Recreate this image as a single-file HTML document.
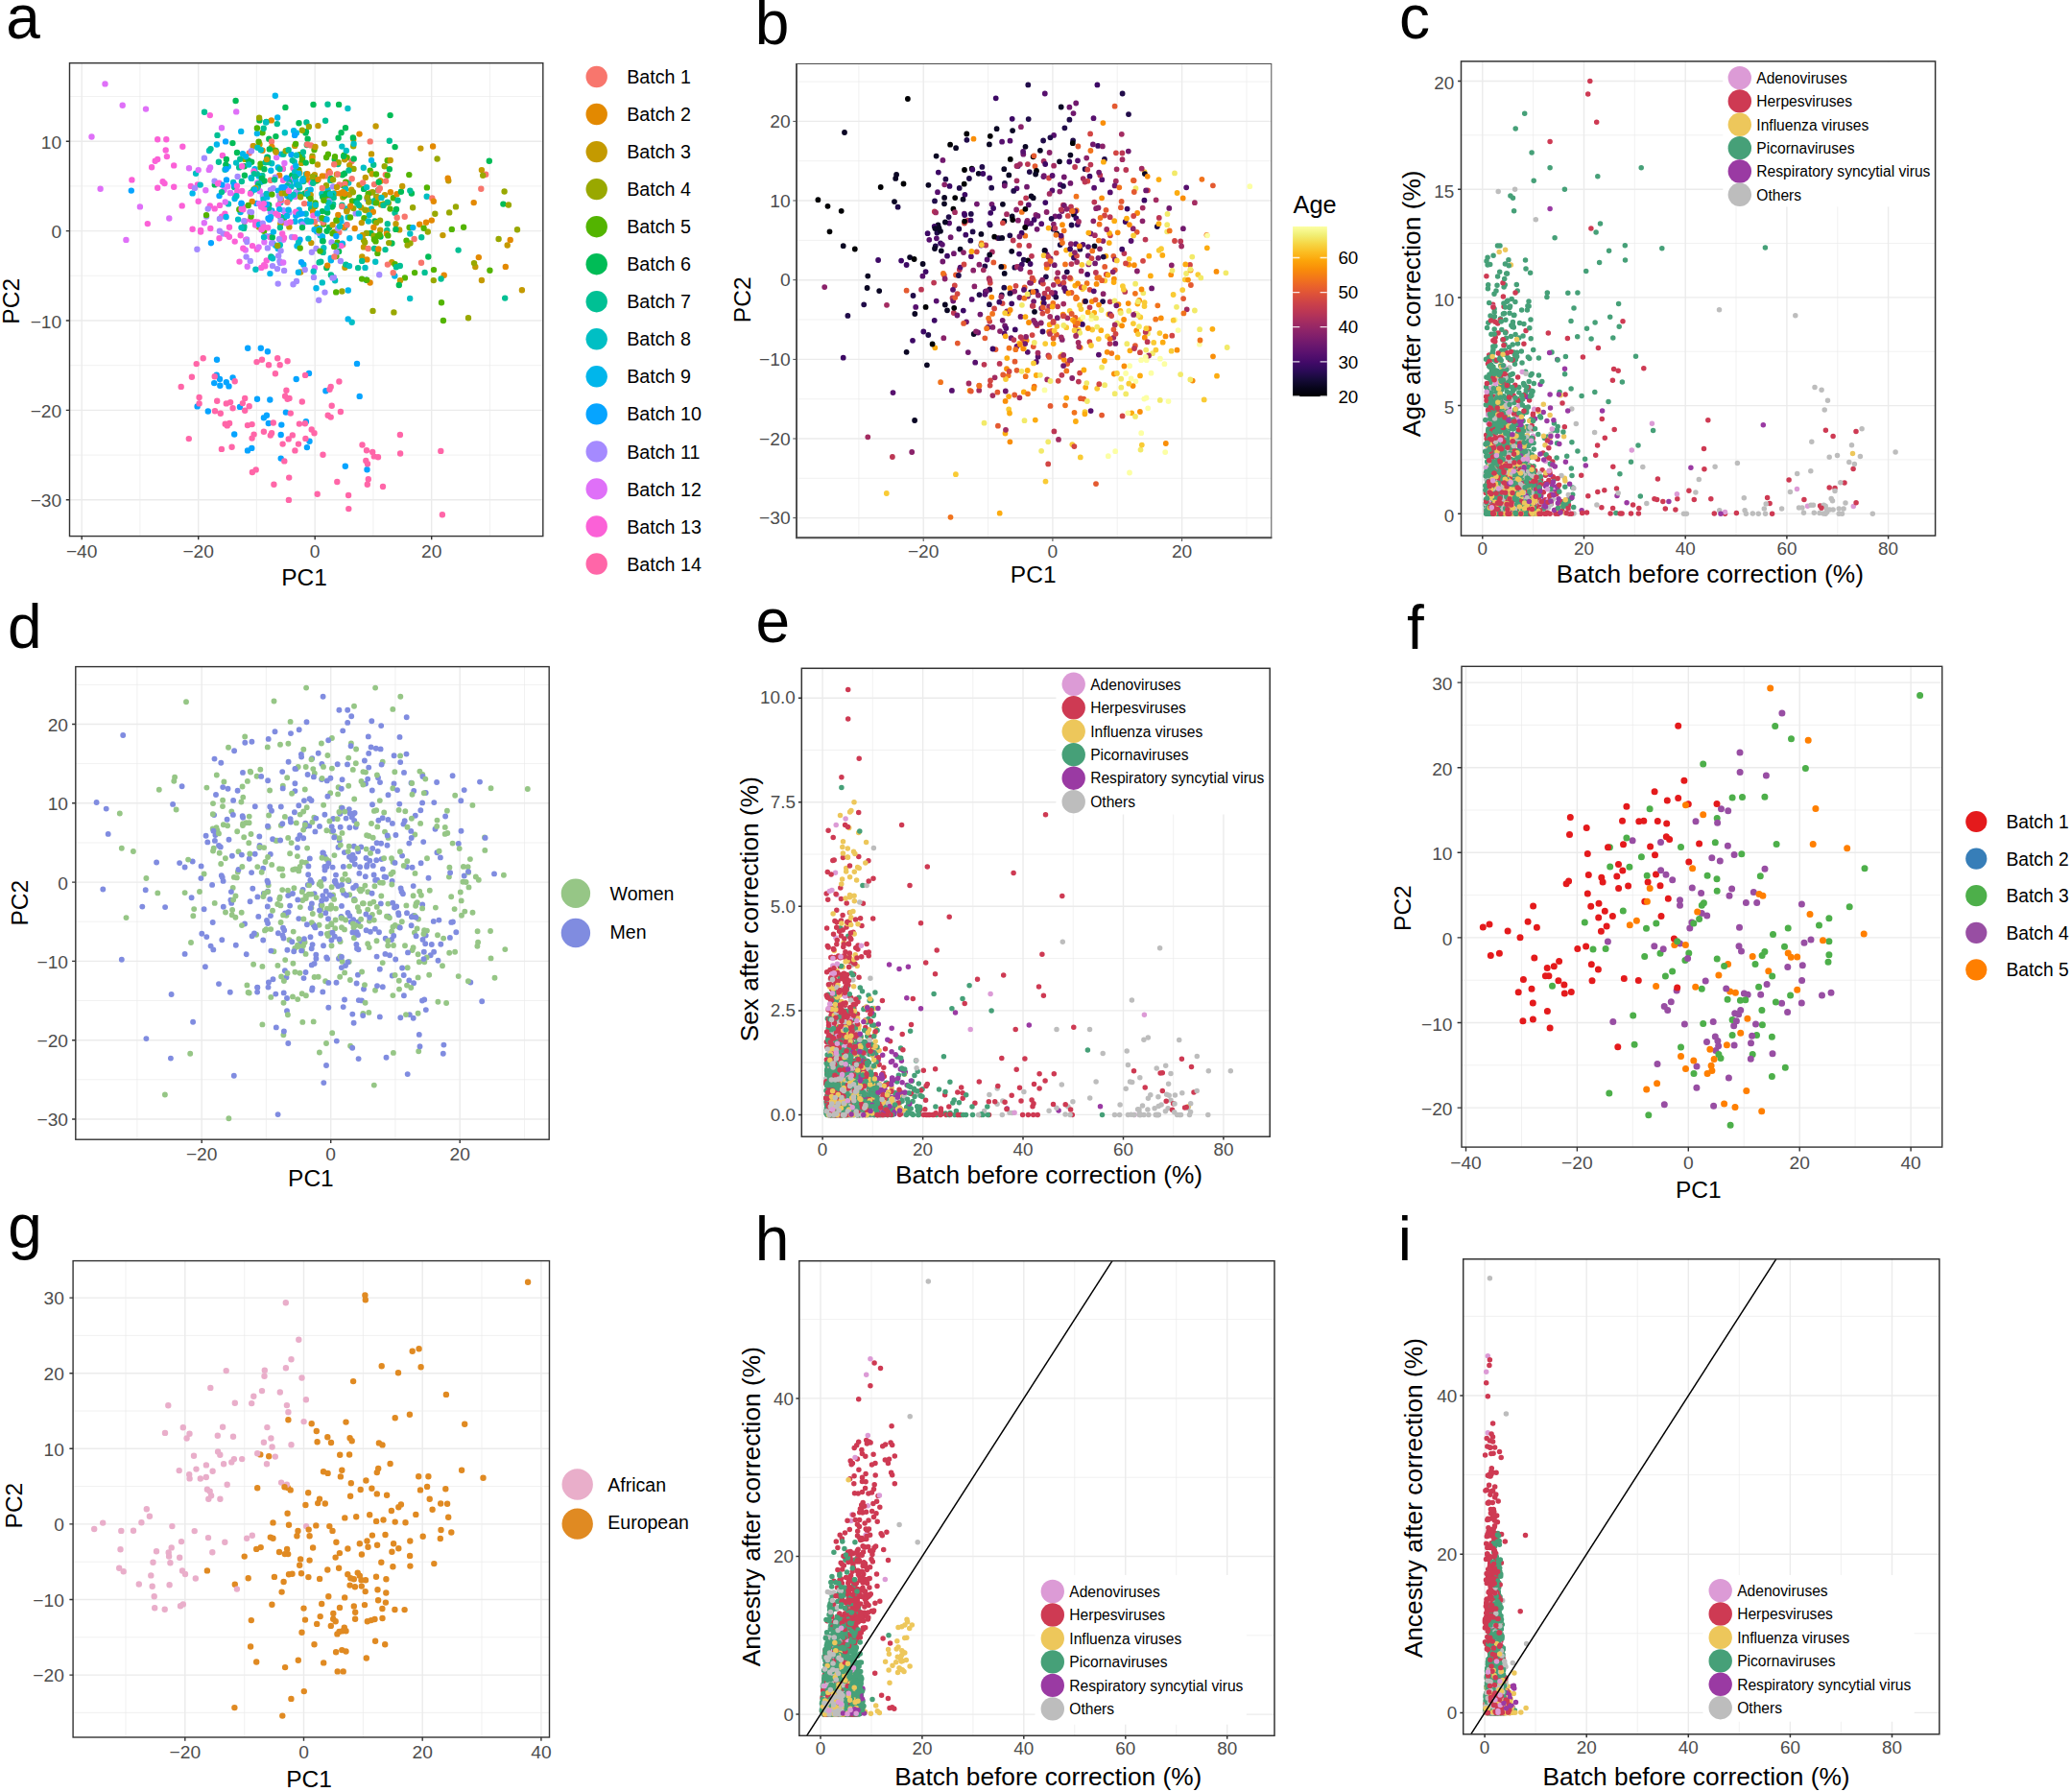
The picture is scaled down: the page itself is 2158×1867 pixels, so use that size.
<!DOCTYPE html>
<html lang="en"><head><meta charset="utf-8"><title>Figure</title>
<style>html,body{margin:0;padding:0;background:#fff}svg{display:block;font-family:'Liberation Sans', sans-serif}</style></head><body>
<svg width="2158" height="1867" viewBox="0 0 2158 1867">
<rect width="2158" height="1867" fill="#fff"/>
<text x="6.3" y="40.4" font-size="64" fill="#000">a</text>
<path d="M145.9 65.7V558.6M267.4 65.7V558.6M388.9 65.7V558.6M510.4 65.7V558.6M72.5 100.5H565.8M72.5 193.9H565.8M72.5 287.3H565.8M72.5 380.7H565.8M72.5 474.1H565.8" stroke="#ebebeb" stroke-width="0.7" fill="none"/>
<path d="M85.2 65.7V558.6M206.7 65.7V558.6M328.2 65.7V558.6M449.7 65.7V558.6M72.5 147.2H565.8M72.5 240.6H565.8M72.5 334H565.8M72.5 427.4H565.8M72.5 520.8H565.8" stroke="#ebebeb" stroke-width="1.4" fill="none"/>

<g fill="none" stroke-linecap="round" stroke-width="6.4">
<path stroke="#06A4FF" d="M303.5 184.6h0M267.3 211.9h0M299.3 204h0M293.1 160.6h0M261.6 185.1h0M303.5 161h0M235.1 147.4h0M219.9 253.2h0M308.3 224.7h0"/>
<path stroke="#00BFC4" d="M444.7 204.8h0M362.6 226.4h0M302.4 191.5h0M349.1 292.2h0M296.8 138.3h0M386.9 217.8h0M335.8 294.4h0M306.8 168.6h0M319 181.5h0M308.4 200.5h0M283.2 170.3h0M294.8 175.9h0M335.4 201.9h0M363.2 190.6h0M390 210.8h0M380.5 278.9h0M243.1 189.9h0M292.3 211h0"/>
<path stroke="#00B6EB" d="M311.7 218.8h0M364.3 248.2h0M289.8 174.4h0M381.8 291.8h0M278.3 163.6h0M286.8 99.7h0M344.9 271.2h0M322.6 212.3h0M283.3 219.4h0M355.4 230.2h0M341.6 197.8h0M313.9 230.7h0M250.6 221.1h0M330.2 241.2h0"/>
<path stroke="#C49A00" d="M350.9 181.6h0M380.8 184.9h0M501.9 177.1h0M327.2 222.8h0M301.4 236.4h0M377.3 267.5h0M382.1 219.3h0M314 169.9h0M376.3 216.2h0M364 202.8h0M324.3 253.1h0"/>
<path stroke="#A58AFF" d="M309.2 200.3h0M273.9 204.3h0M215.1 225.5h0M329.5 258.9h0M296.1 281.9h0M295.4 219.2h0M347.8 289h0M275.7 213.3h0M284.7 196.1h0M370.7 222.4h0M291.4 272.1h0"/>
<path stroke="#99A800" d="M356.4 303.5h0M445.8 241.5h0M519.6 249h0M357.3 205.6h0M255.2 165.9h0M338 149.5h0M475 215.4h0M404.8 211.5h0M539 239.3h0"/>
<path stroke="#00BC56" d="M386.4 243h0M353.1 262h0M356.9 182.2h0M262.2 168.7h0M254.7 173.2h0M223.8 192.4h0M318.5 138.6h0M379.1 196.9h0M296.7 198.9h0M357.3 193h0M270.4 125.4h0M333.9 228.2h0M396.6 188.6h0M390.5 230.5h0M280.3 144.8h0M319 137.2h0M360 133.2h0M319.8 151h0M264.4 197.5h0"/>
<path stroke="#FB61D7" d="M209.1 240h0M269.3 235.9h0M279.6 215h0M305.5 175.3h0M223.7 217.4h0M290.2 213.5h0M267.8 259.7h0M250.7 245.3h0M296.2 194.9h0M277.7 271.4h0M294.7 175.8h0M281.9 228h0M206.7 209.8h0M231.9 161.9h0M219.3 238h0M189.7 214.4h0"/>
<path stroke="#F8766D" d="M353.6 192.4h0M366.7 186.2h0M450.3 206.4h0M431.6 249h0M283 147.5h0M317.1 212.1h0M328 230.9h0"/>
<path stroke="#E38900" d="M320.9 187.2h0M449.8 229.6h0M437.2 233.7h0M444 231.8h0M382.4 270.4h0M342.7 178.4h0M406.9 200.2h0M396.3 188.5h0M526.8 277.9h0M283.3 153h0"/>
<path stroke="#DF70F8" d="M275.4 214.6h0M297.1 223.9h0M212.8 232.2h0M219.1 174.5h0M327.9 278.9h0M255.8 260.5h0M176.3 227.5h0M295.2 249.8h0M214.3 198.2h0"/>
<path stroke="#53B400" d="M426.3 182.1h0M393.4 263.9h0M367 209.5h0M351.5 252.7h0M275.1 240.8h0M441.6 237.7h0M460 315.3h0M461.9 334h0M360.2 189.6h0M360.5 276.8h0M409.8 206.2h0M271.5 170.6h0M271.4 174.2h0M452 281.1h0"/>
<path stroke="#00C094" d="M279.7 169h0M287.6 157.3h0M273.4 182.9h0M341.5 108.7h0M389.2 171.7h0M439.2 247.2h0M312.1 195.6h0M295.4 160.7h0M250.2 165.8h0M405.8 146.7h0M249.2 174.4h0M403.8 233.3h0M347.1 212.8h0M272.2 189.6h0"/>
<path stroke="#00BC56" d="M280.2 213.4h0M343.1 237h0M371.1 209.4h0M258.9 167.2h0M341.2 221.6h0M304.3 182.7h0M335.9 220.1h0M348.7 166h0M254.9 182.8h0M317.4 201.6h0"/>
<path stroke="#DF70F8" d="M246.2 116.4h0M217.8 176.9h0M268.3 190.4h0M305.7 186.5h0M131.4 249.9h0M277.7 215.3h0M307.6 204.9h0M95.5 142.5h0M109.5 87.4h0"/>
<path stroke="#F8766D" d="M386.2 200.7h0M359.4 191.8h0M259.7 159.5h0M357.2 255h0M339.1 183.4h0M353.3 242.1h0M506.2 181.8h0M263.6 152.3h0M401.8 182.1h0M439 273.8h0"/>
<path stroke="#00B6EB" d="M340.8 207.6h0M359.2 237.3h0M356.8 253.6h0M251.7 212.4h0M289.2 122.5h0M298.2 199.2h0M200.6 201.4h0M289.7 259h0"/>
<path stroke="#00C094" d="M477.6 260.6h0M324.1 217.4h0M213 116.7h0M411.5 221.7h0M251.9 189h0M373.1 279.1h0M312.9 202.8h0M346.8 214.3h0M261.8 200.4h0M244.2 195h0M319.4 127.5h0M403.3 239.9h0M315.3 163.9h0M301.5 189.5h0M442.6 283.9h0M301.6 207.4h0M316.3 189.1h0M254.4 235.9h0M401.5 260.1h0M296 227.3h0M390.1 258.9h0M352.1 171h0"/>
<path stroke="#99A800" d="M270.1 122.8h0M368.5 175.9h0M348.3 241.8h0M368.2 152.2h0M392.5 205.4h0M269.9 236.6h0M389.5 245.8h0M383 206.3h0M297.7 157.2h0M430.1 216.2h0M455.6 165.5h0M380.4 218.8h0M314.9 135.8h0M392.1 232.1h0M313.1 205.2h0M359.7 196.1h0M525.6 199.5h0M392.4 208.8h0M321.9 131.9h0"/>
<path stroke="#E38900" d="M282.8 125.4h0M498.8 268.1h0M413.5 202.3h0M326.1 220.4h0M493.7 211.1h0M462.7 286.7h0M374.5 139.6h0"/>
<path stroke="#FB61D7" d="M266.1 234.5h0M245 203.8h0M171.5 191.1h0M229 213.9h0M268.7 231.5h0M173.9 163.1h0M272.3 278.9h0M239 236.8h0M278.4 214.7h0M244.7 251.6h0M253.3 258.7h0M218.8 120.1h0M252.2 173.3h0M164.2 195.8h0M231 225.7h0M198.8 193.9h0M296 247.7h0M153.8 233.1h0M266 231.1h0M355.4 256.1h0M181.2 194.8h0M295 187.8h0"/>
<path stroke="#00BFC4" d="M360.1 197.1h0M333.8 245.3h0M337.3 258.2h0M356.3 152.6h0M238 212.4h0M320.8 198.3h0M366.7 335.7h0M318.7 222.7h0M343.1 210.8h0M259.3 171.5h0"/>
<path stroke="#A58AFF" d="M228.9 227.9h0M332.8 227.5h0M247.6 184h0M277.9 246.1h0M304.1 247h0M228.9 240.7h0M223.6 188.8h0M257.1 249.5h0M289.7 295.6h0M292.6 261.2h0M347.1 194.4h0M315.3 233.6h0M260.4 221h0M284 277.1h0M284.4 253.3h0"/>
<path stroke="#53B400" d="M350.4 267.1h0M341.1 204.4h0M377.1 290.6h0M311.4 176.9h0M406.5 217.6h0M361.6 164.2h0M342 209.9h0M385.7 177.6h0M421.9 289.4h0M426.6 237h0M359 204.1h0M342.7 201.4h0M349 163.3h0"/>
<path stroke="#C49A00" d="M359.1 166.3h0M528.7 255.5h0M417 292.3h0M416.2 239.4h0M379 257.4h0M401 203.1h0M368.3 144.9h0M359.4 278.7h0M348.6 201.8h0M397 213.2h0"/>
<path stroke="#06A4FF" d="M244.1 192.4h0M361 234.5h0M309 192h0M272.8 188.7h0M280.6 228.8h0M282.3 246.2h0"/>
<path stroke="#C49A00" d="M264.1 152.3h0M312.2 180.1h0M366.2 197.6h0M313.2 283.5h0M330.2 236.9h0M408.3 273.3h0M351 194.9h0M331.4 131.1h0M412.5 233.2h0M270.5 150.3h0M387.7 181.2h0M346.6 234.3h0M327.9 182.1h0M374.4 192.6h0"/>
<path stroke="#00B6EB" d="M282.8 268.2h0M270.1 233.9h0M411.3 287.5h0M332.9 238.1h0M291.2 218.1h0M244.6 207h0M303.5 204.7h0M273 212.6h0M265.5 176.3h0M430.3 237.1h0M225.9 150.5h0M319.8 229.4h0M309.5 256.2h0M269.7 183.4h0"/>
<path stroke="#E38900" d="M349.5 201.4h0M451.1 152.5h0M385.6 294.5h0M394.3 259.4h0M358.3 236.7h0M388.8 220.8h0M402.9 243.5h0M291.2 182.6h0M451.8 209.7h0M262.7 209.9h0"/>
<path stroke="#A58AFF" d="M273.8 232.8h0M212.9 164.8h0M382.5 207.4h0M262 157.3h0M354.9 272h0M281.9 221.3h0M332.5 242.8h0M338.5 304.6h0M301.5 221.2h0M300.7 192.6h0M232.5 243.5h0M291 249h0M289 280.1h0M281.9 197.9h0M350.6 262.7h0"/>
<path stroke="#99A800" d="M392.3 204.9h0M367.9 200.3h0M350.9 230h0M340 193.3h0M325.5 162.8h0M400 212.5h0M379 250.3h0M322.5 198.7h0M427.5 253.4h0M381.9 242.9h0M361.7 218.6h0M388.3 200.3h0M400.7 173.3h0M451.8 292.1h0"/>
<path stroke="#00C094" d="M390.1 209.2h0M336.7 262.9h0M288.8 129.1h0M280 216.8h0M291.5 176.1h0M282.4 267.4h0M292.3 225.9h0M399.5 213.9h0M356.4 213.7h0M299.5 193.5h0M227.9 168.7h0M459.6 290.5h0M344.9 286.5h0M254.1 237.9h0M269.2 191.5h0M334.3 272.7h0"/>
<path stroke="#FB61D7" d="M287.4 222.6h0M281.6 247.3h0M137.4 187.4h0M190.3 152.8h0M255.1 230.5h0M228.3 190.7h0M308.2 220.7h0M240 201.1h0M169.6 189.2h0M261 228.8h0M293.2 208.9h0M209.1 241.5h0M228.5 248.2h0M275 236.5h0"/>
<path stroke="#53B400" d="M328.6 211.4h0M312.7 258.5h0M333.5 261.6h0M411.6 275.2h0M327.5 156h0M329.6 188.6h0M392 181.5h0M389.9 249.5h0M483.1 236.8h0M249.3 218.3h0M286.7 156.6h0M340.1 164h0M403.7 182.8h0M346.5 243.3h0M382.2 291.7h0M312 161.1h0M294.5 231.2h0M273.5 138.3h0M314.9 166.4h0"/>
<path stroke="#F8766D" d="M320.1 200.6h0M390 192.1h0M501.3 196.7h0M402.1 188.6h0M383.7 259h0M385.7 147.4h0M405.5 167.2h0M421.7 225.7h0M361.6 234.3h0M366.5 168h0"/>
<path stroke="#00BC56" d="M309.2 182.4h0M394.7 189.7h0M352.6 143.7h0M412.4 238.9h0M331.1 187.6h0M340.3 279h0M406.6 120.1h0M272.7 185.6h0M396.5 246.6h0M326.5 109h0M247 159h0M428.9 201.5h0M321.9 204.4h0M405.8 176.3h0M344.9 185.9h0M275.4 176.3h0M245.6 105h0"/>
<path stroke="#00BFC4" d="M391.2 272.8h0M368.6 149.8h0M268.4 153.7h0M274.5 207.6h0M320.9 230.9h0M321.4 248.6h0M384.7 224.1h0M355.1 227.3h0M347.4 201.8h0M218 157h0"/>
<path stroke="#DF70F8" d="M288.1 164.1h0M270.8 199.2h0M127.7 109.8h0M104.6 196.7h0M269.6 257.4h0M298.3 232.4h0"/>
<path stroke="#06A4FF" d="M298.5 185.5h0M236 187.4h0"/>
<path stroke="#00B6EB" d="M311.4 223.2h0M267.9 139.1h0M253 160.2h0M344.7 269h0M387 167.1h0M237.8 173.6h0M329.5 300.3h0M282.1 226.1h0M307.6 230.8h0M299.1 224.9h0M311.5 192.5h0M310.9 283.8h0M282.3 177.7h0M323.7 197.7h0M287.2 255.8h0M316.3 275.7h0"/>
<path stroke="#DF70F8" d="M275.4 252.3h0M233.5 198h0M256.1 250h0M269.9 212.1h0M257.7 277.8h0M197 175.2h0"/>
<path stroke="#FB61D7" d="M247.2 199h0M173.3 145.3h0M260.9 201.8h0M249.5 272.6h0M200.6 238.7h0M218.8 214.4h0M275.2 217.2h0M326.4 224.6h0M272.4 239.2h0M324.5 190.6h0M263 256.1h0M234.4 222.8h0M253.6 215.8h0M205.9 192.5h0M172.7 156.5h0M164.2 145.3h0"/>
<path stroke="#00BC56" d="M279 163.9h0M359.1 180.8h0M411.6 153.1h0M413 217.9h0M415.8 297h0M268.7 194.2h0M320.6 144.7h0M368.7 165.4h0M408.4 253.5h0M280.8 155.4h0M311.5 128.3h0M297.4 111.9h0M275.6 188.5h0M509.8 167.7h0M524.4 212.6h0M345.7 203.8h0M346 215.5h0M394 198.2h0M235.3 171.6h0M374.3 205.7h0M446.3 267.5h0M277.5 127h0M339.9 201.8h0M242.4 149.1h0M287.4 142.1h0"/>
<path stroke="#C49A00" d="M364.2 172.1h0M323.7 203.1h0M331 171.5h0M501.9 292h0M377.8 245h0M307.2 151.9h0M292.3 233.1h0M396.2 239.8h0M543.9 302.2h0M393.9 205.9h0M495.3 278h0"/>
<path stroke="#00C094" d="M267.8 181.1h0M274.7 133.8h0M326.6 185.9h0M526.2 310.6h0M347.7 206.1h0M332.6 273.4h0M344.3 187.9h0M219.5 155.1h0M403.8 210.6h0M360.4 275.6h0M412.9 278.3h0M300.6 156.2h0M414.5 208.7h0M363.5 177.5h0M315.9 158.4h0M226.5 140.9h0M326.2 190.8h0"/>
<path stroke="#53B400" d="M395.6 244.5h0M258.7 214h0M470.8 238.9h0M358.6 161.7h0M267.9 133.4h0M423.5 250.6h0M337.2 233.6h0M383.7 202h0M379.4 227.2h0M393.7 245.8h0M261.6 225.5h0M341.9 160.8h0M269.6 147.8h0"/>
<path stroke="#06A4FF" d="M279.5 227.4h0M312.5 249.7h0M277.9 212.8h0M228.5 204.1h0M314 273.1h0M314.5 222.6h0"/>
<path stroke="#99A800" d="M468.2 221.4h0M347.1 187.2h0M453.3 222.7h0M368.3 217.1h0M388.5 323.9h0M352.7 169.2h0M328.3 214.9h0M380.2 252.4h0M410.4 325.4h0"/>
<path stroke="#00BFC4" d="M326.7 282.7h0M267.8 195.9h0M284.1 269.3h0M277.1 127.5h0M383.9 230.5h0M246.4 204.2h0M315.7 186.2h0M204.1 180.7h0M320.4 201.9h0M305.9 203h0M303.5 194.6h0M328.9 213.5h0M307.2 179.1h0M397.5 205.9h0M344 202.2h0M378.8 174.7h0M248.1 228.6h0M311.1 252.4h0M427.3 243.5h0M234.5 176.7h0"/>
<path stroke="#F8766D" d="M299.4 210.7h0M378.2 190.5h0M336.7 231.7h0M403.9 275.6h0M409.7 284.2h0M320.2 150.5h0M348.4 267.5h0"/>
<path stroke="#E38900" d="M352.3 223.9h0M292.7 207.4h0M354.3 201.4h0M389.4 236.9h0M273.5 156.8h0"/>
<path stroke="#A58AFF" d="M257.2 252h0M205.4 259.7h0M256.6 267.6h0M202.9 195.9h0M305.5 296.2h0M254.2 230.1h0M324.9 262.7h0M345.5 252.5h0M346.5 289.6h0M292.3 206.7h0"/>
<path stroke="#FB61D7" d="M251.6 217.8h0M275.1 276.2h0M294.2 243.4h0M161.7 167.7h0M252.2 199h0M236.5 244.2h0M279.2 237.2h0M164.2 165.9h0M289.8 224.2h0M253.3 218.2h0M274.8 212.1h0M247 193.6h0M264.4 178.5h0M158.1 174.3h0M276.3 277.2h0M181.2 172.4h0M273.3 238.3h0M307.2 247.2h0M272.1 215.5h0"/>
<path stroke="#00B6EB" d="M374.8 246.7h0M278.3 205.4h0M330.8 222.4h0M308.2 187.7h0M306.1 136.2h0M315.1 187.9h0M308.9 138.5h0M256.2 163.1h0M289.8 198.6h0M251.2 136.9h0M311.4 180.7h0M336 246.5h0M235.6 226h0M281.4 285.1h0M327.6 239.2h0M300.6 218.7h0"/>
<path stroke="#00C094" d="M384 209.1h0M264.8 181.1h0M416.8 277h0M304.7 167.1h0M307.2 183.9h0M338.4 228.3h0M427.3 198.6h0M350.2 255.8h0M377.2 271.9h0M339.1 125.7h0M276.6 169.2h0M372.3 211.7h0M291.9 237.1h0"/>
<path stroke="#A58AFF" d="M290.2 266.5h0M216.7 217.6h0M260.8 272h0M278.9 258.4h0M395.2 286.2h0M309 293h0M327 288.9h0M290.8 204h0M292.6 230h0M317.7 281h0M298.1 196.6h0M342.6 209.4h0M286.8 184.6h0M352.1 238h0"/>
<path stroke="#00BFC4" d="M336 250.9h0M251.5 237.1h0M323.9 230.8h0M308.9 161.8h0M246.1 169.6h0M341.1 216.8h0M266.4 280.8h0M310.3 192.7h0M291.8 255.2h0M342.3 211.1h0M208.7 192.6h0M373.8 222.4h0M262.1 185.9h0M382.1 195.1h0M353.9 235.8h0M360.8 156.9h0M271.8 156.2h0M364 277.1h0M427.2 311h0M277.7 201.9h0M362.4 113h0M361 217.4h0"/>
<path stroke="#00BC56" d="M336.2 205.1h0M355.6 138.2h0M340.6 240.7h0M358.1 162.8h0M327.7 185.4h0M283.8 247.3h0M318.7 169.6h0M336.6 251.3h0M235.9 166h0M417.9 199.7h0M353.1 108.9h0M367.9 143.5h0M315 237.1h0"/>
<path stroke="#06A4FF" d="M231.5 192.6h0M251.5 211.8h0M350.3 246h0"/>
<path stroke="#F8766D" d="M281.9 187.8h0M395.8 196.3h0M356.3 215h0M343.9 180.1h0M351.9 181.5h0M335.8 196h0M394.4 198.3h0"/>
<path stroke="#E38900" d="M335.8 183.4h0M531.7 249.9h0M325.4 165h0M320.3 181.3h0M357.3 200.3h0M365.1 214.7h0M369.7 238h0M341.2 276.6h0"/>
<path stroke="#53B400" d="M350.2 304.4h0M432.1 284.1h0M308.1 149.9h0M335.5 227.1h0M325.5 168.1h0M403.7 167.3h0M404.3 245.4h0M510.4 281.7h0M350.4 229.4h0M323.6 207h0M391.9 211.4h0M348.2 256.9h0M337.4 208.7h0M365 226.5h0M332.6 240.3h0M444.9 195.4h0"/>
<path stroke="#DF70F8" d="M296.4 169.9h0M206.7 177.1h0M240.2 201h0M234.7 210.5h0M237.3 194.3h0M152 113.6h0M231 133.2h0M145.9 215.4h0"/>
<path stroke="#C49A00" d="M438.3 154.6h0M293.6 201.4h0M361.3 220.3h0M376.8 232.1h0M266 196.1h0M461.4 245.1h0M391.6 131.5h0M467.3 188.3h0M419.2 194h0M406.7 166.9h0M287.6 158.5h0"/>
<path stroke="#99A800" d="M382.6 205.6h0M297.3 201.4h0M424.6 255.6h0M384.2 210.5h0M289.2 256h0M503.2 182.7h0M396.1 229.6h0M488 331.2h0M405.2 253.1h0M325.8 184h0M529.9 213.5h0"/>
<path stroke="#E38900" d="M466.7 185.7h0M359.1 201.7h0M331.4 186.9h0"/>
<path stroke="#A58AFF" d="M283.1 253.5h0M262 221.1h0M332.2 312.7h0M292 274.1h0"/>
<path stroke="#06A4FF" d="M293.5 195.2h0M136.8 198.6h0M296.5 195.1h0M307.1 140.9h0M235.7 176.1h0M258.2 362.7h0M271.8 362.7h0M278.9 366.3h0M226 374.8h0M225.7 390.6h0M229 395h0M223.2 399.1h0M229.3 401.7h0M235.8 398.3h0M238.5 402.4h0M242.6 393.4h0M372 378.9h0M322 388.9h0M308.7 395h0M339.4 407.3h0M374.7 412.9h0M268 415.8h0M281.3 416.5h0M205.6 423.4h0M216.8 428.5h0M250 423.9h0M297.9 429.6h0M277.9 432.8h0M274.9 435.2h0M279.8 441h0M318.9 439.3h0M293.3 442.6h0M292.7 453h0M244.2 452.5h0M322.5 459.8h0M319.9 466.1h0M262.3 466.9h0M258 469.4h0M292.7 477.6h0M359.8 485.8h0M382.5 489.2h0"/>
<path stroke="#53B400" d="M215 224.1h0M283.4 202.6h0M391.5 251.4h0"/>
<path stroke="#00B6EB" d="M284.9 241.6h0M308.3 173h0M362.8 302.5h0M340.5 228.5h0M362.7 332.4h0M265.4 197.4h0"/>
<path stroke="#00C094" d="M374.1 213.9h0M231 200.1h0M286.1 187.3h0"/>
<path stroke="#FB61D7" d="M227.1 191.4h0M238.9 246.7h0M300.9 198.9h0M302.6 231.4h0"/>
<path stroke="#00BFC4" d="M275 247.1h0"/>
<path stroke="#DF70F8" d="M295.2 273.5h0"/>
<path stroke="#F8766D" d="M413.7 226.8h0M324 151.4h0M348.2 171.3h0"/>
<path stroke="#C49A00" d="M277.9 166.1h0M328.5 153h0M387 160.4h0"/>
<path stroke="#99A800" d="M494 274.1h0"/>
<path stroke="#FF66A8" d="M211.7 373.3h0M204.7 379.1h0M199.9 392.7h0M188.7 402.9h0M207.6 414h0M207.6 420.4h0M226.2 417.8h0M235.8 420.4h0M240.1 419.1h0M242.6 425.2h0M224 428.2h0M229.8 430.8h0M255.2 414.9h0M252.9 420.1h0M259.7 423.2h0M255.2 427.7h0M223.7 392.2h0M244.7 397.3h0M267.5 377.1h0M273 374.8h0M280 380.2h0M289.2 373.3h0M291.7 380.2h0M299.6 376.3h0M286.9 389.3h0M318.1 390.9h0M298.4 406.7h0M297.1 412.7h0M301.5 414.9h0M299.6 415.8h0M314.8 418.5h0M353.4 397.5h0M344.7 402.9h0M343.5 405.7h0M345.7 422.7h0M354.9 429h0M341.7 432.8h0M344.7 434.6h0M302.8 430.6h0M234.7 441.8h0M239.1 441h0M236.8 443.4h0M258 443.1h0M262.6 442.1h0M284.8 440.5h0M311.9 441.6h0M317.9 441.3h0M324.7 447.5h0M327.5 451.3h0M274.9 449.7h0M283.1 451.3h0M281.8 453.6h0M264.6 452.6h0M262.6 456.6h0M304.8 453.4h0M300.7 457.4h0M318.4 456.9h0M311 462.6h0M294.6 462.6h0M307.4 469.4h0M196.8 457.1h0M230.9 467.9h0M241.6 465.8h0M336.5 473.8h0M296.3 480.4h0M266.7 489.4h0M262.9 492h0M301.2 497.6h0M285.4 504.7h0M300.9 520.9h0M330.7 514.8h0M351.3 502h0M363.1 516h0M363.3 530.1h0M377.5 463.5h0M382 469.2h0M388.2 471h0M389.8 475.4h0M394 476.3h0M381.3 479.9h0M383 483.2h0M383.8 499.3h0M382.8 504.7h0M399 507h0M416.9 453h0M417.1 472.5h0M459.3 469.9h0M460.9 536.2h0"/>
</g>

<rect x="72.5" y="65.7" width="493.3" height="492.9" fill="none" stroke="#333" stroke-width="1.4"/>
<path d="M85.2 558.6v3.7M206.7 558.6v3.7M328.2 558.6v3.7M449.7 558.6v3.7M72.5 147.2h-3.7M72.5 240.6h-3.7M72.5 334h-3.7M72.5 427.4h-3.7M72.5 520.8h-3.7" stroke="#333" stroke-width="1.4" fill="none"/>
<g font-size="19.2" fill="#4d4d4d">
<text x="85.2" y="580.9" text-anchor="middle">−40</text>
<text x="206.7" y="580.9" text-anchor="middle">−20</text>
<text x="328.2" y="580.9" text-anchor="middle">0</text>
<text x="449.7" y="580.9" text-anchor="middle">20</text>
<text x="64.2" y="154.7" text-anchor="end">10</text>
<text x="64.2" y="248.1" text-anchor="end">0</text>
<text x="64.2" y="341.5" text-anchor="end">−10</text>
<text x="64.2" y="434.9" text-anchor="end">−20</text>
<text x="64.2" y="528.3" text-anchor="end">−30</text>
</g>
<text x="317" y="609.7" font-size="24.5" text-anchor="middle" fill="#000">PC1</text>
<text transform="translate(19.5 313.8) rotate(-90)" font-size="24.5" text-anchor="middle" fill="#000">PC2</text>
<text x="786.8" y="46.1" font-size="64" fill="#000">b</text>
<path d="M894.9 66.5V560.3M1029.6 66.5V560.3M1164.2 66.5V560.3M1299 66.5V560.3M830 85.1H1324.8M830 167.7H1324.8M830 250.4H1324.8M830 333H1324.8M830 415.7H1324.8M830 498.3H1324.8" stroke="#ebebeb" stroke-width="0.7" fill="none"/>
<path d="M962.2 66.5V560.3M1096.9 66.5V560.3M1231.6 66.5V560.3M830 126.4H1324.8M830 209H1324.8M830 291.7H1324.8M830 374.4H1324.8M830 457H1324.8M830 539.6H1324.8" stroke="#ebebeb" stroke-width="1.4" fill="none"/>

<g fill="none" stroke-linecap="round" stroke-width="5.8">
<path stroke="#57106e" d="M1059.5 196.3h0M1011.9 267.2h0M989.1 232.5h0M1074.4 232.8h0M1136.6 428.1h0M1070.8 366.8h0M1046.6 347.3h0M1128.4 254.8h0M975.9 248.3h0M1148.3 187.2h0"/>
<path stroke="#0b0724" d="M1046.7 284.9h0M933.2 185.9h0M948.1 268.1h0M967.4 192.8h0M1019.7 180.8h0"/>
<path stroke="#fcffa4" d="M1183.4 397.3h0M1162.2 470.2h0M1167.5 338.1h0M1189.1 375.2h0M1194.7 375.2h0M1173.1 389h0M1227.6 344.1h0"/>
<path stroke="#71196e" d="M1089.1 261.1h0M1133.8 266.5h0M1162.3 357.9h0M1121.2 107.5h0M1144.4 268.8h0M1063.5 329.9h0M1141.1 274.4h0M1136.6 243.4h0M1090.8 265.1h0M1099.5 225.3h0M1047.8 407.5h0M982.3 272.5h0"/>
<path stroke="#d24644" d="M1136.1 139.4h0M1224 251h0M1097.6 334.9h0M1086.4 326.6h0M1151 224.5h0M1080.6 339.2h0M1065.6 354.4h0M1116.8 219.8h0M1196 198.3h0M1058.5 297.8h0M1032 396.5h0M1135.4 356.2h0M1169.6 433.4h0M1044.6 316.1h0M1191 271.8h0"/>
<path stroke="#f2ea69" d="M1236.1 285h0M1201 368.2h0M1164 336.7h0M1277.4 284.3h0M1216.1 241.3h0M1230.1 390.1h0M1092.2 460.3h0M1025.5 440.7h0M1173.2 410.4h0M1067.1 362.9h0M1106.7 369.4h0"/>
<path stroke="#e45a31" d="M1105.2 371.7h0M1067.7 299.5h0M1094.5 422.9h0M1120.5 331h0M1183.3 326.8h0M1039.9 443.7h0M1160.3 266.8h0M1129.2 415.6h0M1101 348.6h0M1182.9 360.2h0M1161.6 110.7h0"/>
<path stroke="#bc3754" d="M992.5 310.5h0M1230.2 251.4h0M1008.5 229.6h0M993.8 326h0M1102.1 319.3h0M1039.6 248.1h0M973.8 220.5h0M1106.4 390.8h0M999.8 281h0M1207.8 226.9h0M960 301.7h0M1107.9 213.7h0M1193.5 249.6h0"/>
<path stroke="#a32c61" d="M924 317.8h0M1062.4 414.3h0M975.1 221.4h0M1098.1 172.7h0M1236.7 322.3h0M1034.4 412.1h0M904.3 455.3h0M1036.6 393.3h0M1108.7 329.1h0"/>
<path stroke="#f1731d" d="M1143.3 289.5h0M1034.1 326.9h0M1121.3 309.7h0M1111.3 386.4h0M1050.7 391.3h0M1097.3 315.9h0M1051.5 362.7h0M1257.4 244.8h0M1077.7 402.6h0M1206.3 318.3h0M1122.1 310.6h0"/>
<path stroke="#fcac11" d="M1131.2 403.6h0M1066.8 408.4h0M1207.5 187.1h0M1226.6 201h0M1155.3 327.4h0M1211.7 356.7h0M1120.3 297.6h0M1047.5 451.5h0"/>
<path stroke="#3d0965" d="M1079.8 303.7h0M1031.2 185.5h0M1086.5 345.5h0M962.3 345.5h0M966.6 243.2h0M1037.7 102.3h0M915.1 271h0M980 253.3h0"/>
<path stroke="#210c4a" d="M1150.9 165.9h0M1030.9 317.2h0M900.2 317.3h0M1116.6 234.5h0M1111.8 283.3h0M1046.3 299.7h0M1149.1 314.1h0M1026.3 277.3h0M974.8 256.3h0M1118.1 146.3h0M1130.6 176.2h0"/>
<path stroke="#8a226a" d="M1090.6 221h0M950.2 471h0M1134.4 275.4h0M1104.3 199.6h0M1015.4 298.4h0M1079.4 223.9h0M1156.8 327.5h0M1190.5 230.3h0"/>
<path stroke="#f98e09" d="M1101 290.8h0M1175.7 316.1h0M1069.7 354.6h0M1264 371.3h0M1137.8 314.1h0M1226.5 364.7h0M1242.7 396.6h0"/>
<path stroke="#000004" d="M852.4 208.2h0M862.5 214.8h0M994.2 320.8h0M952.6 270h0M1004.7 191.7h0M945.9 103h0M993.4 217.7h0M890.8 259.5h0"/>
<path stroke="#f9cb35" d="M1111.2 341.2h0M1143.2 404.8h0M1051.2 426.4h0M1144.8 353.1h0M1137 360h0M1169.9 298.1h0"/>
<path stroke="#f2ea69" d="M1191.3 305.3h0M1067.5 438.2h0M1240.3 395.4h0M1183.1 295.7h0M1085.1 469.8h0M1064.9 317.8h0M1224 180.4h0M1196 347.4h0M1188.5 468.6h0"/>
<path stroke="#d24644" d="M1031.8 294.8h0M983.8 286.6h0M1162.9 159.3h0M1187.9 367.2h0M1125.1 388.6h0M1102.7 396.8h0M1092.2 483.4h0M1062.1 255.7h0"/>
<path stroke="#0b0724" d="M1119 223.7h0M1115.4 161.6h0M1022.4 243.9h0M984 212.3h0M916.2 303.1h0M1051.3 182.4h0M934.1 181.9h0M984.8 317.5h0"/>
<path stroke="#f98e09" d="M1033.3 309.6h0M1010.6 407h0M1240.6 281.5h0M1049 384.2h0M1187.1 313h0M1066.2 363.3h0M1184.2 344.4h0M1142.6 295.9h0M1052.2 300.2h0M1171.1 333h0M1220.2 286.2h0M1176.2 275.7h0M1125.7 362.1h0M1160.9 389.5h0"/>
<path stroke="#3d0965" d="M964.6 283.1h0M1026.9 303.6h0M1062 264.6h0M1174.6 217.6h0M1135.5 183.7h0M1114.3 168.5h0M1122.9 234h0M1062.4 277.9h0M1064.8 275.6h0M1192.4 208.7h0M1172.7 231h0M1121.4 227.4h0"/>
<path stroke="#fcac11" d="M1147.3 344.2h0M1179.2 430.3h0M1086.7 315.6h0M1111.1 260.6h0M1198.9 287.4h0M1117.9 333.3h0M1079.8 391h0"/>
<path stroke="#bc3754" d="M973.1 294.6h0M1073.3 283.7h0M1041.6 378.9h0M1146.3 182.4h0M1123.9 397.6h0M1025.5 379.8h0M1135.5 320.3h0M929.9 476h0M1053.5 304.8h0M1172.2 303.9h0M1031.1 301.4h0"/>
<path stroke="#000004" d="M1071.1 271.3h0M917.7 195h0M1036.2 246.7h0M876.7 219.8h0M1031.8 141.8h0M941.5 191.5h0M1117.8 149.2h0M990.1 150.7h0M1007.3 139.5h0"/>
<path stroke="#f9cb35" d="M1127.4 275.8h0M1207.7 260.8h0M1062.1 357.7h0M1128.1 301h0M1234.8 291.3h0M1125.8 476.4h0M1154 350.5h0M995.9 494.2h0M1188.3 330.4h0M1138.2 343.5h0M1192.6 179.1h0M1125.1 317.9h0M1089.2 358.1h0M1116.3 265.3h0M1176.6 269.8h0"/>
<path stroke="#a32c61" d="M1030.6 290.2h0M1204.6 208.3h0M1160.3 351.8h0M1009.5 399.5h0M1168.8 139.8h0M1124.3 361.2h0M1123.6 356.8h0M1087.6 167.9h0M1190.7 216.6h0M1092.7 275.4h0M1161.7 338.5h0"/>
<path stroke="#f1731d" d="M980.1 398.2h0M1022.7 253.4h0M1076.9 292.2h0M982.9 284.9h0M1182.9 305.8h0M1110 275.4h0M1068.3 245.7h0M1046.1 277.9h0M1121.5 204.7h0M1180.9 187.9h0M1146.6 227h0M1093.1 345.7h0"/>
<path stroke="#57106e" d="M1099.3 305.1h0M1104.8 192.3h0M954.2 319.9h0M1123 167.3h0M1097.9 306.4h0M977 200.2h0M1060.8 173h0M961.4 287.7h0M1134 257.1h0M1044.1 147.7h0M1121 254.2h0"/>
<path stroke="#71196e" d="M1115.4 190.9h0M1108.9 214.2h0M1108.8 184.5h0M1232.9 238.2h0M1175.8 157.6h0M1021.4 327.6h0M1077.1 314.1h0M1033.5 212.8h0M993.2 313.6h0"/>
<path stroke="#e45a31" d="M1059.5 385.8h0M1057.2 411.5h0M1116.5 305h0M1057.5 376.7h0M1037.5 364.1h0M1039.4 408.7h0M1075.6 289.6h0M1035.3 273.4h0"/>
<path stroke="#8a226a" d="M983.3 352.2h0M1139.3 230.3h0M1097.9 233.6h0M1104.5 295.9h0M1059.1 218.5h0M1094.6 269.5h0M1149.4 251.1h0M1084.8 336.5h0M1069.1 351h0"/>
<path stroke="#210c4a" d="M1089.9 288.3h0M1071.3 88.4h0M974 209.4h0M1023.4 173.9h0M1011.8 222.9h0"/>
<path stroke="#fcffa4" d="M1214.2 471.1h0M1213.4 379.2h0"/>
<path stroke="#8a226a" d="M1070.5 230h0M1106.8 353.9h0M1042 345.1h0M859.2 299.1h0M1142.1 217.2h0M1077.1 334h0M1144.5 216.5h0M1078.8 336.3h0M1184.9 282.5h0M1063.9 132.2h0M1070.9 308.7h0M1161.8 270.4h0M1060.9 229.7h0"/>
<path stroke="#f1731d" d="M1119.5 429.8h0M1071 410.3h0M1121.8 219.2h0M1144.9 250.6h0M990.5 538.8h0M1132.6 295.2h0M1145.3 289.2h0"/>
<path stroke="#0b0724" d="M1088.5 260.9h0M1101.1 243.5h0M1044.9 212.8h0M974 259h0M1000.6 259.7h0M1054.2 261.8h0M1192.9 181.1h0M975.6 162.6h0M880 138h0"/>
<path stroke="#000004" d="M1076.6 163.3h0M964.6 319.9h0"/>
<path stroke="#fcac11" d="M1120.9 439h0M1115.7 290.6h0M1134.3 242.6h0M1140.2 325.8h0M1051.1 413.1h0M1174 227.6h0M1078.8 437.6h0M1052 430.5h0M1185.4 316.5h0M1152.4 266.8h0M1111.2 414.6h0M1068.5 330.1h0M1047.7 350.3h0"/>
<path stroke="#210c4a" d="M1205.8 236.1h0M1020.5 307.1h0M1074 304.4h0M1176 119.1h0M1031.3 301.7h0M1043.8 307.4h0M1149.8 267.6h0M1108 193.9h0M1046.9 190.9h0M985.4 186.7h0M1052.3 245.3h0M1097.6 238.7h0M1040.9 248.2h0M1009.9 186h0M935.6 215.7h0M1031.7 234.3h0"/>
<path stroke="#e45a31" d="M1160.4 343.3h0M1106 248.2h0M1077.4 162.3h0M1078.5 173.2h0M1168.6 209.9h0M1151.2 277.9h0M1076.8 361.1h0M1233.1 311.1h0M1161.8 281.3h0M1095.8 344.9h0M1126 415.2h0"/>
<path stroke="#71196e" d="M993.9 264.2h0M1080.6 238.8h0M1084.8 293.9h0M1017.9 212.6h0M1059.5 360.9h0M1044.7 333.8h0"/>
<path stroke="#a32c61" d="M1128.7 186.1h0M1101.5 290.3h0M1020.2 406.7h0M1163.6 176.3h0M1197 370.5h0M1059.5 188.3h0M1095.7 305h0M1162.8 188.7h0M1091.2 395.4h0M1189.7 175.7h0M1093.1 319.4h0"/>
<path stroke="#f2ea69" d="M1064.6 386.8h0M1244.9 323.5h0M1151.1 401.2h0M1242.3 267.6h0M1250.1 343.2h0M1185.9 314.2h0M1176.3 323.9h0"/>
<path stroke="#d24644" d="M1135.6 301.8h0M1221.3 349.7h0M994.8 297.5h0M1126.7 299.2h0M1145.3 400.2h0M1158.2 329.1h0M1031.2 334.8h0M1137.5 269.2h0M1086.9 295.6h0M1093 185.5h0M1036.1 321.5h0M1005 232.5h0M1051.6 387h0"/>
<path stroke="#bc3754" d="M1072.3 256h0M1156.5 358.1h0M1140.3 210.6h0M1156.7 314.3h0M1116.4 275.1h0M1091.9 301.2h0M1169.4 159.5h0M1171.4 264.1h0M1136.4 171.6h0"/>
<path stroke="#f9cb35" d="M1210 259.2h0M1204.4 364.6h0M1087.6 266.2h0M1151.2 292.4h0M1125.6 333.2h0M1220.6 365.7h0M1189.8 463.6h0"/>
<path stroke="#f98e09" d="M1047.6 417.9h0M1160.9 290.6h0M1107.7 327.6h0M1108.8 374.8h0M1133.8 342h0M1267.5 282.9h0M1185.1 222h0M1181.9 276.2h0M1195.7 183.8h0"/>
<path stroke="#57106e" d="M1103.9 225.5h0M1016.2 377.7h0M1085.2 233.2h0M1071.8 213.4h0M1115.9 374.8h0M1088.8 97.5h0M1067 301.9h0M1087.4 184.1h0M1156.8 200.4h0M1012.7 311.9h0M1028.6 270.5h0"/>
<path stroke="#3d0965" d="M1115.1 259.5h0M1144.1 151.9h0M878.7 372.7h0M1089.2 171h0M1070.1 233.6h0M1054.2 316.3h0M1127.9 337.9h0M1041.3 314.7h0M1054.7 123.8h0M977.8 179.6h0"/>
<path stroke="#fcffa4" d="M1177.1 381.2h0M1249.9 358.7h0M1302.3 194.2h0M1178.6 394.4h0M1224.3 333.2h0M1154.8 475.2h0"/>
<path stroke="#f98e09" d="M1187.9 429h0M1189.5 301.4h0M1214.5 350.4h0M1169.1 339.3h0M1238 291.6h0M1149.4 128.1h0M1014.5 144.7h0M1192.8 351.7h0M1052.4 460.3h0M1153.7 366.8h0"/>
<path stroke="#f9cb35" d="M1089.5 501.6h0M1202.2 356.9h0M1130.5 429.1h0M923.8 514h0M1123.9 343.9h0M1248.3 286.1h0M1163.8 271.4h0M1222.7 333.7h0M1170.9 301.7h0"/>
<path stroke="#fcac11" d="M1164.5 372.4h0M1197.3 266.7h0M1049.3 373.1h0M1097.7 358.1h0M1211.3 265.9h0M1207.5 233.2h0M1050.7 326.5h0M1188 391.4h0M1263.4 342.8h0"/>
<path stroke="#3d0965" d="M1034.5 363.5h0M1057.8 343.4h0M1035.1 217h0M1073.6 275h0M973.7 333.8h0M1089.3 211.1h0M989.5 193.9h0M1077.6 228.9h0M1133.1 285.9h0"/>
<path stroke="#71196e" d="M997.4 328.5h0M1161.6 193.4h0M1007 335.3h0M1218.3 216.9h0M1062.4 310h0M1008.8 367.1h0M1053.6 352.2h0M1047.1 339.5h0M1070 194.7h0M1145.1 179.6h0M1114.4 111.7h0M1098.8 276.2h0M1087.8 183.2h0"/>
<path stroke="#e45a31" d="M997.8 357.6h0M1120.8 339.2h0M1026.3 352.3h0M1184.7 241.8h0M1097.6 352.4h0M1263.9 193.3h0M1112.2 379.1h0M1076.5 318.8h0M1148.1 432.6h0M1011.8 407.6h0M1167.9 216.2h0M996 286.5h0"/>
<path stroke="#210c4a" d="M1056.2 198.9h0M1125.4 259.7h0M1071.7 124.1h0M1104.7 255.1h0M1057.3 278.7h0M1169.6 97.5h0M951.5 308h0M988.6 226.1h0M1011.3 250.7h0M1100.3 309.6h0M1114.4 124.7h0M976.4 242.5h0"/>
<path stroke="#0b0724" d="M1104 168.3h0M903.6 300h0M965.9 380.3h0M984.1 205.9h0M904.3 287.6h0M1083.9 156.8h0M1140.5 256.5h0M953.1 438h0M980.8 261.3h0M977.5 234.5h0"/>
<path stroke="#fcffa4" d="M1184.5 326.8h0M1258 245.3h0M1193.8 372h0M1199.5 388.7h0M1177 492.5h0M1137.2 332.4h0M1175.3 430.3h0M1217.5 418.1h0M1088.5 406.4h0"/>
<path stroke="#f1731d" d="M1197.2 342.4h0M1158.3 368.1h0M1064.8 220.9h0M1250.5 354.5h0M1108.7 240.3h0M1067.4 310.7h0M1136.4 157h0M1058.3 364.2h0M1130.1 313.9h0M1156.6 353.1h0"/>
<path stroke="#f2ea69" d="M1221.5 281.8h0M1161.5 313.4h0M1183.5 196.2h0M1185.7 328.5h0M1216.5 222.9h0M1108.3 339h0M1132.9 418h0M1147.6 323h0M1143.2 340.6h0M1194.2 364.6h0M1251.3 289.4h0M1168.3 403.7h0M1187 340.2h0"/>
<path stroke="#a32c61" d="M1108.2 316.6h0M1244.9 211.2h0M1094.2 330h0M1048 447.8h0M1033.9 262.4h0M1112.4 331.3h0M1102.2 284.2h0"/>
<path stroke="#d24644" d="M1107.9 329.2h0M1156.9 245.3h0M1031.6 401.6h0M1017.8 262.3h0M1133.2 176.7h0M1181.2 225h0M1133.3 188.7h0M1108.4 294.6h0M1152.8 286h0"/>
<path stroke="#bc3754" d="M1116 215.4h0M1070.9 171.1h0M1195.6 356.2h0M1099.4 238h0M1056.4 354.1h0M1055.7 250.5h0M1063.5 211.6h0"/>
<path stroke="#57106e" d="M1110.3 303.3h0M993 301.8h0M1178.6 251h0M991.9 406.9h0M1096.4 198.5h0M1052.5 146.7h0M1096.6 183h0M1098.1 140.9h0"/>
<path stroke="#8a226a" d="M1034.4 340.9h0M1020.4 275.7h0M1057.2 303.6h0M1146 259.3h0M984.6 290.5h0M1106.6 220.1h0M1115.9 254.2h0M1073 294.6h0M1181.2 327.9h0M1180.7 238.2h0"/>
<path stroke="#000004" d="M864.5 241.3h0M1012.7 175.7h0M1005.1 230.6h0"/>
<path stroke="#71196e" d="M1070 231.7h0M1138.9 150.4h0M1108.1 381.1h0M1123 345.9h0M1066.3 160.7h0M1118.5 118.1h0M1046.8 193.6h0M1068.2 358.1h0M1029.5 341h0M982.4 166.9h0M1027.8 303.5h0M1101.8 331.2h0M1194.1 198.4h0M1019.2 346.5h0"/>
<path stroke="#0b0724" d="M984.9 231.5h0M961.6 275h0M1031.2 265.5h0M1076.7 206.2h0M944.6 366.8h0M996.1 154.2h0M1074.6 204.5h0M878.7 256.2h0M953.3 327h0M1030.9 150.4h0M1054.7 225.5h0M1014.7 348h0"/>
<path stroke="#fcac11" d="M1149.9 168.7h0M1161.2 230.2h0M1092.6 237.6h0M1130.4 431.3h0M1160.6 294.1h0M974.3 362.3h0M1129.4 385.5h0M1177.4 365.3h0"/>
<path stroke="#57106e" d="M1144.9 369.6h0M1004.8 222.6h0M1022.4 255.5h0M1066.1 157.9h0M1140.1 195.7h0M1000.6 278.6h0M1079.8 376.9h0M1139.5 123.2h0M930.5 409.1h0M1026.4 306.8h0M1105.7 245.6h0M981.9 254.8h0M1120.5 220.2h0M1081.6 371.7h0"/>
<path stroke="#8a226a" d="M1004 263.1h0M1220.8 276.3h0M1085.2 321.2h0M1014.2 281.7h0M1149.6 306.2h0M1093.6 159h0M1049.2 324.3h0M1074.2 294.8h0M1148.9 152.4h0M1132.2 164.6h0M1159.7 283.3h0M1111.5 217.8h0M1109.1 288.8h0M1117.2 394h0"/>
<path stroke="#a32c61" d="M1114.7 375.4h0M1081.5 367.7h0M1043.3 309.2h0M1062.9 171.1h0M1105.8 351.3h0M1049 223.2h0M1124 230.9h0M1024.8 281.3h0M1103 457.9h0M1231.1 256.5h0M1059.8 278h0"/>
<path stroke="#f98e09" d="M1214.8 462h0M1062.9 359h0M1164.7 242.3h0M1124.8 256.4h0M1232.7 206.5h0M1171.4 381.5h0M1165.5 317.1h0M1123.1 295.3h0M1176.9 234.1h0M1107 234.2h0M1077.3 404.7h0M1145 317.6h0M1180.6 402.1h0M1120 335.2h0M1090.7 279h0"/>
<path stroke="#f9cb35" d="M1192.6 315.2h0M1129.9 299.3h0M1176.3 399.7h0M1048 395h0M1119.6 344.2h0M1181.1 245.4h0M1117.3 463.1h0M1114.7 323.8h0M1254.7 416.4h0"/>
<path stroke="#fcffa4" d="M1196.2 425.3h0M1194.5 414.5h0M1128.3 330.5h0M1192.3 415.6h0M1189.2 451.2h0"/>
<path stroke="#f1731d" d="M1110 422.3h0M1233.4 326.4h0M1145.6 233.7h0M1166.3 195.3h0M1121.1 311h0M1204.2 332.7h0M1030.1 331.6h0M1028.1 342.2h0M1068.7 392.2h0M1102.3 293.3h0M1100.4 244.8h0"/>
<path stroke="#d24644" d="M1119.4 465.1h0M1114.9 289.4h0M1075.7 290h0M1240 275.9h0"/>
<path stroke="#210c4a" d="M1094.4 143.3h0M1052.4 305.7h0M1033.2 195.7h0M998.9 287h0M1007.4 145.8h0M883.4 328.9h0"/>
<path stroke="#000004" d="M1068.4 217.8h0M1052.8 165.9h0M1080 177.9h0"/>
<path stroke="#bc3754" d="M1182 363h0M1031.4 292.2h0M1075.8 318.7h0M1063.6 351.1h0M1094 347.9h0M1141.9 284h0M1092.4 267.5h0M1105.6 218.3h0M1130.5 189.6h0"/>
<path stroke="#3d0965" d="M951 354.8h0M944.6 276h0M1169.2 259.7h0M939.1 271.6h0M1064.6 242.7h0M1087.8 316h0"/>
<path stroke="#e45a31" d="M1091.5 324h0M1123.4 152.5h0M1152.5 218.8h0M1092.1 309.5h0M1086.8 320.3h0M1148.2 292.2h0M1004.1 336.9h0M1142 504.1h0M1020.3 401.7h0M1181.6 188.1h0"/>
<path stroke="#f2ea69" d="M1183 433.9h0M1278.7 362h0M1216.2 234.2h0M1077.8 357h0M1134.8 273.8h0M1148.1 382.7h0M1226 319.8h0M1137.5 328.7h0M1208.8 416.9h0"/>
<path stroke="#000004" d="M1068.2 237h0M995.2 206.1h0M971.6 358.5h0M1055.2 229h0M1005 177h0"/>
<path stroke="#bc3754" d="M1092.4 370.4h0M1075 266.8h0M1027.2 255.5h0M1173.3 177h0M1098.4 449.4h0M1088.5 305.7h0M1156.7 226.2h0M1120.1 174h0M1069.1 206.3h0M1193.7 345.9h0"/>
<path stroke="#fcac11" d="M1041.7 534.7h0M1235.3 275.4h0M1150.9 376h0M1133.7 325.3h0M1167.4 323.9h0M1093.7 338.2h0M1156 242.9h0M1012.4 262h0M1070.7 386h0M1268 391.7h0M1096.6 319.4h0M1154.5 286.5h0M1257.8 258.3h0M1155.8 253.2h0"/>
<path stroke="#f2ea69" d="M1142.1 331.4h0M1168.2 394.7h0M1132.3 399.1h0M1125.2 346.8h0M1083.9 390.8h0M1070.7 306.4h0M1174.3 358.2h0M1240.4 280.6h0M1161.7 410.2h0M1094.5 397h0M1167.8 326.1h0"/>
<path stroke="#a32c61" d="M995 221.2h0M1169.5 166.2h0M1121.1 350h0M1126.7 282.4h0M1093.6 201.9h0M1140.9 245.2h0M1097.8 296.8h0M1108.2 369.9h0M1122.1 273h0M1153.2 239h0M1059.5 173h0"/>
<path stroke="#f9cb35" d="M1126.5 322.1h0M1098.7 344.6h0M1194.4 342.2h0M1077 378.4h0M1101.4 340.1h0M1232.2 302.1h0M1180.9 337.1h0M1185.9 348.1h0M1222.6 307h0M1022.8 255.1h0M1163.9 388.9h0M1047.2 326.1h0M1192.5 319.1h0M1208.4 347.1h0"/>
<path stroke="#f1731d" d="M1252.4 186.8h0M1138.2 261.4h0M1020.4 402h0M1094.5 272h0M1123.1 336.9h0M1076.6 304.2h0M1117.7 220h0M1107 253h0M1218.7 240.4h0"/>
<path stroke="#3d0965" d="M1006.3 244.7h0M1003.8 323.6h0M1011.6 229.6h0M1013.3 176.7h0M1032.2 221.8h0M1005.4 202.8h0M1024.3 181h0M987 266.7h0M1119 268.5h0M1005.2 224h0M1031.1 233.1h0M973.7 235.8h0M1087.3 311h0M1143.4 88.4h0"/>
<path stroke="#0b0724" d="M974.4 238.1h0M1043.3 277.9h0M932 210.1h0M1003.5 207.7h0M1068.5 152.8h0M987 323.3h0M1046.3 176.2h0M1055.1 136.1h0M1046.4 230.5h0M980 240.8h0M1079.1 181.5h0M1038.6 134.2h0M1044.2 247.9h0M1078 324.8h0M978.5 237.7h0M1105.7 111.5h0"/>
<path stroke="#f98e09" d="M1209.8 331.4h0M1148.1 206.3h0M1113.3 305.5h0M1052.7 323h0M1072 336h0"/>
<path stroke="#71196e" d="M1081.5 224.9h0M1200.1 300.4h0M1163.3 318.3h0M1063.5 280h0M990.6 247.2h0M1062.4 246.5h0"/>
<path stroke="#e45a31" d="M944.6 302.7h0M1116.7 327h0M1045.2 390.5h0M995.2 310.1h0M1240.9 297h0M1141.6 312.3h0M1181.8 200h0M1093.3 371.9h0"/>
<path stroke="#d24644" d="M1112.8 224.9h0M997.6 306.1h0M1173 274.4h0M1004.5 275.5h0M1100.7 263.6h0M1090.5 275.5h0M1075.6 349.1h0M1162.5 347.8h0M1097.5 335.9h0M1044.9 232.3h0M1122 266.6h0"/>
<path stroke="#210c4a" d="M1109.4 133.3h0M1095.6 227.8h0M1066.7 270.7h0M1013.6 241.4h0M1087.1 146.5h0M1072.8 179.1h0M999.3 238.5h0M1131.1 313.9h0M999.7 195.9h0M967.3 349h0"/>
<path stroke="#8a226a" d="M1017 345.3h0M984.2 192.3h0M1081.9 307.7h0M1086.2 291.6h0M1119.9 263.1h0M1080.1 338.1h0"/>
<path stroke="#57106e" d="M968.3 249.8h0M1236.2 195.3h0M1048.3 342h0M975.7 313.6h0M1109 300h0M1139.8 303.3h0"/>
<path stroke="#fcffa4" d="M1208.9 373.7h0"/>
</g>
<path d="M830 66V560.3H1325.3" stroke="#4d4d4d" stroke-width="1.9" fill="none"/>
<rect x="830" y="66.5" width="494.8" height="493.8" fill="none" stroke="#4d4d4d" stroke-width="1.0"/>
<path d="M962.2 560.3v3.7M1096.9 560.3v3.7M1231.6 560.3v3.7M830 126.4h-3.7M830 209h-3.7M830 291.7h-3.7M830 374.4h-3.7M830 457h-3.7M830 539.6h-3.7" stroke="#4d4d4d" stroke-width="1.0" fill="none"/>
<g font-size="19.2" fill="#4d4d4d">
<text x="962.2" y="580.6" text-anchor="middle">−20</text>
<text x="1096.9" y="580.6" text-anchor="middle">0</text>
<text x="1231.6" y="580.6" text-anchor="middle">20</text>
<text x="823.6" y="132.9" text-anchor="end">20</text>
<text x="823.6" y="215.5" text-anchor="end">10</text>
<text x="823.6" y="298.2" text-anchor="end">0</text>
<text x="823.6" y="380.9" text-anchor="end">−10</text>
<text x="823.6" y="463.5" text-anchor="end">−20</text>
<text x="823.6" y="546.1" text-anchor="end">−30</text>
</g>
<text x="1076.7" y="607" font-size="24.5" text-anchor="middle" fill="#000">PC1</text>
<text transform="translate(781.5 312.3) rotate(-90)" font-size="24.5" text-anchor="middle" fill="#000">PC2</text>
<text x="1457.9" y="40.4" font-size="64" fill="#000">c</text>
<path d="M1597.6 63.9V558.1M1703.3 63.9V558.1M1809 63.9V558.1M1914.8 63.9V558.1M1522.5 478.9H2016.6M1522.5 366.2H2016.6M1522.5 253.5H2016.6M1522.5 140.8H2016.6" stroke="#ebebeb" stroke-width="0.7" fill="none"/>
<path d="M1544.8 63.9V558.1M1650.5 63.9V558.1M1756.2 63.9V558.1M1861.9 63.9V558.1M1967.6 63.9V558.1M1522.5 535.3H2016.6M1522.5 422.6H2016.6M1522.5 309.9H2016.6M1522.5 197.2H2016.6M1522.5 84.5H2016.6" stroke="#ebebeb" stroke-width="1.4" fill="none"/>

<g fill="none" stroke-linecap="round" stroke-width="5.5">
<path stroke="#46A078" d="M1555.5 490h0M1553.7 429.5h0M1560.2 521.4h0M1566.4 535.3h0M1551.8 535.3h0M1557.2 375.1h0M1559.4 476.6h0M1557.5 486.2h0M1561.6 524.1h0M1565.3 472.1h0M1551.5 458.8h0M1583.6 462.8h0M1580.5 535.3h0M1570.3 444.6h0M1595.2 352.8h0M1562.6 528.4h0M1588.6 463.7h0M1639.7 528.6h0M1575.4 415.9h0M1554.6 393.3h0M1562.6 498.7h0M1559.2 505.9h0M1577.2 498h0M1559.3 495.3h0M1574.8 339h0M1553.8 535.3h0M1557.2 325.3h0M1566.6 492.2h0M1551.4 522.9h0M1579.8 531h0M1598.3 399.6h0M1573.5 508.4h0M1580.7 367.3h0M1595 533.5h0M1594.3 515.1h0M1551.1 482.8h0M1559.7 533.5h0M1555.6 520.3h0M1568.6 515.2h0M1555.8 361.1h0M1554.5 530.3h0M1570.2 498.8h0M1582.4 526.3h0M1596.1 158.9h0M1570.3 495.7h0M1557 515.1h0M1555.8 528.3h0M1569.8 514.2h0M1618.8 448.2h0M1581.3 473.5h0M1553.9 535.3h0M1591.8 503.8h0M1573.5 535.3h0M1593 470.5h0M1548.4 421.7h0M1581.7 506h0M1576.1 374.8h0M1576.2 515.8h0M1661.8 408.5h0M1552.1 530.1h0M1585.7 465.8h0M1586.7 535.3h0M1561.9 533.5h0M1592 464.6h0M1560 297.3h0M1577.8 455.3h0M1591.6 485.8h0M1595 494.5h0M1567.4 443.2h0M1570.9 514.3h0M1590.7 426.4h0M1578.5 458.9h0M1577.6 510.9h0M1611 526.1h0M1555.3 511.9h0M1637.9 460.7h0M1561.6 448.4h0M1548.4 520.5h0M1559.9 530.3h0M1551 472h0M1617 367.1h0M1638.7 515.3h0M1556.4 458.3h0M1591.9 318.8h0M1580.4 482.8h0M1590.5 530.7h0M1569.4 465.3h0M1557 410.8h0M1555.7 490.2h0M1563.8 448.6h0M1564.2 441.5h0M1555 502h0M1559.2 535.3h0M1592.3 524.3h0M1554.3 507.5h0M1579.6 425.7h0M1590 280.1h0M1556.3 462.4h0M1594.9 391.1h0M1557.3 492.7h0M1551.2 532.7h0M1575.2 465.1h0M1552.9 427.8h0M1563.9 488.6h0M1557 306.2h0M1554.4 415.1h0M1588.1 519.7h0M1584.5 529.9h0M1574.1 505.7h0M1623.2 444.4h0M1562.6 513.6h0M1557.3 521h0M1556.4 461.8h0M1555.6 481.1h0M1556.9 496.5h0M1564.7 529.3h0M1580.4 500.1h0M1553.5 445.6h0M1622.5 461.7h0M1553.5 514.5h0M1575.5 518.5h0M1571.4 470.3h0M1568.3 364.9h0M1564.2 518.9h0M1565.4 496.6h0M1552.5 535.3h0M1583.4 498.9h0M1630.8 507.2h0M1591.1 444.4h0M1568.7 449.6h0M1577.3 341h0M1563.9 366.6h0M1560.9 523.8h0M1612.3 305h0M1592.9 511.2h0M1549 272h0M1562.9 500.2h0M1569.9 461.6h0M1567.6 326.4h0M1554.1 463.7h0M1581.1 532.6h0M1573.8 535.3h0M1548.5 529.4h0M1554.8 441.2h0M1580.3 529.7h0M1570.2 534.1h0M1569.7 466.9h0M1598 517.1h0M1569.1 490h0M1584 498.3h0M1578.5 379.2h0M1573.5 446.3h0M1577.5 479.6h0M1552.8 464.4h0M1565.7 460.3h0M1562.9 498.5h0M1590 496.1h0M1570.7 507.5h0M1566.6 462.5h0M1563.3 407.8h0M1585.9 507.8h0M1591.4 323h0M1564.9 492.3h0M1598.7 533.2h0M1571.3 428.6h0M1571.6 501.2h0M1556.7 532.7h0M1593.4 521.1h0M1549 527.4h0M1578.6 517.2h0M1563.5 332h0M1581.8 503h0M1662.1 336.1h0M1595.9 487h0M1571.1 469.5h0M1577.9 328.3h0M1569.3 369.7h0M1594.8 490.7h0M1578.6 489.1h0M1556 330.8h0M1559.6 471.5h0M1552 501.6h0M1558 514h0M1589.6 531.2h0M1576 340.6h0M1557.9 360.5h0M1560.5 255.9h0M1570.6 500.1h0M1571.3 399.5h0M1588.7 489h0M1565.3 437.1h0M1593.9 474.7h0M1588.7 118.3h0M1581.1 508.4h0"/>
<path stroke="#EDC75B" d="M1624.5 526.6h0M1556 477h0M1606 515h0M1590.9 484.5h0M1559.1 501.7h0M1557 453.1h0M1557.4 510.4h0M1583.9 491h0M1591.9 500.3h0M1571.1 529.7h0M1571.6 510.3h0M1562.7 530.4h0M1598 517.7h0M1572.7 497.5h0M1578.3 496.3h0M1630.4 498.3h0M1554.6 534.7h0M1559.9 393.2h0M1598.7 436.3h0M1559.6 500.2h0M1586.8 510.8h0M1564.2 454.7h0M1576.1 470h0M1579.5 503h0M1562.3 518.7h0M1575.5 529.7h0M1553.9 533.3h0M1552.1 535.3h0M1580.4 472.5h0M1565.2 511.6h0M1585.5 506.9h0M1597.7 512h0M1584.9 524.1h0M1563.6 488h0M1554.2 510.2h0M1578.5 529.3h0M1559.3 522.5h0M1563.6 534.8h0M1564.9 454.5h0M1582.5 515.4h0M1572.7 477.5h0M1563.7 487.5h0M1583.2 514.6h0M1559.8 531.7h0M1551.7 505.6h0M1570.5 525.2h0M1569.9 526.2h0M1553.8 523.4h0M1560.8 527.4h0M1551 519.6h0M1567.2 502.8h0M1574.9 438.3h0M1591.9 502.4h0M1587 498.4h0M1563.8 472.1h0M1555.4 489.8h0M1558.3 507.6h0M1556 470h0M1589.1 507.5h0M1601.9 506.2h0M1562.7 531h0M1561.5 500.6h0"/>
<path stroke="#CE3A53" d="M1797.5 535.3h0M1566.4 503.2h0M1599.7 490.6h0M1551.5 427.7h0M1589.3 535.3h0M1922 503h0M1564.6 535.3h0M1574.4 512.6h0M1621.6 531.1h0M1582.9 440.1h0M1568.2 521.9h0M1572.6 492.6h0M1569.7 477h0M1556.4 493.4h0M1587.4 525.8h0M1591.6 490.2h0M1575 527h0M1607.9 472h0M1558.3 533.6h0M1555.7 429.4h0M1605.6 500.1h0M1551.9 504.4h0M1561.2 509.5h0M1548.5 532.8h0M1649.4 372.1h0M1635.1 535.3h0M1550.8 521.7h0M1551.6 505.8h0M1577.4 431h0M1747.8 519.7h0M1559.3 466.2h0M1551.6 480.3h0M1563.8 495.5h0M1567.6 496.1h0M1665.4 362.5h0M1554.2 463.6h0M1597 528.9h0M1555.9 354.7h0M1564.8 473.4h0M1896.6 526.9h0M1609.4 535.3h0M1583.9 436.9h0M1562.9 518.2h0M1572 535.3h0M1563.3 333.3h0M1558.8 493.4h0M1563.5 507.2h0M1554.6 426.3h0M1595.1 523.4h0M1563.4 533.7h0M1593 525.2h0M1552 416h0M1558.7 524.5h0M1574.5 483.4h0M1557.4 535.3h0M1556.3 465.4h0M1596 518.2h0M1612.3 534.1h0M1626.8 522.6h0M1664.6 463.9h0M1735.3 529.9h0M1552.2 524.2h0M1619.6 515.6h0M1572.1 515.4h0M1562.2 510.4h0M1585.6 535.3h0M1571.3 484.9h0M1574.8 535.3h0M1575.3 529.9h0M1732.8 522.4h0M1577 535.3h0M1568.1 423.3h0M1623 508.5h0M1573.3 495.4h0M1559.6 410.9h0M1627.9 531.9h0M1579.5 520.9h0M1583.7 531.4h0M1553.4 512.3h0M1552.5 486.5h0M1551.7 369.9h0M1555.8 535.3h0M1559.6 465.1h0M1575.3 530.8h0M1633.4 352.6h0M1569.9 514.8h0M1779.8 437.7h0M1560.4 535.3h0M1575.4 498.6h0M1563 509h0M1556.9 457.1h0M1745.9 530.9h0M1565.8 520.3h0M1568.9 393.6h0M1598.4 535.3h0M1552.5 506h0M1560.5 519h0M1597.5 430.9h0M1564.6 519.6h0M1549.2 457h0M1548.3 525h0M1587.8 447.9h0M1566.2 535.3h0M1575.7 459.2h0M1554.7 446.7h0"/>
<path stroke="#DC9BD6" d="M1568 526h0M1566.5 530.2h0M1611.6 475.1h0M1568 500.3h0M1583.7 532.1h0M1563.1 501.3h0M1564.7 418.3h0M1582.9 521.3h0M1593.2 512h0"/>
<path stroke="#BDBDBD" d="M1551.4 523.1h0M1923 524h0M1593.2 503.2h0M1568 456h0M1566.6 527.1h0M1754.5 535.3h0M1555 425.3h0M1593.5 495.5h0M1870.8 328.8h0M1580.1 529.9h0M1563.8 531.7h0M1951.3 535.3h0M1570.4 523.1h0M1578.1 503.4h0M1560.8 526.5h0M1578.7 518.9h0M1583.5 520.8h0M1561.6 510.6h0M1584 503.8h0M1559.7 520.1h0M1563.7 471.6h0M1810.4 482.4h0M1551.2 524.7h0M1563.8 491.9h0M1940.1 446.8h0M1579.6 506.6h0M1565.2 533.1h0M1554 515.7h0M1582 450.1h0M1585 519.5h0M1595.3 535.3h0M1583 503.7h0M1874.5 529h0M1557.3 452.3h0M1592.3 449.2h0M1596.6 522h0M1571.7 500.1h0M1826.3 535.1h0M1555.8 410.9h0M1603.1 497.1h0M1561.1 398.3h0M1573.3 534.4h0M1569 476.3h0M1590 500.2h0M1601 531.8h0M1572.4 534.9h0M1580.6 506.3h0M1568 507.9h0M1592.6 494.9h0M1903.7 530.7h0M1573.7 503h0M1634.3 515.4h0M1587.1 475.7h0M1563.3 519.4h0M1914.5 474.5h0M1558.2 535.3h0M1588.7 484h0M1568.3 535.3h0M1569.2 535.3h0M1586.3 527.6h0M1561.1 505.4h0M1564 531.2h0M1598.2 534.1h0M1553.7 521.5h0M1574.8 534.8h0M1561.4 486h0M1550.2 469.3h0M1590.9 481.5h0M1550.2 535.3h0M1550.1 524.2h0"/>
<path stroke="#9A3AA3" d="M1590.9 480.1h0M1837.3 442.7h0M1695.1 523.8h0M1592.7 405.9h0M1631.4 481.2h0M1611.9 438.5h0M1582.1 524.1h0M1599.5 436.2h0M1601.3 477.4h0M1669.6 427.9h0M1622.7 374.5h0M1623.7 511.9h0M1604.4 508.7h0M1609.4 521.2h0M1585.5 529.8h0M1633.1 521h0M1605.7 516.9h0M1738.9 522.4h0M1564.1 488.5h0M1624.1 519.7h0M1605 400.4h0M1602.9 507.7h0M1573.9 511.9h0"/>
<path stroke="#CE3A53" d="M1610.5 520.7h0M1566.8 488.5h0M1614.7 501.9h0M1565.5 533.5h0M1555.5 460.4h0M1672.3 456.2h0M1564.5 513.2h0M1597 486.9h0M1564.4 515.4h0M1585.2 513.6h0M1551.8 512h0M1556.6 527.6h0M1575.1 494.9h0M1864.1 499.9h0M1610.6 527.5h0M1561.6 501.1h0M1556.8 476.2h0M1586.2 535.3h0M1550.8 430.9h0M1617.8 481.1h0M1604 526.1h0M1567.2 495.9h0M1574.8 533.8h0M1555.8 509.1h0M1569.5 535.3h0M1759.9 511.3h0M1554.3 535.3h0M1563.3 521h0M1553 425.6h0M1559.7 532.9h0M1569 346.1h0M1557.8 524.9h0M1594.9 535.3h0M1571.7 523.3h0M1597.7 502.7h0M1550.8 490.4h0M1559.6 488.9h0M1556.9 507.2h0M1663.7 127.3h0M1664.8 512.6h0M1566.4 308.9h0M1608.4 512.8h0M1549.6 504h0M1548.3 513.4h0M1560.5 512.4h0M1723.9 519.7h0M1552.3 535.3h0M1550.2 500.5h0M1671.8 510.7h0M1594.8 487.8h0M1591.7 517.9h0M1558.2 440.5h0M1564.5 529.8h0M1597.8 499.2h0M1572.9 509.6h0M1566 443.3h0M1566.8 420.3h0M1568.8 531.3h0M1558.4 500.1h0M1562.6 472.5h0M1846.6 535.3h0M1600.5 529.4h0M1594.9 535.3h0M1765.3 520.5h0M1566.9 475.9h0M1573.2 374.7h0M1553 525.2h0M1612.5 476.4h0M1554.9 504.9h0M1656.8 84.5h0M1570.3 533.9h0M1559.5 405.9h0M1602.5 478.6h0M1593.6 417.1h0M1577.6 416.4h0M1555.6 317.3h0M1549.9 463.8h0M1567.2 470.6h0M1556.7 483.3h0M1579.2 534.6h0M1567.7 515.9h0M1585.2 471.4h0M1569.2 495.3h0M1553.5 500.8h0M1605.4 535.3h0M1555.8 535.3h0M1616.3 525h0M1572.8 524.7h0M1577.1 412.1h0M1623.6 535.3h0M1565.1 525.9h0M1684.5 509.1h0M1549.7 458h0M1561.2 493h0M1571.6 391.4h0M1607.1 489.7h0M1557.9 512.5h0M1562.2 469.7h0M1560.9 522.1h0M1596.2 443.4h0M1910.1 454.5h0M1601.8 535.3h0M1596.7 533.7h0M1584 504.9h0M1560.9 518.2h0M1558.6 529.1h0M1563.2 421.5h0M1590.6 533.5h0"/>
<path stroke="#46A078" d="M1566.9 535.3h0M1568 358.9h0M1564 535.3h0M1560.9 478.3h0M1582.4 482.9h0M1588.3 401.3h0M1637 334.6h0M1585.3 495h0M1568.7 506.7h0M1598.7 494.9h0M1573.1 409.7h0M1578.9 530.8h0M1555.3 516h0M1575.9 459.6h0M1553.4 472.2h0M1572.3 480.3h0M1609.4 456.4h0M1575.2 311.4h0M1568.1 528.3h0M1549.6 507.6h0M1561 514.1h0M1550 475h0M1569.2 501.6h0M1568.4 275.1h0M1565.7 462.3h0M1552.8 449.6h0M1587.4 517.7h0M1567.1 298.9h0M1583.4 415.4h0M1549.6 532.4h0M1564.2 475.2h0M1573.8 516.6h0M1553.9 348.3h0M1581.2 302.9h0M1573 326.2h0M1555.7 518h0M1572.9 535.3h0M1553.9 511.2h0M1553.4 504.7h0M1567.3 431.5h0M1582.7 522.1h0M1633.8 305.2h0M1592.4 424.1h0M1551.7 512.1h0M1557.7 535.3h0M1582.2 481.8h0M1593.2 397.6h0M1571 399h0M1577.4 502.1h0M1550.8 419.6h0M1565.7 418.9h0M1557 420.5h0M1593.5 486.2h0M1567.3 473.3h0M1547.7 470.2h0M1562.4 492.3h0M1571.6 479.5h0M1584.1 507.1h0M1576.2 389.4h0M1595.7 535.3h0M1563 459.5h0M1590 426.6h0M1638.8 508.1h0M1710.2 174.7h0M1557.5 495.1h0M1550.6 421.4h0M1560.6 287.9h0M1550.9 484.8h0M1555.8 530.6h0M1579 441h0M1563.7 532h0M1556.8 515h0M1585.7 449.3h0M1597.9 491.4h0M1562.2 447.7h0M1576.4 447h0M1573.6 319h0M1557.4 478.9h0M1555 481.5h0M1562.3 519.4h0M1578.2 405.3h0M1552.6 436.9h0M1574.2 528.7h0M1565.4 492.1h0M1559.8 465.4h0M1593.1 474.5h0M1571.9 270.8h0M1584.5 418.7h0M1553.3 449.2h0M1558.5 507.2h0M1569.8 525.3h0M1588 479.3h0M1594.5 412.5h0M1579 514.6h0M1570.5 476.7h0M1592.7 476.9h0M1552.7 509.7h0M1560 488.2h0M1555.9 504.7h0M1567.4 525h0M1596.1 531.6h0M1582.8 352h0M1565 512.4h0M1557.4 507.7h0M1558.4 535.3h0M1590.9 464.8h0M1559 454.9h0M1585 497.8h0M1579.9 442.5h0M1551.6 534.5h0M1577.4 328.4h0M1571.6 516.2h0M1587.8 480.8h0M1583.5 336.4h0M1548.3 526.5h0M1563.6 535.3h0M1563.2 501.9h0M1562 535.3h0M1563.1 459h0M1558.6 509.1h0M1552.9 499.6h0M1577.4 367.1h0M1552.3 451.2h0M1565.5 514.6h0M1585.5 447.4h0M1564.8 343.5h0M1593.8 524.8h0M1640 320.9h0M1592.3 372.1h0M1549.2 474.9h0M1553 329.1h0M1569.3 436.8h0M1571.4 372.7h0M1564.8 509.7h0M1559.8 440.2h0M1593.8 485h0M1622.1 476.9h0M1584.3 525.7h0M1551.4 393.9h0M1569.6 520.5h0M1572.5 525.6h0M1549.2 461.5h0M1578.5 508.5h0M1557.3 456.5h0M1555.3 534.4h0M1556.4 519.3h0M1596.8 526.7h0M1579.1 481.6h0M1575.6 518.4h0M1590.3 406.6h0M1574.6 513h0M1560.7 471.7h0M1590.2 532.5h0M1549.4 500.1h0M1575.3 521h0M1557.4 329.7h0M1559.1 447.5h0M1622.6 448.8h0M1567.6 498.1h0M1585.3 519.5h0M1596.8 510.3h0M1558.2 529.1h0M1566.4 366.8h0M1593 314.1h0M1553.4 439.7h0M1596.2 527.3h0M1584 502.2h0M1579.9 527h0M1581.6 435.6h0M1560.5 535.3h0M1581.6 531.4h0M1586.6 491.1h0M1561.8 474.7h0M1590.1 522.2h0M1555.4 433.6h0M1576.4 521.1h0M1587.8 467.6h0M1630.6 389.8h0M1553.3 524.3h0M1556.1 266.2h0M1559.5 494.4h0M1554.3 495.1h0M1576.3 495.7h0M1567.4 477.6h0M1576.2 524.8h0M1563 256.1h0M1556.1 433h0M1572.3 498.5h0M1571.7 458.7h0M1588.5 525.2h0M1584.8 534h0M1593 516.8h0"/>
<path stroke="#EDC75B" d="M1567.1 523.5h0M1557.8 508.1h0M1556.4 533.6h0M1564.1 449.3h0M1584.5 528.9h0M1589.3 502h0M1561.4 532.5h0M1576.8 516.1h0M1563.5 380.7h0M1596.4 513.1h0M1555.7 426.3h0M1568.2 535.3h0M1558.8 470h0M1578.6 464.1h0M1583.5 519h0M1564.3 485.3h0M1563.9 502.4h0M1592.2 524.1h0M1569.7 504.4h0M1579 501.9h0M1574.3 531.3h0M1574.4 276.1h0M1557.1 505.7h0M1570.7 504.5h0M1583.4 520.6h0M1560.7 503.2h0M1557.5 485.9h0M1573.9 460.8h0M1551.2 533.8h0M1564.4 535.3h0M1578.3 437.1h0M1561 534.2h0M1573.5 498.9h0M1565.5 517.4h0M1597.8 525.3h0M1590.9 535.3h0M1573.5 528.1h0M1566.4 509.9h0M1587.8 445.5h0M1571 498.9h0M1592.4 528.1h0M1568.9 436.2h0M1555.6 512.8h0M1615.1 432.4h0M1574.2 533.5h0M1565.5 484.1h0M1567.6 506.3h0M1568.6 260.3h0M1575.6 520.5h0M1567.1 431.4h0M1566.9 388.8h0M1588.3 523.6h0M1566.9 532.6h0M1589.6 504.9h0M1574.5 530.9h0M1563.6 530.4h0M1550.4 512.9h0M1568.2 535.3h0M1561.3 533h0M1571.1 527.3h0M1551.8 529.3h0M1568.5 534.7h0M1592.9 485.8h0M1569.1 518.1h0M1597.8 532.3h0M1568.6 504.4h0M1596.5 524.8h0M1620.8 531.6h0M1593.7 520.3h0M1596.2 491.6h0M1569.9 535.3h0M1581.5 530.5h0M1558.6 522.3h0M1588.5 509.3h0"/>
<path stroke="#BDBDBD" d="M1909.5 521.8h0M1579.1 453h0M1550.6 474.7h0M1557.1 535.3h0M1616.5 484.8h0M1574 516.3h0M1554.4 465h0M1561.5 526.8h0M1640 534.9h0M1569.6 529.4h0M1560.8 532.5h0M1574.4 525.1h0M1557.7 412.1h0M1555.2 487.5h0M1548.5 509.2h0M1569.4 481.9h0M1818.1 531.7h0M1558.2 515.1h0M1548.7 535.3h0M1553.3 533.4h0M1561 535h0M1564.5 512.9h0M1550.2 518h0M1555.8 493.5h0M1586.1 517.6h0M1887.8 460.2h0M1549.5 523.5h0M1902.2 535.3h0M1564.4 445.2h0M1832.3 535.3h0M1562.5 525.6h0M1591 471.8h0M1559.2 525.1h0M1587.9 512.5h0M1766.9 513h0M1553 468.2h0M1596 475.1h0M1552.2 516h0M1557.9 524.2h0M1558.4 535.3h0M1639.8 508.7h0M1561.2 514.7h0M1902.2 527.2h0M1572.8 383.1h0M1555.5 512.6h0M1560.9 396.2h0M1877.9 529h0M1561.2 430.6h0M1592.1 499.9h0M1556.5 437.4h0M1585.5 507.4h0M1600.3 228.8h0M1571.5 521.6h0M1582 535.3h0M1548 493h0M1604.1 493.2h0M1572.5 525.4h0M1569.5 524.6h0M1576.5 516.6h0M1594.2 509.2h0M1879.5 534.2h0M1560.4 528.9h0"/>
<path stroke="#DC9BD6" d="M1553.5 404.2h0M1597.4 454.2h0M1560.5 529.7h0M1555.6 319.4h0M1581.4 480.6h0M1931.3 527.6h0M1580.2 532.6h0M1613.1 521.2h0M1552.4 523.6h0M1580.1 459.7h0M1872.5 509.5h0M1589.8 482.3h0M1747.4 514.7h0M1610.4 480.6h0M1561.2 386.7h0M1573 486.2h0M1582.5 423h0"/>
<path stroke="#9A3AA3" d="M1620.3 486.1h0M1581.8 442.4h0M1562.7 507.1h0M1581.8 499.9h0M1580.2 524.6h0M1622.9 454.3h0M1578.7 519.2h0M1604.9 472.9h0M1761.9 487.2h0M1619 510.5h0"/>
<path stroke="#46A078" d="M1582.4 533.5h0M1585.4 515.6h0M1594.6 498h0M1555.2 510.8h0M1591 525.5h0M1567.7 441.7h0M1567.6 417h0M1583.2 521.7h0M1558.2 531.4h0M1561.4 413.8h0M1576.3 407.4h0M1570.1 531.4h0M1572.4 454.9h0M1573.4 515h0M1554.8 523.9h0M1581.6 460.8h0M1597.7 364.6h0M1560.4 468.9h0M1595 461.9h0M1602.8 533.5h0M1686.6 316.6h0M1554.3 478.6h0M1550.5 535.1h0M1555.9 490.9h0M1554.7 443.2h0M1592.8 522.3h0M1582.8 403.4h0M1591.6 517.7h0M1579.2 521.5h0M1597.2 488.2h0M1561.2 522.8h0M1559 303h0M1575.8 465.7h0M1637.1 405h0M1578.9 314.4h0M1589.6 387.2h0M1630.8 522.1h0M1559.5 513h0M1587.1 438.6h0M1582.3 512.6h0M1565.8 476.1h0M1605.5 435.1h0M1595.7 491.1h0M1556.8 468.9h0M1586.6 438.1h0M1565.2 489.3h0M1565.2 459.7h0M1562.7 530.6h0M1593.9 526.8h0M1564.9 465.6h0M1623.1 375h0M1567.7 465.7h0M1564.1 400.4h0M1557.6 534.2h0M1577 535.3h0M1561.8 440h0M1589.6 410.2h0M1571.8 395h0M1658.1 353h0M1559.1 488.9h0M1570.2 516.1h0M1562.9 491.8h0M1562.4 496.5h0M1557.4 424.1h0M1569.2 507.6h0M1588.7 517.6h0M1565 534.2h0M1587.9 337.5h0M1558.2 385.9h0M1566.9 535.3h0M1564.2 497.8h0M1564.7 535.3h0M1592.2 515h0M1576.5 500.3h0M1556.7 454.5h0M1568.8 505.5h0M1559.2 529.1h0M1643.9 304.9h0M1555.5 465.7h0M1605.2 502.9h0M1558.7 404.6h0M1571.5 451.1h0M1559.3 506.5h0M1557.5 463.1h0M1570.1 314.2h0M1566.5 535.3h0M1569.7 285h0M1549.8 407.1h0M1593.7 373.5h0M1568.2 296.8h0M1581.2 432.4h0M1612.7 454.9h0M1554.4 458.2h0M1552.1 512.9h0M1590.8 534.4h0M1579.8 509.5h0M1567.1 533.8h0M1582.5 453.8h0M1557.9 535.1h0M1584.6 486.3h0M1550.2 535.3h0M1583.4 496h0M1577.2 374.9h0M1556.8 520.8h0M1563.8 484.5h0M1569.1 463.6h0M1576.5 206.2h0M1596.2 389.4h0M1585.3 535.3h0M1580 500.3h0M1556.7 439.8h0M1570.3 463.4h0M1555.8 535.3h0M1567.2 470.6h0M1567.5 525.6h0M1549.7 492.4h0M1583.6 463.9h0M1571.5 508.1h0M1576.4 339.1h0M1557.1 321.8h0M1558.1 477.5h0M1580.2 492.3h0M1553.9 481.6h0M1574.9 535.3h0M1591.1 534.5h0M1550.1 268.3h0M1571 531.9h0M1581.3 509.6h0M1576.2 514.9h0M1564.3 499.7h0M1555.5 472.5h0M1550.8 516.5h0M1564.3 535.3h0M1560 495.7h0M1575.3 514.4h0M1574.4 350.4h0M1564.7 529.4h0M1556.1 488.5h0M1690.4 397.9h0M1554.9 527.5h0M1575.5 511.2h0M1585.7 502.1h0M1570.3 407.9h0M1569.5 352.3h0M1552.1 378.5h0M1559.3 528h0M1562.9 488h0M1557.3 519.4h0M1567.8 507.9h0M1586.2 520.2h0M1572.3 491.1h0M1579.6 485.6h0M1549.4 507.5h0M1566.8 412.8h0M1579 507.6h0M1577.3 439.2h0M1589.4 502.2h0M1580.4 453.9h0M1560.8 531.5h0M1554.2 475.4h0M1556.8 502.8h0M1582.9 468.5h0M1592.2 521.6h0M1581.5 457.6h0M1561.9 422.6h0M1567.1 436.8h0M1584.7 530.5h0M1551.8 485h0M1563 503.8h0M1569.3 501h0M1548.9 392.9h0M1595.6 505.5h0M1560.5 532.8h0M1570.8 477.5h0M1638 495.6h0M1568.4 420.3h0M1593.1 319.1h0M1576 528.3h0M1553.8 503.2h0M1571.8 520.8h0M1583.8 530h0M1687.2 340.3h0M1564.3 498.6h0M1573.5 514.5h0M1551.5 372.2h0M1564.3 528.9h0M1598.6 526.5h0M1593.1 446.5h0M1555.3 509.8h0M1564.8 506.6h0M1559.5 464.7h0M1564.9 365.3h0M1586.9 480.6h0M1551.8 535.3h0M1552.7 275.5h0M1839.4 258.1h0M1568.9 535.3h0M1563.9 401.4h0M1592.8 464.6h0M1570 494.2h0M1558 415.8h0M1570.7 441.4h0M1568.5 520.2h0M1595.3 523.2h0M1619.6 499.2h0M1565.3 436.6h0M1555.9 463.3h0M1551.3 425.8h0M1625.1 408.6h0M1573.7 533.3h0M1561.6 531.8h0M1566.8 431.6h0M1555.1 528.7h0M1581.7 451h0M1555.9 525.3h0M1570.3 535.3h0M1559.7 404.7h0"/>
<path stroke="#CE3A53" d="M1595.5 529.9h0M1556.2 413.6h0M1556.8 530.7h0M1566.4 445.4h0M1621 535.3h0M1557.2 464.2h0M1553.8 528.2h0M1558.9 493.6h0M1564.5 492.5h0M1570.9 535.3h0M1560.1 535.3h0M1570.3 531.9h0M1931.1 488.5h0M1565.7 508.1h0M1576.8 534.9h0M1560.2 498.6h0M1568.2 441.2h0M1583.6 520.6h0M1559.9 494.7h0M1566 531.7h0M1564.3 514.1h0M1610.4 495.3h0M1552.9 516.5h0M1561.9 504.1h0M1559.9 516.7h0M1634.5 526.1h0M1552.2 534.4h0M1552.9 476.4h0M1782.8 519.7h0M1566.1 514h0M1597.5 535.3h0M1574.7 527.1h0M1567.6 520.4h0M1561.6 522.9h0M1567.8 500.2h0M1560.6 337h0M1567 492.1h0M1678.1 535.1h0M1549 417.3h0M1575 535.3h0M1558.2 351.6h0M1555.1 526.8h0M1575.7 494.4h0M1560 533.1h0M1567.7 508.6h0M1809.4 534.4h0M1584.2 456.9h0M1587.9 358.3h0M1600.8 535.3h0M1603.2 520.5h0M1592.6 403.4h0M1707.4 534.9h0M1653.5 534h0M1631.1 411h0M1554.9 416.8h0M1600 497.6h0M1841.6 518.6h0M1577.9 487h0M1591.8 526.5h0M1567.8 535.3h0M1576.8 496.3h0M1690.1 534.9h0M1604.3 535.3h0M1563.8 535.3h0M1597.2 456.8h0M1582.5 447.7h0M1593.1 527.4h0M1561.9 528h0M1587.5 518.5h0M1669.3 436.4h0M1548.6 413.2h0M1568.5 489.4h0M1568.4 535.3h0M1578.1 531h0M1589.2 512.3h0M1560.4 518.1h0M1558.7 445.2h0M1691 334.7h0M1569.2 473.6h0M1599.9 521.4h0M1553.5 429.3h0M1628 420h0M1668.9 528.8h0M1566 294.8h0M1587.2 469.8h0M1555.1 526.4h0M1559.4 474.7h0M1564.1 392.1h0M1550.6 427.2h0M1561.4 428.5h0M1564 496.6h0M1567.1 319.4h0M1560.1 500.6h0M1584.4 458.3h0M1615.7 519.2h0M1572.5 504.4h0M1562 509.1h0M1554.5 529.5h0M1879.9 520.5h0M1647.7 495.3h0M1564.8 504.9h0"/>
<path stroke="#BDBDBD" d="M1553.1 488.8h0M1569.8 473.3h0M1564 464.2h0M1903.7 533.6h0M1594.9 508.8h0M1565.5 463.3h0M1571.2 434.3h0M1890.3 534.2h0M1583.5 457.3h0M1591.2 471.9h0M1595.3 503.5h0M1584.2 503.1h0M1896 534.6h0M1558.6 519.6h0M1572.8 490.5h0M1598.2 535.3h0M1577.6 458.8h0M1557.6 489.4h0M1574.4 515.3h0M1569.8 461.8h0M1556.9 460.6h0M1554.2 515.6h0M1916.2 530.1h0M1560.7 521.5h0M1561.3 525.2h0M1596.5 517.2h0M1596.2 448h0M1908.2 519.5h0M1579.3 521.5h0M1900.3 526.3h0M1564.7 535.3h0M1564.9 447.2h0M1627 495.4h0M1556.7 522h0M1555.8 527.7h0M1554.6 535.3h0M1571.1 514.3h0M1563.6 529.4h0M1578.6 197.2h0M1565.4 512.4h0M1549.2 499.7h0M1597.3 534.2h0M1901.2 427.1h0M1564.6 531.4h0M1563.5 474.2h0M1586.3 507.8h0M1569.4 502.4h0M1554.9 535.3h0M1558.4 530.3h0M1547.8 524.6h0M1556.5 535.2h0M1562.5 513h0M1590.9 519.7h0"/>
<path stroke="#DC9BD6" d="M1618.8 507.7h0M1577.6 498h0M1551.7 501.6h0M1550.9 440.9h0M1564.5 497.6h0M1558 521.8h0M1574.2 504.3h0M1634.3 532.3h0M1558.7 518.7h0M1550.6 432h0M1571 484.2h0M1575.4 525.8h0M1572.3 419.8h0M1569.3 416.7h0M1617.3 446.9h0"/>
<path stroke="#9A3AA3" d="M1563.5 433.6h0M1611.6 503.6h0M1576.7 439.2h0M1590.9 413.4h0M1574.5 534.9h0M1619.5 531.6h0M1577 471.7h0M1570.8 474.3h0M1615.1 411h0M1622.5 506.8h0M1587.9 515.1h0M1572.2 424.6h0"/>
<path stroke="#EDC75B" d="M1568.3 491.4h0M1568.8 497.5h0M1581.9 521.7h0M1566.8 472h0M1577.8 511.4h0M1550.9 512.6h0M1557.3 532.2h0M1580.9 530.3h0M1563.3 506.1h0M1551.8 493.7h0M1608.3 421.3h0M1561.5 497.8h0M1563.8 475h0M1588.6 495.6h0M1930.5 472.4h0M1575.3 468.7h0M1561.6 417.9h0M1594.5 489.1h0M1586.7 512.4h0M1553.5 526h0M1571.2 503.9h0M1617.7 514.8h0M1572.7 487.3h0M1559.5 503.1h0M1584.7 502.1h0M1559.1 523.5h0M1573.3 521.5h0M1568.8 426.3h0M1584.6 506h0M1572 518.4h0M1554.7 510.5h0M1558.7 523.6h0M1589.2 530.5h0M1568.4 503.2h0M1570.9 433.3h0M1586.1 413.3h0M1566.6 524.4h0M1554.7 514.8h0M1626.1 411.8h0M1589 461.5h0M1574.7 500.1h0M1563.1 504h0M1614.9 456.4h0M1555.1 476.6h0M1566.3 503.1h0M1568.7 532.2h0M1564.3 474.9h0M1551.7 521.7h0M1554.5 519.8h0M1578 517.8h0M1598.5 496.5h0M1591.2 526.9h0M1593.6 507.7h0M1561.3 447.6h0M1600.6 535.3h0M1565.3 534.1h0M1571 529.4h0M1566.8 524.2h0M1551.6 484.6h0M1580.2 520h0M1566.6 520.4h0M1563.2 527.3h0M1553.2 510.5h0M1554.8 473.9h0M1561.6 510.5h0"/>
<path stroke="#46A078" d="M1574.5 478.4h0M1563.7 483.2h0M1560.9 432.5h0M1568.4 524.1h0M1558.8 535.3h0M1580.6 475.9h0M1569.8 385.2h0M1555.8 497.2h0M1571.6 479.3h0M1589.3 481.8h0M1559.6 514.8h0M1576.6 445.7h0M1579.1 469.2h0M1572.7 535.3h0M1617 517.8h0M1555 520.9h0M1593.6 486.9h0M1676.6 261.2h0M1554.6 505.3h0M1568.8 451.4h0M1590.7 429.6h0M1589.8 424.8h0M1555.8 522.1h0M1562.9 508.7h0M1569.5 475.6h0M1577.2 515.9h0M1561.2 535.3h0M1550.2 502.7h0M1558.9 463.2h0M1567.4 526.2h0M1573.5 410.7h0M1561.6 529.6h0M1577.1 417.6h0M1574.4 526.6h0M1567.6 465.4h0M1550.8 513.5h0M1576.8 507.2h0M1554.4 511h0M1611.9 309.4h0M1566.8 459.5h0M1576.1 488.8h0M1563.3 409.7h0M1551.3 513.1h0M1559.9 482.4h0M1562.7 500.9h0M1608.4 530.1h0M1550.1 276.1h0M1557.3 523.2h0M1553.9 478.3h0M1731.8 258.7h0M1571 313.2h0M1561.6 535.3h0M1598.4 520.8h0M1551.3 495.1h0M1643.7 350.7h0M1596.1 513.3h0M1557.3 509.1h0M1552.6 535.3h0M1565.9 354h0M1560.7 456.8h0M1555.9 476.3h0M1566.4 522.4h0M1554.6 518h0M1570.8 461.7h0M1556.4 531.3h0M1550.2 535.3h0M1563.2 439.8h0M1569.3 415h0M1573.7 534.1h0M1563 475.2h0M1574.3 466.5h0M1722.6 448.5h0M1582.8 409h0M1615.3 483.3h0M1570.6 508.8h0M1676 418.5h0M1588.9 473.4h0M1573 515.1h0M1555.4 527.8h0M1566.4 327.1h0M1587.6 482.1h0M1577.8 419.4h0M1562.9 440.1h0M1598.1 485.7h0M1586.4 422.1h0M1579.1 534.8h0M1565.6 479.4h0M1567.7 290.4h0M1565 405.7h0M1586.2 452.8h0M1585 497.8h0M1576.5 523.6h0M1637.3 488.1h0M1566.5 353.7h0M1548.5 374.3h0M1551.8 460h0M1575.3 456.2h0M1556.8 477.9h0M1579.7 460h0M1566.3 459.3h0M1585.1 520.1h0M1575 486h0M1568.9 441.6h0M1563.4 370.7h0M1564.8 535.3h0M1550.4 300.7h0M1551.7 466.9h0M1578.4 427.1h0M1666.6 273.5h0M1595.4 437.1h0M1593.8 512h0M1576 497.9h0M1566.8 530.8h0M1573 320.4h0M1555.6 498.4h0M1579.2 525.1h0M1623.6 529.3h0M1557.2 535.3h0M1583.8 491.3h0M1575.6 491.5h0M1570.7 428.7h0M1561 515.3h0M1581.2 532.7h0M1664.8 183.7h0M1555.6 498.9h0M1548.9 475.4h0M1571.6 401.4h0M1581.5 357.9h0M1571.6 497.3h0M1564 465.5h0M1582.5 514.8h0M1709.3 517h0M1567.2 535.3h0M1581.1 523.9h0M1583.3 482.4h0M1570 526.7h0M1585.1 498.2h0M1593.7 476.4h0M1565.7 400.7h0M1589.2 494.7h0M1571.3 509.2h0M1574.5 522.6h0M1569.5 533.4h0M1579.4 374.4h0M1550.9 447.1h0M1565.3 447.8h0M1602.8 452.5h0M1563.8 396.3h0M1547.8 437.5h0M1580.9 496.9h0M1560.8 444.7h0M1611.1 473.8h0M1556.9 535.3h0M1571.5 443.1h0M1553.7 454h0M1561.6 482.8h0M1564.6 517.8h0M1557.7 535.3h0M1556.8 429.5h0M1555.3 367.1h0M1590.8 403.3h0M1596.9 535.3h0M1596.5 457.4h0M1576.7 496.7h0M1586 535.3h0M1577.8 461h0M1581.7 535.3h0M1566 420.4h0M1553.5 414.3h0M1553.4 508.2h0M1576.2 358.9h0M1558.9 376.2h0M1579 456.1h0M1560.2 465.9h0M1581.3 502.7h0M1564.2 375.5h0M1562.6 521.6h0M1564.7 434.1h0M1572.2 276.7h0M1570.2 470.3h0M1584.2 440h0M1598.1 461.6h0M1552.8 522.7h0M1704.5 371.3h0M1570.7 528.1h0M1550.1 505h0M1560.1 413.7h0M1595 332.9h0M1555.9 488.7h0M1593.5 530.4h0M1554.4 517.9h0M1563 449.8h0M1564 381.6h0M1586 445.1h0M1556.8 526.5h0M1563.3 519.6h0M1549.7 481.1h0M1576.8 507.7h0M1561.5 522.8h0M1549.4 492h0M1565.1 427.8h0M1606.8 397.4h0M1637 519.6h0M1576 513.8h0M1563.8 475.6h0M1563.9 518.8h0M1561.1 414.6h0M1568 508.6h0"/>
<path stroke="#EDC75B" d="M1557.9 459.2h0M1552.9 527.4h0M1555.2 502.5h0M1597.3 508.6h0M1583.7 531.9h0M1585.6 526.9h0M1630.9 500.9h0M1575.1 519.2h0M1570.4 535.3h0M1575.7 525.7h0M1563.6 533.6h0M1572.7 527h0M1578.6 486.9h0M1591.4 454.1h0M1568.4 535.3h0M1588.9 473.6h0M1557.3 505.8h0M1574.3 525.1h0M1593.7 438.6h0M1552.3 494.5h0M1582.6 503.6h0M1564.9 423.6h0M1555.1 523.6h0M1600.3 512.6h0M1555.9 503.1h0M1570.3 507.3h0M1579.8 474.2h0M1563.7 398.3h0M1575.2 514.3h0M1585.7 526.1h0M1557.3 517.4h0M1575.4 526.6h0M1582.2 493.1h0M1566.4 532.8h0M1555.8 517.7h0M1585.2 517.8h0M1557.5 504.3h0M1594.9 527.5h0M1577.3 534.9h0M1599.7 512.3h0M1578.8 516.4h0M1629.6 454.8h0M1557.7 512.5h0M1559.2 496h0M1561.9 501h0M1598.4 511.9h0M1574.1 525.6h0M1582.6 533.7h0M1555.9 460.3h0M1564.7 382.5h0M1596.4 491.5h0M1584.5 533.2h0M1577.4 516.8h0M1631.1 534.6h0M1558.2 514.3h0M1561.9 534.8h0M1574.9 527.7h0M1552.1 512.9h0M1575.6 534.9h0M1559.7 510.8h0M1578.8 474.3h0M1587.5 474.9h0M1565.2 473.4h0M1556.1 489.8h0M1560 477.9h0M1600.4 510.1h0M1558.6 454.3h0M1550.5 467.3h0M1598.7 505.3h0"/>
<path stroke="#BDBDBD" d="M1932.4 483.5h0M1572.8 443.8h0M1561.1 535.3h0M1568.9 393.4h0M1560 496.1h0M1632.4 534.6h0M1577.3 464.5h0M1564.2 534.3h0M1592.3 535.1h0M1559.1 482.9h0M1561.7 534.2h0M1571.4 430h0M1553.5 518.4h0M1575.4 512.1h0M1554 473h0M1787.1 486.2h0M1561.8 522.2h0M1595 488.5h0M1596 528.5h0M1556.2 402.9h0M1560.3 526.8h0M1589.5 535.3h0M1872.7 493.6h0M1552.9 470.4h0M1589.1 532.8h0M1556.4 509.4h0M1975.1 471h0M1757.4 535.3h0M1605.2 523.2h0M1910.1 531.1h0M1570.3 423.4h0M1929.5 463.7h0M1562.7 531.3h0M1568.4 527.3h0M1561.8 533.3h0M1558.2 507.6h0M1550 523.8h0M1579 522.1h0M1576 535.3h0M1572.6 506.6h0M1572.1 535.3h0M1838.3 530.1h0M1556.6 438.7h0M1569.4 422.2h0M1560 516.7h0M1561.3 535.3h0M1548.3 530.9h0M1642.3 441.6h0M1560 526.2h0M1711.8 486.4h0M1548.3 487h0M1889.5 526.3h0M1578.3 495.6h0M1565.1 516.2h0M1554.9 486.9h0M1817.3 518.8h0M1592 474.1h0M1548.9 493.7h0M1561.3 534.6h0M1589.9 535.3h0M1558.7 520.5h0M1568.7 535.3h0"/>
<path stroke="#CE3A53" d="M1622 514.5h0M1548.7 453.3h0M1564 468.3h0M1557.9 468.3h0M1558.9 512.8h0M1586.3 508.4h0M1681.6 384.6h0M1618.3 496.7h0M1615.1 147.6h0M1563.4 535.3h0M1567.5 504.1h0M1562.6 465.2h0M1592.9 533.6h0M1556.8 521h0M1578.8 401.3h0M1558.4 452.2h0M1615.1 535.3h0M1563.7 529.8h0M1566.3 505.5h0M1613.9 500.5h0M1614.3 477.3h0M1569.4 471.3h0M1595.8 531.9h0M1555.7 392.3h0M1682.2 447.4h0M1775.9 488.7h0M1596.5 487.1h0M1552 521.7h0M1577 520.8h0M1558.3 491.5h0M1727.4 498.9h0M1566.1 398.3h0M1591.1 535.3h0M1565 513.7h0M1844.1 524.5h0M1564.7 524.7h0M1610.4 503.8h0M1555 436.4h0M1587.6 411.7h0M1597.9 446.6h0M1571.7 535.3h0M1567.1 493.8h0M1561.5 519h0M1578.8 486.1h0M1604.7 531.7h0M1699.5 535.1h0M1582 535.3h0M1559.5 524.4h0M1577.6 518.4h0M1593.3 535.3h0M1550.4 410.4h0M1595.3 504h0M1559.2 527.5h0M1726.6 520.5h0M1912 508.6h0M1570.6 367.7h0M1572.6 533.1h0M1592.8 489.8h0M1554.2 529.4h0M1567.4 535.3h0M1613.3 346.9h0M1554.1 471.5h0M1563.4 475.6h0M1561.6 497.7h0M1586.6 535.3h0M1580.1 535.3h0M1701.6 525.9h0M1553.1 525.1h0M1576.1 374.9h0M1558.7 515h0M1572.4 529.2h0M1578.2 469.9h0M1775.5 467.4h0M1597.9 525.5h0M1558.7 533.1h0M1569.8 509.5h0M1632.3 534.5h0M1557.8 355.8h0M1580.2 436.2h0M1577.3 494.4h0M1680.8 486.2h0M1616 523.6h0M1562.1 506.7h0M1563.9 470.1h0M1591.3 502.5h0M1561.6 485.2h0M1575.1 521.8h0M1562.7 535.3h0M1558.2 524.4h0M1553.5 433.2h0M1550.5 379h0M1559.6 375.3h0"/>
<path stroke="#9A3AA3" d="M1630.5 384.3h0M1587.1 468.9h0M1563.5 486.9h0M1615.3 494.4h0M1585.5 438.1h0M1598.1 524.2h0M1559.3 512h0M1615.5 425h0M1600 505.1h0M1614.6 367.5h0M1648.1 531.7h0M1617.7 505.8h0M1624.4 410.9h0M1583.8 505.8h0M1608.2 429.5h0M1599.1 513.2h0M1635.6 504.2h0"/>
<path stroke="#DC9BD6" d="M1555 513.3h0M1581.2 435.3h0M1595.4 494h0M1575 528.6h0M1559.2 514.9h0M1721.4 441.2h0M1558.6 399.4h0M1567.5 509.1h0M1797.5 533.6h0M1586.2 387.5h0M1578.6 528.4h0M1552.1 521h0M1581.2 508.6h0M1567.2 381.2h0M1591.6 478.2h0"/>
<path stroke="#DC9BD6" d="M1552.4 504.5h0M1559.2 415.6h0M1586.1 456.7h0M1570.8 530.9h0M1549.5 469.3h0M1575.6 504.4h0M1883.5 527.2h0M1553.3 503.3h0M1598.7 426.3h0M1554 476h0M1548.8 488.1h0M1566.8 495.6h0M1561.8 500h0M1573 428.7h0M1579.6 522.8h0"/>
<path stroke="#BDBDBD" d="M1568.4 511h0M1567.6 535.3h0M1577.3 531.7h0M1554.7 526.9h0M1552.9 509.7h0M1791.5 322.8h0M1584.1 510.3h0M1791.7 531.7h0M1570.2 470.4h0M1581.2 520.5h0M1561.8 433.3h0M1584.3 532h0M1616.2 513.9h0M1590.1 519.3h0M1839.6 535.3h0M1581.1 505.5h0M1558.5 464.4h0M1551.1 535.3h0M1575.1 516.3h0M1555.4 438.8h0M1566.7 525.7h0M1557.2 535.3h0M1938.4 475.5h0M1555 535.3h0M1598.6 510.4h0M1569.3 515.1h0M1566.3 535.3h0M1564.1 507.7h0M1552.4 528h0M1887 526.3h0M1560.3 456h0M1576 530.4h0M1840.2 524.9h0M1552.3 532.1h0M1898.1 406.3h0M1585 482.8h0M1906.2 476.2h0M1570.4 535.3h0M1595.3 535.3h0M1574.8 503.3h0M1566.5 430.2h0M1554 535.3h0M1865.4 512.4h0M1587.7 486.4h0M1582.1 525.8h0M1637.8 426h0M1558.2 531.4h0M1715.8 524.5h0M1554.4 500.5h0M1571.5 507.8h0M1580.4 531.3h0M1916.2 535.3h0M1549.5 525.2h0M1615.9 452.2h0M1592.6 535.3h0M1819.4 535.3h0M1588.5 492.4h0M1590 389.2h0M1588.8 495.6h0M1564.4 524.7h0M1565.3 523.1h0M1663.9 526.1h0M1618.3 520.3h0M1661.6 450.6h0M1567.4 504.2h0M1555.8 462h0M1590.9 455.5h0M1886.8 490.7h0M1570.8 471h0"/>
<path stroke="#46A078" d="M1580.7 525.6h0M1591.7 535.3h0M1569 403.3h0M1559.5 510.9h0M1570.1 496.5h0M1560.7 476.8h0M1578.6 511.5h0M1586 378.1h0M1615.8 509.5h0M1594.3 534h0M1554.5 497.2h0M1561.5 442.5h0M1571.1 487.3h0M1579.5 508.2h0M1574.2 535.3h0M1562.1 390.5h0M1562.9 513.3h0M1566.3 510.9h0M1587.1 535.3h0M1562.6 374h0M1581.7 480.8h0M1586.5 472.2h0M1563.7 535.3h0M1571.6 402.8h0M1555.7 426.4h0M1580.3 296.6h0M1586.3 432.1h0M1557.8 418.1h0M1571.4 510h0M1573.9 472h0M1561.9 502.8h0M1693.5 271h0M1572.2 520.5h0M1653.5 342.2h0M1561.1 435.3h0M1569.4 497.6h0M1555.1 368.5h0M1566.5 535.3h0M1560.1 535.3h0M1587.7 528.8h0M1599.5 446.8h0M1559.2 468.2h0M1577 437.1h0M1591.7 516.2h0M1554 535.3h0M1566.2 443.4h0M1561.3 463.3h0M1556.5 529.5h0M1651.6 478.3h0M1566.6 509.7h0M1683.9 534.6h0M1589.6 470.2h0M1577.4 494.1h0M1566.7 461.4h0M1566.1 386.7h0M1563.8 445.6h0M1552.2 535.3h0M1629.2 524.9h0M1589.1 524.6h0M1598.2 467.9h0M1583.4 521.8h0M1576.6 486.5h0M1579.1 348.5h0M1563.1 467.5h0M1574.4 374.6h0M1566.9 316.1h0M1554.3 373.5h0M1563.4 524.5h0M1604.1 502.3h0M1556.7 442.2h0M1549.3 470.2h0M1551.2 455.5h0M1565.1 524h0M1573 458.1h0M1585.6 456h0M1587.7 483.4h0M1547.8 510.6h0M1566.4 395.9h0M1557.2 343.1h0M1562.8 506.7h0M1631.7 526.8h0M1565.3 479.6h0M1583.5 535.3h0M1563.4 535.3h0M1569.9 526.3h0M1585.6 503.6h0M1643.9 470.1h0M1553.9 409.3h0M1559.1 408.1h0M1559.7 386.3h0M1568.5 507.7h0M1573 421.5h0M1553.3 436.5h0M1557.1 439.4h0M1552.7 382.5h0M1576.1 503.6h0M1594.8 531.2h0M1603.4 391h0M1567.3 504.6h0M1598.2 188.2h0M1561.8 535.3h0M1568.6 320h0M1576.4 534.3h0M1566.1 471.4h0M1580.8 496h0M1588.1 470.7h0M1551.6 509.5h0M1566.9 472.4h0M1568.1 433.9h0M1570.9 483h0M1567.6 439h0M1554.8 485.8h0M1564.2 335.1h0M1555.6 488.4h0M1575.6 403.4h0M1560.7 518.1h0M1563.6 519.7h0M1556.1 520.7h0M1555.1 535.3h0M1591.3 498h0M1566.2 430.6h0M1580.3 532.1h0M1553.7 460.8h0M1554.4 507.3h0M1597.4 505.6h0M1580.5 511.9h0M1555.3 482.5h0M1624.8 512.3h0M1551.4 513.4h0M1577.6 446.5h0M1570.7 478.6h0M1561.6 514.3h0M1707 463.9h0M1552.1 512.2h0M1573.5 514.4h0M1597.6 438.5h0M1588.5 486.5h0M1595.9 412.1h0M1552.1 381.6h0M1559.8 480.3h0M1563.9 535.3h0M1591.5 518.4h0M1620.1 247.8h0M1563.7 503.9h0M1580.2 441.2h0M1564 420.1h0M1595.8 520h0M1555.8 475.1h0M1572.9 498.1h0M1574.3 535.3h0M1562.1 447.8h0M1550.7 296.8h0M1687.9 493.7h0M1550.7 449h0M1550.8 449.4h0M1594.7 526.8h0M1551.9 390.2h0M1568.9 333.2h0M1577.5 442.1h0M1585.3 515.1h0M1554 483.3h0M1565.1 505.9h0M1598 508.6h0M1632.7 475.2h0M1576.8 486.7h0M1583.5 524.2h0M1557 492.5h0M1592.2 535.3h0M1557.1 389.4h0M1563.9 515.1h0M1585.1 494.6h0M1551.7 475.6h0M1699.5 481.2h0M1560.2 520.2h0M1564.6 432.6h0M1590.1 535.3h0M1548.7 520.2h0M1566.8 481.2h0M1619.4 441.1h0M1584.5 534.9h0M1551 501.5h0M1634.3 522.3h0M1565.7 511.5h0M1553 398.2h0M1564.1 481h0M1554.6 535.3h0M1552.8 466.7h0M1552.7 529.3h0M1591.2 490.6h0M1556 382.3h0M1560.9 517.5h0M1584.5 473h0M1603.5 515.7h0M1553.1 419.8h0M1572.5 412.1h0M1560.2 535.3h0M1568.6 346.7h0M1567 493.9h0M1549 523.4h0M1597.1 407.7h0M1567.8 402h0M1585.9 535.3h0M1680.8 351.9h0M1554.5 467.6h0M1576.1 494.4h0"/>
<path stroke="#EDC75B" d="M1585.5 535.3h0M1598.8 520.7h0M1567.9 535.2h0M1570.8 516.2h0M1567.6 504.2h0M1551.6 534.1h0M1559.6 532.9h0M1581.9 483.7h0M1558.2 532.1h0M1588.1 464.9h0M1552.5 514.5h0M1568.5 508.6h0M1600 509.7h0M1557.2 514.2h0M1555.8 519.2h0M1550.3 533.3h0M1578.3 532.5h0M1562.2 513.4h0M1595.8 490.7h0M1555.3 535.3h0M1587.1 512.7h0M1586.7 461.2h0M1567.7 535.3h0M1572.7 492.2h0M1555.1 371.6h0M1570.8 499.9h0M1579.8 520.7h0M1591 528.5h0M1602.8 532.4h0M1599.4 520.9h0M1562.2 262.6h0M1568.6 528.8h0M1583 500.1h0M1560.8 432.1h0M1560.8 494.3h0M1578.6 511h0M1571.8 444h0M1573.1 514.2h0M1559.8 526h0M1568.6 483.3h0M1551.5 518.5h0M1570.4 522.9h0M1570.9 513h0M1610.7 492.7h0M1594 521.7h0M1582.7 535.3h0M1574.6 535.3h0M1561.9 529.6h0M1576.8 483.9h0M1564.6 517.3h0M1573.1 496.6h0M1550.7 504.9h0M1599.8 532.7h0M1599.5 532.8h0M1577.7 513.2h0M1567.5 497h0M1631.2 520.8h0M1563 410.1h0M1576.4 456.2h0M1553.8 462.4h0M1556.8 530.7h0M1564.9 535.3h0M1597 533.7h0M1556.4 519.8h0M1552.3 535.3h0M1568.4 535.3h0M1563.4 531.5h0M1608.5 454.3h0M1586 532.6h0M1566.3 509.2h0M1569.7 493.7h0"/>
<path stroke="#9A3AA3" d="M1618.9 437.8h0M1572.9 531.3h0M1590.7 488.9h0M1616.9 515.3h0M1617.8 484.1h0M1590.1 516.4h0M1624.8 462.5h0M1615.9 454.5h0M1685 516.5h0M1586.4 504h0M1600.3 509.7h0M1618.4 502.2h0M1610 523.2h0M1626 534.1h0M1583.3 439.3h0M1633.7 428h0M1615.7 461h0M1584.5 474.9h0M1615.1 217.5h0"/>
<path stroke="#CE3A53" d="M1554.9 507.2h0M1934 449.5h0M1601.6 509.2h0M1593.6 530.1h0M1662.7 474.3h0M1657.9 237.9h0M1595.5 488.5h0M1583.2 507.9h0M1553.4 457.6h0M1554.4 467.1h0M1563.2 496.9h0M1581.9 417.3h0M1572.9 438.2h0M1557.4 461.1h0M1557.4 494.1h0M1554.5 501.7h0M1563.1 493.5h0M1594.9 535.3h0M1588.1 503.9h0M1585.1 522.4h0M1552 376.4h0M1573.3 509.2h0M1590 344.6h0M1559.9 535.3h0M1557.1 395.7h0M1654.8 516.8h0M1648.7 534.6h0M1561.2 367.9h0M1567.9 389.5h0M1553.9 531.1h0M1605.3 505.1h0M1561.1 346.9h0M1606.2 522.8h0M1577.6 509.6h0M1583 527.3h0M1548.7 522.4h0M1571.8 484.7h0M1557.9 335.3h0M1557.5 530.7h0M1575.4 489.5h0M1624.6 505.3h0M1573.3 498.9h0M1563.4 486.5h0M1562 535.1h0M1688.1 534.9h0M1568.1 496.4h0M1583.7 462h0M1637.5 535.3h0M1568 435.1h0M1564.7 524.8h0M1578.8 531.9h0M1584 489.6h0M1574.5 366.4h0M1569.7 479.4h0M1553.2 535.3h0M1555.6 475.9h0M1558.1 425.2h0M1680.6 529.4h0M1556.6 514.8h0M1552.2 457.7h0M1707.8 529.4h0M1565.7 500.6h0M1562.9 478.9h0M1712.8 383.8h0M1560.1 531.9h0M1572.1 479.7h0M1563.7 502.3h0M1605.2 535.3h0M1563.5 495.8h0M1630.3 444.7h0M1554.6 449h0M1566.3 445.4h0M1552.6 494.9h0M1571.1 521.7h0M1600 501.4h0M1581 431.8h0M1558.9 526.2h0M1898 529.2h0M1555.9 424.8h0M1553.4 424.4h0M1580.1 508.5h0M1589.8 506.3h0M1552 531.2h0M1561.7 497.7h0"/>
<path stroke="#BDBDBD" d="M1856.6 530.1h0M1569.4 525.8h0M1565.2 527.7h0M1552.7 528.8h0M1558.5 460.3h0M1565.9 515.2h0M1592.7 491.1h0M1575.4 482.4h0M1571 499.7h0M1586.3 491.3h0M1899.9 534.9h0M1569.5 478h0M1584.4 504.5h0M1563.4 506.2h0M1552.8 481.9h0M1587.2 506.6h0M1552.7 505.5h0M1565.9 520.1h0M1578.4 530.6h0M1912 511.5h0M1558.5 504.2h0M1572.5 474h0M1564.7 531.9h0M1596.7 495.5h0M1557.5 436h0M1573.5 481h0M1564 508h0M1552.4 511.9h0M1568.5 492.1h0M1566.7 530.7h0M1891 403.5h0M1564.4 517.4h0M1598.4 514.5h0M1559.2 514.7h0M1569.2 527.5h0M1613.6 528.8h0M1686.2 513.8h0M1561.2 199.5h0M1917.8 502.8h0M1556.3 515.6h0M1575.4 493.1h0M1554.9 533.8h0M1904.5 417.3h0M1558.6 516.4h0M1558.6 510.6h0M1926.8 481.6h0M1594.3 445.2h0M1587.6 513.6h0M1616 525.8h0M1554.8 515.4h0M1567.8 534.6h0M1906.6 531.1h0M1556.5 456.8h0M1770.3 499.5h0M1559 510.5h0M1551.2 504.8h0M1580.8 457.1h0M1921.1 529.9h0M1574.7 416.6h0M1560.9 520.9h0M1562.4 510.9h0M1591.2 518.7h0M1556.3 502.8h0M1919.5 535.3h0M1553.2 530.6h0M1560.2 468.7h0"/>
<path stroke="#46A078" d="M1572.6 361.8h0M1553.9 485.7h0M1556 481h0M1630.4 197.2h0M1558.5 529.1h0M1551.7 315.5h0M1553.3 433.5h0M1587 350.1h0M1571.5 527.7h0M1552.8 490.2h0M1559.4 425.6h0M1548.3 470.9h0M1552.2 451.5h0M1596 456.3h0M1570.5 525.1h0M1587.4 448.9h0M1555.9 503.1h0M1560.4 523.1h0M1598.4 529.8h0M1557.7 449.7h0M1554 486.1h0M1551.7 535.3h0M1559.3 475.5h0M1579 494.3h0M1592.3 486.4h0M1582.6 455.3h0M1589.1 507.8h0M1579.2 134.1h0M1552.3 431.6h0M1551 529.6h0M1582.2 525.4h0M1631.4 371.5h0M1548.1 495.9h0M1595.7 410.2h0M1582 475h0M1557.5 514.3h0M1555.5 516.5h0M1555.2 497.6h0M1588.2 461h0M1575.3 507.5h0M1587.5 399.6h0M1550.9 506.5h0M1548.7 403.2h0M1547.8 506h0M1578 512.7h0M1603.9 507.7h0M1549.9 461.6h0M1568.6 513.7h0M1594.6 413.1h0M1663.1 242.1h0M1580.4 517.2h0M1558.2 516.7h0M1568.2 488.2h0M1575.2 396.4h0M1559.8 526.8h0M1563.9 488.1h0M1588.9 524.4h0M1575.4 521.6h0M1554 380.2h0M1567.6 458.2h0M1582.9 430.4h0M1589.3 534.1h0M1570 531.4h0M1550.1 461.8h0M1579 534.6h0M1575.1 445h0M1552.2 495.5h0M1580.7 371.6h0M1586.8 530h0M1558.9 450.3h0M1579.1 503.5h0M1615.1 174.7h0M1553.5 535.3h0M1554.3 487.9h0M1594.6 284.3h0M1555.3 526.5h0M1585.6 322.9h0M1558 422.7h0M1562.7 492.8h0M1677.7 330.3h0M1604.7 433.8h0M1554.6 419.9h0M1557.1 347.9h0M1566.1 478.5h0M1567.6 471.3h0M1596.5 491h0M1574 390.5h0M1570 464.1h0M1548.8 531.7h0M1554.4 386.5h0M1605.3 496.7h0M1565.7 499.2h0M1564.4 397.3h0M1551.4 532.1h0M1596 407.3h0M1592.7 459.8h0M1568.6 529.8h0M1572.7 436.7h0M1561.2 415.4h0M1571.2 516.2h0M1550.4 535.3h0M1560.8 532.7h0M1578.4 369.8h0M1548.8 491.4h0M1667.5 232.9h0M1652.7 282.4h0M1603.4 372.9h0M1593.8 341.7h0M1563.4 517.4h0M1559.1 415.6h0M1564.6 443.5h0M1589.6 522.9h0M1648.1 412.5h0M1555.9 364.3h0M1589.5 271h0M1553.3 415.2h0M1579.8 535.3h0M1554.4 432.7h0M1568.1 498.4h0M1560.1 447.7h0M1556.6 502.3h0M1570.6 510.4h0M1570.5 285.1h0M1585.3 366h0M1558.1 529.4h0M1565.6 535.3h0M1560.6 484h0M1572.2 453.6h0M1561.2 503.5h0M1552.7 531.9h0M1566.3 380.8h0M1577 518.3h0M1550.8 336.3h0M1562.7 283.2h0M1560.7 515.3h0M1576.4 335.5h0M1563.3 387.7h0M1587.8 535.3h0M1548.5 535.3h0M1573.9 204h0M1551.9 468.2h0M1586.9 431.2h0M1572.3 529.4h0M1569.6 502.7h0M1598.3 505.2h0M1585.7 412h0M1693.3 255.8h0M1601.3 513.9h0M1557.6 490.4h0M1571.9 415.7h0M1559 471.3h0M1576 444.6h0M1587.6 455.9h0M1560.8 504.6h0M1560.8 506h0M1571 415.1h0M1568 535.3h0M1560.7 511.5h0M1561.1 512.6h0M1577.6 219.7h0M1561.4 531.9h0M1579.8 506.5h0M1590.4 501.8h0M1628.8 527.7h0M1580.6 521.6h0M1581.1 454.7h0M1558.2 514.2h0M1573.5 521.2h0M1580.9 475h0M1568.8 503.6h0M1558.2 526.2h0M1549.6 341.5h0M1583.3 476.8h0M1560.5 474.9h0M1551.8 381.8h0M1592.6 506.1h0M1559.4 535.3h0M1628.9 450h0M1570 499.6h0M1578.8 520.1h0M1559.3 513.7h0M1577.8 519.3h0M1566.5 496.5h0M1563.7 414.1h0M1558.5 535.3h0M1550.6 492.8h0M1579.1 414.4h0M1586.6 416.1h0M1551 535.3h0M1563.4 474.9h0M1550.8 528.4h0M1565.3 471.7h0M1552.4 489.3h0M1556.3 404.8h0M1548 462.8h0M1569.8 517.7h0M1556.2 482.9h0M1596.4 473.9h0M1579.7 535.3h0M1554.2 507.4h0M1561.8 527h0M1558.2 520.1h0M1549.8 519.1h0M1561.8 535.3h0"/>
<path stroke="#EDC75B" d="M1599.6 476h0M1566.1 369.3h0M1591.4 526h0M1568.3 499.2h0M1560.8 419.3h0M1553.8 509.8h0M1554.5 517h0M1575.7 456.9h0M1580.9 471.8h0M1596.8 535.3h0M1597.8 524.1h0M1574.1 489.3h0M1581.6 498.9h0M1585.4 434.2h0M1580.5 353.6h0M1587.7 485.6h0M1557.3 535.3h0M1580 454.2h0M1560 470.5h0M1599.8 521.9h0M1573.1 509.7h0M1568.4 535.3h0M1561.7 404.9h0M1593.7 522.8h0M1586.5 513.4h0M1569.3 512.4h0M1574.1 515.3h0M1559.6 524h0M1582.3 514.9h0M1579.2 453.9h0M1603 428.5h0M1584.5 493h0M1573.1 520.1h0M1571.1 525.2h0M1596.1 489.2h0M1558.2 528.1h0M1596.7 529.3h0M1610 463.8h0M1571.3 531.8h0M1560.1 507.8h0M1552.2 529.1h0M1588.4 529.8h0M1555.7 530.7h0M1554.9 499.5h0M1583.3 528h0M1598.2 518h0M1588.5 523.9h0M1558.9 528.7h0M1559 496.5h0M1569.8 509.6h0M1596.8 476.3h0M1585.3 535.3h0M1565.1 484.2h0M1575.1 510.1h0M1576.4 529.3h0M1569.3 524.7h0M1577.4 509.9h0M1575 529.1h0M1573.3 501.5h0M1579.1 426.2h0M1595.8 533.5h0M1558 523.2h0M1558.4 503.9h0"/>
<path stroke="#CE3A53" d="M1570.8 530.8h0M1587.9 428.3h0M1568.6 485h0M1564.5 467.7h0M1562.1 432.7h0M1634 529.6h0M1552 441.9h0M1551.7 479.7h0M1553.5 334.1h0M1571 535.3h0M1568.7 513.2h0M1596.4 530.5h0M1566.7 460h0M1574.7 526.1h0M1902.4 448.3h0M1551.5 502h0M1559.1 514.1h0M1581.2 508h0M1654.7 98h0M1578 439.1h0M1786.3 534.9h0M1562.9 519.2h0M1554.2 458h0M1623.1 498.6h0M1597.4 432.2h0M1563 455.7h0M1556.5 535.3h0M1562.1 522.6h0M1560.4 524.2h0M1552.7 504.8h0M1562.6 467h0M1553.3 528.1h0M1572.6 414.1h0M1560.2 425.1h0M1598 501.5h0M1555.8 526.7h0M1583.6 481.5h0M1567.4 503.1h0M1614.9 492.2h0M1563.8 535.3h0M1934.1 523.8h0M1584.8 535.3h0M1564.8 455.9h0M1567.1 491.2h0M1573.5 485.5h0M1564.7 486.7h0M1556 319.9h0M1611.3 535.3h0M1612.4 459h0M1576 513.5h0M1563.5 524.5h0M1566.9 359.7h0M1571.7 485.5h0M1551.5 502.6h0M1555.7 535.3h0M1567 492.3h0M1560.3 530.5h0M1613.1 523.2h0M1564.6 431.7h0M1556.6 535.3h0M1573 519.7h0M1600.2 517.2h0M1614.6 490.5h0M1566.3 353.8h0M1558.2 456.2h0M1570 506.9h0M1563.2 481.3h0M1549.4 399.6h0M1552.2 512.9h0M1603.9 535.3h0M1600.9 497.2h0M1602.7 426.8h0M1575 523.7h0M1570.3 401.6h0M1614.7 516.5h0M1571.9 476.5h0M1613.8 466.7h0M1686.2 386.3h0M1557 492.9h0M1573 535.3h0M1565 513.1h0M1553.8 514.6h0M1680.4 396.3h0M1548.9 287.8h0M1555.6 534.2h0M1556.8 466.4h0M1577.5 473.1h0M1906.2 508h0M1570.1 525.4h0M1557.7 529.8h0M1552.1 506.7h0M1577.9 481.9h0M1556.1 505.1h0M1581.6 393h0M1570.9 466.3h0M1579 305h0M1576.2 459.8h0"/>
<path stroke="#9A3AA3" d="M1638 518.5h0M1610.6 506.7h0M1575.9 452.8h0M1623.3 524.3h0M1588 486.7h0M1583.7 464.9h0M1572.7 503.7h0M1604.8 511.8h0M1584.8 442.5h0M1609.1 527.2h0M1610.5 528h0M1593.4 522.6h0M1616 522.3h0M1611.8 504.5h0M1608.7 478.9h0M1571.8 437.8h0M1618.8 515.7h0M1652.3 484.9h0M1793 535.3h0"/>
<path stroke="#DC9BD6" d="M1595.5 459.3h0M1559.4 474.5h0M1587.3 478.6h0M1555.7 500.8h0M1549.2 408.3h0M1561.5 508.9h0M1563.5 458.2h0M1574.2 502.5h0M1612.6 509.8h0M1700.3 468.9h0M1554.3 528.8h0M1614.1 490.8h0M1577.2 490.9h0"/>
</g>
<rect x="1795.3" y="64.4" width="220.6" height="151" fill="#fff"/>
<rect x="1522.5" y="63.9" width="494.1" height="494.2" fill="none" stroke="#333" stroke-width="1.5"/>
<path d="M1544.8 558.1v3.4M1650.5 558.1v3.4M1756.2 558.1v3.4M1861.9 558.1v3.4M1967.6 558.1v3.4M1522.5 535.3h-3.4M1522.5 422.6h-3.4M1522.5 309.9h-3.4M1522.5 197.2h-3.4M1522.5 84.5h-3.4" stroke="#333" stroke-width="1.5" fill="none"/>
<g font-size="18.9" fill="#4d4d4d">
<text x="1544.8" y="577.6" text-anchor="middle">0</text>
<text x="1650.5" y="577.6" text-anchor="middle">20</text>
<text x="1756.2" y="577.6" text-anchor="middle">40</text>
<text x="1861.9" y="577.6" text-anchor="middle">60</text>
<text x="1967.6" y="577.6" text-anchor="middle">80</text>
<text x="1515.3" y="543.9" text-anchor="end">0</text>
<text x="1515.3" y="431.2" text-anchor="end">5</text>
<text x="1515.3" y="318.5" text-anchor="end">10</text>
<text x="1515.3" y="205.8" text-anchor="end">15</text>
<text x="1515.3" y="93.1" text-anchor="end">20</text>
</g>
<text x="1781.9" y="607" font-size="26.3" text-anchor="middle" fill="#000">Batch before correction (%)</text>
<text transform="translate(1480.2 316.3) rotate(-90)" font-size="26.3" text-anchor="middle" fill="#000">Age after correction (%)</text>
<text x="8.1" y="674.7" font-size="64" fill="#000">d</text>
<path d="M142.9 694.6V1187.2M277.4 694.6V1187.2M411.9 694.6V1187.2M546.5 694.6V1187.2M78.8 713.4H572.2M78.8 795.6H572.2M78.8 878H572.2M78.8 960.2H572.2M78.8 1042.5H572.2M78.8 1124.8H572.2" stroke="#ebebeb" stroke-width="0.7" fill="none"/>
<path d="M210.2 694.6V1187.2M344.7 694.6V1187.2M479.2 694.6V1187.2M78.8 754.5H572.2M78.8 836.8H572.2M78.8 919.1H572.2M78.8 1001.4H572.2M78.8 1083.7H572.2M78.8 1166H572.2" stroke="#ebebeb" stroke-width="1.4" fill="none"/>

<g fill="none" stroke-linecap="round" stroke-width="5.9">
<path stroke="#808CE0" d="M307.4 824.1h0M431.1 1024.2h0M336.9 888.7h0M259.8 894.7h0M383.8 767.4h0M483.7 912.5h0M353 998.7h0M240.4 937.8h0M172.1 945.1h0M391.1 916.9h0M477.8 879h0M379 1030.5h0M327.6 931.1h0M381.5 894h0M338.4 848.7h0M278.8 944.5h0M398.7 852.2h0M348.8 918.2h0M148.3 944.6h0M315.6 926.9h0M328.5 966.4h0M448.7 995.3h0M322.3 860.4h0M279.1 813.3h0M313.4 981.5h0M382.1 902.9h0M263.3 925.8h0M342.3 1049.7h0M368.2 958.3h0M364.6 847.5h0M443.7 826h0M282 954.1h0M334.3 972.6h0M431 954h0M287.8 1070.4h0M364.3 862.2h0M223.1 849.1h0M392.2 896.3h0M210.3 972.7h0M100.6 836h0M110.7 842.6h0M214.6 870.8h0M294.5 974.5h0M311.3 957.1h0M369.1 937h0M279.9 1023.5h0M388.8 901.9h0M298.5 1018.3h0M200.7 897.5h0M396.8 941.4h0M455.1 815h0M299.4 989.8h0M376.9 1042.4h0M376.2 882.4h0M274.2 904.8h0M338.6 892.6h0M348.8 975.8h0M325.5 1029.5h0M163.1 898.5h0M459.3 983.8h0M223.9 875.9h0M152.4 1082.1h0M404.5 954.8h0M299 1053.3h0M284.5 1020.3h0M396 815.1h0M420.9 1037.3h0M417.3 1060.2h0M420.7 1016h0M368.1 925h0M347.3 853h0M475.3 971.3h0M295.7 1034.4h0M438.6 899.2h0M490.3 1023.5h0M441.2 877.1h0M228 880.9h0M417.6 925.5h0"/>
<path stroke="#96C686" d="M294.6 912.3h0M181.3 813.8h0M310.2 1041.1h0M471.6 878.6h0M345.4 962.1h0M334.2 953.8h0M398.7 793.8h0M256.5 857.2h0M314.7 1035.3h0M198.2 1097.7h0M237.1 860.2h0M241.7 953.2h0M349.9 946.6h0M423.4 943.4h0M196.1 895.6h0M287.4 875.7h0M352.1 827.4h0M411.7 963.9h0M410 985h0M215.4 820.6h0M384.3 1054.9h0M267.6 808.7h0M369 735.7h0M524.9 911.7h0M463.7 868.9h0M221.8 848.2h0M359 968.4h0M359.6 910.7h0M318.6 993.9h0M306.4 925.2h0M345.9 800.6h0M354.2 1017.8h0M242.1 948h0M294.2 927.1h0M384.4 871h0M409.9 1096.9h0M285.5 730.5h0M359.1 1013.4h0M477.7 1017.1h0M345.1 943.2h0M252.6 819.5h0M247.8 908.5h0M340 1087h0M484.3 949.6h0M408 894.3h0M505 872.4h0M317.6 981.8h0M415.2 965.4h0M474.2 828.8h0M194 731.2h0M455.5 854.6h0M403 954.7h0M208 929h0M511.5 998.4h0M241.3 845.5h0M327.3 851.6h0M430.6 987.3h0M383.2 983.3h0M282.3 1038.9h0M222.7 883.8h0M436.8 1002.3h0M391 1031.8h0M453.9 945.6h0M438.1 857.9h0M392.5 980.3h0M442.3 1002.2h0M385.6 941.4h0M273.4 1067.4h0M365.9 774.4h0M474.1 991.7h0M409.3 738.9h0M355.7 841.5h0M292.4 943.4h0M138.9 887h0M384.7 987.1h0M356.5 956.4h0M315 990h0M378.4 804.1h0M295.4 1078.3h0M369.9 937.9h0M230.2 900h0M354.5 996.5h0"/>
<path stroke="#96C686" d="M438.9 932.7h0M279.7 922.2h0M212.6 910.5h0M318.9 898.8h0M258.6 1034h0M347.1 932.4h0M363.2 818.7h0M307.4 1012.8h0M305 1038.4h0M488.1 908.9h0M257.4 1026.4h0M315.3 1064.9h0M363.2 789.6h0M487.9 1022.3h0M435.6 994.3h0M309.9 892.1h0M289.4 1005.9h0M352.6 820.2h0M364.2 932.3h0M310 984.8h0M375.8 928.4h0M273.4 1006.9h0M422.3 845.3h0M387 858h0M202.2 947.1h0M482.4 918.7h0M232 840.1h0M430.6 933.2h0M319.1 716.6h0M164.3 930.4h0M305.4 1003.7h0M299.2 810.3h0M165.8 822.8h0M370.8 795.2h0M434.8 940.3h0M222 837.1h0M383.2 947.6h0M436 957.6h0M440.3 807h0M431.9 971.6h0M390.4 923.3h0M271.3 801.8h0M182.1 809.8h0M332.9 1096.5h0M372.8 945.2h0M300 927.6h0M294 905.4h0M124.8 847.5h0M259.7 850.6h0M369.2 832.5h0M342.4 897h0M332.6 963.7h0M301.4 932.1h0M418.8 960.2h0M312.8 945.1h0M409.4 965.7h0M467.9 913.6h0M381.7 884.6h0M310.2 905.4h0M312.6 903h0M292 775.7h0M238 778.7h0M424.3 897.3h0M436.2 1095.2h0M285.4 991.2h0M340.9 972.9h0M255.2 767.5h0M283.2 900.9h0M461 1006.3h0M327.6 1018h0"/>
<path stroke="#808CE0" d="M366.8 851.4h0M281.2 936.9h0M395 971.3h0M221.1 921.9h0M321.2 911.2h0M375.1 903.3h0M278.5 917.6h0M231.7 914h0M228 1025.1h0M452.3 836.1h0M274.8 931h0M408 979h0M356.7 842h0M410.6 787.3h0M270.6 880.9h0M455.4 888.3h0M426.8 1057.1h0M394 810.2h0M324.8 919.6h0M371.6 1024.5h0M416.5 767.9h0M372 988.3h0M270.3 871.5h0M356.6 812.3h0M231.3 979.3h0M230.8 912.3h0M480.5 865.8h0M337.7 915.8h0M345.7 861.2h0M352.3 923.3h0M372.9 1015.6h0M373.6 1103.1h0M357.8 902.9h0M383.2 811.6h0M371.4 983.9h0M423.5 785.6h0M296.9 1011.2h0M401.7 977.7h0M350.5 1023.7h0M461.8 1097.7h0M340 1110h0M362 796.4h0M243.8 1120.7h0M314.1 990.4h0M385.9 970.7h0M316.2 873.3h0M269.3 954.9h0M430.7 923.1h0M335.4 795.9h0M284.1 874.3h0M324.9 941.4h0M438.3 844.3h0M345.7 933.7h0M340.5 902.9h0M334.5 942.9h0M225 828h0M177.9 1102.6h0M306.9 846.2h0M428.5 815.7h0M397.1 878.7h0M308.6 800.9h0M358.9 888.1h0M281.3 840.5h0M209.4 915.1h0M241.2 940.9h0M419.9 931.3h0M423.9 903.2h0M370.7 861.7h0M373.5 989.2h0M394.4 854.7h0M279.7 769.9h0M337 985.2h0M471.6 808.3h0M443.7 974.6h0M317 978.1h0M189.6 819.3h0M279 928.7h0M365.6 777.2h0M440.1 836.4h0M420.4 858.6h0M368.8 881.7h0M364 892.8h0M408.7 1016.5h0M369.2 855h0M446.5 914.8h0M365.7 960.6h0M232.8 944.8h0M287.3 1035.6h0M323.5 917h0M309.9 883.2h0"/>
<path stroke="#808CE0" d="M318.3 857.7h0M367.3 1056.6h0M336.3 888.5h0M368.6 1065.8h0M453.5 863.7h0M353.8 875.8h0M268.4 934.4h0M325.2 790.3h0M241.9 891.7h0M423.7 747.2h0M468.9 976.9h0M363.5 918h0M292.8 840.5h0M397.5 895.1h0M333 860.9h0M408.6 918h0M391.8 779.8h0M355.5 954.9h0M388 838.3h0M349.3 917.7h0M393 1027.1h0M126.8 999.8h0M289.9 972.3h0M268.1 1033.6h0M107.3 926.5h0M381.6 969.2h0M328.4 866.4h0M515 910.4h0M416.3 837.6h0M336.6 725.7h0M432.8 849.7h0M398.9 905.4h0M299 1040h0M212.6 947.2h0M279.1 962h0M452.1 991.7h0M265.8 840.3h0M355.8 821.7h0M339.7 928.5h0M326.6 963.5h0M385.3 896.7h0M317.9 861.2h0M307.4 816.2h0M335.2 812h0M426.3 1021.4h0M421.7 855.3h0M343.5 932.4h0M398.8 1028.2h0M440.5 809h0M324.7 988.2h0M429.6 903.7h0M369.6 846.9h0M392.6 878.2h0M311.7 760.3h0M302.1 943.6h0M419.1 891.6h0M223.5 790.6h0M340.8 813.4h0M404.5 828.2h0M260.6 939.3h0M471.9 960.4h0M384.2 799.6h0M410.5 816.5h0M128.2 766h0M359 1041.5h0M402.5 1101.8h0M373.3 960.4h0M393 916.6h0M424 951.2h0M373.8 1042.1h0M295.5 977.5h0M437.5 1090.3h0"/>
<path stroke="#96C686" d="M324.5 791.3h0M408.1 970.5h0M321.8 931.8h0M348.9 871.1h0M376.5 813.9h0M312.4 1013.8h0M383.3 929.2h0M279.2 929.1h0M320.1 883.6h0M457.6 886.8h0M295.5 1044.7h0M351.7 853.2h0M291.7 934.7h0M264.1 1004.7h0M362.8 887.1h0M242.7 924.9h0M382.1 870.2h0M326.3 801.1h0M318.9 1037.2h0M404.2 985.2h0M354.6 981h0M222 886.6h0M356.6 1001.8h0M374.4 926.5h0M319.7 841.2h0M337 798.9h0M404.4 941.6h0M363.7 1001.9h0M364.1 902.6h0M387.9 953h0M389.9 844.9h0M424.7 1008.2h0M405.9 956.3h0M248.5 887.2h0M497.4 985.8h0M332.6 921.3h0M324.9 961.2h0M411.3 804.2h0M392.2 844.3h0M492.5 950.8h0M549.8 822h0M314.8 929.3h0M417.1 787.4h0M294.8 818.7h0M334.7 923h0M307.3 988h0M444.7 997.5h0M233.4 814.5h0M302.1 889.3h0M292.6 961h0M326.7 1064.4h0M489.9 895.1h0M480.7 938.4h0M300.2 872.9h0M345.4 866.3h0M299.9 1057.3h0M497.6 970.3h0M443.3 811.6h0M432.5 909.9h0M409.5 908.8h0M433.1 943.8h0M288.8 875.7h0M318.8 936.1h0M257.9 813.9h0M183.6 843.5h0M284 948.8h0M335.5 893.7h0M279.6 861.9h0M400.1 894.3h0M398.9 919.8h0M238.4 1165.2h0M409.5 897.9h0M276.5 898h0M380.4 922.6h0M253 860.1h0M433.6 941.5h0M339.1 1022.3h0M437.4 803.6h0M340.9 946.7h0M375.6 965.1h0M289.2 942h0M308.8 857.4h0M343.6 972.1h0M468.2 992.8h0M302.6 751.9h0M299.5 1014h0M225.8 807.5h0M316.4 957.4h0"/>
<path stroke="#96C686" d="M435.6 1055.8h0M445 894.2h0M245.4 955.7h0M409.3 821.2h0M304.1 826.7h0M437.2 928.8h0M432.2 954.1h0M444.9 969.6h0M297.2 1000.1h0M462.1 977.6h0M355.7 956.5h0M378.3 1055.9h0M368.5 966.4h0M318.7 799h0M305.7 970.6h0M492.4 838.9h0M312.7 848.6h0M345.5 985.3h0M465.9 844.7h0M485.6 919h0M282.2 968.1h0M404.6 872.9h0M498.1 981.7h0M268.3 903.1h0M171.9 1140.5h0M356.5 867.9h0M305.2 906.1h0M432.3 869.5h0M447.2 1015.7h0M381 804.6h0M417.3 725.7h0M232.1 833.7h0M455.2 860.9h0M344.2 826.3h0M384.9 959.6h0M423 1057.1h0M152.4 915h0M465.1 1045h0M337.1 838.8h0M511.5 821.2h0M303.6 878.1h0M324.4 946.1h0M363.7 881.7h0M356 966.2h0M380.6 1044.8h0M315.3 938h0M301.5 979.3h0M325.4 856.6h0M395.3 950.2h0M228.7 888.8h0M360.2 958.5h0M428.9 852.7h0M259.7 1034.5h0M415.6 843.9h0M298.5 953.7h0M260.7 803.6h0M259.3 878.2h0M498.8 916.8h0M300.4 774.7h0M435.6 1018.4h0M348.1 936.9h0M495.8 913.5h0M511 970h0M377.9 941.2h0M317.8 822.5h0M392.9 807.5h0M225.5 862.2h0M404.3 980.3h0M416 1030.6h0M434.6 967.4h0M253.1 858.3h0M243.9 913.9h0M345.9 769h0M335.6 811h0"/>
<path stroke="#808CE0" d="M337.3 1128.1h0M412.2 999.5h0M282.4 990.6h0M245.8 984.8h0M449.8 984h0M351.7 796.2h0M373.2 887.2h0M469.1 909.3h0M319.5 752.2h0M255 962.5h0M356 943.9h0M363.8 843.1h0M352.5 882.7h0M406.1 995.2h0M358.1 930.7h0M505.6 872.9h0M151.7 927.3h0M213.9 1007.3h0M283 844.7h0M441.5 999.1h0M416.8 966.5h0M310.3 937.4h0M342 957.2h0M240.9 929.1h0M279.5 1028.6h0M443.2 983.3h0M305 931h0M397.2 756.1h0M347.2 865.6h0M393.7 886.9h0M295.9 1074.5h0M265.7 889.8h0M274.2 979.5h0M371.7 971.1h0M304.3 981.2h0M232.6 917.9h0M426.3 878.6h0M345.4 979.5h0M409.2 940.7h0M458.9 893.4h0M424.7 1119.1h0M321.4 902.5h0M239.8 1033.8h0M431.2 824h0M433.4 955.7h0M221.7 961h0M256.7 994.2h0M199.6 935.3h0M464.1 850.5h0M360 1006.1h0M354.4 847.8h0M236.6 853.8h0M281.8 889.9h0M262.4 772.7h0M237.5 821.7h0M331.7 784.8h0M388.2 884h0M295 966.7h0M201.1 1064.8h0M395.8 1059.4h0M112.7 868.9h0M390.9 967.8h0M336.3 1033.4h0M320.8 922h0M440.5 978.9h0M300.3 1087h0M428.9 955.2h0M384.2 784.9h0M428.3 865.9h0M441.8 991.7h0M381 816.5h0M356.1 922h0M306.2 991.3h0M411.5 898.9h0M344.4 810.8h0M380.8 913.3h0M362.2 752.9h0M362.2 739.8h0M224.4 870.1h0M470.3 960.9h0M400.5 913.4h0M311.3 839.3h0M418.5 929h0M346.6 903.6h0M401.4 993.9h0M350 911.6h0"/>
<path stroke="#96C686" d="M317.8 859.4h0M232.8 859.2h0M310.7 986.1h0M279.1 893h0M372.5 884h0M316.2 845.5h0M429.6 990.1h0M481 953.7h0M199 982h0M362.7 916.9h0M371.1 780.5h0M468.4 903.8h0M377.6 926.6h0M376.1 957.8h0M400.2 846.5h0M316 985.2h0M334.6 947.5h0M424 1026.6h0M397.3 933.5h0M327.8 805.7h0M393.3 861.4h0M295.9 1022h0M396 919.6h0M526.3 989.1h0M291.2 936.6h0M368.9 938.3h0M277.4 968.2h0M416.9 887.3h0M340.4 865.2h0M281.1 823.5h0M311.5 978.2h0M252 964.1h0M389.8 1130.6h0M341.4 787h0M408.3 921.5h0M424.5 861.7h0M274.3 934.1h0M341.8 975h0M377.1 1012.5h0M275.7 930.8h0M276 969.4h0M353.5 873.2h0M463.8 861.9h0M310.7 799h0M322.1 922.2h0M126.8 883.7h0M296.9 850.9h0M365.1 1089.8h0M429.2 816h0M392.7 944.9h0M201.3 954.2h0M278.8 778.4h0M428.3 1029h0M367.8 962.4h0M246.8 914.4h0M349.6 958.5h0M131.5 956.1h0M371.8 858.5h0M407.4 910.7h0M359.3 845.6h0M340.2 895.1h0M353.4 846h0M441.8 826.2h0M335.6 943.3h0M267.1 973.7h0M473.6 947.1h0M356.9 916.2h0M364.9 1021h0M487.6 903.3h0M272.7 908.7h0M478.7 884.1h0M307.6 905.5h0M378.3 817.5h0M456.4 1043.8h0"/>
<path stroke="#808CE0" d="M397.6 796.6h0M392.6 996.6h0M251.9 890.6h0M386.6 778.4h0M362.4 1002.4h0M209.6 902.4h0M462.4 1088.6h0M440.2 942.5h0M252.7 850.3h0M443.8 1052.1h0M355.9 1008.1h0M370.7 973.1h0M357.7 1049.1h0M314.1 788.6h0M366.2 746.3h0M270.4 883h0M412.4 870h0M367.2 1091.8h0M313.9 785.9h0M442.2 1041.4h0M408.9 857.9h0M342.2 771.3h0M294.7 821.4h0M339.3 951.3h0M480.3 834.3h0M279.3 919.6h0M440 1042.5h0M324.5 834h0M339.9 936.8h0M419.1 1008.5h0M387.8 823.5h0M333 948.5h0M323.6 946h0M262.1 909.1h0M329.3 994.8h0M192.6 993.9h0M300.6 793.8h0M323.6 917.4h0M430.7 1060.7h0M248.5 906h0M414 823.1h0M413.2 944.4h0M192.6 903.5h0M367.4 971.4h0M300.2 933.1h0M244.1 782.2h0M378.2 1058.1h0M327.6 1003.9h0M387.3 751.3h0M322.5 832.3h0M428.7 873h0M370.9 922.7h0M451.8 959.9h0M278 958.9h0M230.3 794.8h0M178.6 1036h0M297.1 951.5h0M222.3 989.4h0M354.7 861.8h0M268.2 1028.6h0M436.8 1077.9h0M316.5 1019.1h0M325.1 1031.6h0M389.6 911.4h0M350.1 920.7h0M348.2 872.4h0M353.6 978.5h0M229.8 882.4h0M396.6 780.4h0M187.1 899.1h0M312.4 870.3h0M325.6 984.1h0M379.9 792.5h0M302.6 853.2h0M255.3 773.8h0M382.6 901.3h0M425 992.4h0M362.5 951h0M395.8 1009.7h0M502.2 1043.2h0M385.2 955.9h0M262.6 975.2h0M368.3 847.9h0M350.8 1084.6h0M329.4 998.7h0M338.5 906.5h0"/>
<path stroke="#96C686" d="M316.1 864.6h0M389.8 958.6h0M374.2 949.4h0M482.9 902.9h0M254.2 872.3h0M251.7 950.8h0M291.1 905.3h0M192.6 930.1h0M415.8 1021.7h0M398.7 1003.1h0M245.5 933.5h0M420.7 901.9h0M259.6 857.3h0M380 1026.1h0M442.1 969.3h0M261.2 804.6h0M395.8 834.1h0M447.8 927.7h0M275.1 883.1h0M293.1 1017.5h0M280.1 849.5h0M243.1 937.5h0M349.2 967.3h0M253.3 830.6h0M386 888.9h0M252.4 903h0M341.5 965.4h0M479.8 929.5h0M251.4 835.5h0M368.9 977.2h0M316.3 780.8h0M346.2 1076.2h0M260.3 889.5h0M311.3 907.4h0M348.4 891.1h0M331.7 1017.8h0M343.4 855.5h0M318.5 933.7h0M329.7 935.1h0M234.9 894.2h0M235 950.5h0M488.5 924.4h0M422 985.3h0M314.6 898.2h0M261.5 869h0M388.7 872.8h0M345.6 924.2h0M228 868.4h0M389.3 939.6h0M334.9 774.5h0M367.8 801.9h0M470.2 934.3h0M334 919h0M515.5 1018.7h0M429.5 827.8h0M344.4 946.7h0M221.7 863.4h0M370.8 964.1h0M223.7 940.9h0M270.7 882.6h0M409.4 1037.1h0M356.8 927.4h0M247.2 866.2h0M411.6 1015.9h0M378.8 941.3h0M325.8 952h0M295.1 953.4h0M226.5 865.3h0M440.1 946.4h0M324.5 931.6h0M345.3 963.1h0M505.3 885.9h0M441.4 973h0M354.8 880.5h0M292.8 859.9h0M401 866.6h0M466.3 868h0M456 974.3h0M391.1 716.6h0"/>
<path stroke="#808CE0" d="M340.2 997.5h0M289.6 1161.1h0M242.9 848.9h0M500 814.6h0M222.4 865.7h0M457.4 958.6h0M329.3 852.6h0M346.5 971.7h0M360.6 852.6h0M417.2 794.1h0M243.1 833.9h0M357.2 761.4h0M180.1 837.9h0M264.9 972.5h0M322.8 894.4h0M232.2 820.1h0M381.4 952.5h0M364.4 954.3h0M411 945.6h0M324.8 1005.4h0M415.1 951.2h0M421 804.9h0M361 932.8h0M428.6 964.3h0M374.4 909.9h0M272.2 808.9h0M403.7 870.5h0M300.6 950.3h0M373 974h0M336.3 933.1h0M268.3 1029h0M341.4 829.7h0M433.6 975.3h0M219.6 985.6h0M366.8 896h0M216.3 877.4h0M294.2 804.1h0M253.2 851.7h0M303 764.1h0M294.3 858.2h0M404.4 853.9h0M319.9 963.2h0M238.5 874.8h0M342.3 899.5h0M318.5 1013h0M483.7 823.1h0M338.3 902.9h0M279 860.8h0M326.9 809.4h0M296.2 969.2h0M286.5 762.3h0M488 908.1h0M323.5 976.3h0M303 856.6h0M316.9 834.1h0M320.6 807h0M356 997h0M402.2 913.9h0M341.1 998.9h0M410.2 975h0M367.6 890.6h0M369.8 900.5h0M310.3 874.1h0M292.1 875.5h0M247.6 823.7h0M335.2 938.4h0M342.3 1023.9h0M327.9 965.3h0M365.4 847.7h0M353.4 739.7h0M387.6 930.7h0M253 804.9h0M456.5 1000.7h0M215.3 976.1h0M403.5 880.8h0M369.7 894.2h0M307.4 800.9h0M415.5 953.3h0"/>
</g>

<rect x="78.8" y="694.6" width="493.4" height="492.6" fill="none" stroke="#333" stroke-width="1.4"/>
<path d="M210.2 1187.2v3.7M344.7 1187.2v3.7M479.2 1187.2v3.7M78.8 754.5h-3.7M78.8 836.8h-3.7M78.8 919.1h-3.7M78.8 1001.4h-3.7M78.8 1083.7h-3.7M78.8 1166h-3.7" stroke="#333" stroke-width="1.4" fill="none"/>
<g font-size="19.2" fill="#4d4d4d">
<text x="210.2" y="1209.2" text-anchor="middle">−20</text>
<text x="344.7" y="1209.2" text-anchor="middle">0</text>
<text x="479.2" y="1209.2" text-anchor="middle">20</text>
<text x="71" y="761.9" text-anchor="end">20</text>
<text x="71" y="844.2" text-anchor="end">10</text>
<text x="71" y="926.5" text-anchor="end">0</text>
<text x="71" y="1008.8" text-anchor="end">−10</text>
<text x="71" y="1091.1" text-anchor="end">−20</text>
<text x="71" y="1173.4" text-anchor="end">−30</text>
</g>
<text x="323.9" y="1235.8" font-size="24.5" text-anchor="middle" fill="#000">PC1</text>
<text transform="translate(28.6 940.7) rotate(-90)" font-size="24.5" text-anchor="middle" fill="#000">PC2</text>
<text x="787.5" y="669.3" font-size="64" fill="#000">e</text>
<path d="M909.3 696.3V1184.2M1013.8 696.3V1184.2M1118.2 696.3V1184.2M1222.7 696.3V1184.2M835.3 1107.1H1323.2M835.3 998.6H1323.2M835.3 890H1323.2M835.3 781.5H1323.2" stroke="#ebebeb" stroke-width="0.7" fill="none"/>
<path d="M857.1 696.3V1184.2M961.6 696.3V1184.2M1066 696.3V1184.2M1170.5 696.3V1184.2M1274.9 696.3V1184.2M835.3 1161.4H1323.2M835.3 1052.9H1323.2M835.3 944.3H1323.2M835.3 835.8H1323.2M835.3 727.2H1323.2" stroke="#ebebeb" stroke-width="1.4" fill="none"/>

<g fill="none" stroke-linecap="round" stroke-width="5.5">
<path stroke="#CE3A53" d="M871 1050.8h0M871.5 1130.5h0M870.8 1024.6h0M877.2 1007.1h0M867.8 1008.7h0M876.5 959h0M880 1123.9h0M894.1 984.9h0M893.3 1097h0M860.8 1129.3h0M981.5 1160.6h0M872.8 1137.2h0M884.8 1151.5h0M861.3 1144.3h0M886.8 1131.3h0M890.6 1117.5h0M901.4 1161.4h0M876.6 1139.7h0M883.4 1067.1h0M878.1 1052.8h0M892.6 1123.7h0M879.5 1079.4h0M919.9 1161.4h0M882.3 1156.5h0M903.1 1105.2h0M963.8 1155.7h0M900.5 1050.6h0M873.9 1101.7h0M885.1 1157.7h0M864 1136.2h0M881.1 1115.9h0M866.2 1160h0M901.7 1063h0M892.3 1081.5h0M911.2 1161.4h0M1087.4 1037.3h0M861.4 1085.4h0M878.9 1153h0M867.4 1113.4h0M874.7 1098.4h0M872.7 1041.8h0M1118.8 1070.2h0M888.9 1088.9h0M876.7 1159.1h0M878.6 1035.8h0M864.6 1050h0M868.9 1161.4h0M872 1158.8h0M907.8 1125.2h0M869.5 1132h0M909.1 1092.2h0M904.2 1161.4h0M863.5 1134h0M866.6 1030.4h0M874.9 1117.2h0M1001.7 1133h0M879.7 1075.6h0M876.6 1051.7h0M877.3 1107.2h0M863.2 1161.4h0M884.1 1132.9h0M873.3 1161.3h0M884.5 1156.7h0M974.6 1113.8h0M877.6 1135h0M866.7 1156.8h0M874.1 1089.6h0M966.3 1129.6h0M968.8 1161.4h0M893.5 1056.5h0M896 1161.4h0M923.8 1154.7h0M911.1 1142.9h0M861.9 1117.6h0M940.2 1077.6h0M887.3 1052.1h0M865 1113.9h0M882.9 1150.1h0M1054.2 1141.2h0M871.4 1125h0M895.9 1124.8h0M929.1 1157.1h0M870.2 1080.3h0M867.8 1161.4h0M1211.3 1117.8h0M927.6 1084.7h0M871.8 983.8h0M866.7 1129.9h0M888.8 1078.4h0M980.4 1155h0M890.1 1062.6h0M879.1 1121.7h0M882.1 1031.5h0M895.2 790.2h0M876.2 1161.4h0M921.3 1121.4h0M909.5 1143.1h0M891.2 1081.3h0M948 922.6h0M863.8 1146.9h0M889.6 1015h0M866.9 1070.1h0M871.8 1136.2h0M900.5 1111.3h0M897.7 996.8h0M880.1 1121.6h0M875.2 1006.8h0M903.9 1160.2h0M889.8 1154.3h0M865.3 1128.3h0M876.2 1161.4h0M893.9 989.1h0M869.9 1102.5h0M870.7 1028.7h0M865.3 1041.5h0M967.8 1161.4h0M883.7 748.9h0M862.5 1130.3h0M1083.1 1133.9h0"/>
<path stroke="#EDC75B" d="M895.3 1114.1h0M870.3 1161.4h0M919.1 1161.3h0M881.3 1077.5h0M866.5 1157.8h0M868.9 1157.2h0M869.3 990.5h0M916.6 1129.5h0M867.9 1129.6h0M868.3 1058.4h0M873.5 1132.5h0M885.6 913.7h0M899.7 1116.4h0M872 1011.4h0M885.5 932.5h0M882.8 1115.9h0M878.5 1090h0M871.6 1131.2h0M869.1 1030.8h0M872.5 1160.9h0M910.6 1134.3h0M911.7 1122.1h0M875.8 1132.1h0M904.9 1080.7h0M901.8 1109.7h0M881.2 1149.9h0M893.6 903.6h0M883.6 1148.1h0M880.5 1122.3h0M868.9 1130.5h0M886.9 1141.4h0M911.6 1076.4h0M890.3 938.8h0M945.1 1156.8h0M896.3 1150h0M933 1141.4h0M882.8 1064.4h0M875.3 1108.7h0M893.2 1006.6h0M882.7 1161.4h0M890.4 1152.9h0M895.2 1128.4h0M871 1080.3h0M906.5 1127h0M886.9 844.4h0M871 1085.7h0M899.1 1161.4h0M879.8 1020.8h0M871.6 1119.1h0M897.8 1109.6h0M883.2 1112.7h0M881.7 908h0M888.8 1125.1h0M865.4 1157.1h0M897.8 1123.3h0M906.9 1151.7h0M894.7 1146.1h0M880.3 1153.1h0M869.2 1077.3h0M906.5 1130.3h0M893.8 1101.4h0M875.8 1079.9h0M874.9 1145.2h0M885 1158.5h0M939.2 1143.5h0M899 1152.2h0M868.8 1138.5h0M882 1161.4h0M910.9 1050.5h0M874.4 1017.1h0"/>
<path stroke="#46A078" d="M880.1 1087.1h0M873.6 1131.6h0M870.2 1117.8h0M885.5 1129.3h0M1133.4 1094.1h0M862.6 1159.4h0M911.1 1143.2h0M873.5 1126.1h0M906.8 1125.6h0M895.9 1123.4h0M882.7 1156.5h0M897.4 1108.8h0M885.1 1133.3h0M871.6 1149.5h0M870.5 1158.6h0M891.9 1078.8h0M873.8 1147.8h0M886.3 1074h0M936.9 1158.9h0M872.3 1160h0M865.7 1115.6h0M868.2 1122.6h0M999.7 1161.4h0M872 1042.2h0M875.3 1019h0M871.9 1098h0M896.7 1146.7h0M867 1144.9h0M874.2 1151.4h0M888.2 1161.2h0M884.5 1054.2h0M961.1 1134.8h0M885.3 1139.6h0M863.4 1140.6h0M877.1 1125.4h0M869.8 1158.1h0M882 1133.3h0M890.3 1159.4h0M909.5 1158.9h0M868 1139.5h0M944.7 1154.8h0M863.2 1136.1h0M909 1137.4h0M975.8 1161.4h0M946.5 1150.9h0M871.5 1107.4h0M884.8 1115.8h0M893 1156.3h0M889.9 1114.4h0M871.3 1122.4h0M883.8 1161.4h0M903.9 1088.8h0M936.4 1120.2h0M907.4 1144.5h0M878.6 1140.6h0M924 1128.2h0M886.1 1129.4h0M870.3 1160.2h0M905.1 1147.2h0M875.5 1157.6h0M914 1158.8h0M886 1161.4h0M911.1 1157h0M869.8 1139.4h0M899.8 1138.9h0M870.8 1149.2h0M957.3 1161.4h0M872.4 1057.7h0M948.1 1159.8h0M938.4 1155.4h0M889.9 1157.5h0M872.2 1106.8h0M869.8 1108.4h0M893 1151.4h0M923.8 1143.3h0M888.2 1154.7h0M1006.5 1161.4h0M877.5 1146.8h0M875.8 1138h0M893.9 1156.3h0M911.8 1151.4h0M868.2 1154.1h0M946.6 1152.6h0M875.3 1161.4h0M869.9 1049h0M937.2 1148.9h0M876.1 1150.9h0M874.8 1159.7h0M892 1128h0M874 1156.8h0M871.2 1102.4h0M887.3 1116.2h0M893.2 1144.1h0M889.6 1155.1h0M865.2 1146.4h0M863.8 1161.4h0M869 1159.9h0M871.7 1147.3h0M881.6 1143.9h0M893.5 1067.5h0M907.3 1152.1h0M884.8 1060.7h0M886.6 1146.1h0M888.5 1139.7h0M875.4 1158.8h0M892.3 1153.7h0M925 1161.4h0M954.5 1105.1h0M887.4 1144.4h0M885.2 1146.9h0M870.3 1135.6h0M871.6 1138.5h0M867.7 1127.8h0M901.1 1126.8h0M872.2 1084.6h0M866 1142.9h0M934.7 1127.1h0M948.6 1074.3h0M875.8 966.7h0M894 1069.6h0M904 1086.5h0M867.7 1122.6h0M872.7 1161.4h0M1028.8 1153h0M863.8 1127.9h0M878.5 1127.2h0M867.8 1147.1h0M872.3 1134.8h0M895.6 1080.6h0M910.4 1057.1h0M903 1141.5h0M872.3 1154.7h0M863.5 1145.7h0M886.7 1159.8h0M914.2 1129.9h0M867.3 1141.4h0M989.8 1161.4h0M864.2 1086.3h0M891.6 1091.9h0M913.1 1151h0M909.1 1095.7h0M894.1 1153h0M886 1118.5h0M884.6 1154.1h0M862.2 1110.7h0M903.7 1074.9h0M863 1036.2h0M884.2 1128h0M893.1 1103.2h0M884.9 1132.6h0M908.3 1050.8h0M872.9 1122h0M867.3 1142.6h0M905.5 1132.4h0M876.9 1123.9h0M881 1160.4h0M890.6 1151.9h0M906.1 1042.5h0M950.4 1126.3h0M957.5 1159.8h0M863 1138h0M879.2 1152.7h0M875.9 1122.3h0M880.5 1118.3h0M913.8 1147.5h0M867.1 1161.1h0M869.5 1161.4h0M951.4 1161.4h0M904.5 1087.5h0M887.5 1118.4h0M899.4 1118.1h0M867 1123.8h0M862.7 1118.3h0M871.8 1161.4h0M898.2 1120.9h0M886.9 1158.4h0M883 1160.6h0M863.4 1038.9h0M861.4 1127.7h0M888 1134.9h0M874.6 1140.1h0M862.4 1158.5h0M886 1133.8h0M899.1 1153.8h0M868.4 1148.5h0M871.5 1114.8h0M935 1101.1h0M888.8 1136.5h0M878.8 1140.6h0M902.3 1138.8h0M871.8 1161.4h0M876.2 1152.1h0M896 1095.5h0M874.5 1156.7h0M880.5 1149.8h0M1022.7 1161.4h0M944.7 1153.6h0M864.6 1142.4h0M877.6 1156h0M895.8 1134.4h0M910.2 1131.2h0M861.4 1159.3h0M861.7 1114.3h0M868.7 1115.3h0M870.1 1138.9h0M877.6 1146.8h0M897.3 1137.2h0M884.7 1128.4h0M867.6 1143.5h0"/>
<path stroke="#9A3AA3" d="M896.5 1150.5h0M933.3 1140.6h0M891.1 1137.3h0M940.1 1127.8h0M928.7 1143.6h0M929.5 1123.5h0M943.3 1117.1h0M915.1 1104.4h0M943.3 1138.2h0M1072.3 1068h0M930.9 1159.1h0M932.5 1138.5h0M893.9 1153.1h0M933.5 1155.9h0M1049.3 1154.9h0M995.5 1055h0M887.7 1159.4h0M935.7 1123.6h0M919.1 1124.1h0M914.7 1124h0M1146.5 1152.7h0M901.1 1128.8h0M893 1118h0"/>
<path stroke="#BDBDBD" d="M1191.9 1083.3h0M1054.7 1159.4h0M863.5 1150.6h0M871.9 1155.4h0M887.3 1134.6h0M871.9 1120h0M881.2 1152.7h0M1149.2 1097.5h0M954.8 1104.7h0M864 1153.9h0M865.1 1159.9h0M890 1068.3h0M878.6 1029.7h0M901 1129.9h0M869.2 1137.4h0M872.4 1121.3h0M876.3 1124.7h0M876.4 1154.6h0M917.5 1153.3h0M872.5 1101.9h0M874.2 1161.4h0M875.3 1155.9h0M877.3 1157.4h0M863.2 1151.6h0M866.2 1159.3h0M907.2 1138.3h0M1198.8 1140.7h0M880.5 1102.2h0M1224.4 1140.9h0M1107.3 981.2h0M906 1135.6h0M867 1160.5h0M874.2 1104.4h0M862.8 1155.3h0M1207.2 1161.4h0M890.3 1144.8h0M1215.6 1140.3h0M1190.5 1152.1h0M1173.2 1134.3h0M880.4 1130.5h0M870.4 1137.9h0M1228.8 1161.4h0M932.2 1138.2h0M880.5 1150.2h0M1231.8 1138.8h0M875.8 1086.7h0M893.2 1153.1h0M865 1113.9h0M1101 1072.4h0M873 1155.5h0M866 1158.6h0M871.8 1151.2h0M866.2 1141h0M881.4 1126.8h0M882.8 1161.4h0M1230.5 1161.4h0"/>
<path stroke="#DC9BD6" d="M871.9 932.3h0M874.4 1092.3h0M881.9 1076.1h0M871.7 1139h0M866.7 1016.4h0M891.5 1112.6h0M872.8 1130.6h0M865.5 1063.1h0M878.4 1113.9h0M872.6 1142.5h0M865.9 1114.8h0M880 1117.1h0"/>
<path stroke="#CE3A53" d="M868.9 1160.4h0M870.8 1156.1h0M861.6 1012.7h0M893.8 1121.1h0M1030.3 1147.8h0M862.2 1039.1h0M873.3 1109.7h0M894.9 1134.6h0M881.2 1020.4h0M870.4 1084.5h0M880.4 1135.1h0M889.1 971.3h0M864.8 1161.4h0M886.9 1132.1h0M885 1062.7h0M877.2 1068.9h0M966.2 1161.4h0M870.8 1140h0M882.8 1160.6h0M870.3 1070.1h0M910 915.3h0M875.3 1094h0M875.1 1077.5h0M878.2 969h0M876.8 1148.1h0M879.6 995.4h0M867.9 1161.4h0M870.3 1133.3h0M909.2 1161.3h0M901.3 1159h0M868.2 1145.7h0M880 1084.6h0M864.3 1114.9h0M919.8 1157.1h0M1082.5 1027.9h0M866 1057.9h0M884.1 1082.5h0M997.4 1161.4h0M886.7 1156.9h0M876.5 975.1h0M861.6 967h0M913.9 1161.4h0M920.3 1161.4h0M865.8 1025.8h0M874.6 970.3h0M875.8 1161.4h0M975.1 1159.8h0M873.7 1049.3h0M871.9 1105.6h0M868 1094.7h0M896.3 1113.7h0M922.5 1092.8h0M864.3 1137.7h0M875.8 925.1h0M882.1 1147.6h0M1077 1149.8h0M877.8 1161.4h0M876.7 1059.5h0M919.6 1138.1h0M870 1119.6h0M878.4 1149.3h0M865.4 1132.5h0M864.8 1079.6h0M870.3 1048.9h0M1020.7 1161.4h0M878.8 1015.9h0M1071.4 1161.4h0M916.2 1109.3h0M873 1063.7h0M882 966.1h0M884.4 1078h0M876.4 1057.1h0M869.7 1161.4h0M891.4 1076.2h0M866.8 1153.3h0M863.2 986.9h0M891.2 1079.7h0M869 1147.4h0M880.6 1047.3h0M879.3 1059.8h0M899.9 1136.6h0M920 1118.3h0M873.7 1031.7h0M903.1 983.5h0M869.5 1020.2h0M865.5 1150.7h0M873.2 1022.2h0M885.6 1060.2h0M885.5 950.7h0M913.4 1145.6h0M881.3 1062.8h0M872.8 1136.5h0M863.5 1144.8h0M874.6 1052h0M1241.5 1111.5h0M913.8 1161.4h0M899.7 1156.9h0M872.2 1161.4h0M865 1010.6h0M875.1 1135.4h0M862.8 1151.8h0M862.9 1143.9h0M989.2 955.2h0M907.2 1161.4h0M879 1139.5h0M885.5 1001.2h0M864.2 1150.8h0M882.7 1069.5h0M891.3 1088.1h0M868.6 1138.4h0M868.4 1157.7h0M875.5 1105.3h0M862.3 908.6h0M909.5 1129.6h0M880.6 1131.2h0M876.3 1052.4h0M881.6 997.2h0M875.3 1145h0M984.6 1140.7h0M875.2 1133.7h0M865.6 1128.7h0M880.9 991.8h0M886.8 1039.6h0M889.9 1050.5h0M865.2 1108.6h0M864 1161.4h0M880.9 1017h0M885.3 1156.8h0M872.8 1104.2h0M901 1161.4h0M869.6 1127.8h0M876.5 1152.7h0M958.8 1156.2h0M921.8 1161.4h0M872.2 1120.9h0M879 1158.1h0M873.4 1130.9h0M885.5 1128.9h0M880 1054.5h0"/>
<path stroke="#46A078" d="M877.9 1160.1h0M869.3 1158.9h0M940.4 1143.7h0M870.1 1160.5h0M895.9 1086.9h0M879.7 1144.9h0M875.9 1161.4h0M887.6 1138.9h0M866.8 1108.7h0M903.4 1161.4h0M872 1147.8h0M865.7 1161.4h0M861.9 1130.7h0M994.2 1146.1h0M904.8 1061.4h0M913.5 1141.5h0M894.6 1155.9h0M900.8 1153.2h0M919.8 1161.3h0M883.5 1156h0M863.7 1117.9h0M862.8 1152.1h0M892.3 1086.9h0M880.4 1143.4h0M937.8 1155.9h0M880.8 1129.3h0M863.7 1148.5h0M876.9 1132.6h0M919 1159.7h0M905.2 1124.6h0M870 1101.9h0M888.1 1138h0M899.3 1087.3h0M862.3 1061.3h0M909.3 1136.7h0M894.6 1157.5h0M897.5 1152.5h0M894.4 1112.1h0M866.4 1159.9h0M869.2 1158.4h0M862.1 1099h0M996.4 1157.5h0M913.3 1153.4h0M902.6 1152.4h0M863.2 1156.4h0M907.7 1113.5h0M892.8 1155.8h0M874.9 1160.8h0M879.5 1131.9h0M864.8 1108.1h0M888.8 1160.7h0M868.3 1153.4h0M882.6 1140.6h0M872.8 1150.8h0M876.9 1102h0M908.3 1132.3h0M891.4 1161.3h0M900 1102.7h0M864.7 1156.4h0M878.9 1125.2h0M878.1 1146.9h0M886.8 1144.7h0M877.8 1151.7h0M874 1123.3h0M872.6 1160.4h0M914.5 1139h0M889.6 1140.9h0M872.6 1108.7h0M874.2 1126.5h0M867.9 1102.1h0M861.3 1150.5h0M889.2 1128.2h0M887.9 1137.2h0M895.8 1137.1h0M957.3 1129.1h0M955.6 1152.8h0M895.4 1152.3h0M862.7 1124.1h0M894 1116.5h0M904.6 1136.3h0M910.1 1058.3h0M894.9 1149.5h0M871.3 1134.7h0M886.5 1136.2h0M872.6 1160.2h0M874.2 1150.2h0M904.2 1136.6h0M867.9 1076.1h0M864.7 1160.9h0M904.2 1105.5h0M881.3 1161.4h0M870.3 1157.3h0M904.8 1124h0M867.6 1083.4h0M896.9 1147h0M867.6 1119.3h0M885 1161.4h0M877 1137.9h0M869.2 1158h0M868.8 1159.4h0M1003 1040.4h0M956.8 1161.4h0M890.2 1161.4h0M895.5 1141.9h0M883.1 1103h0M894 1148.5h0M864.8 1160.2h0M869.5 1148.6h0M865.2 1159.2h0M889.7 1152.8h0M870.5 1158.7h0M890.6 1147.4h0M985.2 1160.1h0M866.4 1127.7h0M889 1129.4h0M903.7 1079.6h0M894.3 1119.5h0M887.4 1085.6h0M868.4 1040h0M877.2 1143.2h0M881.1 1143.3h0M871 1133.6h0M866.2 1109.8h0M873 1121.7h0M923.3 1128.6h0M887.4 1125.9h0M906.8 1116.5h0M891.9 1092.1h0M869 1141.1h0M881.6 1130.6h0M912.5 1161.4h0M865.1 1102h0M864.4 1144.4h0M902.3 1142h0M876.4 1059.7h0M932.9 1138.7h0M912.9 1151.1h0M877 1138.7h0M884.1 1077.6h0M867.2 1146.3h0M896.5 1148.8h0M1024.3 1161.4h0M878.5 1155.5h0M927 1161.3h0M874.2 1155.1h0M895.8 1161.4h0M881.3 1146.3h0M873.8 1148.5h0M874.5 1133.6h0M883.9 1155.2h0M896.4 1140.1h0M886.2 1147.7h0M875.8 1129.3h0M883 1161.4h0M908.8 1088h0M874 1157.3h0M871.3 1126.2h0M866.1 1132h0M880.7 1161.4h0M869.9 1146.4h0M881.1 1053.2h0M871.4 1144h0M864.2 1161.4h0M872.8 1139h0M888.6 1049.6h0M910.6 1157.7h0M935.7 1155h0M878.8 1134.9h0M888.4 1132.9h0M899.6 1151.1h0M882.8 1149.5h0M888.8 1016.1h0M914.9 1155h0M989.9 1127.2h0M874.6 1154.6h0M892.1 1145h0M888.5 1158.6h0M867.5 1132.8h0M875.2 1138.4h0M887 1014.1h0M949.2 1155h0M866.3 1120.7h0M889.5 1146.3h0M877.6 1115h0M910.2 1100.2h0M872 1144.3h0M888.6 1141.1h0M871.9 1037.6h0M901.9 1157h0M892 1148.9h0M898.1 1099.7h0"/>
<path stroke="#BDBDBD" d="M871 1065h0M866.1 1141.6h0M1110.1 1161.1h0M882.5 1134.3h0M877.4 1157.7h0M1066.9 1137.6h0M1195.9 1156.1h0M864.4 1161.4h0M1203.1 1154.8h0M870.9 1161.4h0M865.7 1161.4h0M871.2 1152.6h0M871.1 1143.4h0M876.7 1107.4h0M1142.1 1127.1h0M904.7 1144.1h0M867.6 1152.6h0M1093.1 1157.3h0M928.2 1146.1h0M874.4 1150.7h0M906.9 1019.3h0M1166.6 1161.4h0M883.7 1159.7h0M875.8 1102.9h0M891.1 1160.5h0M872.7 1150.9h0M874.3 1150h0M865.6 1131h0M884.7 1160.9h0M905 1158.3h0M909.1 1153.7h0M884.3 1158h0M1226.6 1161.4h0M870.3 1086.2h0M888.8 1069.1h0M1218.2 1141.3h0M863.7 1143.3h0M864.7 1146.3h0M866.3 1147.3h0M1039.2 1133.9h0M879.8 1123.8h0M907.2 1143.1h0M868.3 1142.7h0M1039.1 1150.2h0M881.7 1111h0M898.2 1155h0M870.6 1144.5h0M903.5 1155h0M1179.4 1042h0M870.7 1137h0M862.9 1129h0M886.9 1153.4h0M870.7 1135.2h0M875.8 1125.4h0M868 1146.5h0M882.6 1155.8h0M874.5 1161.4h0M882 1126.1h0M890.1 1149.2h0M893.4 1123.7h0M875.8 1122.2h0M903.8 1147.9h0"/>
<path stroke="#EDC75B" d="M881.2 1149.2h0M883.3 884.1h0M880.3 1139.4h0M889.8 1161.4h0M878.3 1007.6h0M943.4 1157.5h0M891.5 1158.2h0M870.4 1102.4h0M870.1 1080.2h0M887.9 1124h0M870.7 1037.2h0M912.4 1069.5h0M879.8 1085.5h0M875.5 849.6h0M874.1 1139.7h0M895.1 1068.7h0M901.3 1161.4h0M894.8 1071.6h0M886.8 955.7h0M865.5 1076.6h0M876.4 1149.8h0M881.2 1044.9h0M890.2 1054.5h0M868.5 1141.7h0M875.6 1161.4h0M873.7 1069.4h0M929.9 1155.7h0M901.9 1153.6h0M876.4 1094h0M879.9 1129.9h0M896.9 1145.6h0M894.7 867.4h0M880.5 1145.4h0M886.4 1134.8h0M885.3 959.3h0M864.8 1028.2h0M865.7 1161.4h0M874.4 1159h0M890.3 908.3h0M942.6 1119.3h0M884.7 862.4h0M884 1148.7h0M904.2 1154.7h0M875 1138.7h0M911.6 1156.9h0M877.3 1132h0M863.5 1142.2h0M890.3 1158.7h0M885.9 1144.6h0M878 1161.4h0M921.7 1142.1h0M886.7 1123.9h0M936.6 1141.6h0M868 1161.4h0M902.6 877.6h0M871.7 1146.3h0M889.5 887.2h0M874.7 1114.6h0M885.6 846.1h0M876.8 920.9h0M888.9 949.6h0M891.2 994.8h0M866 1068.6h0M910.2 1152h0M876.5 1080.5h0M868.2 1144.1h0M876.9 1098.9h0M893.7 1060.9h0M1238.4 1152.7h0M866.2 1078.9h0M882.2 1100.9h0M900.5 1155.9h0M889.1 1146.5h0M873.9 1070h0M901.6 1126.5h0"/>
<path stroke="#9A3AA3" d="M912.6 1099.5h0M922.1 1135.3h0M908.3 1055h0M933.2 1109.9h0M895.2 1088.6h0M917.6 1155.9h0M885.9 1116.3h0M929.7 1105.4h0M930.9 1124.8h0M890 1131.1h0M911.8 1159h0M929.7 1123h0M959.5 1050.7h0"/>
<path stroke="#DC9BD6" d="M864 1154.2h0M888.5 1136h0M1192.4 1057.2h0M865.2 1095.2h0M867.9 1005.9h0M871.4 1129.3h0M885.6 1147.6h0M867.3 1014.6h0M870.9 977h0"/>
<path stroke="#EDC75B" d="M883.6 1141.5h0M886.3 1156.5h0M902.6 1095.3h0M909.9 1094h0M888.8 1134.3h0M907 1113.5h0M883.4 1117.3h0M872 1121.9h0M877.1 1160.6h0M890 1098.4h0M881.7 904.5h0M893.7 1161.4h0M871.5 1105h0M884.3 1088.8h0M898.1 1139.2h0M885.9 1151h0M880.8 1124.1h0M894.4 1122.5h0M907.9 1142.3h0M885.8 1158.7h0M870.1 1125.9h0M886.4 1147.8h0M906.8 1149.5h0M879.1 982.2h0M869.5 1161.4h0M895.7 1143.9h0M906.8 1136.5h0M907 1160.6h0M912.2 1084.9h0M872.9 1137.7h0M877.8 882.6h0M886.1 950.5h0M867.8 1103.3h0M864.7 1113.1h0M869.6 1078.7h0M902.5 1155.7h0M903.6 1118.1h0M894.9 1123h0M871.1 1154h0M895.2 904.4h0M882.9 1133.3h0M873 1026.4h0M878.5 876.7h0M874 1136.8h0M868.2 1107.3h0M872.2 1039h0M876.4 1061.4h0M882.4 1160.1h0M929.1 1133.3h0M909.8 1142.5h0M897.1 1081.6h0M876.3 1103.6h0M900.8 1156.7h0M888.3 1107h0M895.3 1151.5h0M885.7 1088.4h0M918.1 1151.1h0M888 1158.2h0M909.6 1129.7h0M907 1119.2h0M921.5 1141.9h0M879.6 1141.9h0M912.7 1156.5h0M892.6 916.9h0M866.7 1138.9h0M865.4 1126.7h0"/>
<path stroke="#BDBDBD" d="M872 1149.5h0M904.6 1159.9h0M907.5 1141h0M866.1 1155.7h0M896.7 1149.5h0M1206.9 1161.4h0M901.1 1117h0M883.4 1088.9h0M887.5 1005.6h0M910.4 1135.2h0M869.1 1161.4h0M874.9 1158.8h0M1135.7 1143.9h0M908.4 1148.2h0M865.3 1112.7h0M900.3 1159.7h0M910.4 883.5h0M1117.9 1147.8h0M862.7 1161.4h0M903.9 1098.1h0M874.1 1158h0M865.3 1020.3h0M878.4 1097.7h0M888.6 1138.1h0M896.3 1151.4h0M874.2 1149.6h0M886.5 1159.9h0M868.5 1146.4h0M872.6 1146.6h0M866.7 1122.5h0M1192 1161.4h0M899 1161.4h0M892.2 1147.2h0M877.6 1156.4h0M872.8 1161.4h0M931.7 1146.4h0M888.2 1145.9h0M865.5 1080h0M882.1 1102.7h0M873 1105.8h0M877.1 1156.8h0M885.2 1161.4h0M876.6 1161.4h0M887.4 1150.5h0M1113 1153h0M865.7 1150.3h0M1219.9 1146.3h0M910.1 1161.4h0M898.9 1159.6h0M866.1 1144h0M879.8 1158.9h0M865.5 1161.4h0M865.2 1075.1h0M1240.7 1149.7h0M871 1161.4h0M884 1145.1h0M1025.6 1157.4h0M885.6 1143.8h0M874.4 1157.8h0M910.2 1148.7h0M882.3 1153.1h0M1044.8 1147.1h0M870.4 1161.4h0M1207.2 1152.6h0M883.1 1118.6h0M1205.6 1161.4h0M876.1 1160.8h0M882.9 1118.1h0M865.7 1161.4h0M879.2 1150.4h0M887.1 1143.2h0M881.1 1146.9h0M871.8 1150.7h0M1247.3 1100.6h0M868.8 1145.4h0M942.1 1141.8h0M873 1112.8h0M877.1 1157h0M861.9 1144.2h0M1052 1159.3h0M874 1107h0M866.1 1154.5h0M892.2 1096.7h0"/>
<path stroke="#CE3A53" d="M893.3 1151.6h0M869.3 1161.4h0M875 1161.4h0M1005.2 1045.4h0M926 1160.8h0M866.1 1122h0M868.4 988.6h0M870.2 1113.5h0M867.5 1036.1h0M867.8 896.4h0M870 997.5h0M862.7 937.2h0M862 1141.2h0M870.9 1101.8h0M909 1157.9h0M888.7 1122.9h0M879.1 996.9h0M893.9 1043.7h0M1209.1 1118.1h0M885.1 995.7h0M871.2 1062.1h0M865.8 997.6h0M866.7 1156.8h0M867.7 1148h0M868.4 1121.1h0M884.8 1080.1h0M878.6 1035.5h0M865.2 1127.1h0M884.6 1007.4h0M949.5 1067.6h0M876.9 809.7h0M872.9 1151.6h0M865.6 1101.5h0M890.3 1141.9h0M894.9 1161.4h0M893.1 1109.2h0M863.5 1138.4h0M872.5 1095.1h0M877.1 1144.5h0M890.3 1146h0M927.9 1137.8h0M875.3 1159.9h0M879.4 1054.1h0M872.8 1095.9h0M876.8 1015.4h0M918.5 1161.4h0M1020.3 1127h0M892.9 1118h0M866.2 1123.1h0M905.3 1160.1h0M926.2 1129.3h0M866.6 1111.5h0M868.8 1134.9h0M875.8 1049.4h0M884.2 1081.7h0M1030.5 1161.4h0M877 1154.6h0M1110.2 1150.7h0M894.8 892.6h0M892.8 1161.4h0M878.4 893.6h0M1181.5 1115.7h0M869.3 1148.6h0M904.4 1138.5h0M875.3 1106.3h0M880.3 1149.3h0M997.8 1138.1h0M887.1 1085.6h0M1003.1 1138.7h0M906.6 1097.6h0M891.4 1046.2h0M884.6 1134.5h0M871.2 1079.7h0M866.7 997.3h0M892 1130.4h0M884.2 1036.9h0M879.5 1084.4h0M880 1134.2h0M919.4 1042.6h0M863.1 1052.1h0M902.3 1153.3h0M871.3 1052.8h0M869.9 959.6h0M877.5 1116.8h0M868.2 1072.7h0M881.6 1155h0M868 1082h0M886.2 1161.4h0M876.1 1054.2h0M880.3 1062.6h0M879.7 1014.5h0M875.6 997.8h0M889.2 1105.3h0M885.2 1134.6h0M881.2 1138.4h0M916.8 1149.8h0M1045.7 1015.9h0M881 1158.3h0M880.6 1070.7h0M869.5 1132.3h0M883 1103.7h0M880.9 1031h0M899.1 1135.2h0M875.8 1161.4h0M875.6 1129.2h0M1076 1152.8h0M901.9 1144.4h0M915.5 1101.8h0M863.1 865.2h0M863.5 1154.8h0M877.6 1136.2h0M874.7 1110.7h0M871.7 966.2h0M878 1054.4h0M884.7 1092.2h0M903.2 1051.9h0M872.2 1081.3h0M883.9 1026.5h0M862.7 1159.8h0M937.5 1161.3h0M964.7 1002.9h0M862.7 1129.9h0M868 1091.7h0M912.1 1158.5h0M986 1161.4h0M906.1 1143.5h0M874.8 1142.5h0M872.9 1161.4h0M980.5 1157.9h0M871.9 960.8h0M917.2 1144.3h0M873 1061.6h0M885 1001.6h0M883.4 1139.5h0M1039.8 1131.4h0M877 1149.6h0M1018.5 1020.3h0M890.7 1138.3h0M874.5 1161.4h0M876.7 1161.4h0M894.3 1079.4h0M867 1096.5h0"/>
<path stroke="#46A078" d="M872.6 1114.3h0M900 1085.5h0M875.6 1159.7h0M863.8 1121.7h0M868.5 1150.6h0M878.4 1083.5h0M879.1 1094.5h0M868.6 1139h0M868.3 1159.3h0M930.2 1157.4h0M870.8 1161.4h0M942.1 1119.1h0M906 1149.1h0M877.4 1139.1h0M875.8 1153.2h0M905.8 1161.4h0M863.8 1159.3h0M900.2 1160h0M909.7 1145.9h0M883.8 975.3h0M863.7 1150.5h0M869.3 1161.4h0M904.4 1151.4h0M872.8 1125.2h0M861.9 1155.5h0M867.4 1149.8h0M873.7 1078.6h0M910.1 1149.4h0M881.2 1146.5h0M913.1 1106.5h0M861.4 1154h0M867.1 1161.4h0M879.3 1133.9h0M903.1 1147.3h0M878 1045.6h0M903.4 1149.8h0M898.9 922.6h0M951.1 1147.5h0M952.5 1136.4h0M877.4 1133.8h0M889.1 1151h0M888.5 1156.2h0M878.7 1118.6h0M871.3 1153.2h0M888.5 1161.2h0M890 1111.8h0M999.4 1148.7h0M872.6 1132.1h0M912.5 1151.5h0M952.5 1134.3h0M876.2 1161.4h0M868.6 1151.3h0M890.5 1139.6h0M865.3 1146.3h0M886.7 1090.8h0M923.3 1145.1h0M861.2 1107.7h0M989 1161.4h0M886.1 1092.8h0M861.8 1151.1h0M901.4 1152.2h0M905 1037h0M911.5 1161.2h0M911.3 1161.4h0M890.8 1121.8h0M902.5 1090.2h0M862.3 1122.2h0M868.9 1159.3h0M891.3 1071.2h0M867.3 1072.6h0M878.8 1115.2h0M881.1 1132.7h0M867 1125.7h0M878 1161h0M881.5 1083.9h0M914.3 1151.8h0M1148.5 1161.4h0M866.3 1156.7h0M873.4 1157.2h0M912.8 1148.5h0M866.2 1161.4h0M890.2 1127h0M908.2 1152.1h0M881.7 1114.4h0M879 1157.2h0M897.6 1159.6h0M909.1 1134.7h0M902.6 1094.2h0M895.4 1091.1h0M894 1142h0M863.4 1122h0M868.6 1117.6h0M897.1 1151.3h0M893.1 1082.2h0M880.1 1130.6h0M875.2 1125.4h0M908.1 1137.4h0M905.7 1138.5h0M886.7 1140.6h0M909.3 1148.8h0M867.3 1101.2h0M876.9 1128.9h0M881.8 1102.9h0M870.3 1140.9h0M865.9 1103.5h0M896.2 1153.9h0M882.7 1146.9h0M884.7 1148.2h0M952.9 1120.5h0M874.6 1150h0M884.8 1065.9h0M888 1151.9h0M861.7 1131.2h0M870.1 1035.7h0M893.3 1095.6h0M870.2 1149.4h0M886.9 1133.9h0M908 1140.5h0M880.4 1130.1h0M898.7 1148.4h0M892.5 1157.2h0M895 1039.2h0M877.9 1158.8h0M883.1 1149.1h0M884.2 1151.7h0M879.6 1124.4h0M887.4 1129.3h0M898.6 1118h0M911.1 1160.8h0M900.3 1153.7h0M961 1142.6h0M901.3 1146.9h0M883.7 1119h0M884.8 1122.6h0M903.6 1065h0M908.8 1137.5h0M905.2 1141.1h0M935 1139.8h0M911.2 1157h0M888.4 1108.1h0M897.7 1136.9h0M874.2 1127.4h0M882.2 1133.7h0M886.3 1104.5h0M882.5 1029.8h0M894.9 1135.8h0M913.5 1125.8h0M910.9 1121.1h0M882.9 1143.3h0M878.5 1138.2h0M889.6 1139.3h0M940.1 1147.2h0M914.3 1161.4h0M869.8 1111.7h0M890.9 1139.7h0M875.9 1138.8h0M889.3 1142.9h0M938.6 1091.9h0M909.3 1151.2h0M879 1149.4h0M913 1155.1h0M889.6 1120.3h0M908.7 1127.6h0M884.9 1158.2h0M876.5 1159.9h0M872.7 1161.3h0M861 1148.1h0M876.8 1114.5h0M865.6 1155.9h0M880.9 1158.6h0M895 1110.6h0M899.9 1051.5h0"/>
<path stroke="#DC9BD6" d="M866.9 927.5h0M871.6 1105.4h0M865 1096.3h0M1032.1 1035.5h0M874.5 996.8h0M868.5 1053.7h0M869.4 1148h0M869.8 1135.5h0M1182 1161.4h0M863.1 1080.2h0M882.8 1077.4h0M867.9 998.5h0M870.8 1136.4h0M865.3 1113.6h0"/>
<path stroke="#9A3AA3" d="M929.2 1071.3h0M938.3 1114h0M924.2 1151h0M931.6 1158.2h0M931.8 1160.7h0M906.6 1148.6h0M928.8 1130h0M918.6 1119.8h0M897.6 1114.3h0M1103.1 1157.1h0M941.2 1115.3h0M929.1 1095.8h0"/>
<path stroke="#BDBDBD" d="M878.5 1097.4h0M901.8 1161.4h0M878 1133.1h0M868.5 1153.5h0M900.4 1135.9h0M918.5 1144.8h0M870.2 1076.8h0M903.1 922.6h0M1217.1 1154.7h0M893.2 1076h0M915 1159.1h0M892.8 1139h0M902.2 1139.5h0M1181.5 1161.4h0M909 1153h0M866.1 1152.2h0M879.5 1095h0M894.5 1128.9h0M908.2 1161.4h0M1258.8 1161.4h0M874.5 1063.5h0M893.7 1121.5h0M954.9 1139.9h0M914.2 1146.7h0M875.5 1144.1h0M1161.5 1161.4h0M906.7 1155.9h0M873.7 1149.6h0M916.6 1154.7h0M1135.5 1072.4h0M903.4 1049.2h0M1179.7 1127.6h0M1214.7 1110.3h0M880.1 1152.6h0M866.8 1134.9h0M875.5 1159.3h0M877.7 1144.2h0M889.4 1122.8h0M870.9 1140.1h0M867.4 1154.1h0M1214.4 1157.8h0M869.1 1100h0M869.3 1161.4h0M882 1150.2h0M1259.3 1115.8h0M860.9 1123.7h0M880.6 1154.5h0M879.4 1143.1h0M1282.3 1115.8h0M881.7 1161.2h0M876 1061.4h0M943.5 1160.9h0M872 1161.4h0M1237.7 1154.5h0M890.4 1157.6h0M895.2 1153h0M878.8 1135.7h0M867.3 1140.2h0M876.5 1152.1h0M883.2 1138.2h0M887.2 1136.4h0M883.8 1159.7h0M928.6 1148.6h0M903.3 1157h0M1228.7 1083.5h0M1187.2 1161.4h0M903 1154.1h0M873.9 1145.7h0M1208.6 987.7h0M1188.8 1161.4h0M864.3 1119.7h0M908.4 1153.3h0"/>
<path stroke="#9A3AA3" d="M919.7 1099.3h0M935.4 1140.6h0M946.4 1007.3h0M904.9 1086.5h0M915.1 1159.3h0M945.1 1130.4h0M919.3 1122.6h0M917.5 1135.9h0M906.8 1158.4h0M932.3 1152.2h0M944.8 1039.8h0M929.6 1126.2h0M914.9 1136.1h0M897 1160.6h0M880.7 1136.4h0M906.1 1132.3h0M899.3 1105.3h0M898.5 1158.7h0M939.4 1105.3h0M907.2 1153.8h0"/>
<path stroke="#46A078" d="M908.6 1067.9h0M974.9 1152.9h0M902.5 1139.9h0M928 1154.8h0M879.7 1155.9h0M912.7 1096.9h0M877.6 1136.9h0M905.5 1107.1h0M868.3 1119.5h0M892.2 1152.7h0M865.2 1132.1h0M866.1 1161.4h0M876.4 1071.4h0M870.9 1089.9h0M862.7 1155.1h0M861.7 1119.6h0M888.4 1113.8h0M900.3 1155h0M872.5 1113.1h0M950.5 1160.5h0M864.4 1149.7h0M871.7 1156.5h0M958 1155.4h0M880.1 1142.9h0M1033.1 1052.9h0M994.8 1161.4h0M884.6 1127.7h0M893.8 1122.7h0M870.6 1128.1h0M913.3 1161h0M873.1 1048.5h0M882.8 1137.5h0M885.6 1119.4h0M868.8 1033.7h0M880 1156.4h0M875.6 1153.7h0M914 1145.7h0M865.6 1106.9h0M906.2 1098.5h0M896 1115.6h0M877.7 1160.4h0M907 1121.6h0M868.6 1159.6h0M912.4 1145.2h0M879.4 1159.4h0M870.3 1116.7h0M873.4 1156.4h0M876.5 1144.4h0M864.8 1152.6h0M882.6 1111.6h0M886.2 1146.4h0M867.7 1152.6h0M885 1150.5h0M874.4 1070.3h0M908.2 1154.1h0M886.1 1138.2h0M867.7 1143.1h0M873.3 1140.2h0M873.9 1151.6h0M863.2 1156.2h0M861 1136.2h0M870.5 1161.4h0M890.9 1106.5h0M906.3 1123.3h0M861 1156.9h0M891.4 1129.5h0M864.6 1146.1h0M876.5 1156.1h0M883.1 1155.2h0M865.8 1071.2h0M909.9 1141h0M907.1 1150h0M862.8 1081.8h0M870.7 1161.4h0M889.1 1150.5h0M895.7 1160.3h0M983.4 1100.8h0M861.9 1161.4h0M890.6 1054.6h0M896.4 1155.8h0M888.2 1161.4h0M865.8 1137h0M893.7 1151h0M905.1 1079.8h0M887.9 1161.4h0M874.5 1153.7h0M864.2 1109.1h0M861.8 1155.2h0M910.8 1158.4h0M929.7 1161.4h0M866.4 1143.4h0M910.8 1161.4h0M1013.5 1161.4h0M890.3 1128.8h0M896.3 1029h0M870.6 1124h0M891 1160.7h0M888.1 1143.7h0M881.6 1136.9h0M876.9 1145.1h0M868.3 1132h0M890.2 1150.4h0M880.1 1161.4h0M873.9 1072.3h0M876 1137.2h0M924.2 1161.4h0M900.4 1110.7h0M878.3 1152.8h0M873.4 1153h0M906.5 1147.7h0M991.9 1050.7h0M876.9 1089.8h0M876.2 1117.4h0M898.5 1032.8h0M894.3 1107.9h0M880.3 1102.1h0M897.6 1161h0M992.8 1148.9h0M871 1159.1h0M990 1159.4h0M893.3 1161.4h0M864.9 1160.9h0M866.4 1144.8h0M870.1 1137h0M874.4 1121.3h0M867.8 1134.8h0M900.3 1152h0M894.5 1151.8h0M902 1149.8h0M881.4 1123.2h0M872.1 1131.8h0M862.9 1154h0M892.5 1155.6h0M1000.4 1161.4h0M885.1 1115.8h0M871.7 1090.2h0M905.2 1121.3h0M897.2 1154.1h0M891.5 1152h0M871.8 1152.8h0M882.4 1127.9h0M878.4 1150.3h0M886.5 1085.9h0M875.5 1104.9h0M865.2 1150.5h0M871.7 1148.9h0M874.6 1118.9h0M872.5 1160.3h0M865.9 1153.9h0M901.6 1155.1h0M888.8 1061.4h0M901.7 1105.8h0M869.1 1138.9h0M895.8 866.1h0M890.1 1158h0M880.5 1153.2h0M896.4 1160.2h0M874.6 1156.5h0M869.4 1158.3h0M876.6 1006.5h0M910.7 1152.4h0M877 1120.7h0M902.4 1121.1h0M889 1161.4h0M891 1142.9h0M881.5 1098.4h0M901.5 1150.4h0M874.4 1161.4h0M891.1 1132.5h0M901.4 1085.6h0M899.9 1155h0M914.2 1147h0M879.6 1160.2h0M890.4 1110.8h0M890.1 1114.5h0M946.5 1131.3h0M899 1127.8h0M862.7 1146.7h0M912.2 1133.4h0M911.1 1153.6h0M867.5 1043.2h0M985 1137.6h0M907.3 1146.3h0M874.6 1150.5h0M875 1135.9h0M882.3 1160.2h0M896.1 1145.6h0M868.5 1158h0M872.4 1142.1h0M888.6 1145.3h0M868.8 1080.6h0"/>
<path stroke="#CE3A53" d="M895.1 1018.3h0M873.6 1057h0M907.6 1052.5h0M861.2 930.9h0M1115.6 1156h0M1036.7 1147.7h0M904.9 896.8h0M863.7 1152.7h0M897.5 1114.3h0M889.3 1141.3h0M885 1129.1h0M865.7 1140.4h0M873.7 1157.2h0M881 1045h0M863.3 1141.1h0M897.2 1117.7h0M998.4 1161.4h0M879.3 1014.3h0M880.6 1161h0M864.7 1153h0M898.5 1109.9h0M865.9 1156.2h0M862.4 1039h0M888.5 1134.1h0M894.8 1111.7h0M878.7 1078.2h0M871.8 948.3h0M886.8 978.4h0M884.3 1058.6h0M906.8 1056.4h0M1117.3 1161.4h0M916.9 1161.4h0M863.6 1062.1h0M903.6 1115.5h0M898.3 1155.7h0M1244 1138h0M895 1161.4h0M889.5 1134.5h0M1085.9 994.2h0M887.5 1058.7h0M870.9 1150.6h0M877.6 1019.8h0M889.6 1003.2h0M1089.1 1125.9h0M866.1 1053.7h0M865.1 1161.4h0M902.2 1161.4h0M867.6 1116.5h0M906 1145.4h0M880 1114.5h0M939.6 859.6h0M863.5 1160.8h0M879.7 1151.1h0M911.2 1138.2h0M875 1071.9h0M980 1161.4h0M1064 1147.1h0M881.6 1152.3h0M1234.6 1154h0M871.7 1072.3h0M865.9 1136.5h0M872.1 1105.3h0M890 1154.3h0M880 1132.8h0M871.6 1161.4h0M868.8 1093.5h0M900.5 1119.6h0M1222.6 1149.7h0M962.4 1161.4h0M881.7 1161.4h0M893.9 1080.4h0M974.5 1014.7h0M862.3 985.6h0M920.8 1112.3h0M1077.5 1129.5h0M885.6 1141.5h0M861.4 1103.9h0M885 961.8h0M865.8 1161.4h0M877.4 1079.3h0M880.6 859.6h0M890.9 1004h0M893.5 1066.9h0M877.3 1149.3h0M872.9 1013.5h0M875.2 1084.8h0M868.6 1125h0M871.4 1015.6h0M880.4 1116.4h0M899.4 941.3h0M990 1161.1h0M867.6 1148h0M876.8 1149.5h0M1236.2 1153.4h0M895.5 1161.4h0M891.5 958h0M1075.1 1146.1h0M964.6 1146.3h0M888.6 1151.1h0M907.7 1145.8h0M860.9 1126.8h0M873.6 995.9h0M1089.5 848.8h0M870.2 1059.9h0M866.5 1154.3h0M924.1 1141.4h0M885.8 1049.8h0M869.3 1133.9h0M897.9 1111.3h0M888.2 1080h0M871.2 1098.1h0M876.7 1153.6h0M915.1 1137.8h0M873.9 1109.4h0M869 1103.1h0M874.1 1157.5h0M870 1133.9h0M917.4 1135.5h0M874.7 1076.2h0M874.1 1137.8h0M860.8 1143.8h0M891.8 1040.9h0M896.6 956.8h0M940.9 1093.8h0M988.8 1153h0M1083.1 1118.8h0M899.2 1122h0M872.1 1123.7h0M872 1160.2h0M886.9 1072.1h0M898.6 1159.4h0"/>
<path stroke="#EDC75B" d="M868.7 1141.1h0M889.6 1027.8h0M881.3 1142.7h0M882.9 962.4h0M896.3 1089.6h0M891.9 1119h0M879.4 1033.3h0M911.6 1110.9h0M893.9 1156.9h0M867.2 1142h0M905.6 1072.7h0M874.4 1154h0M910.7 1104.2h0M880.8 1125.4h0M906.4 1146.7h0M906.9 1158.7h0M929.5 1148.3h0M875 1126.3h0M891.9 1151.5h0M893.6 1160.5h0M880.8 1139.2h0M909.2 1157.7h0M878.4 889.1h0M876.2 1161.4h0M883.7 1076.2h0M887.3 1140.3h0M891.3 1112h0M874.7 1143.8h0M890.3 1093.3h0M886 1084.9h0M896 1134h0M890.9 889.4h0M876.7 1043.6h0M890.2 972.9h0M881.8 1101.3h0M889.7 999.7h0M935.6 1155.3h0M869.3 1148.8h0M868.2 1030.3h0M940.3 1138.3h0M909.1 1099.3h0M888.8 1131.7h0M866.1 1106.6h0M883.8 1131.5h0M893.6 1128.8h0M874.6 1142.6h0M869 1129.7h0M905.7 1124.6h0M868.3 1136.6h0M890.4 1053.4h0M890 835.8h0M871.8 1161.4h0M882.4 1153.4h0M892.3 997.8h0M867 1143.3h0M916.1 1094.4h0M937.4 1153.7h0M887.3 1052.4h0M872.4 1133.6h0M870.4 1145.2h0"/>
<path stroke="#DC9BD6" d="M862.8 1145.1h0M878.4 1135.2h0M1057.1 1159.2h0M864.4 928.6h0M872.7 1160.4h0M869.6 1092.9h0M876.1 1148.2h0M869.1 1157.4h0M878.1 1152.2h0M881.1 1156.3h0M879.6 1130.7h0M882.8 1122.6h0M880.7 1037.9h0M880 1156.5h0M886.5 1061.5h0"/>
<path stroke="#CE3A53" d="M873.2 1142.4h0M874.2 1158.9h0M882 1019.3h0M863.7 1132.7h0M872 1059.4h0M921.9 1144.7h0M874.2 996.9h0M894.7 846.6h0M907.8 1080.4h0M928.9 1136.7h0M867.8 1151.3h0M861.3 1144.2h0M1231.4 1103.3h0M878.1 953.5h0M873 1127.8h0M893.5 1119.3h0M879 1077.3h0M889.2 1046.3h0M881.8 1030.5h0M923.3 1130.5h0M868.8 1090.9h0M878.8 986.4h0M965.1 1131.5h0M866.1 1080.2h0M885.4 1159.2h0M880.6 1023.3h0M897.7 1127.3h0M959.5 961.7h0M887.3 1133.4h0M914.6 1132.4h0M867.9 1120.1h0M883.5 861.6h0M884.5 983.8h0M869.2 895.9h0M869.4 1158.2h0M873.6 1156.8h0M865.8 1148.3h0M902.5 1121.7h0M883.9 961.6h0M871.4 1075.9h0M909.7 957h0M881.4 1028h0M866.8 1107.4h0M891.2 1158h0M889.2 1120h0M882.2 941.1h0M869 1008.7h0M882.8 1113.4h0M919 1161.3h0M870.2 1137.8h0M877.5 1161.4h0M912.2 1119.5h0M1015.9 1149.3h0M871.8 1142h0M865.8 1147.2h0M875.6 1161.4h0M873.8 1085.6h0M887.7 1093.6h0M915.8 1161.4h0M877.6 1098.2h0M928.3 1161.4h0M898 964.4h0M871.5 1085.2h0M877.8 1055.8h0M1193.2 1132.9h0M902.2 992.5h0M874.4 1105.3h0M879.4 1154.9h0M1003.2 1144.3h0M862.7 1104h0M914.6 1161.4h0M882.4 1058.1h0M920 1140.9h0M873.6 1133.2h0M1215.2 1147.3h0M888 1072.7h0M883.7 1091.5h0M917.2 1161.4h0M870.1 1129.2h0M871 1111.7h0M861.8 1148h0M892.1 1113.4h0M864.3 1135.2h0M901.8 1070.6h0M971.8 1161.4h0M896.7 1154h0M872.8 1092h0M865.7 1161.4h0M865.9 1083h0M879 1065.3h0M870.2 1148.5h0M893 1143.6h0M921.7 1130.8h0M904.7 1089.3h0M882.8 960.4h0M865.9 1158.6h0M871.8 1083h0M876 1049.2h0M879.8 1133.2h0M902.4 1116.6h0M898.3 1147.1h0M905.2 918h0M871.5 1161h0M877.5 1077.7h0M1067.9 1102.9h0M874 1148.8h0M902 1106.5h0M959.7 1135.9h0M863.5 1064.9h0M865.8 1145.8h0M870.2 1103.8h0M886.8 1155.6h0M880.8 1098.9h0M869.9 1142.9h0M868.5 973.2h0M1076.7 1161.4h0M874.4 1148.6h0M936.1 1149.1h0M894.3 1117.2h0M866.2 1151.9h0M976.2 989.9h0M880.1 1033.1h0M891.4 1153.9h0M883.9 1154.6h0M876.4 1052.4h0M876.4 936.6h0M893 998.1h0M872.3 1096.7h0M949.3 1139.5h0M890.9 1147h0M863.6 1081h0M1001.6 1161.4h0M966.3 903.1h0M887.3 1133.6h0M877.4 1149.6h0M917.6 1153.7h0M1056.1 909.6h0M864.6 1139.5h0M904.7 1112.9h0M869 1113h0M897.9 1113.2h0M1058.2 1072.4h0M875.9 1160.6h0M890.4 1135.7h0"/>
<path stroke="#EDC75B" d="M886 1153.1h0M899.2 1112.3h0M886.1 1159.2h0M890.8 1135.7h0M884.9 1136.8h0M887.6 1128.9h0M874.6 1037.2h0M907.3 1156.4h0M893.5 1155h0M885.5 934.7h0M884.3 1136.5h0M881.6 1131.2h0M901.1 1155.8h0M866.9 1051.5h0M885.4 995.9h0M890.1 933.2h0M895.1 1149.1h0M896.1 1138.1h0M902.8 1048.9h0M878.7 1073.4h0M877.7 1139.3h0M878.2 1149.9h0M875.3 1139.4h0M874.1 1130.3h0M892.6 1140.6h0M871.4 1103.9h0M901.1 1150.9h0M900.5 1141.1h0M901.5 1063.8h0M921.2 1131.4h0M876.9 961.9h0M897.9 1151.2h0M878.7 1135.8h0M883.1 893h0M921 1148.3h0M925.7 1137.8h0M870.9 1151.5h0M892.2 1140.4h0M868.1 1161.4h0M876.5 1150.8h0M873.4 1160.9h0M877 1161.4h0M929.3 1144.8h0M910.4 1143.1h0M865.6 1098.3h0M880.2 1140.3h0M870.1 1143.5h0M869.3 1057.8h0M872.7 1138.9h0M880.2 1151.2h0M867.1 1129.4h0M888.9 1124.3h0M881.1 936h0M904.9 1152.9h0M879.9 1113.1h0M881.1 1002h0M879 1151.4h0M883.7 1142.1h0M876.8 1090.7h0M883.1 1001.1h0M871.2 1161.4h0M899.6 1118.7h0M872.1 1105.6h0M885.6 1080.1h0M873 1154.4h0M864.7 1151.9h0M885.1 1146.1h0M868.1 952h0M881.2 1070.4h0"/>
<path stroke="#BDBDBD" d="M1220 1118.4h0M1174.2 1095.1h0M869.5 1138.6h0M896.5 1145.4h0M899.3 1142.3h0M916.3 1130.2h0M1044.3 1161.4h0M1178.6 1161.3h0M875.6 1141.8h0M880.4 1143.3h0M883.2 1140.9h0M1187 1155.9h0M875.8 1094.6h0M887.7 1132h0M871.6 1160h0M1207 1161.4h0M882.3 1112.8h0M1175.4 1161.4h0M870.5 1111.6h0M887.6 1137.2h0M906.2 1083.5h0M884.1 1151.9h0M1205.2 1113.1h0M1187.8 1122.8h0M914 1160.4h0M872 1028.8h0M1100.9 1154.3h0M895.7 1150.4h0M890.8 1138.3h0M874.2 1141.1h0M883.9 1128.9h0M873.3 1114.6h0M898.3 1161.4h0M1210.1 1150.9h0M1177.5 1127.1h0M1240.6 1158.6h0M1204.5 1161.4h0M875.9 1160.9h0M872.5 1149h0M895.3 1158.9h0M876.1 1124h0M870.4 1149.2h0M895.8 940h0M905.4 1155.8h0M906.7 1156.6h0M925.5 1149.7h0M881 1159.5h0M900.5 1150.1h0M864.3 1155.3h0M1115.1 1161.4h0M870.1 1156.4h0M895.2 1157h0M904.5 1112.1h0M1247.2 1136.4h0M1206.9 1142.7h0M882.3 1128.5h0M888.8 1021h0M1167.1 1151.1h0M905 1113.8h0M899.2 1135.2h0M871.5 1054.9h0M869.4 1132.9h0M880.3 1064.6h0M863.2 1157.9h0M869.1 1161.4h0"/>
<path stroke="#46A078" d="M887.8 1157h0M897.9 1158h0M910.1 1124.8h0M888.9 1069.7h0M863.3 1138.1h0M868.2 1127.6h0M908.1 1119.1h0M905.4 1149.3h0M904.4 1159.6h0M942.7 1113.9h0M889.2 1141.7h0M895.2 1161.4h0M874 1159h0M865.8 1161.4h0M877.7 1161.4h0M912.1 1135h0M914.8 1152.3h0M867.1 1151.6h0M899.6 1138.1h0M1003.7 1161.4h0M884.9 1157.2h0M884.2 1154.5h0M880.4 1147.4h0M909.6 1096.3h0M908.2 1151.7h0M863.8 1120.4h0M873.3 1159.7h0M889.2 1141.2h0M1013 1153h0M866.6 1088.5h0M882.1 1144.2h0M867.9 1160.6h0M869.6 1154.2h0M878.4 1089.1h0M868.2 1127.7h0M892.8 1156.8h0M900.7 1073.4h0M897.6 1091.3h0M878 1139.5h0M874.6 1153.4h0M871.2 1146.4h0M873.5 1130h0M873.7 1135.8h0M867.8 1155.2h0M902.2 1158.7h0M890.8 1111.9h0M907.6 1134.6h0M910.6 1140.9h0M885.8 1052.9h0M878.2 1153.6h0M871.5 1161.4h0M886.3 1145h0M894.6 1093.3h0M882.7 1143.8h0M872.8 1136.9h0M900.7 1144.2h0M861.6 1115.6h0M874.3 1059.7h0M914.1 1073.6h0M890.4 1153.9h0M910.7 1068.1h0M870.9 1140.9h0M865.9 1104.8h0M897.4 1154h0M892.9 1161.4h0M924.9 1140.4h0M898.2 1144.1h0M1029.4 1161.4h0M881.8 1111.4h0M868.2 1118.4h0M868.7 1134.4h0M888.2 1145.2h0M904.4 1159.8h0M884.2 1106.5h0M892.6 1160.5h0M870.1 1089.2h0M958.5 1153.3h0M897.1 1096.5h0M888.6 1146.7h0M871.5 1160.9h0M947.2 1138.8h0M883.2 1095.8h0M897.9 1096h0M862.9 1130.3h0M880.1 1147.6h0M874.6 1088.3h0M865.5 1072.7h0M889.7 1133h0M904.3 1161.4h0M882.5 1158.6h0M870.2 1161.4h0M892.6 1135h0M865.6 1161.4h0M885.3 1035.8h0M939.7 1113.1h0M896.9 1137.7h0M878.5 1060.1h0M872.6 1110.2h0M867.9 1137.7h0M914.4 1161.4h0M914.2 1144.5h0M893.7 1146.3h0M880.3 1130.6h0M904.5 1131.5h0M872.6 1142h0M878.2 1146.2h0M867.9 1157.2h0M882.3 1100.7h0M876.9 1158.9h0M873.2 1098.1h0M903.5 1106.9h0M871.1 1110h0M1010.1 1026.8h0M910.7 1149.8h0M889.3 1120h0M871.1 1112.8h0M978.5 1135h0M875.1 1161.4h0M877.9 1145.8h0M866.1 1154.6h0M875.9 1121.3h0M876.2 1158.5h0M879.8 1110.4h0M906.4 1153.6h0M896.7 1157.1h0M892.1 1121.7h0M911.9 1034h0M891.3 1144.2h0M886.1 1104.8h0M878.4 1157.2h0M884.1 1144.7h0M863.1 1140h0M904.6 1152.3h0M973.1 1035.5h0M870.4 1158.6h0M876.7 1161.4h0M895.2 1152.8h0M878.3 1101.7h0M862.9 1115.5h0M879.8 1130.4h0M959.1 1141.4h0M881.4 1108.6h0M866.2 1147.1h0M863.2 1107.1h0M897.6 1159.7h0M871.8 1156.7h0M883.9 1124.3h0M894.1 1117.4h0M890.1 1148.3h0M885.3 1093.2h0M874.8 1159.8h0M891.5 1108.1h0M878.5 1141.2h0M878.8 1120.5h0M880.2 1091.2h0M895.7 1161.2h0M881.8 1140.2h0M902 1156.1h0M885.9 1098.7h0M884.5 1133.8h0M871.1 1085.6h0M866.4 1161.4h0M911.8 1135.8h0M875 1080.5h0M862.2 1128.8h0M900.7 1156.3h0M868 1157h0M872 1153.5h0M874.7 1088h0M894.2 1115.7h0M918 1161.4h0M892.6 1153.6h0M896.6 1154.1h0M865.3 1129h0M879.5 1105.1h0M871.5 1137.2h0M868.6 1157.9h0"/>
<path stroke="#9A3AA3" d="M907.5 1160.9h0M927 1152.8h0M900.8 1142.4h0M914.4 1123.3h0M895.2 1146.2h0M915.1 1138h0M928.4 1106.5h0M899.9 1064.6h0M938.3 1137.9h0M908.6 1151.3h0M926.6 1005.1h0M889 1095.5h0M949.3 1126.1h0M918.4 1135.5h0M897.2 1121.6h0M921.7 1160.1h0M909.4 1097.1h0M947.8 1150.1h0"/>
<path stroke="#DC9BD6" d="M870.5 909.3h0M865 1146.5h0M869.3 1014.1h0M871.8 1105.3h0M879.7 1090.2h0M866.6 1068.7h0M880.3 1148h0M871.2 859.6h0M876.9 1159.1h0M881.1 853.1h0M872.4 1079.4h0M863 1050.7h0M888.5 1112.9h0M1011.2 1072.4h0M880.1 1072.5h0M867.3 1159.2h0"/>
<path stroke="#46A078" d="M892.2 1161.4h0M892.9 1153.8h0M874 1105.2h0M890.3 1157.6h0M891.6 1134.4h0M905.7 1161h0M887 1118.8h0M879.8 1140.6h0M907.7 1042.2h0M912.5 1161h0M872.6 1118.6h0M908.2 1160.8h0M878.1 1133.4h0M863 1130.7h0M946.2 1159.1h0M864.9 1061.8h0M871.8 1148.1h0M868.8 1091.4h0M895.1 1104.1h0M913.6 1156.8h0M882.5 1154.2h0M907.9 1133.7h0M866.9 1158.3h0M874.4 1098.2h0M875.1 1114.7h0M864.8 1099.9h0M863.2 1071.4h0M877 1138.5h0M887.4 1146.1h0M867.9 1156.9h0M909.1 1152.7h0M899.8 1090.9h0M874.3 1152.5h0M867.1 1145.8h0M898.6 1156.2h0M887.7 1145.1h0M944.5 1161.4h0M900.5 1128.6h0M881.3 1150h0M870.7 1136.9h0M864.7 1091.8h0M897.1 1079.7h0M873.3 1140h0M910.4 1110.6h0M873.3 1159.4h0M867.3 1161.4h0M870.7 1161.4h0M910.8 1161h0M862 1141.4h0M883.4 1159.6h0M879.5 1161.4h0M886.2 1145.8h0M922.5 1154h0M914.2 1148.7h0M880.2 1134.3h0M870.9 1140.6h0M883.3 1159.8h0M913.6 1133.2h0M871.4 1154.6h0M868.6 1158.3h0M873.7 1150.2h0M945.6 1145.2h0M904.2 1150.3h0M896.2 1161.4h0M871.6 1110.6h0M869 1152.4h0M881.1 1153.5h0M932.6 1151h0M883.8 1155.2h0M900.7 1140.9h0M866.8 1129.4h0M865.3 1124h0M864.4 1159.9h0M890.3 1142.8h0M897.4 1159.5h0M873 1132.1h0M899 1161.4h0M866.8 1062.3h0M868 1161.4h0M872.8 1147.6h0M861.4 1157.1h0M897.5 1136.6h0M882.7 1154h0M882.5 1146.8h0M861.8 1145.1h0M886.9 1101h0M868.3 1110h0M883 1139.4h0M861 1160h0M910.2 1134h0M879.8 1113.1h0M912.1 1157.5h0M867.2 1161.2h0M907.2 1117h0M882.1 1148.6h0M877.6 1147h0M946.3 1148h0M869 1154.5h0M911.1 1152.7h0M867.4 1147.2h0M881.3 1072.9h0M909 1097.7h0M872.1 1123.4h0M881.2 1152.6h0M897.6 1158.6h0M873.7 1160.1h0M862.1 1151.8h0M874.3 1153.6h0M866.5 1109.4h0M864.3 1124.5h0M868.6 1156h0M948.6 1132.5h0M903.8 1109.5h0M868.7 1130.1h0M900.6 1147.6h0M867.9 1144.4h0M890.2 1148.6h0M908.9 1140h0M880.8 1118.4h0M866.6 1116.2h0M876.2 1142.4h0M879.5 1154.9h0M910.8 1079.5h0M871.7 1117.1h0M875.3 1094.8h0M876.9 1160.2h0M899 1120h0M876.9 820.6h0M869.5 1126.5h0M866.9 1110.3h0M880.7 1132.8h0M862.8 1083.8h0M865.8 1150.8h0M1006.7 1140.8h0M867 1156.8h0M895.1 1154.2h0M883 1156.1h0M878.5 1154.8h0M865.9 1149.9h0M883.7 1154.3h0M878.5 1094.1h0M870.3 1120.4h0M874.2 1134.9h0M914 1091.1h0M878.3 1161.4h0M867.8 1160.4h0M925.3 1161.4h0M953 1142.5h0M938.7 1102.2h0M868.5 1071.4h0M867.1 1142.9h0M890.8 1147.1h0M901.1 1156.6h0M868.2 1142.9h0M1022.9 1160.7h0M879.6 1158.1h0M886.9 1142h0M877.8 1153.8h0M870.5 1061.5h0M867.9 1132.2h0M897 1161.4h0M896.8 1159.4h0M893.3 1161.4h0M882.7 1094.2h0M955.8 1136.7h0M956.2 1116.2h0M866.2 1113.9h0M892.5 1109.7h0M868.5 1151h0M893.2 1148.3h0M879.2 1116.7h0M956.3 1157.1h0M865.7 1154.4h0M877 1161.4h0M902.2 1126.5h0M891.6 1128h0M891.3 1130h0M874.7 1112.8h0"/>
<path stroke="#CE3A53" d="M903.4 1156.7h0M1221.5 1156.2h0M891.7 987.6h0M874.3 1091.6h0M883.7 718.5h0M882.1 1095h0M885.3 993h0M865.3 1086.1h0M866.6 1139.8h0M889.4 1120.3h0M862.5 1138.2h0M882.4 1161.4h0M885.6 1088.9h0M1211.3 1136.4h0M883.8 1159.6h0M1065.6 1161.4h0M885.5 902.1h0M898.8 1161.4h0M1062.5 1133.2h0M873.3 1161.4h0M884.4 1021.8h0M860.8 1144.3h0M880.1 1055.8h0M875.8 1069.4h0M871.1 931.5h0M898.4 1153.8h0M880.1 1114.1h0M886.7 1113h0M874.1 1140h0M938.6 1160.6h0M864.7 1149.9h0M882.4 1080.5h0M889.5 1058h0M879.3 983.8h0M897.8 1150.2h0M907.4 1064h0M870.9 1060.2h0M913.8 1161.4h0M880.4 1114.7h0M890.4 1136.4h0M872.3 1160.6h0M866.6 1159.7h0M1059.2 1114.2h0M881 1085.5h0M907.1 1095.3h0M900.7 1131.6h0M1047.1 1148.3h0M923.5 1156h0M861.3 1037.1h0M875.3 1047h0M951.3 1040.5h0M863.8 1078.5h0M874.4 1079.7h0M890.6 1108h0M905.2 992h0M887.8 1069.7h0M897.7 1133.6h0M868.2 872.5h0M861.7 1074.9h0M899.9 1096.9h0M912.2 1074.8h0M878.7 1045.6h0M973 1161.4h0M866.4 1158h0M875.8 1154h0M885.9 977h0M891.2 1090.4h0M875.5 1031.8h0M867.5 1136h0M880.1 1030.5h0M887.4 1161.4h0M863.1 1151.9h0M886.2 1064.8h0M886.4 972h0M872 1091.1h0M886.6 1076.6h0M886.5 1050.1h0M865.2 1136.7h0M1043.8 1102.5h0M867.2 1088.5h0M886.8 1053.8h0M892.1 1079.2h0M875.1 1114.8h0M883.3 1130.8h0M965 1161.4h0M877.1 1063.8h0M869.4 1065.7h0M873.6 1052.8h0M892.6 1079.2h0M862.9 1144.3h0M871.4 1161.4h0M892.1 1078.1h0M863.5 1068.3h0M962.3 1115.3h0M870.1 1153.9h0M867.8 1154.3h0M884.8 997.4h0M1098.3 1118.7h0M873.2 1146.2h0M915.1 1161.4h0M865.1 1138.2h0M868.8 989.2h0M897 1111h0M865.7 1103.7h0M937 1135.2h0M866.4 1136.2h0M868.1 1149.5h0M864 1155.8h0M1081.2 1161.4h0M869.1 1161.4h0M879.8 978.1h0M874.3 1161.4h0M870.8 1138.7h0M874 1034.1h0M866.1 910.9h0M894.5 1103.8h0M890.6 1096.9h0M905.2 995.8h0M889.7 1091.5h0M883.6 1134h0M865.6 1018.9h0M872.3 979.6h0M880.3 1034.3h0M866.5 1042h0M872.2 1122.3h0M894 1159h0M868.8 1081.7h0M1049 1155.4h0M924.8 1161.4h0M883 1059.5h0M871 1161.4h0M869.9 1120.3h0M903 1119.3h0M888.9 1146.2h0M884.3 983h0M880.5 1161.4h0M869.7 1109.1h0M879 1141.9h0M925.3 1158.6h0M863.4 1025.7h0M1097.5 1150.4h0M869.3 1138h0M919.6 1161.4h0M874.7 1103.2h0M882.5 1015.6h0M1106.8 933.4h0M880.2 1016.3h0M917.8 1153.9h0M879.4 1059.4h0M875.2 1104.1h0M861.8 1091h0M876.6 1138.4h0"/>
<path stroke="#EDC75B" d="M893.7 1114.9h0M896.9 1091.1h0M903.3 1161.4h0M886.8 1079.2h0M879.2 1133.5h0M876 1146.9h0M869.9 1160.3h0M868 1092.8h0M866.5 1142.4h0M879.3 1147h0M886.2 1122.6h0M895.8 1144.5h0M884.5 1156h0M877.6 916.1h0M911.4 1124.1h0M896.8 1145.4h0M869.9 1146.9h0M904.4 1076.1h0M879.9 1101.5h0M867.9 1154.1h0M896.5 1131.6h0M864.8 1104.4h0M889.8 1161.4h0M864.1 1093.5h0M901.8 899.1h0M886.6 1161.4h0M924.5 1140.7h0M908.7 1160.1h0M876.4 1154.4h0M892.7 1137.4h0M869.3 1147.9h0M883.5 893.2h0M906.6 1129.9h0M872.5 1161.4h0M867.6 1136.7h0M866.5 1147.7h0M873.3 1140.4h0M912.2 1090h0M901.7 1153.1h0M889.3 1141.6h0M879.1 1135.3h0M884.7 1065.8h0M870.8 1051.8h0M894 962.7h0M863.4 1161.4h0M885.8 1128.3h0M886.7 963.5h0M906.7 1040.7h0M882.2 1080.5h0M940 1156.7h0M887.7 1143.9h0M879.9 1149.9h0M870.3 1046.6h0"/>
<path stroke="#BDBDBD" d="M867.5 1020.6h0M1196.3 1081.1h0M876.8 1107.4h0M1224 1150h0M898.5 1161.4h0M871.3 1160.6h0M879.3 1149.4h0M878.4 1161.4h0M868.1 1108h0M874.1 1157h0M895.8 1083.2h0M864.2 1161.4h0M871.5 1153h0M892.4 1109.3h0M877 1143.4h0M919.1 1145.6h0M889.6 1129.7h0M886.5 1123h0M1175.4 1109.4h0M1239.5 1161.4h0M881.3 1100.3h0M1217.6 1129.3h0M901.9 1151.4h0M862.2 1093h0M1204.3 1161.4h0M886.4 1042h0M871.4 1102.7h0M892.6 1133.4h0M871.4 1093.7h0M1205.4 1161.4h0M1187.3 1159.7h0M1030.9 1140.5h0M885.5 1131.4h0M900.8 1154.2h0M1196.4 1144.2h0M870.3 1143.4h0M865.3 1153h0M892.2 1158h0M877 1122.1h0M955.1 1112.7h0M866.5 1062.5h0M866.2 1155.6h0M892.5 1136.5h0M893.1 1161.4h0M873.2 1151h0M866.3 1124.9h0M898.1 1161.4h0M1223.7 1158.7h0M883.3 1157.8h0M889.8 1146.8h0M871.9 1099.3h0M879.2 1136.4h0M877.6 1135.3h0M873.6 1124.2h0M868.1 1112h0M1187.9 1161.4h0M867.1 1108.8h0M1185.6 1155.8h0M861.3 1157.8h0M868.9 1161.4h0M1196.9 1161.4h0M880.1 1161.4h0M891.3 1137.5h0M1106.3 1129.9h0M1019.6 1161.4h0M873.3 1149.7h0M870.4 1124.9h0M895.4 1132.9h0M886.7 1113h0M866.7 1149.9h0M889.5 1142.9h0"/>
<path stroke="#DC9BD6" d="M867.5 1035h0M867.6 1156.1h0M872.4 1004.2h0M872.4 1087.3h0M876 996.8h0M883.3 1146.8h0M864.7 1046.1h0M871.3 1096.9h0M892.8 1063.4h0M881.1 1108.7h0M887.2 1120.2h0M897.4 985.3h0M888.2 1153.7h0M877.6 1119.6h0"/>
<path stroke="#9A3AA3" d="M942.6 1138.2h0M903.7 1049.8h0M887.1 1161.1h0M933.2 1098.8h0M924.8 1083.2h0M883.7 1113.9h0M937 1009.4h0M896.4 1125.8h0M915.3 1067.1h0M896.3 1077.3h0M895.9 1095.4h0M937.6 1157.1h0M935.4 1143.2h0M899.8 1161.4h0M907.1 1157.5h0M914.9 1050.5h0"/>
</g>
<rect x="1100.4" y="696.5" width="222.3" height="152" fill="#fff"/>
<rect x="835.3" y="696.3" width="487.9" height="487.9" fill="none" stroke="#333" stroke-width="1.5"/>
<path d="M857.1 1184.2v3.4M961.6 1184.2v3.4M1066 1184.2v3.4M1170.5 1184.2v3.4M1274.9 1184.2v3.4M835.3 1161.4h-3.4M835.3 1052.9h-3.4M835.3 944.3h-3.4M835.3 835.8h-3.4M835.3 727.2h-3.4" stroke="#333" stroke-width="1.5" fill="none"/>
<g font-size="18.9" fill="#4d4d4d">
<text x="857.1" y="1204" text-anchor="middle">0</text>
<text x="961.6" y="1204" text-anchor="middle">20</text>
<text x="1066" y="1204" text-anchor="middle">40</text>
<text x="1170.5" y="1204" text-anchor="middle">60</text>
<text x="1274.9" y="1204" text-anchor="middle">80</text>
<text x="828.9" y="1167.6" text-anchor="end">0.0</text>
<text x="828.9" y="1059.1" text-anchor="end">2.5</text>
<text x="828.9" y="950.5" text-anchor="end">5.0</text>
<text x="828.9" y="842" text-anchor="end">7.5</text>
<text x="828.9" y="733.4" text-anchor="end">10.0</text>
</g>
<text x="1093" y="1232.9" font-size="26.3" text-anchor="middle" fill="#000">Batch before correction (%)</text>
<text transform="translate(789.6 947.2) rotate(-90)" font-size="26.3" text-anchor="middle" fill="#000">Sex after correction (%)</text>
<text x="1466.1" y="675.8" font-size="64" fill="#000">f</text>
<path d="M1585.5 694.3V1195.1M1701.3 694.3V1195.1M1817.2 694.3V1195.1M1933.1 694.3V1195.1M1523 755.4H2023.7M1523 844H2023.7M1523 932.6H2023.7M1523 1021.2H2023.7M1523 1109.8H2023.7" stroke="#ebebeb" stroke-width="0.7" fill="none"/>
<path d="M1527.5 694.3V1195.1M1643.4 694.3V1195.1M1759.3 694.3V1195.1M1875.2 694.3V1195.1M1991.1 694.3V1195.1M1523 711.1H2023.7M1523 799.7H2023.7M1523 888.3H2023.7M1523 976.9H2023.7M1523 1065.5H2023.7M1523 1154.1H2023.7" stroke="#ebebeb" stroke-width="1.4" fill="none"/>

<g fill="none" stroke-linecap="round" stroke-width="7">
<path stroke="#FF7F00" d="M1835.7 1157.8h0M1872.7 997h0M1763.6 904.7h0M1751.5 1100.5h0M1800.6 1004.4h0M1779.1 1118.6h0M1820.9 1061.2h0M1842.8 1011.8h0M1884.2 771.3h0"/>
<path stroke="#984EA3" d="M1750.5 983.1h0M1768 1111h0M1675.4 981.1h0M1814.5 990.9h0M1800.7 844.8h0M1701.1 875.8h0M1772.6 930.5h0M1880 982.2h0M1793.5 842.8h0M1773.3 951.4h0M1908 1034.3h0M1785.6 1152.3h0M1747.1 1032h0M1730.5 877.4h0M1821.2 1036.3h0M1807.1 890.6h0M1778.5 1085.4h0M1829.5 1066.9h0"/>
<path stroke="#4DAF4A" d="M1715.5 967.3h0M1735.4 1017.1h0M1863.2 966.9h0M1836.4 1067.8h0M1789.2 999h0M1677.4 882.7h0M1759.8 993.1h0M1773.3 943.3h0M1651.3 960.9h0M1846.4 1121.4h0M1860.3 1112.2h0"/>
<path stroke="#E41A1C" d="M1739.6 874.6h0M1759.8 897.9h0M1737.3 834.1h0M1613.9 1016.8h0M1562.4 993.2h0M1724.1 824.8h0M1680.4 954.6h0M1725.5 911h0M1672.3 949.2h0M1666 941.2h0M1659 1021.8h0M1655.3 911.4h0M1619.3 1006.7h0"/>
<path stroke="#E41A1C" d="M1717.1 919.1h0M1637.3 1033.5h0M1652.6 986.1h0M1694.9 840.3h0M1596 1030.3h0M1624.6 1001.5h0M1582.2 1033.8h0M1748.7 831.6h0M1629.9 1026.1h0M1665.4 1010h0M1612.2 1008.6h0M1643.8 988.6h0M1770.6 879h0M1592.1 960.2h0M1610.4 1016.8h0M1754.9 813.2h0"/>
<path stroke="#4DAF4A" d="M1742.6 1012.1h0M1694.9 873.1h0M1818.8 1041.7h0M1773.3 1030.3h0M1905.9 956.8h0M1830.5 1078.4h0M1793 1102.6h0M1835.9 1052.4h0M1779.1 912.3h0M1847.5 973.4h0M1805.1 830.9h0M1730 993.2h0M1826.2 1098.6h0M1774.7 796h0M2000.6 724.4h0"/>
<path stroke="#984EA3" d="M1785.2 1064.5h0M1737.7 1052.4h0M1830.7 940.6h0M1834.7 1036.3h0M1787.8 1094.4h0M1807.1 1089h0M1790.6 1089.8h0M1862.8 1007.6h0M1862.6 1054.5h0M1734.3 1150.7h0"/>
<path stroke="#FF7F00" d="M1889.2 879.5h0M1891.9 842.5h0M1819.8 1136.4h0M1719.2 925.5h0M1766.7 1028.2h0M1705.4 959.2h0M1783.1 1110.3h0M1756.5 1113.4h0M1764.8 1105h0M1756.4 984.4h0"/>
<path stroke="#984EA3" d="M1806.7 1068.8h0M1755.4 1066.9h0M1741.3 1043.7h0M1763.3 924.9h0M1878.3 1005.7h0M1824.5 1086.7h0M1827.3 929.5h0M1841.1 1025.6h0M1887 979.1h0M1734.2 1048.4h0M1817.4 1034.9h0M1736 911.3h0"/>
<path stroke="#FF7F00" d="M1768.7 950.1h0M1886 952.4h0M1774.7 848.7h0M1924.7 883.7h0M1786.1 1103.5h0M1802.7 1032.9h0M1826.2 996.5h0M1942.2 973h0M1808 1153.4h0M1844.7 716.9h0"/>
<path stroke="#4DAF4A" d="M1859.5 986.2h0M1805.1 1062.4h0M1814.8 889.8h0M1849.7 756.6h0M1716.2 912.3h0M1789.2 928.2h0M1865.6 1037h0M1755.9 1000.5h0M1846.7 1017.1h0M1751.5 1091.1h0M1789.2 852.6h0M1803.1 1172.2h0M1697.9 903.2h0M1851.1 879.4h0M1905.9 994.8h0"/>
<path stroke="#E41A1C" d="M1597.4 1062.1h0M1674.1 964.9h0M1684.8 913.1h0M1686.5 900.6h0M1612.4 1053.4h0M1712.8 855.2h0M1571.1 970h0M1690.5 855.2h0M1736.3 871.7h0M1724.5 890.8h0M1727.3 855.5h0M1789 837.6h0M1685.8 1090.8h0M1730 922.7h0"/>
<path stroke="#E41A1C" d="M1635.5 869.4h0M1597.6 944h0M1665.7 956.1h0M1731 954.6h0M1670.1 919.1h0M1759.3 837.7h0M1587.4 1020.5h0M1690.8 906.9h0M1707.3 1021.4h0M1545.3 966h0M1658.3 1004.7h0M1675.5 882.7h0M1713.8 939.3h0M1668.8 914.3h0M1586.9 1063.8h0M1748.7 756.3h0M1692.3 1019.4h0M1615.1 1070.9h0M1584 976.7h0"/>
<path stroke="#FF7F00" d="M1715.7 1135.1h0M1863.2 993.1h0M1744.8 984.4h0M1790.9 1016.1h0M1756.5 838.7h0M1833 931.5h0"/>
<path stroke="#4DAF4A" d="M1836.1 995.6h0M1790.9 1098.6h0M1905.9 980.8h0M1617.5 1027.2h0M1943 904.7h0M1677.7 903h0M1838.9 830.3h0M1815.5 830.6h0M1881.4 800.4h0M1775.4 940.7h0"/>
<path stroke="#984EA3" d="M1742.7 916.7h0M1730.6 906.7h0M1877.6 1021.5h0M1856.6 1045.3h0M1733.2 988.8h0M1801.4 1123h0M1778.7 953.9h0M1762.9 961h0M1802 933.3h0M1839 905.2h0M1812 985.8h0M1789.9 1084.4h0M1898.5 1037h0M1812.5 966.3h0M1792.3 897h0M1809.4 1063.8h0"/>
<path stroke="#4DAF4A" d="M1710.4 892.8h0M1691.3 948.9h0M1796.6 1006.6h0M1725.8 962h0M1846.4 1080.3h0M1751.5 882.5h0M1832.6 1028.2h0M1701.7 1058.1h0M1713.7 996.5h0M1838.9 991.6h0M1800.1 1041.2h0M1770.6 957.5h0M1673.1 988.5h0M1866.5 769.7h0M1895.5 963.9h0M1774.7 1066.6h0"/>
<path stroke="#E41A1C" d="M1552 962.9h0M1597.3 1044.9h0M1636.3 851.5h0M1747.7 1028.9h0M1598.8 997.9h0M1696.6 922.9h0M1653.2 862.6h0M1601.4 966.3h0M1744.4 978.1h0M1668.4 970.3h0M1738.3 936.3h0M1719.6 882.1h0M1630.3 1034.9h0M1691.5 879.7h0M1686.6 925.5h0"/>
<path stroke="#984EA3" d="M1824.3 1103.3h0M1787.3 1080.1h0M1680.8 1064.5h0M1750.5 937.7h0M1856.9 743.1h0M1813.7 1052.4h0M1811.7 1056.7h0M1723.8 985.8h0M1783.8 893.8h0M1840.4 808.1h0M1767 855.8h0M1807.7 1055.7h0M1789.6 857.2h0M1825.6 1079.3h0"/>
<path stroke="#FF7F00" d="M1836.9 933.3h0M1799.4 1088.7h0M1808.4 1034.2h0M1783.9 1115.4h0M1866.3 997.2h0M1796.6 1149.9h0"/>
<path stroke="#984EA3" d="M1727 1108.5h0M1760.8 967h0M1813 784.1h0M1800.4 881.2h0M1798.7 1029.9h0M1750.5 943.3h0M1758.6 998.6h0M1777.2 1022.1h0M1847 1097.8h0M1877.3 1045h0M1767.9 1133.2h0M1819.4 940.6h0M1813.1 804.4h0M1804.6 925.9h0M1877.4 941.9h0"/>
<path stroke="#E41A1C" d="M1654.3 930.9h0M1634.6 918.1h0M1657.7 944.3h0M1623.9 1021.8h0M1654.3 889.4h0M1632.1 920.8h0M1707.8 855.8h0M1736.7 857.9h0M1553.3 995.6h0"/>
<path stroke="#4DAF4A" d="M1829 1004.4h0M1764.8 962h0M1719.1 842.7h0M1747.7 980.8h0M1813.4 1042.2h0M1927.2 944.7h0M1660 989.1h0M1805.1 1078.4h0M1676.8 1139.1h0M1789 915.7h0M1905 1002.2h0M1765 1118.6h0M1834.3 912.8h0M1787.3 877.8h0M1703.1 1088.3h0M1717.8 1161.8h0M1850.4 1044.1h0"/>
<path stroke="#FF7F00" d="M1781.8 1093.2h0M1698.3 963.7h0M1725.6 1027.5h0M1899.5 979.8h0M1726.6 1128.8h0M1872.7 1031.3h0M1813.7 1076.2h0M1716.4 939.3h0"/>
</g>

<rect x="1523" y="694.3" width="500.7" height="500.8" fill="none" stroke="#333" stroke-width="1.4"/>
<path d="M1527.5 1195.1v4.4M1643.4 1195.1v4.4M1759.3 1195.1v4.4M1875.2 1195.1v4.4M1991.1 1195.1v4.4M1523 711.1h-4.4M1523 799.7h-4.4M1523 888.3h-4.4M1523 976.9h-4.4M1523 1065.5h-4.4M1523 1154.1h-4.4" stroke="#333" stroke-width="1.4" fill="none"/>
<g font-size="19.2" fill="#4d4d4d">
<text x="1527.5" y="1217.6" text-anchor="middle">−40</text>
<text x="1643.4" y="1217.6" text-anchor="middle">−20</text>
<text x="1759.3" y="1217.6" text-anchor="middle">0</text>
<text x="1875.2" y="1217.6" text-anchor="middle">20</text>
<text x="1991.1" y="1217.6" text-anchor="middle">40</text>
<text x="1513.5" y="719.1" text-anchor="end">30</text>
<text x="1513.5" y="807.7" text-anchor="end">20</text>
<text x="1513.5" y="896.3" text-anchor="end">10</text>
<text x="1513.5" y="984.9" text-anchor="end">0</text>
<text x="1513.5" y="1073.5" text-anchor="end">−10</text>
<text x="1513.5" y="1162.1" text-anchor="end">−20</text>
</g>
<text x="1769.8" y="1247.8" font-size="24.5" text-anchor="middle" fill="#000">PC1</text>
<text transform="translate(1469.9 946.1) rotate(-90)" font-size="24.5" text-anchor="middle" fill="#000">PC2</text>
<text x="8.3" y="1300.2" font-size="64" fill="#000">g</text>
<path d="M131 1313.6V1810M254.7 1313.6V1810M378.4 1313.6V1810M502 1313.6V1810M76.1 1391.4H572.5M76.1 1470H572.5M76.1 1548.6H572.5M76.1 1627.2H572.5M76.1 1705.8H572.5M76.1 1784.4H572.5" stroke="#ebebeb" stroke-width="0.7" fill="none"/>
<path d="M192.8 1313.6V1810M316.5 1313.6V1810M440.2 1313.6V1810M563.9 1313.6V1810M76.1 1352.1H572.5M76.1 1430.7H572.5M76.1 1509.3H572.5M76.1 1587.9H572.5M76.1 1666.5H572.5M76.1 1745.1H572.5" stroke="#ebebeb" stroke-width="1.4" fill="none"/>

<g fill="none" stroke-linecap="round" stroke-width="6.4">
<path stroke="#E08A22" d="M411.7 1477.2h0M481.1 1531.7h0M392.8 1556.4h0M376.8 1652.6h0M291 1617h0M337.2 1732.4h0M433.3 1577.9h0M254.7 1621.6h0M382.5 1605.5h0M364.6 1651.6h0M312.2 1630.7h0M394.9 1503.4h0M429.7 1407.7h0M385.2 1578.3h0M459.2 1566.5h0M452.3 1629.1h0M351.4 1702.4h0M450.6 1572.8h0M381.4 1542.5h0M329.8 1491h0M330.2 1691.9h0M271.7 1612.1h0M281.8 1601.6h0M393.5 1656.3h0M440.7 1600.7h0M284.5 1586.4h0M381 1646.3h0M353.5 1700h0M310.8 1729.7h0M380.4 1349.4h0M394.2 1529.9h0M330.6 1502.2h0M401.2 1713.2h0M347.2 1686.7h0"/>
<path stroke="#E9AECA" d="M179.4 1590.1h0M124.2 1633.7h0M229.4 1561.7h0M155.9 1579.7h0M193 1640h0M208.8 1540.5h0M204.5 1530.6h0M264.3 1454.7h0M190 1636.5h0M314.5 1435.5h0M232.1 1486.8h0M139 1594.8h0M319.1 1590.1h0M278.4 1487.1h0M244.8 1461.8h0M163 1616.2h0"/>
<path stroke="#E9AECA" d="M214.8 1539h0M282.4 1498.5h0M175.7 1617.4h0M158.7 1652.7h0M188 1673.2h0M318.9 1458.2h0M298.9 1464.1h0M197.6 1540.4h0M217.3 1561.7h0M257.1 1602.8h0M278 1525.2h0"/>
<path stroke="#E08A22" d="M303.4 1769.9h0M310.5 1594.9h0M380 1672.1h0M318 1687.6h0M353.9 1618.1h0M293.6 1658.6h0M362.3 1640.3h0M331.2 1566.1h0M314.5 1700.7h0M318.4 1568h0M438 1552.4h0M341.3 1497.3h0M284.5 1602.8h0M360.5 1720.5h0M406.6 1525h0M409.4 1632.3h0M301 1588.8h0M300.4 1479.3h0M365.1 1558.7h0M300.2 1619.1h0M376.9 1619.5h0M302.7 1552.4h0M402.4 1645.2h0M337 1533.3h0M459.5 1594h0M411.4 1677h0M349.6 1622.6h0M401.5 1599h0M357.7 1741.4h0M550.1 1335.7h0M271.3 1515.4h0M333.7 1684.1h0M392.8 1534.1h0M365.8 1545.3h0M360.5 1699.3h0M397.3 1627.7h0M285.9 1642.9h0M380.7 1658.1h0M322.6 1625.6h0"/>
<path stroke="#E9AECA" d="M293.1 1544.6h0M300.4 1471.3h0M157.3 1641.4h0M274.9 1502.8h0M303.5 1505.2h0M202 1516.7h0M152.8 1572.3h0M98.2 1593h0M291.8 1450.5h0M283.6 1507.5h0M175.3 1464.2h0M197.5 1493.8h0M126.3 1594.9h0M190.8 1671.4h0M176.1 1621.5h0M107.2 1586.6h0M286.8 1517.6h0M262.2 1462.1h0"/>
<path stroke="#E08A22" d="M364.6 1498.2h0M446.4 1538.3h0M403.1 1557.7h0M354 1674.9h0M356.3 1531.7h0M369.9 1653.3h0M399.5 1583.5h0M215.9 1636.4h0M370.1 1686.7h0M422.5 1586.3h0M316.8 1762.1h0M381.8 1727.5h0M401.9 1669.6h0M353.1 1633.7h0M447.7 1561.7h0M351.7 1741.4h0M333 1561.7h0M354.2 1515.8h0M349.7 1689.3h0M321.4 1643.1h0M244.8 1650.8h0M368.8 1673.5h0M436.2 1538.3h0M470.3 1596.5h0M326.1 1612.5h0M299.6 1576.7h0M338.8 1566.5h0M383.5 1611.7h0M267.2 1731.5h0M398.4 1676h0M410.1 1608.2h0M341.3 1635.5h0"/>
<path stroke="#E08A22" d="M346.5 1594.9h0M356.3 1719.1h0M392 1642.7h0M484.2 1483.7h0M374.8 1608.3h0M344.8 1693.9h0M464.3 1551.3h0M347.3 1680.9h0M299.9 1549.9h0M360.5 1481.6h0M370.2 1679.8h0M387.4 1550.8h0M322.6 1600.2h0M402.3 1659.5h0M350.4 1606.8h0M324.7 1483.3h0M335.2 1671h0M364.1 1515.5h0M258.7 1644.2h0M321.7 1593.6h0M372.7 1638.6h0M342.3 1663.2h0M329.3 1589.4h0M268.2 1550.3h0M359.2 1664.4h0M397.7 1423.2h0M411.7 1585.6h0M466.1 1566.8h0M382.8 1689.3h0M280.2 1517.2h0M394.1 1667.2h0M427.3 1605.5h0M299.1 1613.9h0M294.3 1787.6h0M301 1640.3h0"/>
<path stroke="#E9AECA" d="M190.8 1487.2h0M262.8 1599.8h0M241.3 1523.4h0M233.1 1525.3h0M227.1 1512.5h0M214.9 1526.4h0M189 1606.1h0M229.3 1515.7h0M246.9 1655.6h0M194.6 1498.5h0M226.8 1495.7h0M161.2 1675.2h0M220.1 1558.2h0M176.6 1651.2h0M243 1496.7h0"/>
<path stroke="#E08A22" d="M359.3 1581.4h0M436.6 1405.3h0M387.9 1599.6h0M427.1 1620.9h0M295.6 1648h0M368.8 1645.2h0M393.1 1609.7h0M354.9 1538.4h0M415.3 1613.2h0M341.6 1534.9h0M398.5 1686h0M398.5 1505.4h0M244.4 1779.1h0M380.8 1354.3h0M386.7 1688.1h0M421.6 1677.1h0M362.4 1613.5h0M314 1639.3h0M390.5 1687h0M368.1 1439.1h0M371.2 1580.2h0M503.5 1539.7h0M427.4 1631.6h0M267.2 1613.9h0M392.1 1584.9h0M327.5 1713.2h0M426.9 1473.8h0M333.1 1644.9h0M408.4 1616.7h0M321.2 1555.2h0"/>
<path stroke="#E9AECA" d="M221.3 1617.3h0M197.2 1536.2h0M178.7 1612.4h0M203.8 1644.5h0M160.7 1663.3h0M186.7 1532.1h0M298.9 1546.7h0M217 1602.1h0M177.4 1628.3h0M215.9 1551.7h0M187.2 1622.7h0M268.2 1514.3h0M221.6 1532.8h0M172 1492.9h0M218.7 1553.8h0M234.3 1606.7h0M236.7 1546.8h0M171.7 1676.7h0M243.9 1520.1h0M275.5 1433.7h0"/>
<path stroke="#E08A22" d="M415 1430.2h0M283.4 1671.7h0M357 1699.3h0M445.1 1548.9h0M296.8 1619.1h0M417.9 1567.5h0M391.1 1709.8h0M415.3 1570.3h0M376.5 1646.3h0M358.8 1695.8h0M296.5 1549.2h0M365.3 1644.2h0M458.8 1603h0M313.1 1624.4h0M261.1 1715.5h0M343.3 1590.1h0M261.8 1688.1h0M350.1 1721.3h0M316.5 1675.6h0M374.8 1641.7h0M407.9 1574h0M309.4 1600.2h0M375.7 1552h0M467.2 1580.7h0M438.6 1424.3h0M304.5 1639.7h0M297.1 1737.1h0M345 1503h0M464.9 1452.9h0M366.7 1501.3h0"/>
<path stroke="#E9AECA" d="M144.8 1650.5h0M202.7 1595.1h0M273 1449.1h0M235.7 1428.1h0M303.5 1416.2h0M297.8 1357.2h0M316.6 1481.1h0M252.2 1520.1h0M159.5 1627.7h0M297.9 1425.3h0M128.7 1637.2h0M275.8 1427.7h0M125.5 1614.3h0M219.3 1445.9h0M311.3 1395.8h0M147.4 1586.3h0"/>
</g>

<rect x="76.1" y="1313.6" width="496.4" height="496.4" fill="none" stroke="#333" stroke-width="1.4"/>
<path d="M192.8 1810v3.7M316.5 1810v3.7M440.2 1810v3.7M563.9 1810v3.7M76.1 1352.1h-3.7M76.1 1430.7h-3.7M76.1 1509.3h-3.7M76.1 1587.9h-3.7M76.1 1666.5h-3.7M76.1 1745.1h-3.7" stroke="#333" stroke-width="1.4" fill="none"/>
<g font-size="19.2" fill="#4d4d4d">
<text x="192.8" y="1831.9" text-anchor="middle">−20</text>
<text x="316.5" y="1831.9" text-anchor="middle">0</text>
<text x="440.2" y="1831.9" text-anchor="middle">20</text>
<text x="563.9" y="1831.9" text-anchor="middle">40</text>
<text x="66.9" y="1359.3" text-anchor="end">30</text>
<text x="66.9" y="1437.9" text-anchor="end">20</text>
<text x="66.9" y="1516.5" text-anchor="end">10</text>
<text x="66.9" y="1595.1" text-anchor="end">0</text>
<text x="66.9" y="1673.7" text-anchor="end">−10</text>
<text x="66.9" y="1752.3" text-anchor="end">−20</text>
</g>
<text x="322" y="1862.1" font-size="24.5" text-anchor="middle" fill="#000">PC1</text>
<text transform="translate(22.8 1568.6) rotate(-90)" font-size="24.5" text-anchor="middle" fill="#000">PC2</text>
<text x="786.8" y="1312.9" font-size="64" fill="#000">h</text>
<path d="M908 1313.7V1808.3M1013.9 1313.7V1808.3M1119.8 1313.7V1808.3M1225.7 1313.7V1808.3M832.8 1703.8H1328M832.8 1539.2H1328M832.8 1374.6H1328" stroke="#ebebeb" stroke-width="0.7" fill="none"/>
<path d="M855 1313.7V1808.3M960.9 1313.7V1808.3M1066.8 1313.7V1808.3M1172.8 1313.7V1808.3M1278.7 1313.7V1808.3M832.8 1786.1H1328M832.8 1621.5H1328M832.8 1456.9H1328" stroke="#ebebeb" stroke-width="1.4" fill="none"/>

<g fill="none" stroke-linecap="round" stroke-width="5.5">
<path stroke="#BDBDBD" d="M862 1728.4h0M865.8 1709.1h0M873.7 1767h0M874.6 1767.6h0M865.2 1694.9h0M865.1 1771.9h0M878.9 1761h0M861.8 1762.1h0M967.3 1335.1h0M877.6 1741.4h0M864.3 1786.1h0M858.8 1785h0M863.1 1735.1h0M869.2 1705.7h0M875.6 1770.7h0M871.5 1705.2h0M865.9 1786.1h0M873.2 1740.1h0M863.7 1728.7h0M860.7 1783.6h0M867.3 1785.7h0M861.8 1775.8h0M860.5 1777.5h0M865.8 1756.4h0M876.8 1743.6h0M876.1 1755.7h0M873.9 1736.5h0M864.7 1771.1h0M857.1 1783.5h0M870.2 1669.4h0M860.8 1731.3h0M877.3 1742.9h0M864.1 1781.9h0M870.8 1761.8h0M872.5 1786.1h0M868.5 1780.2h0M866.3 1758.3h0M877 1777.4h0M871.8 1738.8h0"/>
<path stroke="#46A078" d="M869 1741.2h0M880.3 1773.1h0M879.3 1786.1h0M893 1759.2h0M888 1786.1h0M894.2 1780.5h0M885.8 1767.8h0M870.1 1742.2h0M888.8 1751.8h0M897.9 1762.2h0M861.8 1734h0M893.9 1746.7h0M861.3 1736.6h0M863.8 1769.7h0M880.9 1689.6h0M874.3 1751.9h0M863.5 1786.1h0M862.4 1762.9h0M874.7 1745.3h0M867.9 1766.5h0M886.3 1667.9h0M863.8 1777.5h0M892.3 1784.3h0M889 1739.8h0M869.2 1774.9h0M877.5 1762h0M858.3 1764.8h0M865.9 1745.1h0M862.9 1782.1h0M878.4 1769h0M874.1 1732.6h0M888.2 1777h0M875.1 1700h0M873.6 1763.5h0M874.7 1782h0M880.5 1696.4h0M894 1782.9h0M880.6 1762.5h0M864 1704.2h0M874.7 1746.4h0M860.3 1782.5h0M872.5 1684h0M893.2 1779h0M926 1703.8h0M889.4 1732.2h0M870.6 1737.8h0M890 1786.1h0M856.5 1775.4h0M862.4 1750.3h0M874.1 1751.3h0M892.9 1753.9h0M878.8 1719.1h0M884.5 1763.7h0M887.9 1735.4h0M894.6 1680.6h0M885.6 1774h0M860.9 1764.3h0M890.6 1730.8h0M874.1 1766.3h0M884.4 1717.3h0M881.1 1703.5h0M861.8 1772.4h0M887.7 1786.1h0M865.8 1771.4h0M868.7 1739.3h0M877.5 1770.9h0M880.8 1773.1h0M863.3 1765.3h0M871.3 1676h0M892.6 1688h0M871.7 1752.4h0M890.6 1645.7h0M880.9 1625.3h0M875.1 1760.6h0M875.3 1765.9h0M875.4 1713.3h0M879.2 1687.6h0M865.7 1779.3h0M862.4 1785.9h0M875.9 1717h0M883.4 1785h0M885.3 1730.7h0M876.3 1700.3h0M864 1750.5h0M876.3 1766.8h0M864.8 1752.1h0M863.6 1786.1h0M879.9 1779h0M876.9 1743.6h0M886.6 1697.8h0M879.3 1775.8h0M890.1 1700.8h0M871.1 1711.7h0M884.4 1774.4h0M879.9 1613.4h0M877.2 1721.8h0M873.7 1778.4h0M861 1734.4h0M866.7 1652.9h0M886 1755.9h0M877.1 1749h0M860.6 1771.1h0M890.5 1743.8h0M878.6 1784.2h0M863.9 1757.8h0M859.5 1739.2h0M874 1757.7h0M870.8 1724.4h0M859.4 1770h0M887.2 1731.5h0M869 1772.1h0M865.2 1670.5h0M873.6 1738.2h0M887.4 1779h0M889.2 1745.9h0M883.5 1671.9h0M888.3 1758.4h0M864.8 1737.6h0M877.2 1786.1h0M877.7 1769.3h0M866.6 1733.2h0M857.8 1766.3h0M873.3 1747.2h0M892.6 1734h0M882.8 1743.1h0M861.1 1706.9h0M865 1757.7h0M882.4 1763.6h0M868 1769.8h0M893.3 1739.8h0M877.9 1769.1h0M881.7 1763.6h0M897.1 1770.3h0M866.2 1769.2h0M886.2 1751.6h0M861.9 1728.8h0M874.9 1761h0M860.3 1774.5h0M869.7 1743.7h0M893.7 1735.6h0M871.9 1782.9h0M892.3 1785.6h0M881.4 1761.3h0M884.1 1664.1h0M866.4 1753h0M893.4 1736.7h0M875.5 1778.4h0M894.3 1772h0M871.7 1778.6h0M882.1 1771h0M909 1770.5h0M877.3 1770.2h0M878.1 1779.6h0M889 1771.3h0M876.7 1660.5h0M866.3 1757.6h0M895.1 1768.1h0M898.2 1760.7h0M870.7 1746h0M887.6 1770.3h0M884.8 1751h0M886.8 1706.6h0M863.9 1729.7h0M877.9 1779.4h0M857.4 1756.8h0M871.8 1768.4h0M865.3 1768.8h0M874.8 1702.3h0M880 1773.7h0M859.2 1765.8h0M888.5 1777.7h0M895.6 1772.7h0M857.3 1767.4h0M881.5 1744.5h0M863.7 1706h0M877.3 1749.3h0M889.5 1731.3h0M887.5 1727.3h0M868.5 1764.8h0M880.4 1756.5h0M897.6 1749.7h0M869.7 1767.5h0M895.2 1751.1h0M865.9 1704.7h0M862.5 1786.1h0M870.4 1785.8h0M889.1 1696.8h0M889.8 1779.1h0M859.7 1765.7h0M886.1 1753h0M892 1772.8h0M895.9 1764.3h0M868.9 1779.2h0M860 1764.6h0M879.1 1759.3h0M870.1 1740.9h0M880.8 1729.6h0M861.9 1712.1h0M865 1712.3h0M874.7 1779.9h0M885.7 1783.5h0M887.9 1786.1h0M863.9 1763.3h0M881 1777.1h0M861.7 1725.4h0M887 1758.7h0M882 1686.6h0M858 1754.9h0M882.7 1765.1h0M895 1784.5h0M897.2 1750.5h0M867.5 1755.6h0M864.2 1774.4h0M891.1 1786.1h0M869.7 1783.2h0M882 1785.3h0M887.5 1765.1h0M878.7 1720.8h0"/>
<path stroke="#CE3A53" d="M896.4 1572h0M871.4 1769.3h0M870.3 1732h0M872.3 1743.3h0M890.1 1537.7h0M916.8 1570.2h0M869.6 1778.7h0M909.3 1627.1h0M874.5 1778.9h0M883.1 1712.6h0M878.3 1660.7h0M872.5 1654.1h0M868.9 1647.3h0M876.3 1747.1h0M893.6 1636.9h0M874.5 1717.9h0M888.2 1760.7h0M910.5 1551.5h0M911.2 1546.8h0M871.8 1781.9h0M875.9 1719.5h0M859 1751.1h0M912.2 1537.1h0M894.2 1556.1h0M880 1785h0M907.1 1503.1h0M882 1711.3h0M893.5 1662.8h0M897.3 1701.1h0M886 1759h0M864.9 1781.1h0M869.4 1774.5h0M910.1 1515.3h0M902.7 1500.5h0M915 1558.5h0M894.8 1680.1h0M884.5 1754h0M885.5 1783.2h0M901.7 1611.9h0M896.1 1663h0M929.7 1536.7h0M870 1688.1h0M876.1 1684.3h0M898.5 1539.2h0M866.1 1716.7h0M870.4 1769.3h0M890.6 1680.7h0M887.3 1692.7h0M884.7 1779.6h0M901.8 1661.6h0M879.3 1630.9h0M869.6 1786.1h0M902.1 1543.7h0M885.4 1755.8h0M880.3 1784.6h0M888 1661.4h0M911.1 1419.9h0M898.4 1514.5h0M880.2 1773.9h0M865.2 1774h0M857.8 1779.4h0M869.7 1743.7h0M873.1 1782.8h0M922.3 1521.1h0M903.3 1635.5h0M874.9 1646.3h0M881.6 1717.8h0M868.4 1690.6h0M859.1 1781.9h0M889.6 1618.3h0M884.5 1714.5h0M890.6 1675.1h0M870.6 1719.7h0M905 1584h0M918.1 1597.7h0M893.4 1588.3h0M901.2 1665.8h0M899.4 1696.1h0M897.7 1637.3h0M910.5 1580.4h0M865.2 1786.1h0M893.4 1519.9h0M883.4 1760h0M877.7 1629.9h0M909.9 1566.6h0M886.8 1684.5h0M891.3 1654.3h0M885.5 1664.4h0M878.4 1775.5h0M899.2 1565.5h0M892.1 1707.5h0M898.2 1663.4h0M903.6 1594.7h0M876.5 1644.9h0M895.7 1627h0M879.6 1751.7h0M901.6 1658.1h0M892.6 1689.4h0M883.2 1754.1h0M866 1775.5h0M892.7 1505.8h0M893.3 1615.8h0M892.8 1617.7h0M900.1 1663.9h0M869.3 1699.8h0M896.1 1646.4h0M886 1679.5h0M905.1 1672.5h0M893.5 1599.9h0M887.2 1697.5h0M878.9 1621.3h0M865.9 1786.1h0M885.3 1593.5h0M900.9 1680.2h0M879.2 1685.5h0M925.4 1769.6h0M889.3 1694.8h0M862.3 1786.1h0M898.3 1688.2h0M863.4 1766.4h0M884 1654.3h0"/>
<path stroke="#9A3AA3" d="M892.1 1778h0M889 1780.7h0M890.7 1783.4h0M895.4 1773.2h0M896.6 1755.5h0M898.9 1771.2h0M894.8 1761.8h0M888.5 1783h0"/>
<path stroke="#EDC75B" d="M874.6 1738.6h0M947.7 1696.4h0M876.4 1767.3h0M872.6 1774.5h0M871.4 1772.8h0M927 1753.2h0M888.6 1779h0M860.2 1777.8h0M889.7 1759h0M865.8 1772.1h0M869.9 1786.1h0M883.9 1782.5h0M866.8 1786.1h0M864.7 1772.6h0M880.4 1768.3h0M879.5 1783.8h0M858.8 1777.8h0M861.2 1782.4h0M861.7 1766.2h0M899.5 1778.7h0M858.4 1784.9h0M884.6 1767.8h0M886.6 1785.3h0M866.2 1765.4h0M872.7 1784.4h0M877.6 1750.6h0M884.4 1751.7h0M892.1 1763h0M942.8 1722.1h0M872.3 1786.1h0M863.3 1784.6h0M871.3 1771.9h0M880.1 1776.6h0M876.5 1779.6h0M869.3 1766.7h0M886 1776.1h0M865.8 1783.8h0M878.1 1786h0M871.8 1776.9h0M889.5 1765.7h0M866.5 1782.5h0M893.2 1783.7h0M860.5 1772.5h0"/>
<path stroke="#DC9BD6" d="M869.7 1738.7h0M861.6 1780.3h0M860.8 1777.9h0M902.1 1599.3h0M891 1518.6h0M904.3 1495.6h0M867.9 1728.8h0"/>
<path stroke="#46A078" d="M884 1751.1h0M873.5 1695.7h0M867.9 1724.4h0M873.9 1771h0M884 1784.6h0M891.2 1765.7h0M885.4 1775.3h0M881.5 1780h0M872.8 1748.8h0M876.5 1762.4h0M891.8 1782.6h0M864.1 1734.3h0M878 1703.5h0M870.3 1751.2h0M859.5 1784.3h0M866.1 1666.5h0M889.9 1750.2h0M868.7 1763.1h0M892.2 1786.1h0M882.4 1772.4h0M879.4 1704.8h0M871 1758.5h0M888.9 1749.1h0M871.6 1761.1h0M878.1 1661.2h0M873.6 1779.5h0M885.5 1731.2h0M878 1763.4h0M890 1784h0M892.1 1738.6h0M867.7 1710.7h0M864.8 1771.1h0M888.5 1718.5h0M885.1 1755.7h0M891.1 1769.4h0M882 1749.3h0M877.4 1786.1h0M888.3 1748.3h0M861.4 1771.7h0M870 1769.5h0M898.8 1761.1h0M884.7 1743.3h0M867.1 1758h0M860.6 1774.9h0M886.1 1783.5h0M870.5 1783.9h0M862.3 1786h0M873.4 1760.5h0M893.9 1751.3h0M896.1 1782.8h0M865 1767.2h0M893.8 1778.7h0M875.3 1786.1h0M889.3 1652.1h0M894.5 1674.3h0M879.2 1746.1h0M885.3 1778.1h0M895.3 1783.2h0M864.7 1752h0M866.9 1642.6h0M876.2 1699.6h0M894.1 1771.8h0M879.3 1781.8h0M873.9 1696.6h0M866.3 1742h0M884.6 1732.6h0M884 1778.6h0M881.2 1700.6h0M883.3 1756.7h0M893.5 1776h0M881.6 1777.9h0M862.2 1770.5h0M883.8 1758.2h0M878 1755.9h0M870.6 1752.1h0M867.3 1759h0M889.1 1757.8h0M866.3 1783.6h0M884.6 1779.6h0M861.2 1749.1h0M865.4 1713h0M873.5 1784.1h0M876.4 1778.8h0M865 1784.1h0M862.4 1734.7h0M891.8 1771.3h0M879.4 1737.4h0M873.5 1768.7h0M889.7 1737.4h0M879.9 1735.4h0M889.6 1758h0M865.5 1785.9h0M867 1711.3h0M875.1 1784.7h0M868.2 1786.1h0M887.5 1785.8h0M871.1 1768.5h0M860.7 1741.5h0M886.1 1782.1h0M879.4 1762.6h0M868.4 1757.8h0M880.3 1726.1h0M895.1 1775h0M868.9 1704.9h0M876.5 1760.7h0M859 1727h0M883.4 1779.9h0M888.9 1754.4h0M888.4 1785h0M857.3 1781.3h0M892.1 1733.6h0M870.1 1740.1h0M896.7 1741.5h0M882.2 1781.2h0M873.4 1714.1h0M882.4 1660.7h0M869.3 1756.7h0M883.9 1780.9h0M873.1 1737.9h0M874.6 1754.4h0M877.3 1755.9h0M889.8 1764.2h0M882.6 1692.3h0M870.7 1760.6h0M879 1782.6h0M864.2 1758.2h0M875 1761.8h0M887.5 1733h0M874.4 1748.2h0M895.7 1782.7h0M881.2 1743.9h0M869 1744h0M883.3 1670.9h0M894.9 1678.2h0M859.9 1783.8h0M895 1767.9h0M867.1 1662.5h0M883.5 1770.1h0M886.8 1752.8h0M870 1777h0M897.4 1731.9h0M894.3 1778.8h0M877.4 1768.2h0M896.8 1771h0M864.7 1722.6h0M889.8 1763.4h0M881.2 1718.5h0M879 1765.6h0M857.3 1778.9h0M879.8 1737.1h0M897.5 1763.6h0M877.3 1769.2h0M858.8 1749.2h0M874.6 1786h0M877.5 1770.7h0M877.2 1724.9h0M859.8 1778.4h0M877.5 1732.1h0M864.7 1733.2h0M862.7 1783.5h0M863.7 1707.3h0M872.5 1782.2h0M867.2 1786.1h0M874.7 1723h0M876.8 1773.7h0M875.7 1784.9h0M888.6 1770h0M883.4 1756.4h0M891.5 1672.2h0M880.6 1668.7h0M880.3 1781.6h0M885.2 1726.7h0M874.5 1732.2h0M882.5 1731.9h0M888 1728.9h0M859 1725.8h0M873.4 1762.2h0M892.9 1771.1h0M867.1 1718.5h0M881.6 1771.6h0M893.2 1766.1h0M876.7 1719.4h0M866.4 1784.1h0M898.1 1782.4h0M858 1783.8h0M897 1769.7h0M875.9 1733.3h0M889 1708.7h0M869.8 1782.7h0M889.1 1776.1h0M885.9 1772.5h0M872.5 1786.1h0M871 1768.1h0M875.5 1702.3h0M861.3 1726.9h0M880.8 1747.9h0M870.2 1773.9h0M865.3 1751.6h0M891.7 1715.4h0M861.8 1733.5h0M891.9 1778.6h0M870.1 1739.5h0M897.4 1766.4h0M874.4 1658.8h0"/>
<path stroke="#CE3A53" d="M928.1 1503h0M886.2 1521.9h0M900.9 1674.1h0M867.7 1769.8h0M873.6 1772.7h0M885.8 1772.9h0M891.1 1679.5h0M882.9 1681.1h0M888 1671.7h0M880.2 1735h0M885.9 1622.9h0M882.8 1786.1h0M913.6 1564.3h0M889.5 1714.9h0M892 1783.5h0M891.9 1784.6h0M860.4 1786.1h0M891.5 1685.8h0M869.7 1768.8h0M885.3 1692.1h0M886.7 1619.2h0M869.6 1782.6h0M873.5 1784.1h0M880.9 1771h0M895.6 1583.6h0M862 1688.8h0M875 1780.8h0M866.7 1786.1h0M877.3 1786.1h0M876.9 1710.9h0M893.9 1674.1h0M860.6 1727.7h0M885 1662.9h0M866.9 1768.7h0M889.4 1670.1h0M923.9 1596.3h0M904.7 1611.6h0M866 1751.6h0M866.4 1778.3h0M890.2 1508.4h0M892 1694.9h0M899.1 1682.2h0M889.5 1633.7h0M876.2 1762h0M867.3 1785.6h0M919.7 1506.8h0M893.7 1786.1h0M881.1 1621.1h0M894.1 1689.9h0M887.4 1627.1h0M881.5 1774.1h0M858.7 1786.1h0M860.5 1768h0M868.5 1782.2h0M870.4 1781.1h0M859.3 1745h0M903.1 1600.5h0M881.4 1688.8h0M859.3 1783.1h0M900.1 1657.4h0M899.6 1617h0M890.5 1664.6h0M857.1 1769.1h0M888.2 1779.9h0M896.4 1619.8h0M864.5 1786.1h0M908.2 1678.5h0M888.9 1786.1h0M872.2 1778.8h0M871.8 1786.1h0M863.6 1765.8h0M898.8 1575.9h0M885.3 1686.9h0M875.2 1599.3h0M903.6 1649.6h0M909.9 1679.2h0M884.8 1655.9h0M868.2 1716.6h0M884.4 1742h0M878.4 1785.4h0M906.6 1632.7h0M904.9 1645h0M901.6 1550.5h0M866.7 1770.7h0M896.1 1688.6h0M895.3 1658.4h0M908.9 1619.6h0M876.6 1765.6h0M878.8 1744.2h0M864.2 1733h0M870.3 1766.1h0M880.9 1780h0M863.5 1776.5h0M878.6 1781.8h0M871.3 1605.9h0M904.4 1687h0M874.8 1702.1h0M885 1624.7h0M904.3 1662.3h0M899 1654.2h0M916.8 1668.3h0M901.8 1517.2h0M871.9 1721.2h0M861.4 1786.1h0M872 1724.2h0M868.4 1785.3h0M885.6 1711h0M898.5 1686.1h0M877.3 1603.1h0M922.6 1504.9h0M903.1 1664.7h0M878.1 1725.2h0M901.5 1629h0M865.8 1730.4h0M887.2 1775.8h0M932.3 1517h0M865.9 1780.1h0M870.4 1778.9h0M865.7 1786.1h0M870.7 1764h0M894 1656.5h0M901.3 1645.6h0M881 1660.4h0M899.9 1688.7h0M868.2 1747.7h0M865.8 1785.2h0"/>
<path stroke="#BDBDBD" d="M859.8 1774.3h0M872.3 1774.7h0M863.4 1758.1h0M867.6 1769.3h0M871.4 1772.1h0M873.5 1785.6h0M871 1719.9h0M871.5 1674.3h0M864.7 1675.5h0M872 1772.4h0M864.6 1780.4h0M873.4 1768.5h0M860.1 1786.1h0M858.1 1762.9h0M861 1733.9h0M874.8 1785.1h0M878.1 1740.6h0M866.2 1782.7h0M863.1 1718.6h0M864.9 1776.6h0M862.4 1778h0M874 1764.4h0M870.7 1776.8h0M866.1 1764.9h0M871 1743.1h0M873.4 1786.1h0M872.8 1745h0M859.5 1746.7h0M872.6 1700.3h0M876.2 1765.9h0M869.7 1764h0M869.1 1775h0M878 1729.9h0M878.1 1769.1h0M862.4 1658.6h0M868.9 1758.4h0M866.9 1775h0M861.6 1746.1h0M872.4 1763.1h0M863.6 1748.9h0M859.2 1772.4h0M874.3 1750.9h0M860.7 1786.1h0M860.5 1748.2h0M861.1 1704.6h0M870 1756.3h0M878.8 1766.1h0"/>
<path stroke="#EDC75B" d="M862.5 1753.5h0M873.6 1774.4h0M878.3 1785.9h0M877.9 1785.1h0M874.2 1752.5h0M888.8 1762.3h0M882.4 1778.3h0M863.5 1757.9h0M871.3 1737.5h0M868.3 1782.6h0M863 1748.6h0M944.8 1706.3h0M926.1 1740.1h0M875.6 1757.8h0M861.7 1782.2h0M880.5 1761.8h0M871.2 1772.8h0M950.3 1693.1h0M881.2 1764.9h0M942.9 1693.1h0M866.1 1784.6h0M948.1 1736.1h0M878.5 1777.5h0M890.9 1756.4h0M860.9 1736.9h0M871.7 1727.7h0M862.3 1774.2h0M871.3 1758.8h0M885.1 1783.8h0M874.8 1785.6h0M872.2 1782.9h0M865.8 1771.1h0M912.7 1777h0M882.3 1785.4h0M862.6 1782.9h0M886.6 1771.5h0M860.5 1769h0M879 1767.7h0M876.6 1772.3h0M925.6 1718.5h0M863.3 1757h0M879.8 1783h0M860.7 1785.2h0"/>
<path stroke="#DC9BD6" d="M886.8 1584.5h0M875.4 1783.6h0M922.3 1645.4h0M860.7 1768.8h0M904.3 1568.8h0M886.3 1749.5h0M887.8 1577.9h0M879 1732.2h0"/>
<path stroke="#9A3AA3" d="M893.4 1780h0M884.2 1777.2h0M890.8 1769.8h0M898.9 1759.2h0M888.2 1758h0M892.7 1783h0M884.9 1779.5h0M893 1781h0"/>
<path stroke="#CE3A53" d="M876.6 1786.1h0M893.9 1689.7h0M874 1786.1h0M870.7 1786.1h0M897.4 1662.8h0M880.1 1773.2h0M876.2 1628.3h0M873.6 1763.6h0M869.3 1757.4h0M898 1602.5h0M877 1782.5h0M884.7 1786.1h0M881.4 1768.8h0M874 1748.1h0M892.3 1708.8h0M892 1674.3h0M886.2 1662.2h0M883 1584.3h0M867.6 1720.4h0M882.6 1702.8h0M868.6 1775.1h0M863.5 1752.6h0M913.5 1639.9h0M899 1643.8h0M866.8 1786.1h0M886.1 1691.4h0M893.2 1659.6h0M911.7 1743.3h0M911 1612.5h0M881.5 1643.5h0M867.9 1760.4h0M881.2 1697.8h0M860.7 1786h0M891.9 1660.9h0M886.7 1685.4h0M871.1 1786.1h0M883.8 1649.5h0M876.8 1773.8h0M892.2 1675.4h0M871.9 1721.1h0M880.2 1784.7h0M902.6 1575.3h0M903.4 1504h0M868.8 1777.3h0M867.7 1780.5h0M912 1524.5h0M887 1765.9h0M894.2 1681.2h0M887.7 1717.5h0M856.5 1782.7h0M861.9 1771h0M867.7 1676.8h0M906.6 1599.2h0M886.2 1705.5h0M863.1 1725.2h0M866 1755.9h0M874 1774.8h0M868.8 1768.5h0M902.8 1603.5h0M865.6 1760.2h0M893 1667.1h0M876.5 1723.7h0M892.7 1676.4h0M884.3 1709.6h0M897.7 1567.9h0M875.2 1781.8h0M883 1780h0M880 1681.4h0M871.3 1721.7h0M872.9 1612.5h0M899.8 1640h0M893.8 1622.3h0M896.7 1671.1h0M875.7 1758.2h0M878.9 1775.7h0M863.6 1751.1h0M886.5 1695.2h0M906.9 1443.7h0M890.4 1625.2h0M874 1760.5h0M870.8 1769.1h0M886.1 1662h0M886 1707.5h0M866.8 1684.3h0M872.6 1687.7h0M894.2 1637.3h0M886.6 1641.4h0M891.2 1701.3h0M892.5 1671.8h0M875.7 1770.6h0M859.9 1782h0M866.2 1782.1h0M908.7 1574.5h0M879.4 1775.3h0M898.4 1603.9h0M881 1752.5h0M858.1 1779.9h0M925.4 1524.4h0M873.7 1765.8h0M880.7 1675.9h0M890 1682.8h0M884 1627.4h0M881.5 1761.2h0M882.3 1715.2h0M874.7 1656.4h0M877.4 1649.6h0M862.3 1757.8h0M898.2 1680.2h0M919.3 1599.8h0M877 1780.7h0M868 1771.2h0M894 1698.1h0M901.1 1586.9h0M882.7 1755.1h0"/>
<path stroke="#EDC75B" d="M880.7 1757.1h0M873.7 1784.4h0M876.9 1785.8h0M942 1741.6h0M860 1781.7h0M863.2 1757h0M881.1 1764.3h0M875 1775.7h0M863.1 1786.1h0M879.9 1752h0M945.6 1689.8h0M887.8 1774.8h0M878.3 1717.4h0M889.9 1786.1h0M859.6 1764.4h0M871.7 1756.5h0M881 1786.1h0M871.4 1779h0M871.6 1758h0M873.8 1755.7h0M942.7 1706.4h0M869.4 1712.9h0M876.1 1774.3h0M876.7 1786.1h0M891.4 1782h0M886.2 1772.5h0M885.9 1786.1h0M876.6 1781.7h0M858.3 1786.1h0M871.3 1766.7h0M879.4 1786.1h0M860.6 1767.6h0M873.2 1770.8h0M867.5 1747.9h0M940.9 1730.2h0M886.7 1783.2h0M868 1758.4h0M880.7 1778h0M880.7 1749.3h0M879.7 1771.4h0M894.4 1780.7h0M938.5 1728.8h0M939.7 1694.7h0M866.7 1766.7h0M887.6 1779.2h0M879.9 1759h0M875.9 1778.6h0M878.2 1770.7h0M879.3 1776.2h0M860.8 1770.1h0M876.7 1774.4h0M865.2 1779.2h0M870.5 1772.1h0"/>
<path stroke="#46A078" d="M875.6 1743.9h0M865.5 1778.6h0M880.2 1783.4h0M867.5 1775.2h0M869 1775.7h0M871.9 1782.7h0M870.1 1777.7h0M874.3 1778.3h0M871.3 1773.8h0M876.4 1746.8h0M879.1 1761.2h0M881 1735.7h0M880.5 1701.1h0M889.2 1781.3h0M881.1 1741.2h0M868 1757.9h0M870.3 1715h0M874.5 1763.5h0M894.7 1733.4h0M864.8 1768.8h0M871.9 1734.7h0M888.5 1771.2h0M866.8 1724.1h0M880.4 1784.3h0M883.4 1731.9h0M891.5 1753.2h0M881 1743.6h0M868.9 1779.5h0M881.6 1693.9h0M891.5 1776h0M868.1 1747h0M867.7 1753.1h0M879.1 1687.9h0M885 1728.4h0M868.7 1754h0M877.3 1746.6h0M872 1773.4h0M880 1697.7h0M871.1 1688.3h0M882.7 1763.7h0M874.5 1769.7h0M885.7 1720.8h0M875.7 1666.3h0M860.8 1746.3h0M893 1758.9h0M876.2 1768.1h0M873.6 1754.1h0M893.6 1742.2h0M896.8 1781.9h0M868.6 1780.2h0M875.4 1727.2h0M867.1 1771.7h0M862.2 1767.7h0M895 1763.6h0M878 1746h0M858.7 1786.1h0M865.4 1769.8h0M881.8 1768.8h0M862.3 1745.9h0M875.2 1733.9h0M890.6 1767.5h0M881.8 1766.2h0M861.3 1784h0M881.6 1746.8h0M896.7 1775.4h0M870.5 1778.2h0M897.6 1763.3h0M860.8 1755.1h0M894.7 1773.4h0M894.5 1742.9h0M886.1 1772h0M865.9 1680.2h0M871.1 1774.7h0M871.3 1754.1h0M867.1 1724.1h0M865.8 1716.1h0M882.3 1753.6h0M891.1 1773.8h0M887.8 1785.9h0M880.8 1730.2h0M868.7 1763.4h0M879.3 1745.3h0M889.9 1708.1h0M882.2 1772.5h0M880.5 1762.9h0M889.2 1726.6h0M892.6 1785.5h0M892.5 1783.2h0M874.3 1748.6h0M874.1 1744.4h0M886.9 1777.5h0M858.4 1760.6h0M866.7 1736.8h0M884.7 1666.7h0M893.6 1780.9h0M877.8 1605.9h0M888.8 1751.2h0M894.2 1770.7h0M879.2 1778.2h0M892.2 1781h0M874.3 1741.9h0M872.3 1786.1h0M866.8 1767.6h0M873.9 1693.9h0M886.3 1786.1h0M877.5 1767.4h0M864.4 1763.6h0M871.5 1762.3h0M890.3 1702.1h0M882.1 1754.3h0M877.5 1663.9h0M880.4 1714.1h0M872.3 1780.6h0M886.8 1731.1h0M856.7 1773.8h0M871.1 1688.8h0M887.4 1733.1h0M885.1 1764h0M868.8 1773.6h0M865.2 1682.4h0M891.5 1702.6h0M890.7 1774.2h0M889.4 1714.4h0M858.6 1777.1h0M882.5 1728.8h0M882.2 1781.5h0M891.1 1758.7h0M876.5 1742.6h0M870.5 1786.1h0M874 1776.3h0M884 1712.7h0M882.8 1708.1h0M886.6 1774.1h0M879.2 1712.8h0M886.4 1786.1h0M858.6 1740.4h0M883.9 1678.2h0M874.2 1693h0M871.7 1772h0M881.6 1775.8h0M890.5 1743.5h0M885.7 1735.8h0M872.1 1786.1h0M889.3 1786.1h0M876.6 1705.3h0M883.7 1783.8h0M881.4 1706.6h0M889.7 1669.8h0M889.3 1732.8h0M867.2 1743.4h0M879.6 1786.1h0M889.4 1780.6h0M896.9 1769.6h0M864.3 1673.6h0M890.6 1735.8h0M882.2 1779.5h0M874.2 1747.1h0M862.3 1730.6h0M892.9 1746.8h0M862.7 1728.7h0M868.2 1786.1h0M872.6 1661.9h0M879.5 1779.1h0M889.4 1780h0M875.2 1758.3h0M881.1 1767.6h0M868.7 1676.3h0M870.8 1779.6h0M876.7 1735h0M878.9 1786.1h0M874.1 1736.5h0M879.3 1695h0M890.6 1710h0M862.5 1784.5h0M882.3 1764.4h0M888.6 1786.1h0M872.3 1750.4h0M866.2 1786.1h0M883 1751.2h0M868.8 1765.8h0M865.6 1752.2h0M880 1770.5h0M868.8 1750.2h0M871.1 1773.8h0M871.7 1757h0M890.6 1707.7h0M884.9 1746.6h0M882.2 1744.3h0M870.4 1784.3h0M864.5 1737.5h0M862.5 1721.9h0M872.3 1721h0M882.9 1770.9h0M889.6 1736.6h0M874.1 1773.7h0M858.8 1766h0M883.8 1657.8h0M865.1 1744.8h0M891.2 1743.3h0M857.3 1782.1h0M864.6 1677.3h0M874.9 1639.4h0M865.1 1779.8h0"/>
<path stroke="#BDBDBD" d="M875.6 1775.8h0M875.7 1730.1h0M859.6 1750h0M863.8 1738h0M866.9 1773.5h0M866.6 1786.1h0M860.9 1776.1h0M875.9 1762h0M876.2 1785.1h0M864.5 1728.7h0M862.2 1770.8h0M869.7 1786.1h0M870.4 1747.7h0M863.3 1764.6h0M876.1 1785.2h0M876 1775.9h0M866 1769.2h0M867 1770.1h0M874.5 1762.9h0M863.5 1786.1h0M860.6 1782.1h0M866.7 1757.8h0M872.5 1675.1h0M868 1778.5h0M864.7 1786.1h0M866.3 1771.2h0M873.4 1784.1h0M858.4 1784.8h0M877.7 1760h0M858 1773.3h0M876.3 1781.4h0M863.5 1786.1h0M864.6 1727.3h0M875.7 1719.5h0M870.5 1749.8h0M868.8 1659h0M864.1 1734.4h0M874.5 1656.6h0M871.8 1779.5h0M867.6 1726h0M873.1 1761.7h0M873.4 1782.3h0M871.6 1786.1h0M859.7 1769.8h0M870.2 1737.8h0M862.1 1769.8h0M867.9 1774.3h0M948.2 1475.8h0M860.4 1776.8h0M860.9 1773.8h0M861.2 1762.7h0"/>
<path stroke="#9A3AA3" d="M889.9 1777.9h0M896.8 1768.3h0M892.4 1774.9h0M888.7 1772.3h0"/>
<path stroke="#DC9BD6" d="M916.4 1558.1h0M867.2 1776h0M884.3 1742.9h0M864.2 1752.9h0M902.7 1432.2h0M869.3 1780.6h0M870.6 1746h0M880.6 1775h0M877.8 1785.4h0M878.4 1778.4h0M868.3 1753.1h0"/>
<path stroke="#CE3A53" d="M929.7 1505.5h0M888.2 1637.2h0M886.2 1645.6h0M861.8 1761.3h0M867.3 1696h0M881.3 1786.1h0M872.6 1747.9h0M868.4 1765.3h0M895.7 1575.8h0M895.3 1625.6h0M863.3 1784.8h0M860.7 1724.1h0M890.8 1699.7h0M868.2 1774.2h0M860.1 1786.1h0M886.7 1654.8h0M868.8 1786.1h0M918.6 1766.3h0M868.5 1730.1h0M895.8 1602.3h0M889.8 1672.3h0M868.4 1671.3h0M874.8 1761.3h0M891.1 1702.1h0M894.2 1614.3h0M906.5 1661.7h0M899.2 1631.4h0M894.9 1700.1h0M908.5 1554.9h0M887.7 1708.1h0M860 1757.5h0M905.9 1653.9h0M929.1 1485.7h0M876.3 1783.1h0M894 1636.3h0M889.4 1648.1h0M861.7 1780.8h0M859.9 1777.8h0M895.5 1590.5h0M893.8 1662h0M860.6 1762.1h0M866 1768.5h0M874.1 1720.6h0M887.1 1771.1h0M899.6 1630.3h0M902.3 1669.2h0M861.9 1765.3h0M886 1688.3h0M888.2 1673.5h0M876.4 1785.9h0M907.3 1660.8h0M894.7 1502.2h0M883.7 1777.5h0M884.5 1643.8h0M888.3 1718.6h0M885.6 1786.1h0M869.2 1746.5h0M874.1 1775.3h0M887.8 1763.8h0M927.6 1712h0M861 1779.4h0M881.9 1786.1h0M894.4 1640.5h0M908.5 1526h0M898.2 1620.3h0M885.5 1773.4h0M861.1 1786.1h0M883.8 1786.1h0M868.6 1704.2h0M925.5 1625.4h0M874.2 1761.6h0M891.3 1583.4h0M898.4 1543.4h0M897.9 1510.4h0M903.3 1670.5h0M874.8 1680.9h0M867.7 1777.3h0M882 1675.4h0M927 1779.5h0M882.9 1708h0M893.5 1655.6h0M866.8 1785.5h0M888.4 1524.4h0M885.2 1713h0M886.1 1702.4h0M889.5 1705.6h0M892.3 1675.1h0M871.7 1779.3h0M890.5 1555.8h0M898.4 1637.5h0M913 1576.8h0M879 1709.2h0M912.6 1610.9h0M857.1 1781.6h0M884.3 1683.1h0M874.6 1757.9h0M894.9 1531.3h0M876.7 1756.8h0M880.8 1694.3h0M896.3 1705.9h0M894.5 1663.7h0M894.1 1705.6h0M868.6 1777.2h0M881 1764.7h0M878.2 1771.6h0M884.8 1742.4h0M873.4 1662.8h0M892.4 1697.6h0M877.7 1786.1h0M882.2 1715.7h0"/>
<path stroke="#46A078" d="M890.1 1762h0M868.6 1783.6h0M866.4 1768.4h0M870 1782.3h0M868.8 1772.7h0M863.8 1758h0M873.9 1691.1h0M862.9 1763.4h0M856.4 1780.6h0M893.8 1753.3h0M876.4 1777.6h0M869.7 1758.7h0M875.9 1687.3h0M869 1739.7h0M859.5 1749h0M882.8 1721.9h0M860.9 1687.6h0M867.5 1771.3h0M878.5 1735h0M875.6 1786.1h0M868 1766.4h0M859.7 1768.4h0M866.2 1761.9h0M894 1781.2h0M862.6 1713.3h0M865.4 1777.2h0M862.1 1777.2h0M864.1 1745.9h0M890.3 1786h0M872.9 1750.5h0M878 1772.1h0M889.2 1781.7h0M888.6 1762.9h0M872.3 1751.1h0M874.3 1783.3h0M862.5 1717.6h0M883.5 1669.4h0M872.7 1693.9h0M873.9 1786h0M873.3 1758.8h0M896.2 1777.2h0M881.8 1736.9h0M875 1743.9h0M885.2 1735.9h0M858 1759.8h0M878.7 1713.3h0M877.3 1760.7h0M857.6 1784.8h0M894.1 1698.1h0M864.2 1771h0M873.5 1772.5h0M888.5 1735.3h0M864.1 1781.8h0M892.1 1766.8h0M896 1768.7h0M863.1 1786.1h0M872.4 1786.1h0M887.4 1784.2h0M884.9 1752.8h0M872 1786.1h0M870.4 1786.1h0M880 1654.1h0M891.7 1718.4h0M868.8 1763.4h0M878.7 1746.8h0M892.1 1762.5h0M891.2 1783.1h0M870 1694.3h0M873.8 1764h0M879.1 1760.2h0M869.2 1763h0M889.1 1763.9h0M882.4 1751.7h0M886.9 1727.1h0M896.2 1722.9h0M873.2 1701.9h0M879.7 1751.7h0M882.5 1737h0M881 1657.7h0M875.8 1776.2h0M896.5 1755.8h0M865.1 1775.6h0M874.2 1769.1h0M866.5 1772.6h0M888.7 1685.2h0M861.6 1786.1h0M862 1769h0M873.1 1767.4h0M880 1774.1h0M886.1 1757.6h0M872.5 1769.7h0M864.1 1778.2h0M869.8 1784.2h0M858.9 1779.4h0M876.6 1786.1h0M892.4 1716.7h0M863.4 1747h0M861.5 1728h0M868 1767.1h0M871.1 1757.1h0M886.3 1665.1h0M888.4 1672.5h0M873 1784.1h0M889.2 1769.7h0M868.6 1779.2h0M873.9 1649.4h0M883.5 1780.8h0M879.6 1767.8h0M875.5 1783.4h0M862 1755.3h0M869.3 1739h0M868.9 1617.3h0M862.4 1783.9h0M883.4 1777.3h0M891.6 1743.8h0M866.3 1779h0M863.4 1742.6h0M879.1 1781.6h0M862.7 1723.5h0M875.8 1742.8h0M867.2 1765.2h0M864.5 1773.3h0M895.7 1785.6h0M866 1773.4h0M891.2 1758.2h0M890.8 1765h0M880.3 1777.5h0M860.5 1781.9h0M868.7 1768.6h0M876 1713.2h0M871.9 1737.4h0M877 1781h0M882.2 1774.5h0M880.2 1746.1h0M889.5 1770.5h0M872.6 1775.5h0M867 1786.1h0M892.6 1775.9h0M874.3 1725.5h0M862.6 1752.4h0M869.5 1760.3h0M889.8 1678.3h0M897.3 1770.4h0M883.9 1763.4h0M872.7 1749.7h0M884.4 1758.4h0M877 1718.4h0M860.2 1786.1h0M872.1 1774.9h0M882.7 1786.1h0M867.2 1731.7h0M888.3 1773.4h0M869 1719.9h0M894.3 1781.6h0M876.1 1781.5h0M878.9 1780.5h0M888.3 1785.1h0M864.4 1773.4h0M872.7 1712.7h0M881.4 1690.3h0M872.2 1781.8h0M879.7 1780.3h0M887.2 1748h0M878.1 1734.4h0M892.2 1763.8h0M887.9 1774.2h0M890.5 1767.9h0M882.9 1777.2h0M866.6 1763.1h0M886 1747.5h0M893 1784.5h0M873.1 1750.8h0M885.9 1751.6h0M887.7 1708.9h0M877.2 1762.4h0M871.8 1738h0M881.6 1749.5h0M873.4 1772.3h0M889.9 1779.3h0M881.1 1781.6h0M895.3 1731.9h0M860.2 1781.9h0M893.1 1778.7h0M867.5 1775.2h0M873.3 1719.2h0M871.6 1715.1h0M886.8 1769.2h0M861.1 1783.9h0M861.6 1768.8h0M873.3 1786.1h0M862.4 1775.9h0M887.3 1766.9h0M868.9 1761.8h0M874.5 1779.1h0M880.7 1749.3h0M860.7 1784.1h0M894.2 1782.4h0M877.8 1771h0M868.7 1786.1h0M881.2 1692.4h0M862.1 1736.5h0M868.7 1744.1h0M860.9 1752.5h0M883.1 1761.6h0M865.1 1672h0M872.3 1782.3h0M883.5 1771.2h0M888.9 1771h0M879.4 1781.1h0M879.5 1777.2h0M889.4 1682.7h0M863.2 1774.5h0M869.4 1764.8h0M887.6 1762.4h0M882.5 1773.2h0M884.2 1726h0M866.4 1771.1h0"/>
<path stroke="#BDBDBD" d="M865.4 1746h0M862.1 1720h0M864.6 1786h0M862.5 1786.1h0M865.2 1779.9h0M875 1754.5h0M864.7 1722.8h0M870.2 1770.4h0M876.5 1756.2h0M867 1733.1h0M876.2 1779.4h0M856.9 1778h0M937.1 1588.6h0M861.9 1780h0M866.1 1786.1h0M858.6 1786.1h0M865.7 1757.9h0M873.3 1771h0M861.8 1777.4h0M868.3 1763.1h0M869.3 1706.4h0M865.3 1705.9h0M869.7 1771.8h0M873.3 1769.6h0M868.3 1762.9h0M865.4 1786.1h0M856.7 1785.3h0M873.2 1784.1h0M866.9 1729.7h0M878.9 1777.7h0M863.1 1763h0M874.5 1753.6h0M857.6 1778.4h0M870.8 1725.6h0M860.3 1762.1h0M858.6 1773.8h0M865.8 1772.1h0M876.1 1657.6h0M956.2 1606.7h0M866.8 1714h0M865.7 1756.3h0M869.5 1780.8h0M862.9 1773.7h0M870.6 1765.4h0M864.5 1778.8h0M874.8 1709.4h0"/>
<path stroke="#EDC75B" d="M877.1 1737.7h0M863 1779.8h0M891.9 1768.9h0M885.5 1783h0M873.9 1728.5h0M870.9 1729.3h0M891.7 1779.7h0M866.1 1769.8h0M894.8 1783.2h0M865.8 1780.4h0M861.3 1783.7h0M880.7 1784.9h0M874.2 1765.9h0M887.5 1775.2h0M885.9 1744.2h0M945 1687.3h0M888.9 1779.3h0M883.2 1768.1h0M858.8 1763.9h0M889.6 1774.1h0M864.8 1783.7h0M933.7 1731.7h0M874.1 1779.3h0M877.9 1775.5h0M893.7 1782.9h0M934.8 1709.8h0M891.1 1768.1h0M866.4 1779h0M863.9 1769.5h0M880 1748.7h0M866.5 1780.1h0M887.2 1781.5h0M891.5 1781h0M870.3 1780.3h0M866.1 1721.5h0M939.3 1731.1h0M858.5 1778h0M862.2 1762.7h0M883.4 1763.2h0M883.5 1784.3h0M890.8 1778.8h0M866.9 1754.5h0M869.8 1771.4h0M875 1722h0M892 1763.6h0M859.1 1767.1h0M878.6 1737.9h0M938.3 1739h0M936 1695.6h0M871.7 1770.2h0"/>
<path stroke="#DC9BD6" d="M865.9 1774.5h0M863.6 1727.6h0M880.8 1763.6h0M868.9 1728.7h0M867.8 1745.1h0M887.6 1681.7h0M882.6 1714.3h0M883.3 1710h0"/>
<path stroke="#9A3AA3" d="M887.6 1768.1h0M896.5 1785.2h0M886.2 1783.5h0M896.9 1764.8h0M889 1783h0"/>
<path stroke="#46A078" d="M891 1776.4h0M874.6 1698.3h0M878.5 1662.4h0M859.9 1734.5h0M883.1 1760.9h0M876.4 1704h0M864.8 1753.8h0M881 1766.4h0M859.2 1750.1h0M868 1702h0M859.5 1786.1h0M887.8 1706.6h0M896.3 1759.8h0M884.6 1748.5h0M885.3 1759h0M873.5 1782.1h0M888.7 1688.6h0M878.2 1734.3h0M862.8 1767h0M885.8 1766.5h0M895.1 1786.1h0M884 1756.5h0M865.8 1693.5h0M868.3 1768.7h0M867.8 1768.4h0M862 1778.2h0M880.3 1743.7h0M874.4 1696.6h0M866.8 1777.6h0M869.4 1693.1h0M892.5 1781.9h0M894.6 1752.6h0M869.4 1755.8h0M868.4 1775.8h0M889.5 1731.6h0M882.3 1761h0M885.8 1770.2h0M887.4 1730.4h0M872.8 1685.3h0M881.7 1724.3h0M885.9 1772.2h0M893.1 1772.8h0M860.9 1722h0M863.2 1756.8h0M892.2 1701.1h0M886.3 1768.7h0M863.5 1717.5h0M876.6 1784h0M891 1704.7h0M880.3 1734.7h0M896.1 1749.6h0M882.2 1757.3h0M876.4 1699.7h0M861.8 1764.7h0M871.2 1784.6h0M867.9 1778.6h0M891.5 1785.3h0M893.6 1782.2h0M885.3 1734.5h0M875.8 1662.3h0M879.1 1766.6h0M884.8 1765.8h0M879.4 1750.3h0M885.8 1765.8h0M863.9 1687.2h0M891.9 1767.1h0M871.1 1786.1h0M881 1705.6h0M876.5 1673.9h0M874.4 1752.7h0M871.5 1745.6h0M881.4 1753.8h0M872.5 1786.1h0M884 1732h0M885.7 1750.1h0M868.5 1748.5h0M874.5 1780.5h0M886.5 1771.2h0M875.2 1786h0M881.8 1786.1h0M889.3 1732.4h0M875.7 1735.1h0M891 1663.6h0M866.3 1677.4h0M864.7 1738h0M881.5 1774.1h0M883.3 1778.6h0M856.7 1782h0M884.1 1763.7h0M898.1 1761.7h0M885.7 1694.6h0M890.4 1732.1h0M883.3 1756.3h0M884.1 1687.1h0M881.5 1755.1h0M872.4 1742.7h0M880.6 1718.9h0M868.7 1742.5h0M876.6 1724.4h0M858.9 1752.2h0M890.6 1730.4h0M882.6 1771.9h0M876.7 1786.1h0M877.8 1750h0M888.8 1784.8h0M864.3 1752.9h0M892.3 1783.2h0M899.8 1777.3h0M870 1741.2h0M873 1749.4h0M865.8 1771.2h0M886.5 1780.3h0M871.5 1775h0M889.5 1753.5h0M861.9 1759.1h0M890.9 1606.8h0M874.8 1775.8h0M887.1 1731.7h0M868.2 1784.1h0M859 1746.5h0M875.9 1754.8h0M888.5 1738.3h0M860.1 1757.6h0M876.7 1769h0M887.1 1779.4h0M889.3 1782.4h0M881.4 1696.4h0M860.3 1706.5h0M880.3 1755.4h0M870 1769.2h0M870 1779.2h0M863.3 1778.7h0M871.3 1744.9h0M899.2 1778.6h0M882.3 1779.2h0M889.3 1716.2h0M866.4 1770.2h0M873.1 1786.1h0M890.3 1762h0M871 1757.2h0M871.7 1779.1h0M898.9 1773.1h0M871.8 1743.8h0M864 1682.3h0M873.4 1781.1h0M883.6 1739.9h0M884.7 1777.3h0M878.9 1742.9h0M891.6 1781.4h0M881.5 1784.1h0M873.2 1767.4h0M862 1718.1h0M873.7 1724.4h0M894 1740.5h0M890.7 1781.1h0M872.2 1772.7h0M865.2 1754.8h0M879.5 1697.5h0M880.6 1769.7h0M867.9 1708.1h0M894.8 1754.4h0M897.7 1748.6h0M867.5 1782.7h0M882.2 1702.6h0M869.8 1783.3h0M874.4 1760.9h0M871.3 1774.9h0M891.4 1766.2h0M869.2 1786h0M883 1762h0M878.5 1780.5h0M869.1 1774.5h0M883.4 1623h0M886.7 1781.2h0M859.1 1765.9h0M892 1703.6h0M881.1 1717.7h0M866.4 1768.3h0M863.5 1777.9h0M869.1 1784.5h0M900 1777.5h0M892 1779h0M872.1 1757.2h0M888.3 1718.9h0M876.6 1744.5h0M869.2 1762.4h0M872.4 1785.4h0M881.2 1738.8h0M861.4 1779.5h0M884.3 1771.5h0M868.5 1766.6h0M865.3 1759h0M860.7 1777.7h0M892.4 1679.1h0M879 1784.5h0M880.7 1776.8h0M891 1742.3h0M894.2 1771.5h0M867.7 1761.4h0M891.8 1625h0M858.5 1786.1h0M884.3 1773.4h0M885 1783.6h0M882.6 1730.5h0M861.2 1759.7h0M886.4 1729.4h0M885.6 1783.6h0M882.6 1762.3h0M893.9 1746.2h0M879.6 1759h0M873.4 1762.3h0M872.9 1668.5h0M871.3 1727.6h0M889.2 1747.6h0M896.2 1752.2h0M864.7 1785h0M885.2 1761.5h0M882.4 1785.6h0M885.4 1786.1h0M876.2 1745.2h0M891.9 1763.3h0M886.8 1721.1h0M866.8 1786h0M882.6 1718.6h0M874.6 1723.4h0M888.2 1711.9h0M860.8 1766.3h0M875.1 1732.9h0M877.3 1748.8h0M889.8 1723.6h0"/>
<path stroke="#CE3A53" d="M872.9 1783.2h0M888.2 1760h0M868.8 1774.8h0M891.1 1786.1h0M885.6 1540.7h0M862.3 1784h0M874.3 1712.4h0M863.6 1757.3h0M861.6 1751.4h0M871.1 1719.7h0M863.9 1775.4h0M891.6 1665.5h0M880.9 1744.1h0M881.4 1675.3h0M867.6 1786.1h0M920.1 1707.1h0M861.2 1720.6h0M877.2 1773.2h0M899.5 1697.5h0M899.1 1610.7h0M876 1779.8h0M883.3 1764.3h0M867.9 1742.1h0M887.6 1647.1h0M914 1652.6h0M905.4 1593.1h0M865.9 1730.2h0M889.1 1709.7h0M873.9 1784.4h0M871.5 1773.7h0M871 1662.7h0M878.8 1781.6h0M906.2 1644.6h0M884.3 1659h0M894.7 1457.7h0M870.9 1763.8h0M917.5 1425.6h0M864.8 1785.7h0M862.2 1760.4h0M868.7 1776.5h0M928.6 1534.3h0M872.9 1783.6h0M870.6 1724.1h0M894.4 1688.2h0M860 1719.8h0M881.5 1754.9h0M880.5 1713.2h0M905 1663.3h0M883.7 1617h0M859 1767.3h0M908 1624.6h0M890.8 1649.9h0M888.2 1754.3h0M896.4 1656.2h0M905.5 1501.9h0M931.8 1780.3h0M877.3 1691h0M884.6 1689h0M904.6 1680.1h0M862.8 1783.1h0M872.6 1786.1h0M920.7 1614.5h0M880.8 1720.7h0M883.9 1667.1h0M867.5 1772.2h0M877.5 1729h0M891.7 1672h0M899.1 1649h0M902.1 1535.6h0M900.7 1569.2h0M911.9 1670.3h0M867.5 1772.6h0M872.5 1765.1h0M909.7 1615.4h0M884.3 1692.1h0M867.1 1777.7h0M863.3 1750.8h0M896.9 1656h0M880 1687.9h0M870.6 1783.2h0M888.9 1686.2h0M870.2 1750h0M878.8 1783.1h0M873.2 1751h0M884 1657.4h0M903 1684.3h0M877.9 1714.1h0M877.7 1635h0M878.9 1744.9h0M877.9 1783.9h0M877.8 1667h0M869.5 1746.6h0M893.2 1625.6h0M872.8 1784.2h0M890.7 1658.5h0M867.7 1695.2h0M882.7 1755.7h0M902.2 1593h0M896.6 1604.4h0M873.1 1715.7h0M859.4 1786.1h0M888.7 1667.4h0M863.4 1765.7h0M878.5 1774.8h0M895.9 1642.7h0M893.2 1667.5h0M869.4 1749.9h0M890.5 1682.4h0M882.9 1619.2h0M858.3 1783.2h0M926.5 1520.3h0M888.9 1703.4h0M869.8 1784.1h0M893.7 1595.2h0M877 1669h0M891 1711.2h0M881.6 1772.5h0M860.7 1730.8h0M888.2 1692.9h0"/>
<path stroke="#DC9BD6" d="M874.9 1782.1h0M880.1 1783h0M873.1 1783.5h0M865.3 1720.4h0M887.7 1740.1h0M866.5 1712.9h0M862.1 1775.4h0"/>
<path stroke="#EDC75B" d="M869 1785.7h0M869.4 1746.1h0M886.8 1753.5h0M877.1 1733.6h0M871.1 1781.6h0M878.8 1778.1h0M890 1783.3h0M873.8 1784.7h0M935.3 1726.2h0M877.6 1780.3h0M879.4 1785.8h0M864.5 1764.8h0M870.5 1766.3h0M886.3 1785.2h0M891.6 1780.4h0M871.7 1781h0M873.8 1775.6h0M871.1 1759.9h0M930 1735.2h0M882.4 1751.7h0M871.4 1707.9h0M890.3 1771.5h0M881.1 1744.8h0M868.6 1785.8h0M873.2 1764.9h0M885 1775.7h0M866.1 1780.7h0M884.2 1779.3h0M878.5 1780.8h0M869.3 1735.3h0M879.9 1753.1h0M901.6 1783.6h0M888.5 1762.7h0M861.2 1729.3h0M882.1 1750.1h0M864.9 1774.6h0M873.6 1724.5h0M866 1785.7h0M869.5 1758.6h0M871.2 1743.5h0M876.7 1746.3h0M890.5 1767.8h0M867.7 1781.9h0M891.5 1773h0M876.9 1735.8h0M880.2 1770.4h0M939.8 1719.7h0M916.4 1784.5h0"/>
<path stroke="#BDBDBD" d="M868 1786.1h0M868.2 1763h0M878.1 1755.7h0M871.6 1783.2h0M862.6 1786.1h0M870.8 1690.3h0M872 1762h0M863.4 1756.1h0M862.6 1779.7h0M863.6 1771.8h0M865.8 1774.8h0M861.7 1774.3h0M862.4 1762.1h0M864.9 1783.5h0M871.8 1740.3h0M862.6 1754.6h0M861.9 1728h0M867.4 1667.4h0M866.1 1752.8h0M873.9 1770.7h0M861.9 1779.2h0M870.6 1748.2h0M859.4 1769.5h0M865.8 1714.5h0M867 1768.5h0M862.1 1730.2h0M864.5 1783.9h0M867.5 1746.1h0"/>
<path stroke="#9A3AA3" d="M900.6 1785h0M898.2 1769.8h0M892.2 1784.6h0M890.4 1783.3h0"/>
<path stroke="#CE3A53" d="M889.6 1786.1h0M904.9 1555.9h0M901.7 1695.7h0M887.6 1683.8h0M895.4 1684.8h0M862 1783.4h0M885.3 1653.5h0M886.1 1702.6h0M881.1 1669.5h0M871.8 1728.5h0M880.5 1597h0M881.8 1750.6h0M863.5 1786.1h0M869.6 1720.8h0M884.9 1669.3h0M871.2 1729.6h0M910.6 1677.9h0M884.6 1691.7h0M875.7 1779.4h0M896.5 1680h0M872.9 1635.6h0M865.9 1784h0M885 1776.8h0M891.3 1692.8h0M900.5 1611.8h0M862.7 1767.2h0M863.3 1775.6h0M875.6 1781.7h0M894.2 1705.3h0M905.2 1661.8h0M887.6 1786h0M887.9 1655.7h0M892 1781.8h0M889.1 1578.2h0M864.7 1767.3h0M863.3 1719.8h0M892 1649.6h0M884.4 1647.5h0M894.9 1657h0M896.4 1701.6h0M893.1 1626.9h0M864.5 1714.9h0M876 1761.3h0M886.5 1692.3h0M892 1677.1h0M914.2 1585.3h0M886.4 1667.4h0M887.9 1783h0M880.2 1717h0M893.1 1688.6h0M889.8 1545.7h0M900.2 1627.7h0M872 1782.5h0M887.9 1675.7h0M857.7 1761.3h0M879.6 1706.5h0M869 1723.7h0M875 1776.4h0M884.6 1714.6h0M906.7 1615.8h0M893.5 1686.6h0M861.3 1772.9h0M871.2 1718.4h0M886.2 1616.4h0M883.5 1785.7h0M860.2 1786.1h0M902 1632h0M895.3 1661.7h0M893.8 1672.5h0M888.7 1661.5h0M887.2 1525.7h0M932.3 1545.8h0M858.1 1774.7h0M883.3 1756.5h0M898.5 1554.6h0M860.8 1786.1h0M880.1 1697.4h0M896.9 1645.6h0M863.7 1785.1h0M869.3 1774.3h0M861.3 1759.8h0M882 1786.1h0M892.4 1649.4h0M897.6 1572.3h0M875.5 1751.8h0M929.7 1778.7h0M869.8 1762.2h0M880.1 1774.2h0M888.9 1630.2h0M872.5 1785.3h0M897.6 1684.3h0M904.8 1685.3h0M882.8 1783.9h0M880.2 1732h0"/>
<path stroke="#46A078" d="M859.8 1776.8h0M861.7 1779h0M870.4 1784.7h0M871 1716.1h0M886.6 1757.1h0M880 1717.8h0M882.5 1784.7h0M873.9 1730.3h0M887.7 1728.1h0M856.4 1782.6h0M874.6 1759.4h0M876.8 1671.9h0M872.1 1724.2h0M869 1700.2h0M888 1753.4h0M865 1783.3h0M860.4 1727.6h0M865.3 1697.5h0M889.3 1764.4h0M887.5 1783h0M878.4 1778.7h0M891.4 1754.8h0M867.7 1779.2h0M863.3 1776h0M876.3 1653.5h0M881 1775h0M862.2 1760.1h0M886.2 1779.4h0M869.7 1718h0M894.3 1763.6h0M862.5 1748.2h0M858 1764.5h0M866.3 1757.2h0M865.6 1734h0M874.3 1757.7h0M881.8 1782h0M889.4 1710.5h0M888 1775.2h0M878.4 1706.1h0M865.3 1676.6h0M874.1 1710.9h0M870.7 1762.3h0M876.1 1763.9h0M879 1772.5h0M887.1 1691.6h0M866 1755.2h0M864.1 1688.8h0M879.3 1771.6h0M868.7 1757.2h0M875.9 1786.1h0M868.3 1774.1h0M867.2 1741.6h0M858.9 1783.4h0M872 1750.1h0M874.8 1641.6h0M871.3 1772.4h0M874.6 1760.9h0M873.9 1760.8h0M862.8 1781.5h0M874.6 1745.2h0M896.6 1748h0M882.2 1769.9h0M861.6 1700.8h0M872.1 1780.1h0M870.1 1763.3h0M860.2 1771.2h0M869 1786.1h0M881.4 1619.9h0M891.2 1785.8h0M871.2 1783.1h0M884.6 1737.5h0M891 1721h0M866.9 1786.1h0M897.2 1753.8h0M871.5 1775.8h0M868.7 1774.2h0M869.8 1779.4h0M882.2 1771.5h0M857.2 1770.4h0M896.2 1711h0M890.5 1645.7h0M861.5 1772.5h0M859.9 1730.1h0M884.1 1742.8h0M862.2 1731.3h0M871.5 1757.1h0M887.3 1680h0M886.3 1739.8h0M886.4 1759.7h0M882.4 1772.1h0M864.8 1730.3h0M867.1 1772.6h0M865.6 1749.4h0M878.7 1779h0M886.5 1763.5h0M859.1 1748.6h0M875.7 1749.8h0M871.5 1723.8h0M894.6 1783.1h0M875.2 1749h0M885 1770.3h0M865 1757.6h0M859.9 1718.5h0M889.9 1701.4h0M885 1748.8h0M892.6 1765.5h0M865.8 1648.5h0M887.4 1699.6h0M856.5 1774.3h0M894.1 1770.8h0M873.1 1770.3h0M880 1779.7h0M874.5 1777.8h0M880.7 1726.9h0M893.7 1764.4h0M886.3 1767.6h0M891 1765.8h0M883.7 1779.1h0M861.4 1778.7h0M869.7 1724.5h0M872.5 1726.9h0M893.7 1725.2h0M861.1 1784.7h0M860.4 1782.4h0M869.5 1735.2h0M884.9 1747.1h0M868.5 1784.6h0M861.1 1745h0M868.4 1748.2h0M862.2 1730.6h0M877.6 1773.3h0M870.5 1757h0M873.3 1783h0M890.3 1732.8h0M872.6 1780.2h0M893.6 1777.8h0M880.7 1751.5h0M873.4 1783.3h0M863.7 1721.9h0M876.6 1785.6h0M883.1 1786.1h0M875.7 1716.9h0M862.9 1779.9h0M865.5 1783.7h0M864 1761.9h0M878.5 1741.5h0M863.6 1717.1h0M873 1705.7h0M870.9 1648.7h0M869.6 1785h0M880 1783h0M863.9 1786.1h0M874.8 1763.3h0M864.2 1774.6h0M896.9 1746.7h0M874.3 1770.7h0M867.8 1773.4h0M865.6 1769.9h0M881.3 1765h0M877.8 1716.2h0M885.7 1764.1h0M878.4 1769.7h0M865.5 1712.1h0M889.3 1733.8h0M893 1657.9h0M894.5 1782.5h0M870.1 1709.8h0M859.7 1774.2h0M871.3 1735.3h0M862.3 1750.3h0M877.1 1663h0M873.3 1783.7h0M886.3 1767.6h0M896.5 1761.3h0M890.1 1703.4h0M898.6 1781.6h0M885.5 1691h0M890.2 1758.4h0M892 1765.9h0M888.8 1727.4h0M888.3 1633.7h0M882.5 1637.9h0M893.2 1785.6h0M862 1749h0M885.9 1744.1h0M869.4 1780h0M861.3 1714.6h0M864.8 1747.9h0M872.8 1758.5h0M859.8 1722h0M866.7 1779.8h0M858.7 1777.8h0M872.8 1783.8h0M870.6 1770.3h0M869.6 1748.4h0M883 1713.7h0M865.1 1726h0M863.4 1776.7h0M868 1786.1h0M871.2 1760.2h0M881.2 1786h0M886.8 1709.9h0M872.4 1772.5h0M876.1 1696.7h0M869.8 1757.3h0M883.8 1784.1h0M891.4 1780.6h0M893 1755.7h0M860.4 1721h0M873.4 1772.5h0M880.8 1675.6h0M895.1 1735.9h0M887.3 1769.9h0M870.2 1694.7h0M866.1 1712.9h0M878.7 1694.4h0M890.6 1757.8h0"/>
<path stroke="#EDC75B" d="M859.7 1786.1h0M870.3 1747.5h0M869.5 1786.1h0M873.7 1782.1h0M862.2 1735.5h0M941.6 1721.7h0M868.5 1764.3h0M939.6 1724.6h0M873.2 1784.2h0M936 1716.1h0M869 1778.8h0M892.2 1779.4h0M883 1785h0M870.8 1719.8h0M868.4 1779.2h0M865.8 1782.3h0M873.9 1781.5h0M885.6 1771.3h0M873.7 1772.1h0M871.1 1786.1h0M907.4 1785.3h0M857.8 1778h0M883.5 1733.3h0M884.2 1766.9h0M874 1758.9h0M934.2 1718.1h0M871.7 1781.1h0M894 1772.2h0M873.9 1755.2h0M876.7 1786.1h0M935.5 1742.4h0M940.3 1739.8h0M937 1737.7h0M944.3 1729.6h0M873.8 1759h0M871.8 1767.1h0M869 1785.6h0M872.4 1781.3h0M887.3 1782.4h0M884.1 1541.7h0M876 1768.7h0M890.8 1781h0M862.9 1773.2h0M869.2 1772.6h0M890.2 1758.3h0M871.6 1783.3h0M886.1 1780.2h0M922.6 1731.2h0M876.9 1778.9h0M891.7 1780.3h0M861.8 1779.9h0M874.2 1779.4h0M870.3 1777.9h0M878.8 1786.1h0M891.1 1773.4h0M914.3 1782.8h0M926.4 1723.3h0M880.9 1750.7h0M870.5 1780.7h0M869.8 1711.5h0M859.7 1772.1h0M862.9 1763.6h0"/>
<path stroke="#BDBDBD" d="M876.9 1783.9h0M878.1 1766.5h0M873.5 1743.5h0M877.2 1776h0M864.2 1786.1h0M860.8 1782h0M873.2 1698.6h0M870.4 1783.5h0M870.2 1786.1h0M876.4 1764.2h0M865.7 1782h0M869.3 1705.9h0M861 1727.1h0M868 1732.9h0M872 1786.1h0M865.4 1679.6h0M864.5 1722.1h0M868.4 1775.2h0M862.4 1729.5h0M865.3 1760.4h0M867.8 1739.4h0M863.9 1726.5h0M876.4 1729.2h0M864.7 1742.3h0M860.4 1780.2h0M868 1768h0M876.7 1770.9h0M877 1782.8h0M857.9 1756.6h0M872.8 1767.8h0M868.2 1723.8h0M873.3 1782.2h0M876.3 1777.2h0M858.9 1774.2h0M873.9 1762.4h0M874.7 1786.1h0M861.5 1775.3h0M866.3 1771.9h0M868.5 1776.2h0M874 1727.2h0M859.5 1739h0M869.5 1768.3h0M865 1659.2h0M871.3 1750h0M876.1 1772.7h0"/>
<path stroke="#9A3AA3" d="M878.5 1784.9h0M894.1 1781.7h0M887.1 1782.2h0M887.2 1785h0M890.5 1780.8h0"/>
<path stroke="#DC9BD6" d="M884.3 1764.3h0M889.4 1737.8h0M876.6 1696.3h0M906.9 1415.8h0M883 1785.8h0M859.2 1756.6h0M873.5 1773.6h0M863.8 1781.9h0M886.1 1781.5h0M876.4 1775.3h0M892.2 1785.2h0"/>
</g>
<rect x="1078.5" y="1641" width="220.3" height="155.7" fill="#fff"/><path d="M840.8 1808.2L1159 1313.7" stroke="#000" stroke-width="1.5"/>
<rect x="832.8" y="1313.7" width="495.2" height="494.6" fill="none" stroke="#333" stroke-width="1.5"/>
<path d="M855 1808.3v3.4M960.9 1808.3v3.4M1066.8 1808.3v3.4M1172.8 1808.3v3.4M1278.7 1808.3v3.4M832.8 1786.1h-3.4M832.8 1621.5h-3.4M832.8 1456.9h-3.4" stroke="#333" stroke-width="1.5" fill="none"/>
<g font-size="18.9" fill="#4d4d4d">
<text x="855" y="1828.3" text-anchor="middle">0</text>
<text x="960.9" y="1828.3" text-anchor="middle">20</text>
<text x="1066.8" y="1828.3" text-anchor="middle">40</text>
<text x="1172.8" y="1828.3" text-anchor="middle">60</text>
<text x="1278.7" y="1828.3" text-anchor="middle">80</text>
<text x="826.9" y="1792.7" text-anchor="end">0</text>
<text x="826.9" y="1628.1" text-anchor="end">20</text>
<text x="826.9" y="1463.5" text-anchor="end">40</text>
</g>
<text x="1092.3" y="1859.7" font-size="26.3" text-anchor="middle" fill="#000">Batch before correction (%)</text>
<text transform="translate(791.8 1569.7) rotate(-90)" font-size="26.3" text-anchor="middle" fill="#000">Ancestry after correction (%)</text>
<text x="1456.8" y="1312.8" font-size="64" fill="#000">i</text>
<path d="M1600.1 1311.8V1806.8M1706.2 1311.8V1806.8M1812.3 1311.8V1806.8M1918.4 1311.8V1806.8M1524.7 1701.8H2020.8M1524.7 1536.6H2020.8M1524.7 1371.4H2020.8" stroke="#ebebeb" stroke-width="0.7" fill="none"/>
<path d="M1547.1 1311.8V1806.8M1653.2 1311.8V1806.8M1759.3 1311.8V1806.8M1865.4 1311.8V1806.8M1971.5 1311.8V1806.8M1524.7 1784.4H2020.8M1524.7 1619.2H2020.8M1524.7 1454H2020.8" stroke="#ebebeb" stroke-width="1.4" fill="none"/>

<g fill="none" stroke-linecap="round" stroke-width="5.5">
<path stroke="#CE3A53" d="M1551.2 1566h0M1555.4 1637.3h0M1552.4 1501.1h0M1549.3 1768.1h0M1551.4 1764.7h0M1556.7 1689.3h0M1557.6 1640.2h0M1559.1 1784.4h0M1555.1 1759.8h0M1560.7 1784.4h0M1553.1 1649.3h0M1563.7 1763.2h0M1558.1 1639.2h0M1566.5 1762.7h0M1558 1749.2h0M1559.6 1770.4h0M1551.4 1751.7h0M1551.8 1756.6h0M1557.9 1769.7h0M1554.3 1757.8h0M1554.9 1772.7h0M1561 1703.9h0M1557.6 1697.5h0M1562.8 1758.6h0M1559.5 1784.4h0M1548.7 1608.3h0M1552 1781.5h0M1549.3 1666h0M1567.7 1782.1h0M1555.5 1677h0M1558.6 1766.8h0M1552.5 1648.1h0M1558.5 1758.2h0M1551.4 1564.9h0M1554.3 1628.9h0M1552.7 1642h0M1550.4 1782h0M1550.2 1687.4h0M1570.5 1782.2h0M1551.8 1644.2h0M1564.1 1775.6h0M1560.1 1701.3h0M1558.2 1720.1h0M1554.5 1663.8h0M1566.4 1771h0M1555.9 1784.4h0M1553.8 1533h0M1548.8 1680.6h0M1552.9 1612.4h0M1560.1 1784.4h0M1554.2 1784.4h0M1560.4 1715.5h0M1560.2 1625.9h0M1566.7 1781.1h0M1555.4 1784.4h0M1554.3 1581.9h0M1557.8 1784.4h0M1551.9 1658h0M1555 1747.4h0M1550.2 1623.2h0M1553.1 1686.5h0M1561.2 1731.2h0M1553.1 1752.6h0M1559.2 1647.1h0M1548.9 1712.9h0M1556.7 1750.5h0M1551.6 1697.6h0M1552.5 1751.9h0M1558.3 1625.8h0M1550.6 1773.9h0M1568.3 1606h0M1552.9 1557.2h0M1558.8 1556.9h0M1566 1779.9h0M1584.2 1678.7h0M1557.4 1683.6h0M1563.5 1756.3h0M1565 1746.6h0M1562.7 1733.8h0M1549.9 1766.1h0M1558.2 1641.1h0M1556.5 1659.3h0M1561.8 1776.3h0M1550.4 1673.4h0M1566.9 1765.2h0M1555.1 1710.3h0M1552.2 1783.2h0M1549.6 1769.1h0M1559.4 1738.5h0M1558.7 1762.7h0M1552.2 1782.8h0M1553.7 1759h0M1569.6 1768.3h0M1563.8 1709.9h0M1565.4 1753.7h0M1552.4 1712.9h0M1553.7 1687.7h0M1555.6 1482.9h0"/>
<path stroke="#EDC75B" d="M1564.7 1783.8h0M1571.6 1782.5h0M1570.3 1782.3h0M1557 1774.9h0M1567.9 1770.4h0M1555.3 1781.7h0M1560.5 1746.7h0M1552.4 1778.6h0M1550.7 1763.8h0M1556.3 1746.3h0M1571.1 1769.3h0M1553.7 1767.8h0M1567.9 1768.6h0M1558.2 1784.4h0M1553.1 1776.3h0M1552.6 1782h0M1552.3 1765.6h0M1569 1784.4h0M1572.1 1782.9h0M1562.6 1782.9h0M1556.7 1734.7h0M1558.2 1778.7h0M1557.6 1781.3h0M1560 1777.3h0M1573.1 1773.6h0M1549.8 1781.2h0M1560.4 1771h0M1568 1755.9h0M1556.9 1781.3h0M1557.6 1735.9h0M1570.7 1777.8h0M1573 1784.2h0M1557.2 1705.7h0M1567.4 1774.8h0M1561.5 1730.4h0M1559.7 1712.6h0M1566.1 1748.2h0M1548.6 1782.3h0M1562 1774.2h0M1557.9 1769.4h0M1558 1773.2h0"/>
<path stroke="#BDBDBD" d="M1557.3 1713.7h0M1557.2 1766h0M1562.9 1767.2h0M1558.9 1733.4h0M1562.8 1690.1h0M1564 1761.5h0M1568.5 1753.5h0M1561.7 1749.8h0M1565.8 1758.5h0M1562.7 1774.7h0M1562 1742.2h0M1553.9 1769.6h0M1555.7 1784.4h0M1557.3 1779.3h0M1563.7 1781.4h0M1563 1768.8h0M1555.4 1782.5h0M1556.7 1781h0M1566.5 1726.9h0M1562.4 1784.4h0M1552.8 1771.1h0M1564.2 1738.3h0M1569.1 1752.3h0M1556.5 1762h0M1560.7 1765h0M1550.4 1775.2h0M1564.6 1750.8h0M1554.5 1721.1h0M1566.5 1764.8h0M1558.1 1712h0M1556 1774.1h0M1563 1697.5h0M1564.5 1740.6h0M1549.4 1784.2h0M1562.9 1741.5h0M1565.7 1770.9h0M1566.2 1781.3h0M1564.2 1782.6h0M1554.5 1784.4h0M1564.9 1774.3h0M1563.7 1742.7h0M1566.4 1739.4h0M1569.1 1749.3h0M1559.8 1756.3h0M1549.2 1784h0M1551.9 1784.4h0M1557 1720.7h0M1564.3 1772h0M1553.3 1745.4h0M1570.5 1784.4h0M1553.4 1778.2h0M1563.1 1719.1h0M1551.6 1761.6h0"/>
<path stroke="#46A078" d="M1560.6 1752h0M1558.6 1783.4h0M1556.8 1762h0M1563.5 1784.4h0M1558.5 1642.7h0M1559.4 1783.5h0M1562.5 1784h0M1560.9 1769.1h0M1557.5 1740.6h0M1556.7 1689.9h0M1564 1674.5h0M1562.8 1783.8h0M1548.2 1773.7h0M1566.5 1780.2h0M1556.8 1782h0M1550.9 1754.2h0M1554.4 1768.7h0M1555.1 1781.5h0M1559.7 1782.1h0M1550.4 1759.5h0M1563.2 1756.8h0M1549.2 1748.2h0M1548.7 1774.9h0M1555.9 1761.5h0M1555.9 1751.2h0M1560.3 1763.8h0M1567.2 1762.3h0M1560.1 1766.5h0M1562.3 1761.4h0M1548.8 1769.5h0M1555.9 1770.5h0M1558.8 1777.5h0M1560.2 1783.4h0M1556.1 1780.6h0M1557.3 1668.5h0M1564.9 1782.2h0M1566.4 1761.6h0M1562.2 1770.7h0M1557.1 1744.5h0M1558.3 1781.8h0M1560.1 1764.1h0M1551.7 1780.9h0M1552.6 1720.2h0M1550.2 1745.2h0M1554.9 1771.7h0M1555.1 1761.2h0M1567.1 1776.9h0M1563 1729.7h0M1561.6 1723.8h0M1556.9 1776.3h0M1563.7 1772.4h0M1552.6 1759.4h0M1560.1 1784.4h0M1563.8 1701.5h0M1556.4 1767.6h0M1555 1773.9h0M1565.2 1772.1h0M1556.9 1695.6h0M1556.2 1754.7h0M1551.1 1737.2h0M1548.5 1767.8h0M1556.8 1705.7h0M1557 1771.6h0M1561.7 1758.4h0M1562.6 1768.5h0M1557.4 1754h0M1549.2 1766h0M1550.4 1731.6h0M1552.5 1744.7h0M1559.7 1758.8h0M1558.6 1660.7h0M1549.9 1773.8h0M1561.8 1784.4h0M1562.3 1784h0M1556.9 1765.2h0M1551.1 1757.5h0M1558.8 1734.1h0M1558.3 1772.8h0M1557.1 1766.6h0M1556.8 1679.5h0M1556.7 1777.4h0M1554.1 1760.7h0M1558 1676.2h0M1553.8 1752.2h0M1554.9 1651h0M1554.5 1768.3h0M1559 1691.4h0M1548.1 1772.6h0M1563.9 1748.8h0M1551.9 1771.3h0M1549.5 1741h0M1563.2 1714.7h0M1548.6 1770.9h0M1553.3 1756.2h0M1563.4 1777.9h0M1561 1728.7h0M1555 1737.6h0M1564.3 1697.2h0M1552.9 1770.8h0M1560.8 1665.7h0M1549.7 1784h0M1561.9 1730h0M1554.9 1775h0M1556.2 1767.3h0M1566.7 1775.8h0M1561.1 1757.9h0M1558.2 1759.9h0M1564.3 1732.8h0M1552.7 1779.1h0M1548.6 1765.2h0M1561.6 1768.5h0M1562.3 1704.4h0M1563.5 1783.1h0M1557.9 1710.5h0M1566.8 1757.8h0M1562.7 1781.7h0M1554.5 1778h0M1557.1 1766.3h0M1549.5 1758.3h0M1559.4 1774.2h0M1561.8 1774.5h0M1552 1696.2h0M1548.6 1782.6h0M1556.5 1781.5h0M1555.7 1768h0M1552 1739.5h0M1552.6 1730.4h0M1564.6 1777.7h0M1557.6 1783.6h0M1556.8 1764.1h0M1561 1684.7h0M1554.2 1778.5h0M1562.1 1727.3h0M1558.1 1756.9h0M1560.4 1758.2h0M1553 1736.3h0M1549 1780.4h0M1557.6 1784.4h0M1552.1 1738.5h0M1550.9 1743.9h0M1556.5 1779.5h0M1551.3 1782.4h0M1561.3 1756.5h0M1554.7 1765.1h0M1554.1 1761.1h0M1562.8 1766.6h0M1561.6 1750.8h0M1557.2 1766.5h0M1566.9 1753.5h0M1560.7 1725.7h0M1552.2 1766.2h0M1548.6 1775.3h0M1550.4 1784.4h0M1559.6 1758.3h0M1554.9 1649.3h0M1558.3 1784.4h0M1553.8 1745.6h0M1558.4 1752.8h0M1561.4 1696.8h0M1548.6 1769.2h0M1560.1 1767.1h0M1552.8 1772.4h0M1557.6 1778.8h0M1565.4 1757.4h0M1552.9 1777.9h0M1559 1750.7h0M1566.3 1718.6h0M1562.1 1778.8h0M1563.5 1715h0M1568.1 1776.1h0M1565.6 1753.9h0M1562.7 1784.4h0M1561.2 1784.4h0M1562.3 1682.9h0M1555.7 1772.2h0M1563.7 1764.4h0M1553.4 1719.4h0M1556.5 1775.5h0M1561.2 1721.1h0M1564.8 1756.8h0M1562.1 1771.5h0M1554.2 1768.2h0M1551.3 1764.4h0M1549.1 1765.8h0M1561.8 1695.8h0M1564.6 1734.7h0M1550.2 1764.9h0M1550.2 1780.8h0M1553 1759.2h0M1559.3 1766.9h0M1551.1 1760.3h0M1556.9 1769.9h0M1561.2 1756h0M1566.2 1732.5h0M1557.5 1704.1h0M1551 1713.2h0M1559.1 1710.1h0M1558.4 1769.2h0M1552.3 1752.2h0"/>
<path stroke="#9A3AA3" d="M1573.5 1777.7h0M1579.5 1773.4h0M1570.2 1761.1h0M1573.4 1782.2h0M1572.3 1775.6h0M1572 1782.2h0M1573.3 1783.5h0M1575.9 1778.2h0M1575.7 1757.1h0"/>
<path stroke="#DC9BD6" d="M1550.3 1412.7h0M1558.8 1771.2h0M1551.1 1775.9h0M1564.6 1754.6h0M1548.7 1778.6h0M1548.7 1429.2h0M1557.9 1783.8h0M1549.4 1771.3h0M1561.7 1712.2h0M1557.8 1743.4h0"/>
<path stroke="#46A078" d="M1558.4 1758.5h0M1549.4 1781.1h0M1554.7 1777.9h0M1549.4 1780.5h0M1558 1764.2h0M1555.9 1715.5h0M1561.5 1760.8h0M1558.3 1653.3h0M1561.6 1757.3h0M1549.2 1756.8h0M1564.4 1753.3h0M1556.6 1693.2h0M1563 1663.4h0M1556.1 1766.2h0M1560.6 1769.4h0M1564.2 1781.8h0M1555.5 1763.9h0M1562.8 1751.8h0M1554.4 1649.7h0M1552.8 1777.7h0M1554.8 1658.2h0M1560.3 1732.4h0M1559 1733.5h0M1551.7 1764.5h0M1563.4 1749.7h0M1553 1736.1h0M1553.6 1761.5h0M1560.8 1777.1h0M1559.9 1784.4h0M1554.2 1715.4h0M1560.2 1778.1h0M1555.3 1768.1h0M1560.1 1643.6h0M1563.3 1727.8h0M1556.6 1661h0M1561.3 1758.3h0M1554 1777.6h0M1564.2 1758.1h0M1567.7 1759.4h0M1554.5 1776.1h0M1562.4 1781.1h0M1562 1773h0M1562.4 1769h0M1548.2 1765.8h0M1563.8 1765.1h0M1559.6 1749.2h0M1562.6 1774h0M1561.9 1692.8h0M1565.1 1726.6h0M1553.5 1783.3h0M1549.5 1763.2h0M1559.7 1686.3h0M1564.2 1784.4h0M1559 1782.7h0M1566 1736.5h0M1562.8 1775h0M1562.8 1777.1h0M1558.2 1779.2h0M1561 1709.6h0M1564.5 1745.6h0M1564.2 1743.1h0M1564.3 1724.9h0M1563.4 1777.4h0M1553.9 1727.2h0M1564.9 1759.1h0M1560.9 1665.5h0M1551.1 1766.8h0M1556.6 1643.3h0M1561 1782.4h0M1549.1 1758.7h0M1552.2 1779.4h0M1556.8 1719h0M1560.5 1684.9h0M1552.1 1770.7h0M1552.9 1754.4h0M1555 1729.4h0M1556.8 1734.6h0M1555.3 1712.9h0M1564.5 1704.9h0M1561 1745.9h0M1550.3 1775.6h0M1552.7 1777.3h0M1559.1 1715.2h0M1557 1726.8h0M1563.4 1694.7h0M1555.9 1715.3h0M1558 1650.7h0M1556.2 1784h0M1559.9 1690.3h0M1560.2 1745.8h0M1562.6 1773.7h0M1561.8 1736.1h0M1557.4 1721.1h0M1554.1 1772.1h0M1562.1 1773.4h0M1555 1750.6h0M1554.5 1781.4h0M1558.3 1773h0M1560.8 1723.1h0M1561 1777.7h0M1560.4 1740h0M1563.7 1739.1h0M1562 1768.6h0M1552.3 1767.8h0M1554.7 1769.7h0M1560.2 1780.7h0M1563.9 1764.1h0M1551 1750.2h0M1559.4 1736.8h0M1550.8 1755.5h0M1554.3 1715h0M1563 1734.2h0M1557 1650.7h0M1555.2 1746.8h0M1561.6 1661.3h0M1556.9 1680.1h0M1559 1759.2h0M1556.8 1767.6h0M1558 1777.4h0M1563.2 1723.1h0M1565.7 1757h0M1561 1757.5h0M1548.4 1769.2h0M1548.8 1777.2h0M1556.5 1754.2h0M1558.3 1765.8h0M1560.7 1712h0M1549.6 1772.7h0M1549.8 1759h0M1552.8 1783.5h0M1562.3 1709.4h0M1562.4 1738.5h0M1551.4 1711.6h0M1555.8 1655.6h0M1564.7 1770.1h0M1578.4 1781.9h0M1560.1 1741.7h0M1557.2 1767.2h0M1563.9 1675.6h0M1556.8 1724.7h0M1558.1 1767.1h0M1565.3 1766.8h0M1563 1768.3h0M1558.4 1704.3h0M1559.5 1712.2h0M1561.1 1778.8h0M1554.1 1719h0M1556.4 1778.9h0M1566.3 1716.9h0M1558.9 1770.5h0M1565.5 1764h0M1553.1 1683.7h0M1561.8 1753.7h0M1557.2 1755.5h0M1555.8 1723.2h0M1560.7 1745h0M1565.3 1692.6h0M1562.6 1760.7h0M1563 1762.5h0M1555.6 1762.3h0M1560.7 1784.4h0M1557.9 1746h0M1565.9 1756.4h0M1564.9 1753.2h0M1553.1 1768.9h0M1556 1763.3h0M1554.7 1760.4h0M1552 1777.2h0M1567 1764.1h0M1566.7 1751.6h0M1563.1 1716.5h0M1559 1782.4h0M1558.4 1784.4h0M1562.5 1693.4h0M1568 1784.4h0M1554.7 1673.9h0M1549 1773.8h0M1560.6 1688.3h0M1556.5 1735.9h0M1551.2 1773.3h0M1562 1752.8h0M1562.5 1784.3h0M1554.3 1749.7h0M1555.4 1695.8h0M1555.9 1735.8h0M1550.2 1744.2h0M1549.3 1774.8h0M1561.9 1767.5h0M1560.9 1707.4h0M1562.1 1727.7h0M1555.5 1768.8h0M1550.7 1736.1h0M1565 1744.4h0M1553.2 1726.4h0M1552.6 1755.2h0M1548 1781h0M1556.2 1742.5h0M1563.9 1776.4h0M1551.1 1728.4h0M1556.6 1784.4h0M1559.8 1766h0M1560.9 1703.3h0M1561.8 1780h0M1559.8 1761.4h0"/>
<path stroke="#EDC75B" d="M1568.3 1766.5h0M1553.9 1765.4h0M1560.9 1767.1h0M1554 1764.5h0M1551.1 1754.1h0M1556 1773.2h0M1567.9 1777.2h0M1554.1 1768.8h0M1572.3 1782.6h0M1564.6 1752.4h0M1554.8 1768.9h0M1572.8 1766.4h0M1574.5 1781.8h0M1550.2 1784.4h0M1574.2 1770h0M1562.8 1752.5h0M1550.8 1763.1h0M1563.9 1774.6h0M1548.8 1772.1h0M1584.8 1784h0M1551.8 1744.6h0M1553.5 1779.5h0M1568.8 1784.4h0M1552.6 1756.9h0M1562.8 1741.7h0M1565.2 1749.2h0M1572.7 1762.9h0M1550.1 1753.7h0M1563.1 1740.4h0M1569.6 1778.9h0M1571.2 1757h0M1553.1 1768.7h0M1571.4 1782.9h0M1559.6 1780.2h0M1548.9 1774.6h0M1569.7 1776.6h0M1548.9 1778.4h0M1562 1779.6h0M1553.5 1781.5h0M1551.7 1762.8h0M1564.1 1777.4h0M1555.4 1782.8h0M1553.8 1734h0M1552.4 1775h0M1562.6 1771.3h0M1554.3 1750.5h0M1552.5 1760.5h0M1560 1776.1h0M1553.8 1752.4h0M1552.8 1730.5h0M1550.7 1765.6h0"/>
<path stroke="#CE3A53" d="M1557.2 1650.3h0M1555.8 1635.2h0M1558 1738.1h0M1560 1751.1h0M1563.4 1773.6h0M1552.3 1694.6h0M1551.4 1599.9h0M1551.3 1750.5h0M1551.7 1754.9h0M1554 1778.3h0M1551.6 1759.9h0M1555.4 1552.9h0M1552.6 1743.6h0M1558.7 1618.4h0M1556.8 1711.1h0M1556.5 1784.3h0M1554.7 1735.7h0M1563.8 1778.1h0M1553.8 1783.1h0M1553.3 1776.1h0M1554 1607.8h0M1562.7 1712.7h0M1547.4 1688.1h0M1555.1 1669.1h0M1568.5 1775h0M1549.1 1639.5h0M1555 1644.1h0M1549.3 1649.6h0M1550.6 1675.7h0M1563.3 1784.4h0M1553.7 1678.8h0M1557 1621.4h0M1556.4 1702.8h0M1556 1708h0M1555.6 1634.7h0M1556.8 1575.1h0M1562.3 1763.4h0M1551 1776.7h0M1555.3 1784.4h0M1567.7 1784.4h0M1562 1763.8h0M1563.2 1684.3h0M1554.5 1650.2h0M1550.4 1749.1h0M1558 1755.7h0M1560 1774.2h0M1561.6 1775.2h0M1555.9 1692.1h0M1551.2 1675.4h0M1551.9 1422.6h0M1555.2 1699.5h0M1557.2 1597h0M1554.9 1758.6h0M1547.5 1686.9h0M1555.3 1633.9h0M1554 1766.5h0M1553 1675.8h0M1552.5 1624.1h0M1566.7 1758.9h0M1561 1753.2h0M1558.3 1693h0M1553.4 1698.4h0M1562 1756.4h0M1555.4 1754.7h0M1556.9 1636.3h0M1549.1 1666.8h0M1560.4 1585.7h0M1562.9 1665.2h0M1549.9 1618.9h0M1563.3 1778.1h0M1552.8 1661.7h0M1570.2 1762.1h0M1552.5 1682.6h0M1555.2 1748.2h0M1552.4 1416.8h0M1557.9 1775.4h0M1565.4 1732.7h0M1557.9 1597.5h0M1560.5 1709.8h0M1552.8 1713.6h0M1562.4 1761.8h0M1556.7 1784.4h0M1557.3 1701.1h0M1553.4 1576.6h0M1558.9 1631.8h0M1565 1722.4h0M1563.2 1692.5h0M1554.3 1776.6h0M1555.6 1553.2h0M1554.6 1739.8h0M1564.1 1764.4h0M1566.9 1756.4h0M1554.1 1611.1h0M1552.3 1761.9h0M1555 1708h0M1552.4 1631.8h0M1558.2 1657.4h0M1565.7 1755.7h0M1553.8 1771.3h0M1552.1 1704.3h0M1554.3 1638.8h0M1553.8 1514.5h0M1564.1 1763.1h0M1555.2 1607.7h0M1571.2 1784h0M1562.7 1743.4h0M1562.9 1784h0M1556.7 1681h0M1565.2 1762.2h0"/>
<path stroke="#BDBDBD" d="M1554.1 1772.2h0M1563.8 1781.8h0M1553 1782.3h0M1563.1 1772.1h0M1553.7 1739.3h0M1565.4 1784.4h0M1560.4 1772.3h0M1563.6 1760.8h0M1553 1763.6h0M1557.7 1781.9h0M1565.7 1784.2h0M1566.5 1736.8h0M1560.2 1765.2h0M1566.2 1724.2h0M1565.8 1775h0M1551.1 1779.9h0M1560.3 1770.3h0M1557.6 1774.4h0M1547.7 1779h0M1563.6 1778.3h0M1576.3 1732.4h0M1552.2 1753.8h0M1566.6 1784.4h0M1563 1748.3h0M1560.2 1772.8h0M1550 1738.2h0M1570.2 1775.9h0M1564.4 1724.5h0M1557.8 1762.7h0M1561.4 1762.9h0M1556.2 1736.9h0M1550.4 1762.3h0M1561.5 1773.6h0M1565 1705.5h0M1553.5 1781.7h0M1553.5 1757.4h0M1554.4 1783.4h0M1566.3 1770h0M1558.4 1670.7h0M1557.1 1775.3h0"/>
<path stroke="#DC9BD6" d="M1552.3 1759.4h0M1561.1 1695.3h0M1561.4 1766.2h0M1562.7 1751.9h0"/>
<path stroke="#9A3AA3" d="M1577.3 1756.3h0M1568.9 1779.4h0"/>
<path stroke="#46A078" d="M1553.3 1741.5h0M1556.3 1731.4h0M1557.7 1716h0M1559.7 1772.8h0M1558.5 1697.7h0M1557.3 1780.3h0M1551.9 1741.4h0M1560.8 1784.4h0M1554.1 1742.7h0M1556 1776.5h0M1550.5 1773.5h0M1559.4 1773.1h0M1555.4 1714.8h0M1555.6 1689h0M1558.5 1779.8h0M1557.2 1755h0M1558.6 1660.4h0M1556.4 1753.3h0M1564.1 1715.7h0M1555.4 1721.2h0M1555.8 1735.7h0M1561.7 1766.6h0M1564 1783.8h0M1554.3 1773.9h0M1566.7 1783.9h0M1551.3 1707.7h0M1550 1777.2h0M1561 1772.9h0M1558.7 1741h0M1552.6 1694.4h0M1554.3 1723.9h0M1566.5 1744.3h0M1561.4 1747.5h0M1550.4 1767.8h0M1559.9 1699.3h0M1558.3 1693.8h0M1559.3 1771.4h0M1549.5 1782.3h0M1558.2 1779.1h0M1549.7 1778.4h0M1562.3 1763.6h0M1554.4 1739h0M1556.2 1746.1h0M1553.7 1780.1h0M1565.2 1766.7h0M1563 1774.9h0M1552.9 1784.4h0M1559.3 1622h0M1561.1 1740.4h0M1563.1 1666.4h0M1562.9 1720.5h0M1558.2 1780.8h0M1552.3 1777.9h0M1556.8 1749.2h0M1559.5 1762.1h0M1562.9 1683.4h0M1564.4 1715.3h0M1559.9 1707h0M1563 1782h0M1562.1 1669.9h0M1559.9 1781.6h0M1550.7 1717.8h0M1552.8 1749.7h0M1550.2 1778h0M1555.4 1778.9h0M1557.2 1629.5h0M1551.7 1759h0M1556.2 1670h0M1560.3 1778.7h0M1551.8 1704h0M1561.3 1777.4h0M1562 1735.1h0M1554.3 1780.5h0M1562.6 1780.6h0M1563.7 1771.8h0M1564.4 1762h0M1561.3 1723.6h0M1566.9 1774.4h0M1566.4 1783.8h0M1555.5 1773.2h0M1553.4 1773.3h0M1566 1769.6h0M1553.4 1784.4h0M1552 1778.7h0M1550.1 1763.7h0M1547.7 1782.9h0M1554.4 1701.7h0M1563.1 1771.3h0M1557.7 1703.8h0M1555.5 1756.8h0M1562.9 1738.9h0M1562.3 1731.3h0M1560.6 1780.5h0M1556.3 1725.3h0M1558.3 1728.6h0M1550.2 1784.4h0M1551 1729.1h0M1557.8 1727.4h0M1557.8 1784.4h0M1565.6 1772.3h0M1561.7 1653.9h0M1560.9 1784.4h0M1555.2 1762.1h0M1554.3 1722.1h0M1554.3 1770.7h0M1566.5 1754h0M1563 1738.8h0M1558.4 1698.7h0M1558.3 1746.5h0M1563.4 1784.4h0M1557 1753.3h0M1561.8 1648.9h0M1565.8 1754.6h0M1563.1 1718.2h0M1550.4 1781.7h0M1554 1784.4h0M1557.6 1752.2h0M1562.7 1733h0M1562 1695.2h0M1556.3 1702.3h0M1561 1713.5h0M1566.8 1773.4h0M1560.3 1674.5h0M1557.5 1737h0M1554.9 1769.9h0M1551.4 1783.6h0M1563.3 1763.1h0M1552.8 1705.2h0M1554.1 1699.3h0M1558 1771.5h0M1563.3 1752.4h0M1552.9 1771.6h0M1568.2 1776.8h0M1556.1 1779.2h0M1551 1761.1h0M1556.4 1709.8h0M1557.7 1784.4h0M1556.6 1758.8h0M1559.2 1770.3h0M1556.6 1730.6h0M1557 1752.8h0M1562 1734.6h0M1560.3 1745.6h0M1559.7 1773.3h0M1560.1 1741.5h0M1559.3 1755.5h0M1556 1782.6h0M1554.4 1753.3h0M1560.9 1723h0M1564.4 1765.8h0M1558.9 1699h0M1556.1 1752.3h0M1561.8 1734.7h0M1551.6 1742.9h0M1566.2 1759.3h0M1553.4 1775.5h0M1550.8 1760.4h0M1561.7 1727.9h0M1563.7 1764.6h0M1565.5 1779.8h0M1556.2 1778.1h0M1554.3 1756.1h0M1556.9 1782.9h0M1561.3 1658.6h0M1561.6 1776.4h0M1553.8 1727.5h0M1556.3 1769.8h0M1558.4 1751.7h0M1552.4 1769.6h0M1556.7 1729.1h0M1548.5 1779.4h0M1558.3 1784.2h0M1560.4 1629.2h0M1559.6 1748.2h0M1565.7 1784.2h0M1552.7 1690.2h0M1553.6 1769.4h0M1557 1749.8h0M1565.8 1778.4h0M1557.2 1694.8h0M1555.1 1753.5h0M1559.5 1657.9h0M1558.6 1648.2h0M1552.6 1783.4h0M1550 1780.4h0M1564.1 1689.9h0M1549.3 1778.5h0M1554.6 1709.2h0M1555.8 1735.3h0M1551.4 1763.3h0M1553.8 1775.3h0M1555.5 1757.6h0M1554.7 1778h0M1555.5 1761.2h0M1559.9 1773.7h0M1562.4 1765.4h0M1548.7 1764.8h0M1558.9 1757.6h0M1559.1 1767.9h0M1558.3 1600h0M1551.9 1742.4h0M1553.3 1741.3h0M1565.3 1739.3h0M1550.3 1733.9h0M1560.6 1735.1h0M1563.4 1772.4h0M1566.4 1776.2h0M1556.3 1770.4h0M1549.9 1782.1h0M1566 1736.5h0M1548.8 1763.9h0M1564.2 1768.9h0M1566.1 1740.1h0M1559.2 1621.7h0"/>
<path stroke="#CE3A53" d="M1556.5 1656.2h0M1554.7 1784.4h0M1552.7 1508.3h0M1565.3 1762.3h0M1557.5 1584.2h0M1554.8 1776.8h0M1553.5 1754.5h0M1548.8 1779.3h0M1554.5 1721.3h0M1550.9 1591.7h0M1550.2 1566h0M1552.4 1684.9h0M1557.8 1632.5h0M1566 1777.9h0M1561.1 1760.3h0M1557.3 1590.7h0M1559.5 1768h0M1558.7 1675.8h0M1566.6 1780.1h0M1557.7 1671.9h0M1556.8 1784.4h0M1547.4 1695.9h0M1555.7 1750.1h0M1553.8 1678.2h0M1549.8 1506.9h0M1554.6 1768.8h0M1554.1 1639.2h0M1559.7 1578.9h0M1552.6 1682.5h0M1556.4 1660.4h0M1554.2 1640.1h0M1557.5 1615.9h0M1551.6 1763.6h0M1548.6 1784.4h0M1571.2 1763.3h0M1565.9 1783.5h0M1552.2 1689.6h0M1556.1 1686.6h0M1550.2 1773.4h0M1552.1 1782.1h0M1552.7 1683.4h0M1558.1 1609.2h0M1573.6 1784.3h0M1557.6 1619.8h0M1557.5 1589.8h0M1549.8 1705.5h0M1551.3 1777.1h0M1557.4 1676.8h0M1563.1 1690.1h0M1561.9 1769.8h0M1549.9 1746h0M1559.9 1703.8h0M1550.5 1681.9h0M1558.6 1579.7h0M1554.2 1695.3h0M1556.2 1592.9h0M1556.1 1514.3h0M1556.9 1660.9h0M1562.6 1780.2h0M1547.5 1710.7h0M1556.4 1631.3h0M1557.7 1784h0M1553.1 1731.1h0M1549.6 1780.5h0M1568.2 1782.4h0M1562.2 1784.4h0M1550.8 1769h0M1564.4 1628.3h0M1553.7 1731.2h0M1553.4 1654.4h0M1558.1 1784.1h0M1551.1 1769.8h0M1550.2 1676.8h0M1551.1 1717.2h0M1558.3 1747.4h0M1561.7 1749.9h0M1556.4 1757.1h0M1560.1 1784h0M1558.3 1762.6h0M1555.5 1497.1h0M1552.6 1629.5h0M1553.4 1572.4h0M1552.4 1690.1h0M1550.2 1693.2h0M1564.2 1518.5h0M1554.3 1633.3h0M1549.8 1612.4h0M1558.4 1705.8h0M1554.7 1716.9h0M1557.5 1649.7h0M1551.8 1669.2h0M1553.9 1677.9h0M1562.6 1759.3h0M1551.5 1667.3h0M1559.2 1705.2h0"/>
<path stroke="#BDBDBD" d="M1564.8 1784.4h0M1567.2 1771.7h0M1563.2 1690.1h0M1552.5 1772.1h0M1565.4 1770.5h0M1556.6 1767.1h0M1565.7 1667.5h0M1563.9 1784.4h0M1563.6 1760.2h0M1566 1754.6h0M1550 1775.8h0M1567.1 1765.7h0M1559.4 1781.4h0M1554.1 1726.6h0M1567.6 1732.8h0M1569.4 1473h0M1552.3 1773.3h0M1556.1 1782.3h0M1569.8 1771.9h0M1552 1775.7h0M1550.1 1782.3h0M1562.9 1669.4h0M1555.8 1774.8h0M1550.1 1782.4h0M1551.2 1741.3h0M1560.1 1779h0M1552.6 1763.8h0M1590.6 1712.5h0M1556.4 1768.7h0M1547.4 1783.8h0M1560.2 1782h0M1563.9 1767.8h0M1562.8 1700.2h0M1565.2 1782.9h0M1557.6 1745.6h0M1551.3 1780.7h0M1560.6 1764.7h0M1562.5 1752.5h0M1562.8 1758.1h0M1556.3 1765h0M1560.9 1681.5h0M1558.2 1781.3h0"/>
<path stroke="#EDC75B" d="M1569.6 1780.8h0M1549.8 1782.9h0M1556.7 1772.4h0M1560.7 1772.3h0M1560.3 1780h0M1565.9 1781.2h0M1557.3 1784h0M1557.9 1751.4h0M1549.2 1757.5h0M1554 1784.4h0M1556.7 1771.4h0M1555.8 1716.8h0M1566.5 1771.9h0M1568.2 1784.4h0M1560.8 1745.4h0M1558 1778.2h0M1572.9 1784.4h0M1556.8 1744.3h0M1559.3 1783.8h0M1554.6 1773.8h0M1552.6 1733.8h0M1566.1 1769.4h0M1559.6 1767.1h0M1562.2 1764.9h0M1557.5 1773.3h0M1575.4 1778.7h0M1563.8 1773.7h0M1570 1769.1h0M1565 1756.6h0M1553.2 1748.2h0M1562.9 1784.4h0M1552.5 1776.6h0M1564 1782.2h0M1553.2 1784h0M1569.9 1778.1h0M1555.1 1765.4h0M1557.7 1754.1h0M1548.6 1772h0M1568.2 1754.4h0M1558.2 1784.4h0M1564.7 1740.8h0M1559.3 1771.4h0M1553.7 1768.5h0M1563.6 1780.9h0M1565.9 1753.8h0M1569.6 1779h0"/>
<path stroke="#DC9BD6" d="M1555.1 1769.2h0M1552.4 1777.2h0M1551.5 1715h0M1554.6 1739.8h0M1554.2 1720.6h0M1550.3 1492.8h0M1555.5 1771.2h0M1551.1 1771.5h0"/>
<path stroke="#9A3AA3" d="M1574.8 1776.5h0M1570.6 1782.4h0M1572.1 1783.6h0M1573.6 1777.4h0M1570.7 1783.7h0"/>
<path stroke="#46A078" d="M1553.7 1711.2h0M1552.9 1710.1h0M1556.1 1654.1h0M1561.8 1717.4h0M1565.2 1746.8h0M1563.3 1746.5h0M1564.6 1705.1h0M1560.9 1713h0M1560.4 1777.8h0M1561.5 1784.4h0M1551.9 1783.7h0M1551.7 1779h0M1562.2 1605.6h0M1553.8 1766h0M1556 1741.1h0M1561 1740.1h0M1552 1738h0M1563.7 1642.3h0M1549.5 1782.7h0M1565.8 1723.6h0M1558.3 1777h0M1552.5 1750.3h0M1552.5 1766.4h0M1554.6 1765.9h0M1563.6 1771.5h0M1549.4 1772.6h0M1566.1 1762.9h0M1563.3 1625h0M1554.8 1730.5h0M1558.7 1728.6h0M1551.6 1772.5h0M1558.4 1784.4h0M1556.1 1723.6h0M1557.1 1777.6h0M1556.2 1782.5h0M1561.6 1773.4h0M1564.6 1771.7h0M1557.7 1760.8h0M1561.4 1757h0M1563.9 1776.4h0M1553.7 1781.7h0M1561.2 1773.4h0M1550.9 1714.4h0M1555.2 1744.6h0M1550.4 1757.3h0M1556.7 1774.2h0M1551.2 1758.9h0M1564.2 1742.6h0M1550.5 1752.4h0M1559.4 1758.6h0M1559.9 1778.3h0M1558.9 1733h0M1558.6 1782h0M1561.8 1780h0M1555.5 1691.9h0M1562.5 1716.6h0M1563.5 1764h0M1552.9 1755.4h0M1554.1 1767.1h0M1548.7 1765.4h0M1560.7 1767.5h0M1551.6 1734.2h0M1559 1696.6h0M1557.9 1678.8h0M1556.9 1722.4h0M1561.7 1783.5h0M1561.6 1754h0M1551.9 1729.5h0M1557 1764.5h0M1556.2 1784.4h0M1550 1766.4h0M1562.1 1784.4h0M1565.2 1778.8h0M1556.1 1756.7h0M1559.5 1657.5h0M1554.3 1782.2h0M1558.8 1745.7h0M1563.9 1783h0M1549.9 1754h0M1556.6 1759.8h0M1556.1 1767.2h0M1564.6 1739.9h0M1555.6 1767.7h0M1556.5 1735.2h0M1564 1683.6h0M1556.8 1628.4h0M1557.5 1710.8h0M1561.6 1744.3h0M1552.5 1722.5h0M1556.4 1780.3h0M1565 1773.3h0M1554.7 1693.5h0M1551 1754.6h0M1553.9 1775.5h0M1552.9 1687.7h0M1559.4 1743.4h0M1564.2 1744.2h0M1554.5 1750h0M1559.8 1781.2h0M1561.7 1718.3h0M1558.3 1732.1h0M1557.6 1611.1h0M1564.9 1731.2h0M1565 1707.3h0M1550 1738.1h0M1552.8 1769.2h0M1554.8 1753.3h0M1562.9 1770.7h0M1556.2 1678.6h0M1554.3 1784.4h0M1560.1 1735.8h0M1553.1 1774.7h0M1554 1778.1h0M1561.8 1671.7h0M1563.5 1783.5h0M1557.2 1697.1h0M1560.3 1768.7h0M1549.4 1767h0M1556.7 1741.8h0M1556.5 1754.6h0M1562.7 1755.8h0M1561.6 1719.5h0M1552.5 1778.2h0M1555.8 1708h0M1557.4 1716.3h0M1549.6 1779.2h0M1556.5 1732.6h0M1560 1743.6h0M1561.1 1754.2h0M1549.4 1756.7h0M1556.6 1617h0M1556.8 1729.9h0M1559.9 1767.7h0M1561.4 1768.1h0M1561.1 1780.9h0M1559.7 1688.5h0M1552.2 1752.8h0M1559.4 1719.6h0M1557 1737.7h0M1563.9 1770.8h0M1562.3 1686h0M1562.8 1671.7h0M1560 1603.8h0M1553.7 1688.1h0M1563.3 1763.4h0M1553.3 1754.5h0M1559.5 1714.9h0M1560.7 1597.4h0M1560.7 1657.1h0M1554.5 1681.9h0M1550.5 1781.6h0M1550.7 1749h0M1547.7 1780.8h0M1552.8 1751.9h0M1548.7 1768.2h0M1548.7 1777.8h0M1555 1707.3h0M1560.2 1762.5h0M1561.3 1658.4h0M1561.9 1767.7h0M1563.5 1689h0M1565.8 1764.9h0M1553.3 1784.4h0M1551.3 1773.3h0M1566.4 1781.6h0M1557.6 1773h0M1562.7 1733.1h0M1560.9 1711.1h0M1555.8 1784.4h0M1561.9 1728.7h0M1564.3 1703.5h0M1557.7 1714.3h0M1551.2 1734.7h0M1555.8 1763.7h0M1560.1 1729.5h0M1553 1772.1h0M1551.7 1780h0M1558.8 1784.4h0M1551.4 1761.9h0M1552.3 1716.4h0M1548.3 1777h0M1557.6 1748.2h0M1563.3 1695.1h0M1564.9 1768.5h0M1559.2 1729.7h0M1564.4 1740.7h0M1549.8 1784.4h0M1566.7 1766.3h0M1558.1 1769.8h0M1557.4 1774.1h0M1567.9 1782.4h0M1549.9 1755h0M1555.4 1778.5h0M1555.2 1733.9h0M1560 1784.4h0M1563.2 1763.1h0M1559.4 1692.2h0M1557.2 1774.7h0M1564.7 1703.8h0"/>
<path stroke="#CE3A53" d="M1551.9 1674.8h0M1556.8 1604.1h0M1550.8 1668.1h0M1555 1695.2h0M1566.1 1784.4h0M1557.5 1770.7h0M1550.3 1781.4h0M1550 1598.6h0M1548.3 1673.5h0M1553.4 1757h0M1553 1652.2h0M1559.6 1664.3h0M1556.4 1629h0M1557.7 1549.1h0M1563 1774h0M1549.1 1669.8h0M1558.6 1769.5h0M1556.4 1676h0M1554.1 1698.9h0M1556.4 1652.7h0M1564.6 1598.6h0M1559.8 1770.1h0M1549.1 1767.6h0M1555.6 1600.8h0M1554.1 1696.2h0M1555.3 1565.5h0M1549.9 1713.9h0M1554.3 1647.1h0M1572.2 1783.6h0M1554.1 1535.8h0M1550.2 1765.3h0M1552.8 1628.5h0M1550.8 1718.3h0M1568.6 1747.7h0M1550.3 1537.3h0M1565.7 1731.7h0M1555.6 1780.1h0M1562.2 1730.2h0M1548.1 1775.2h0M1557.1 1713h0M1550.8 1778.9h0M1555.7 1738.2h0M1553.6 1705.4h0M1557.4 1617.8h0M1547.6 1516h0M1559.1 1737.9h0M1558.6 1658.2h0M1556.8 1652.4h0M1558.3 1633.6h0M1556.3 1650.5h0M1562.8 1768.2h0M1567.3 1781.6h0M1569.9 1782.6h0M1557.4 1733.1h0M1554.8 1736.2h0M1557.1 1599.9h0M1561.6 1755.3h0M1558.4 1745.3h0M1565.9 1760.9h0M1566.9 1784.4h0M1550.2 1667.3h0M1560.3 1676.8h0M1562.3 1783.4h0M1552.9 1632.1h0M1557.4 1662.9h0M1557.2 1673.3h0M1550.6 1667.7h0M1549.2 1769.8h0M1566.4 1732.6h0M1555.2 1755.8h0M1554.4 1662.6h0M1556.2 1772.3h0M1554.6 1764.1h0M1552.8 1673.4h0M1549.2 1779.7h0M1558.2 1750.6h0M1556.2 1658.9h0M1555.6 1501.9h0M1560 1659.6h0M1566.5 1732.3h0M1553.5 1737.8h0M1573.6 1784.4h0M1570.1 1777.9h0M1554.2 1719.5h0M1548.3 1694.7h0M1547.4 1689.9h0M1553.4 1783h0M1549.4 1718.1h0M1560.9 1639.4h0M1564.4 1740.7h0M1557.3 1784.2h0M1568.7 1769.2h0M1549.7 1619.1h0M1558.5 1603.4h0M1566.3 1728.7h0M1550.5 1774.8h0M1557.6 1508h0M1552.6 1774.1h0M1556.2 1756.2h0M1557.5 1653.2h0M1554.5 1676.4h0M1556.6 1651.2h0M1562.1 1772.6h0M1553 1648.6h0M1553.4 1656.8h0M1552.9 1621.7h0M1567.2 1783.3h0M1551.9 1720h0M1556.1 1631.9h0M1554.7 1780.2h0M1567.3 1779.9h0M1548.5 1624.5h0M1557.5 1621.3h0M1549.1 1782.4h0M1561.1 1633.1h0M1561 1784.1h0M1551.7 1699.9h0"/>
<path stroke="#EDC75B" d="M1559.3 1780.2h0M1556.1 1770.1h0M1557.6 1769.7h0M1553.3 1775.2h0M1577.3 1764.6h0M1553.8 1726.9h0M1568 1781h0M1569.3 1784.4h0M1548.6 1784.4h0M1550.7 1760.6h0M1551.7 1784.4h0M1566.5 1784.4h0M1557.4 1745.7h0M1568.5 1776.5h0M1553.2 1773h0M1550 1780.4h0M1564 1779h0M1559.2 1758.1h0M1556.2 1768.1h0M1569.2 1780.2h0M1556.4 1769.8h0M1550.3 1748.6h0M1555.5 1779h0M1548.5 1779.5h0M1562.8 1742.2h0M1569.9 1769.7h0M1553.4 1776.6h0M1557.9 1759.5h0M1565.8 1782.9h0M1553.8 1781.7h0M1562.8 1757.8h0M1554.2 1774.4h0M1559.7 1721.8h0M1552.8 1773.6h0M1564.3 1729.9h0M1560.1 1715.2h0M1561.6 1776.7h0M1561.9 1761.3h0M1557.9 1735.1h0M1568.8 1761.7h0"/>
<path stroke="#BDBDBD" d="M1553.9 1780.5h0M1562.9 1765.1h0M1554.3 1769.3h0M1550.5 1777.5h0M1562.8 1706.6h0M1553 1736h0M1560.1 1775.9h0M1564 1742.1h0M1566.8 1756h0M1558.6 1778.2h0M1552.4 1770.5h0M1563.9 1756.7h0M1569 1736.5h0M1562 1731.4h0M1557 1758h0M1558.9 1782.7h0M1559 1769.1h0M1553.6 1670.2h0M1554 1764h0M1562.5 1769h0M1552.3 1777.4h0M1554.1 1769.3h0M1552.7 1753.2h0M1564.4 1773.2h0M1552.4 1331.8h0M1568.4 1765.2h0M1549.9 1765.6h0M1564.3 1775.3h0M1550.9 1738.5h0M1549.3 1776.8h0M1554.8 1762.9h0M1561 1736.1h0M1553 1766h0M1558.9 1740.5h0M1562.4 1740.5h0M1554.4 1777.2h0M1563.4 1764.7h0M1568.8 1755.2h0M1569.2 1783.2h0M1554.6 1754.9h0M1552.4 1748.7h0M1557.1 1749.4h0M1551 1782.8h0M1565.7 1766.2h0M1565.4 1758.3h0"/>
<path stroke="#DC9BD6" d="M1563.4 1713.4h0M1549.8 1754.2h0M1562.9 1712.7h0M1559.3 1743.3h0M1551.2 1738.5h0M1563.7 1782.4h0"/>
<path stroke="#9A3AA3" d="M1572.6 1765.9h0M1571.9 1783.6h0M1573.4 1776.1h0"/>
<path stroke="#46A078" d="M1558.2 1784h0M1557.6 1776.9h0M1557.5 1735.3h0M1554.9 1729.5h0M1558.1 1731.8h0M1552.3 1742.5h0M1550.6 1764.1h0M1554.8 1752.6h0M1554.3 1731.5h0M1552.7 1737.9h0M1562.1 1736.5h0M1552.5 1750.4h0M1558.5 1629.5h0M1549.1 1780.2h0M1557.7 1784.4h0M1553.2 1768.5h0M1551 1738.1h0M1553 1693.2h0M1563.7 1780h0M1556.4 1756.5h0M1553.9 1672.3h0M1558.3 1760.4h0M1562.9 1777.1h0M1552.2 1766.2h0M1562.3 1780.5h0M1548.2 1767.4h0M1553.5 1776.4h0M1556.6 1777.2h0M1557.6 1773.2h0M1561.6 1769.8h0M1561.6 1730.3h0M1553.9 1758.3h0M1556.6 1764.1h0M1553.8 1736.2h0M1563.7 1776h0M1557.2 1742h0M1557 1760.9h0M1549.4 1753.6h0M1553.5 1775.8h0M1552.2 1764.4h0M1556.8 1657.3h0M1551.8 1768.2h0M1565.2 1778h0M1561.2 1761.1h0M1558.4 1696.9h0M1555.4 1767h0M1555.6 1779.9h0M1554.1 1762.1h0M1559.8 1769.1h0M1557.6 1718.8h0M1565.6 1753h0M1562.8 1753.5h0M1548.2 1780.7h0M1557.6 1753.6h0M1562.1 1681.2h0M1563.7 1784.4h0M1554.9 1722.2h0M1553.8 1695.2h0M1559 1751.4h0M1562.4 1741.5h0M1553.3 1773.2h0M1553.7 1728.2h0M1553.8 1726.4h0M1552.7 1713h0M1558.4 1771.4h0M1553.4 1705.5h0M1564.1 1756.2h0M1549.2 1781.7h0M1552.9 1730.1h0M1564.1 1763.2h0M1553.9 1746.7h0M1562.4 1739.5h0M1564.9 1781h0M1554.3 1780.3h0M1556.7 1784.4h0M1555.3 1784.2h0M1565.5 1725.8h0M1563.9 1749.1h0M1558.1 1710.8h0M1566.8 1746.6h0M1549.2 1769.5h0M1565 1704.9h0M1559.9 1784.4h0M1555.3 1748.8h0M1564.1 1782.6h0M1557.6 1679.1h0M1563.3 1694.8h0M1557.1 1781.7h0M1556.9 1756h0M1557.2 1784.3h0M1566.7 1754.2h0M1560.9 1717.9h0M1549.3 1746.4h0M1550 1782.2h0M1551.7 1777.6h0M1561.3 1784.4h0M1568 1773.9h0M1561.8 1630.1h0M1557.8 1718.4h0M1551.7 1766.6h0M1552.3 1784.4h0M1554 1784.4h0M1561.7 1729.6h0M1556.1 1778.1h0M1559.4 1738.9h0M1557.2 1765.1h0M1556.3 1696.6h0M1552.5 1779h0M1564.5 1687.3h0M1551 1713.1h0M1559.2 1762.3h0M1566.3 1773h0M1552.4 1748.3h0M1556.7 1766h0M1558.9 1771.6h0M1565.9 1760.7h0M1562.8 1763h0M1552 1765.2h0M1557.3 1724h0M1563.2 1706.9h0M1547.7 1779.1h0M1553.4 1743.5h0M1553.9 1749.6h0M1564.1 1775.8h0M1564.3 1768.2h0M1562.2 1679.6h0M1559 1699.2h0M1549.9 1771.1h0M1557.9 1784.4h0M1560.1 1709.1h0M1558.1 1740.9h0M1551.1 1773.6h0M1555.4 1756.7h0M1550.5 1751h0M1554.4 1756.3h0M1557 1694.8h0M1565.8 1757h0M1554.6 1702.2h0M1562.5 1767h0M1553 1724.6h0M1553.5 1721.5h0M1561 1783h0M1559.6 1723.1h0M1549.7 1766h0M1548.8 1776.2h0M1550.8 1768.4h0M1556.6 1678.4h0M1554.1 1782.4h0M1554.5 1648.9h0M1562 1769.6h0M1563.7 1760.8h0M1562.6 1784.4h0M1561.4 1759.9h0M1557.1 1774h0M1563.4 1741.5h0M1553.5 1709.9h0M1558.8 1745.1h0M1550.2 1776.5h0M1564.6 1724h0M1552.5 1773.7h0M1563.7 1750h0M1560.7 1755.6h0M1553.8 1745h0M1559.5 1731.4h0M1558 1764.8h0M1562.3 1735.3h0M1549.6 1756.7h0M1555.1 1784.1h0M1554.7 1780.1h0M1565.6 1750.3h0M1557.4 1735.2h0M1557.1 1761.1h0M1564 1735.5h0M1565.4 1763.6h0M1567.3 1783.9h0M1560.2 1688.7h0M1562.4 1609.2h0M1552.9 1752.7h0M1556.9 1769.8h0M1560.3 1783.5h0M1553.5 1770.3h0M1562 1739.2h0M1562.2 1742.3h0M1561.6 1746.6h0M1558.4 1767.5h0M1567.2 1766.9h0M1562.9 1784.4h0M1558.8 1748.2h0M1555.5 1700.5h0M1557.9 1722.4h0M1562.6 1732.8h0M1557.4 1779.1h0M1564.3 1697h0M1549.3 1769.2h0M1562.5 1771.6h0M1551.7 1745.4h0M1550.5 1764.4h0M1557 1784.4h0M1555.5 1715.4h0"/>
<path stroke="#CE3A53" d="M1562.9 1753.2h0M1554.7 1677.3h0M1556.3 1757h0M1555.6 1693.8h0M1552.1 1766.1h0M1560.2 1775.7h0M1562.5 1512.6h0M1551.7 1776.4h0M1553.9 1727.2h0M1559.7 1726.5h0M1555.9 1656.4h0M1556.6 1664.3h0M1552.5 1645h0M1557.2 1772.5h0M1556.7 1614.6h0M1564.2 1761.4h0M1559.8 1700.4h0M1566.7 1784.4h0M1568.9 1782.5h0M1557.6 1773.5h0M1560.2 1694.4h0M1549.3 1552.3h0M1562.4 1745.1h0M1556 1627.5h0M1556.2 1693.6h0M1549.9 1782.2h0M1564.3 1784.4h0M1552.6 1672.7h0M1553.1 1538h0M1558.3 1755.8h0M1557.8 1687.6h0M1554 1649.6h0M1550.3 1454.8h0M1553.1 1784.4h0M1558.1 1776h0M1556.1 1689.8h0M1558.3 1679.7h0M1549.2 1498.6h0M1563.7 1729.1h0M1552 1784.4h0M1568.6 1748.9h0M1558.9 1644.9h0M1559.7 1670.1h0M1550.8 1689h0M1563.1 1779.1h0M1563.6 1667h0M1556.6 1646.7h0M1550.5 1693.9h0M1555.4 1578.9h0M1554 1553.8h0M1555.5 1761.2h0M1557.8 1724.8h0M1550.6 1750.2h0M1563.7 1765.7h0M1549.4 1646.5h0M1561 1662.8h0M1551.5 1774.4h0M1554.5 1779.8h0M1563.4 1759.5h0M1554.9 1669.7h0M1569.6 1772.8h0M1554.7 1534h0M1555.4 1612.8h0M1550.7 1635.1h0M1552 1710.7h0M1555.7 1650.5h0M1551.9 1673h0M1558 1757.8h0M1562.1 1635.7h0M1558.9 1598.3h0M1549.3 1681.1h0M1559.2 1645.8h0M1561.9 1749.5h0M1550.5 1695.2h0M1552.7 1626.3h0M1549.3 1600.7h0M1569.6 1773.8h0M1548.4 1692.6h0M1553.4 1593.8h0M1566.5 1775.9h0M1568.8 1766.8h0M1549.5 1676.8h0M1548.5 1685.1h0M1548.7 1776h0M1551 1595.8h0M1559.1 1534.3h0M1550.5 1582.2h0M1560.7 1767.9h0M1554.2 1731.9h0M1551.6 1784.4h0M1561.6 1781h0M1556.6 1661.8h0M1560 1779.3h0M1552.2 1772.8h0M1550.5 1643.4h0M1561 1763.8h0M1550.2 1622h0M1566.4 1754.1h0M1563.2 1651h0M1551.6 1547.2h0M1551.6 1778.5h0M1555.9 1760.8h0M1552.1 1665h0M1555.7 1744h0"/>
<path stroke="#EDC75B" d="M1554.4 1742.2h0M1554.6 1728.4h0M1557.1 1781.8h0M1557.2 1781.6h0M1568.3 1780.8h0M1552.4 1775.3h0M1551.4 1765.4h0M1572.8 1783.5h0M1564.6 1777.3h0M1553.9 1715.6h0M1552.3 1771.1h0M1557.3 1740.9h0M1550.5 1783.3h0M1568.6 1768.1h0M1555.1 1749.1h0M1563.7 1777.6h0M1576.3 1784.3h0M1567.7 1768.9h0M1569.7 1784.4h0M1549.7 1759.5h0M1565.2 1781.5h0M1573.5 1784.4h0M1564.1 1778.2h0M1553 1780.3h0M1573.3 1781.2h0M1578.8 1784.3h0M1557 1770.8h0M1561.3 1773.8h0M1564 1751.5h0M1563.6 1775h0M1551.9 1780.9h0M1555.6 1747.2h0M1549 1775.4h0M1553.8 1748.1h0M1564.3 1761.9h0M1549.9 1773.2h0M1572 1780.4h0M1550.7 1756.4h0M1558.2 1771.2h0M1563.5 1781h0M1560.4 1784.4h0M1568.6 1774.4h0M1557.8 1763.4h0M1554 1749.4h0M1549 1784.4h0"/>
<path stroke="#BDBDBD" d="M1565.8 1782.8h0M1564.5 1760.9h0M1554.3 1784.4h0M1563.2 1754.6h0M1565.7 1744h0M1559.8 1783.6h0M1565.5 1778.7h0M1567.4 1767.9h0M1554.1 1761.3h0M1557.1 1784.4h0M1567.1 1784.4h0M1560.5 1769.2h0M1564.7 1783.4h0M1553.5 1742.6h0M1558.8 1780.6h0M1561.6 1765.8h0M1567.8 1737h0M1559.8 1762h0M1551.9 1776.2h0M1558 1699.9h0M1562.4 1767.2h0M1555.4 1735.3h0M1555.2 1770.9h0M1556.3 1784.4h0M1557.8 1763.1h0M1562.7 1761.3h0M1569 1776.9h0M1564.4 1719.8h0M1551.3 1745.1h0M1558 1654.3h0M1564.3 1784.4h0M1567.8 1772.6h0M1558.1 1769.3h0M1554.6 1765.7h0M1562 1753.9h0M1559.4 1779.6h0M1558.2 1670.2h0M1550.7 1746.4h0M1563.7 1736.9h0M1561.6 1773.7h0M1571.4 1784.1h0M1551.3 1759.4h0M1551.2 1758.3h0M1558.3 1779.7h0"/>
<path stroke="#DC9BD6" d="M1550.9 1777.9h0M1558.4 1710.7h0M1549.3 1774.5h0M1567.6 1767.3h0M1561 1741.4h0M1555.7 1704.2h0M1557.1 1760.4h0M1557.8 1659.9h0M1550.5 1754.5h0M1558.1 1760.6h0M1554.7 1693.8h0M1557.1 1757h0"/>
<path stroke="#9A3AA3" d="M1566.8 1771.3h0M1573.3 1769.3h0M1572.7 1775.2h0M1567.1 1780.5h0M1569.6 1763.6h0M1577.8 1758.9h0"/>
<path stroke="#46A078" d="M1555.7 1627.2h0M1562.4 1751.8h0M1563.8 1740.3h0M1557.8 1736h0M1557.8 1727.1h0M1549.6 1771h0M1562 1745.4h0M1556.3 1607.9h0M1557.7 1780.8h0M1555.4 1690.6h0M1553.3 1732h0M1557 1705.9h0M1560.9 1781.7h0M1557.9 1780.4h0M1555.6 1711.5h0M1557.9 1765.5h0M1556.7 1750.1h0M1553.6 1720.3h0M1561.7 1626.3h0M1562.9 1777.2h0M1560.7 1784.4h0M1556.5 1771.2h0M1563.9 1756.5h0M1556 1757.4h0M1553.4 1713.7h0M1566.2 1780.5h0M1551.1 1735h0M1558.9 1715h0M1560.9 1703.9h0M1557.5 1671h0M1555 1760.3h0M1555.1 1782.3h0M1566.5 1744.9h0M1553.7 1784.4h0M1549.4 1776.1h0M1556.2 1753.5h0M1555.2 1768.5h0M1564.9 1750.6h0M1560.3 1773.4h0M1560.3 1725.9h0M1549.6 1773.4h0M1553.8 1742.6h0M1554.3 1673.4h0M1558.7 1738.9h0M1548.5 1768.1h0M1560.5 1606.1h0M1557.5 1720.3h0M1557.4 1746.3h0M1549.7 1738.8h0M1556 1767.5h0M1554.6 1769.8h0M1560.8 1764h0M1550.9 1736.6h0M1555.9 1770.7h0M1562.4 1784.2h0M1558.5 1766.4h0M1555.7 1703.1h0M1548.6 1768.5h0M1556.6 1735.3h0M1558.4 1738.3h0M1564.1 1776.9h0M1551.8 1773.9h0M1555.3 1709.5h0M1562.8 1776.5h0M1560.7 1757.5h0M1560.4 1784.4h0M1560.1 1776.4h0M1560.9 1778.7h0M1556.8 1754.2h0M1554.8 1732.5h0M1557.7 1784.4h0M1566 1751.6h0M1553.3 1751h0M1561.9 1673.9h0M1564 1773.1h0M1552.6 1737.8h0M1552.8 1765.8h0M1554.9 1774.7h0M1567.4 1756.4h0M1560.9 1717.9h0M1558.7 1772.3h0M1552.7 1776.7h0M1555.9 1709.2h0M1551.5 1784.4h0M1565.9 1776.7h0M1553.5 1784.4h0M1557.5 1690.7h0M1558.8 1749.6h0M1559.2 1663.3h0M1558.5 1743.9h0M1548.6 1779.2h0M1560 1777.6h0M1555.1 1707.4h0M1555.2 1704.2h0M1560.6 1743.5h0M1554.7 1731.5h0M1554.7 1743.9h0M1562.5 1781.4h0M1560.1 1762.6h0M1550 1764.9h0M1553 1746.4h0M1561.5 1670.3h0M1557.9 1726.5h0M1554.8 1776.2h0M1555.1 1674.8h0M1559 1692.1h0M1562.2 1740.3h0M1562.8 1777.6h0M1566.1 1783.9h0M1563.5 1784.4h0M1549.2 1777.4h0M1551 1747.6h0M1560.7 1752.4h0M1557.8 1777.3h0M1553.2 1749.7h0M1559 1701.3h0M1564.4 1784.4h0M1553.7 1757.1h0M1561.6 1709.7h0M1555.4 1751.5h0M1554.8 1757.4h0M1561.3 1767.7h0M1566.2 1736.4h0M1562.7 1633.5h0M1554.9 1685.2h0M1559.1 1736h0M1553.5 1693h0M1561.7 1778.3h0M1553.9 1784.4h0M1561.2 1780.8h0M1553.3 1769.4h0M1557.2 1780.8h0M1554.2 1744.6h0M1568.2 1778.1h0M1556.2 1768.2h0M1560.2 1668.2h0M1551.1 1766.8h0M1558.3 1774.6h0M1556.1 1709.2h0M1566.7 1784.4h0M1560.5 1599h0M1564.7 1738.7h0M1562.7 1735.9h0M1567.1 1762.9h0M1558.1 1693h0M1559.8 1711.9h0M1559.4 1726.7h0M1563.8 1640.1h0M1561.3 1671.4h0M1556.7 1713.4h0M1550.1 1774.2h0M1558 1771.5h0M1560.5 1646.9h0M1563 1740.5h0M1564.4 1784.4h0M1562.9 1687h0M1553.6 1758.3h0M1556.9 1651.5h0M1562.1 1680.7h0M1548.4 1771.3h0M1566 1765.6h0M1556.6 1777.1h0M1561 1763h0M1549.9 1784.4h0M1562.9 1770.6h0M1555.5 1747h0M1551.5 1764.7h0M1550.7 1781.9h0M1554.3 1762.8h0M1562.2 1765.1h0M1554.2 1741h0M1553.7 1714.5h0M1562.1 1755.5h0M1550.1 1784.4h0M1560.8 1718.1h0M1568.4 1780.4h0M1551.9 1752.6h0M1552.9 1725.3h0M1559.7 1739.2h0M1565.1 1743.1h0M1554.9 1730.3h0M1562.9 1637.2h0M1564.3 1757.2h0M1552 1741.1h0M1559 1773.1h0M1566.6 1739.9h0M1553.5 1776.7h0M1560.8 1759.2h0M1563.4 1777.1h0M1564.6 1744.9h0M1556.7 1784.4h0M1559.5 1731.5h0M1559.9 1780.3h0M1560.5 1784.4h0M1555.1 1771.1h0M1564.4 1776.4h0M1550.1 1759.2h0M1555.7 1755.1h0M1550.7 1758.9h0M1560.8 1766.8h0M1555.2 1688.8h0M1559.8 1751.3h0M1551.7 1753.4h0M1567.1 1768.3h0M1557.5 1752.3h0M1557 1742h0M1555.9 1780.4h0M1557 1784.4h0M1560.3 1770.9h0M1561.6 1599.9h0M1559.8 1758.8h0M1561.1 1783.4h0M1564.8 1777h0M1567.7 1776.4h0M1563 1741.9h0M1550 1754.5h0M1555.1 1753.9h0M1554.2 1714.8h0M1551.3 1766.5h0M1559.9 1651.6h0M1555.3 1784.4h0M1564.7 1733.1h0"/>
<path stroke="#BDBDBD" d="M1561.8 1757.4h0M1560.8 1757h0M1555.3 1784.4h0M1562.9 1694h0M1550.3 1751.1h0M1562.8 1779.2h0M1568.1 1734.4h0M1552.3 1773.5h0M1563.5 1742.1h0M1564.3 1757.4h0M1561.8 1771.3h0M1551.5 1739.6h0M1547.7 1778.2h0M1565.1 1784.4h0M1553.2 1761.6h0M1550.2 1784.4h0M1549.2 1784.4h0M1552.5 1777.8h0M1554.8 1755.6h0M1557.5 1779.5h0M1560.3 1778.6h0M1561.7 1759.1h0M1550.3 1769.2h0M1554.3 1765.8h0M1558.3 1693.7h0M1565 1725h0M1567.7 1730.8h0M1558.8 1681.1h0M1559 1768.9h0M1565.8 1762.9h0M1561.2 1761.1h0M1553.1 1752.1h0M1549.2 1763.4h0M1552.6 1777.5h0M1550.5 1762.7h0M1564.9 1770.8h0M1567.4 1784.4h0M1561.9 1765.8h0"/>
<path stroke="#EDC75B" d="M1557.1 1745.4h0M1564.2 1777.3h0M1562.6 1723.3h0M1550.2 1780h0M1565 1773.2h0M1571.1 1775.9h0M1571.9 1784.4h0M1548.1 1780h0M1575.9 1783.9h0M1567.5 1777.3h0M1569.9 1781h0M1567.3 1781.7h0M1577.9 1743.1h0M1563.4 1752.9h0M1573.8 1773.1h0M1566.3 1783.9h0M1552.9 1764.6h0M1556.2 1740.3h0M1555.6 1783.8h0M1564.4 1741.5h0M1561.9 1760.8h0M1563 1784.4h0M1590.1 1779.4h0M1556.1 1767.9h0M1559.6 1712.6h0M1558.9 1774.6h0M1559.2 1784.3h0M1564.5 1762h0M1559.8 1775.3h0M1567.3 1784.4h0M1557 1746.4h0M1565.5 1778.4h0M1565.8 1750.5h0M1550.7 1741.9h0M1568.3 1778.9h0M1551.1 1742.7h0M1566 1777h0M1560.9 1782.3h0"/>
<path stroke="#CE3A53" d="M1572.5 1775.9h0M1569.1 1771.1h0M1572.8 1781.5h0M1559 1784.4h0M1555.9 1647.1h0M1550.4 1784.4h0M1551.3 1687.6h0M1557.6 1659.8h0M1554.1 1735.9h0M1560.3 1766h0M1551.5 1643.1h0M1564.2 1767.3h0M1562.5 1715.2h0M1548.5 1646h0M1558.6 1728.1h0M1557.9 1764.1h0M1553.7 1657h0M1552.9 1508.1h0M1553.4 1768.6h0M1555.2 1651.1h0M1553.6 1596.8h0M1556.6 1776.4h0M1552.7 1706.3h0M1556.9 1765.5h0M1561 1784.4h0M1553.2 1639.6h0M1558.1 1783.2h0M1553.7 1683.2h0M1558.2 1747.8h0M1559.2 1770h0M1551 1583.2h0M1550.4 1718.4h0M1563.8 1737.6h0M1547.9 1553h0M1551.1 1659h0M1556.6 1614.6h0M1557.5 1638.2h0M1548.7 1440.8h0M1571.6 1784h0M1548.8 1552.5h0M1557.7 1560.1h0M1565.5 1784.2h0M1564.7 1780.1h0M1556.4 1717.1h0M1556.3 1572.6h0M1555.7 1768.6h0M1552.4 1708.9h0M1555.2 1710h0M1554.1 1494h0M1562.1 1701.3h0M1564.9 1775.5h0M1560.8 1766.1h0M1557.2 1649.7h0M1555 1741.2h0M1552 1536.2h0M1551.5 1537.7h0M1561.1 1686.6h0M1550.3 1699.4h0M1553.5 1771.7h0M1560.8 1778.8h0M1550.7 1746.1h0M1562.6 1770.6h0M1558.7 1676.1h0M1552.6 1634.9h0M1549.7 1784.4h0M1560.4 1778.4h0M1558.8 1693.6h0M1554.6 1672.5h0M1554.3 1529.7h0M1589.5 1599.4h0M1556.6 1629.4h0M1555.3 1723.4h0M1561.2 1564h0M1553.4 1646h0M1552.4 1756.6h0M1552.9 1610.5h0M1551.6 1763.1h0M1561.2 1778.9h0M1570.3 1771.9h0M1556.5 1639h0M1557.4 1755.6h0M1555.8 1659.1h0M1552.9 1729.2h0M1560.2 1766h0M1552.2 1684.8h0M1549.1 1669.4h0M1557.2 1724.2h0M1560.6 1637.4h0M1558.1 1776.4h0M1554.3 1673h0M1554 1677.6h0M1562.6 1700.9h0M1555.7 1685.1h0M1551.4 1623.3h0M1564 1784.4h0M1563.3 1713.9h0M1549.2 1680.8h0M1556 1644.7h0M1549.8 1583.4h0M1548.7 1670.3h0M1571.7 1783.8h0"/>
<path stroke="#DC9BD6" d="M1562.9 1751.7h0M1563.3 1776.4h0M1563 1765.9h0M1561 1784.3h0M1557.9 1770.9h0M1560.9 1782.6h0M1559.5 1731h0M1550.5 1742.1h0"/>
<path stroke="#9A3AA3" d="M1567 1774.6h0M1569.4 1779.7h0M1574 1777.2h0"/>
</g>
<rect x="1774.5" y="1641" width="220.2" height="152.7" fill="#fff"/><path d="M1532.7 1806.8L1850.7 1311.8" stroke="#000" stroke-width="1.5"/>
<rect x="1524.7" y="1311.8" width="496.1" height="495" fill="none" stroke="#333" stroke-width="1.5"/>
<path d="M1547.1 1806.8v3.4M1653.2 1806.8v3.4M1759.3 1806.8v3.4M1865.4 1806.8v3.4M1971.5 1806.8v3.4M1524.7 1784.4h-3.4M1524.7 1619.2h-3.4M1524.7 1454h-3.4" stroke="#333" stroke-width="1.5" fill="none"/>
<g font-size="18.9" fill="#4d4d4d">
<text x="1547.1" y="1826.6" text-anchor="middle">0</text>
<text x="1653.2" y="1826.6" text-anchor="middle">20</text>
<text x="1759.3" y="1826.6" text-anchor="middle">40</text>
<text x="1865.4" y="1826.6" text-anchor="middle">60</text>
<text x="1971.5" y="1826.6" text-anchor="middle">80</text>
<text x="1518.3" y="1790.9" text-anchor="end">0</text>
<text x="1518.3" y="1625.7" text-anchor="end">20</text>
<text x="1518.3" y="1460.5" text-anchor="end">40</text>
</g>
<text x="1767.5" y="1860.2" font-size="26.3" text-anchor="middle" fill="#000">Batch before correction (%)</text>
<text transform="translate(1481.8 1560.7) rotate(-90)" font-size="26.3" text-anchor="middle" fill="#000">Ancestry after correction (%)</text>
<circle cx="621.7" cy="80" r="11.2" fill="#F8766D"/>
<text x="653.2" y="87.1" font-size="19.7" fill="#000">Batch 1</text>
<circle cx="621.7" cy="119" r="11.2" fill="#E38900"/>
<text x="653.2" y="126.1" font-size="19.7" fill="#000">Batch 2</text>
<circle cx="621.7" cy="158.1" r="11.2" fill="#C49A00"/>
<text x="653.2" y="165.1" font-size="19.7" fill="#000">Batch 3</text>
<circle cx="621.7" cy="197.1" r="11.2" fill="#99A800"/>
<text x="653.2" y="204.2" font-size="19.7" fill="#000">Batch 4</text>
<circle cx="621.7" cy="236.2" r="11.2" fill="#53B400"/>
<text x="653.2" y="243.2" font-size="19.7" fill="#000">Batch 5</text>
<circle cx="621.7" cy="275.2" r="11.2" fill="#00BC56"/>
<text x="653.2" y="282.3" font-size="19.7" fill="#000">Batch 6</text>
<circle cx="621.7" cy="314.2" r="11.2" fill="#00C094"/>
<text x="653.2" y="321.3" font-size="19.7" fill="#000">Batch 7</text>
<circle cx="621.7" cy="353.3" r="11.2" fill="#00BFC4"/>
<text x="653.2" y="360.3" font-size="19.7" fill="#000">Batch 8</text>
<circle cx="621.7" cy="392.3" r="11.2" fill="#00B6EB"/>
<text x="653.2" y="399.4" font-size="19.7" fill="#000">Batch 9</text>
<circle cx="621.7" cy="431.4" r="11.2" fill="#06A4FF"/>
<text x="653.2" y="438.4" font-size="19.7" fill="#000">Batch 10</text>
<circle cx="621.7" cy="470.4" r="11.2" fill="#A58AFF"/>
<text x="653.2" y="477.5" font-size="19.7" fill="#000">Batch 11</text>
<circle cx="621.7" cy="509.4" r="11.2" fill="#DF70F8"/>
<text x="653.2" y="516.5" font-size="19.7" fill="#000">Batch 12</text>
<circle cx="621.7" cy="548.5" r="11.2" fill="#FB61D7"/>
<text x="653.2" y="555.5" font-size="19.7" fill="#000">Batch 13</text>
<circle cx="621.7" cy="587.5" r="11.2" fill="#FF66A8"/>
<text x="653.2" y="594.6" font-size="19.7" fill="#000">Batch 14</text>
<defs><linearGradient id="inf" x1="0" y1="1" x2="0" y2="0">
<stop offset="0%" stop-color="#000004"/>
<stop offset="5%" stop-color="#07051b"/>
<stop offset="10%" stop-color="#160b39"/>
<stop offset="15%" stop-color="#2b0b57"/>
<stop offset="20%" stop-color="#420a68"/>
<stop offset="25%" stop-color="#57106e"/>
<stop offset="30%" stop-color="#6a176e"/>
<stop offset="35%" stop-color="#7f1e6c"/>
<stop offset="40%" stop-color="#932667"/>
<stop offset="45%" stop-color="#a82e5f"/>
<stop offset="50%" stop-color="#bc3754"/>
<stop offset="55%" stop-color="#cc4248"/>
<stop offset="60%" stop-color="#dd513a"/>
<stop offset="65%" stop-color="#ea632a"/>
<stop offset="70%" stop-color="#f37819"/>
<stop offset="75%" stop-color="#f98e09"/>
<stop offset="80%" stop-color="#fca50a"/>
<stop offset="85%" stop-color="#fbbe23"/>
<stop offset="90%" stop-color="#f6d746"/>
<stop offset="95%" stop-color="#f1ef75"/>
<stop offset="100%" stop-color="#fcffa4"/>
</linearGradient></defs>
<rect x="1347.1" y="235.9" width="35.7" height="177.2" fill="url(#inf)"/>
<text x="1394.4" y="419.6" font-size="18.8" fill="#000">20</text>
<text x="1394.4" y="383.5" font-size="18.8" fill="#000">30</text>
<text x="1394.4" y="347.4" font-size="18.8" fill="#000">40</text>
<text x="1394.4" y="311.3" font-size="18.8" fill="#000">50</text>
<text x="1394.4" y="275.2" font-size="18.8" fill="#000">60</text>
<path d="M1347.1 412.9h7.2M1382.8 412.9h-7.2M1347.1 376.8h7.2M1382.8 376.8h-7.2M1347.1 340.7h7.2M1382.8 340.7h-7.2M1347.1 304.6h7.2M1382.8 304.6h-7.2M1347.1 268.5h7.2M1382.8 268.5h-7.2" stroke="#fff" stroke-opacity="0.85" stroke-width="1.3" fill="none"/>
<text x="1347.6" y="222.1" font-size="25.3" fill="#000">Age</text>
<circle cx="1812.8" cy="81.1" r="12.2" fill="#DC9BD6"/>
<text x="1830.3" y="86.8" font-size="15.6" fill="#000">Adenoviruses</text>
<circle cx="1812.8" cy="105.4" r="12.2" fill="#CE3A53"/>
<text x="1830.3" y="111.1" font-size="15.6" fill="#000">Herpesviruses</text>
<circle cx="1812.8" cy="129.8" r="12.2" fill="#EDC75B"/>
<text x="1830.3" y="135.5" font-size="15.6" fill="#000">Influenza viruses</text>
<circle cx="1812.8" cy="154.2" r="12.2" fill="#46A078"/>
<text x="1830.3" y="159.8" font-size="15.6" fill="#000">Picornaviruses</text>
<circle cx="1812.8" cy="178.5" r="12.2" fill="#9A3AA3"/>
<text x="1830.3" y="184.2" font-size="15.6" fill="#000">Respiratory syncytial virus</text>
<circle cx="1812.8" cy="202.8" r="12.2" fill="#BDBDBD"/>
<text x="1830.3" y="208.5" font-size="15.6" fill="#000">Others</text>
<circle cx="599.9" cy="930.7" r="15.2" fill="#96C686"/>
<text x="635.6" y="937.8" font-size="19.5" fill="#000">Women</text>
<circle cx="599.9" cy="972" r="15.2" fill="#808CE0"/>
<text x="635.6" y="977.9" font-size="19.5" fill="#000">Men</text>
<circle cx="1118.7" cy="712.8" r="12.2" fill="#DC9BD6"/>
<text x="1136.2" y="718.5" font-size="15.6" fill="#000">Adenoviruses</text>
<circle cx="1118.7" cy="737.3" r="12.2" fill="#CE3A53"/>
<text x="1136.2" y="743" font-size="15.6" fill="#000">Herpesviruses</text>
<circle cx="1118.7" cy="761.8" r="12.2" fill="#EDC75B"/>
<text x="1136.2" y="767.5" font-size="15.6" fill="#000">Influenza viruses</text>
<circle cx="1118.7" cy="786.2" r="12.2" fill="#46A078"/>
<text x="1136.2" y="791.9" font-size="15.6" fill="#000">Picornaviruses</text>
<circle cx="1118.7" cy="810.7" r="12.2" fill="#9A3AA3"/>
<text x="1136.2" y="816.4" font-size="15.6" fill="#000">Respiratory syncytial virus</text>
<circle cx="1118.7" cy="835.2" r="12.2" fill="#BDBDBD"/>
<text x="1136.2" y="840.9" font-size="15.6" fill="#000">Others</text>
<circle cx="2059.3" cy="856" r="11.1" fill="#E41A1C"/>
<text x="2090.4" y="863" font-size="19.3" fill="#000">Batch 1</text>
<circle cx="2059.3" cy="894.6" r="11.1" fill="#377EB8"/>
<text x="2090.4" y="901.6" font-size="19.3" fill="#000">Batch 2</text>
<circle cx="2059.3" cy="933.2" r="11.1" fill="#4DAF4A"/>
<text x="2090.4" y="940.2" font-size="19.3" fill="#000">Batch 3</text>
<circle cx="2059.3" cy="971.8" r="11.1" fill="#984EA3"/>
<text x="2090.4" y="978.8" font-size="19.3" fill="#000">Batch 4</text>
<circle cx="2059.3" cy="1010.4" r="11.1" fill="#FF7F00"/>
<text x="2090.4" y="1017.4" font-size="19.3" fill="#000">Batch 5</text>
<circle cx="601.7" cy="1546.5" r="16.2" fill="#E9AECA"/>
<text x="633.3" y="1553.9" font-size="19.5" fill="#000">African</text>
<circle cx="601.7" cy="1587.6" r="16.2" fill="#E08A22"/>
<text x="633.3" y="1592.9" font-size="19.5" fill="#000">European</text>
<circle cx="1096.8" cy="1658" r="12.2" fill="#DC9BD6"/>
<text x="1114.3" y="1663.7" font-size="15.6" fill="#000">Adenoviruses</text>
<circle cx="1096.8" cy="1682.5" r="12.2" fill="#CE3A53"/>
<text x="1114.3" y="1688.2" font-size="15.6" fill="#000">Herpesviruses</text>
<circle cx="1096.8" cy="1707" r="12.2" fill="#EDC75B"/>
<text x="1114.3" y="1712.7" font-size="15.6" fill="#000">Influenza viruses</text>
<circle cx="1096.8" cy="1731.4" r="12.2" fill="#46A078"/>
<text x="1114.3" y="1737.1" font-size="15.6" fill="#000">Picornaviruses</text>
<circle cx="1096.8" cy="1755.9" r="12.2" fill="#9A3AA3"/>
<text x="1114.3" y="1761.6" font-size="15.6" fill="#000">Respiratory syncytial virus</text>
<circle cx="1096.8" cy="1780.4" r="12.2" fill="#BDBDBD"/>
<text x="1114.3" y="1786.1" font-size="15.6" fill="#000">Others</text>
<circle cx="1792.7" cy="1657.1" r="12.2" fill="#DC9BD6"/>
<text x="1810.2" y="1662.8" font-size="15.6" fill="#000">Adenoviruses</text>
<circle cx="1792.7" cy="1681.5" r="12.2" fill="#CE3A53"/>
<text x="1810.2" y="1687.2" font-size="15.6" fill="#000">Herpesviruses</text>
<circle cx="1792.7" cy="1705.9" r="12.2" fill="#EDC75B"/>
<text x="1810.2" y="1711.6" font-size="15.6" fill="#000">Influenza viruses</text>
<circle cx="1792.7" cy="1730.4" r="12.2" fill="#46A078"/>
<text x="1810.2" y="1736.1" font-size="15.6" fill="#000">Picornaviruses</text>
<circle cx="1792.7" cy="1754.8" r="12.2" fill="#9A3AA3"/>
<text x="1810.2" y="1760.5" font-size="15.6" fill="#000">Respiratory syncytial virus</text>
<circle cx="1792.7" cy="1779.2" r="12.2" fill="#BDBDBD"/>
<text x="1810.2" y="1784.9" font-size="15.6" fill="#000">Others</text>
</svg></body></html>
